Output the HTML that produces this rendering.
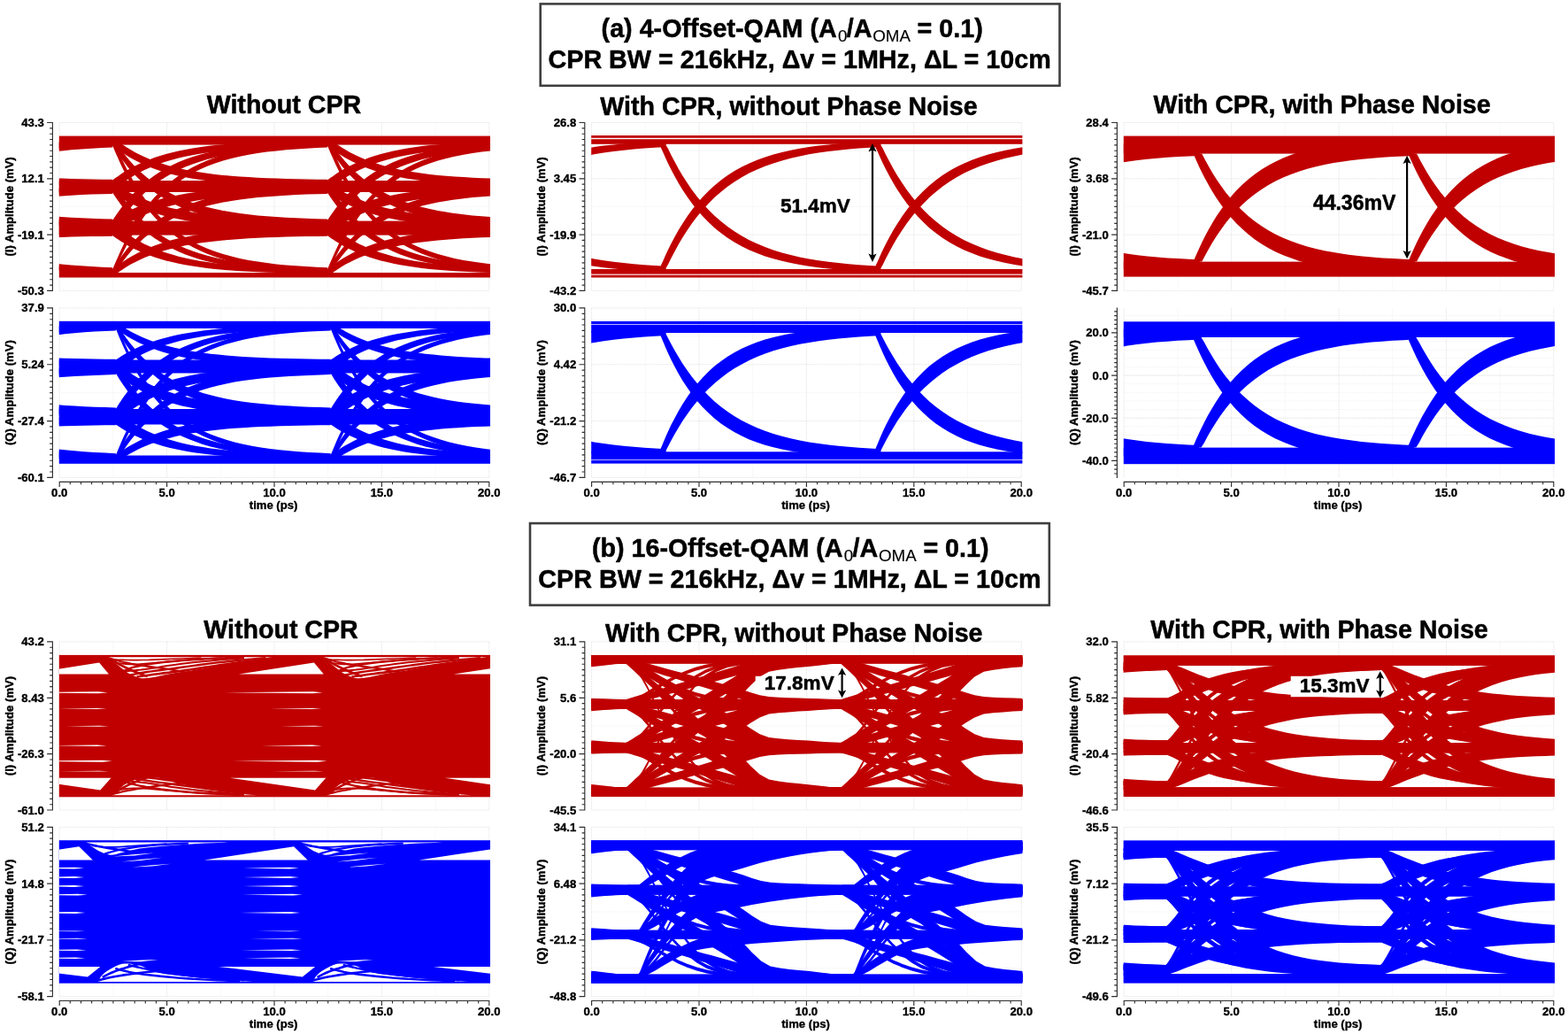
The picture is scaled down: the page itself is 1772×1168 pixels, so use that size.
<!DOCTYPE html>
<html><head><meta charset="utf-8"><title>Eye diagrams</title>
<style>html,body{margin:0;padding:0;background:#fff}svg{display:block}text{font-family:'Liberation Sans', Arial, Helvetica, sans-serif;font-weight:bold;fill:#000;stroke:#000;stroke-width:.36px;stroke-linejoin:round}.t{stroke-width:.5px}.s{stroke-width:.15px}.r{stroke-width:.45px}</style></head>
<body><svg width="1772" height="1168" viewBox="0 0 1772 1168"><rect width="1772" height="1168" fill="#fff"/><path d="M127.9 138.5V328.4M249.3 138.5V328.4M370.7 138.5V328.4M492.1 138.5V328.4M67.2 170.2H552.8M67.2 233.4H552.8M67.2 296.8H552.8" fill="none" stroke="#f0f0f0" stroke-width="1" stroke-dasharray="1 1"/><path d="M67.2 138.5V328.4M188.6 138.5V328.4M310 138.5V328.4M431.4 138.5V328.4M552.8 138.5V328.4M67.2 138.5H552.8M67.2 201.8H552.8M67.2 265.1H552.8M67.2 328.4H552.8" fill="none" stroke="#e0e0e0" stroke-width="1" stroke-dasharray="1 1"/><clipPath id="cp0aI"><rect x="66.8" y="134.5" width="487.2" height="197.9"/></clipPath><g clip-path="url(#cp0aI)" fill="#c00000"><rect x="42.9" y="153.6" width="534.2" height="10"/><rect x="42.9" y="204" width="534.2" height="13"/><rect x="42.9" y="249.6" width="534.2" height="16"/><rect x="42.9" y="308" width="534.2" height="5.5"/><path d="M-115.6 154.7L-115 155.2L-113.7 156.3L-111.7 157.8L-109.2 159.7L-106.3 161.9L-102.9 164.3L-99.1 166.8L-94.9 169.3L-90.3 171.9L-85.3 174.5L-80 177.1L-74.3 179.5L-68.3 181.9L-61.9 184.1L-55.2 186.2L-48.2 188.2L-40.9 190L-33.3 191.7L-25.3 193.2L-17.1 194.6L-8.6 195.8L0.2 196.9L9.3 197.9L18.7 198.7L28.3 199.5L38.3 200.1L48.5 200.7L58.9 201.2L69.6 201.6L80.6 201.9L91.9 202.2L103.4 202.5L115.2 202.7L127.2 202.8L127.2 211.1L115.2 211L103.4 210.8L91.9 210.5L80.6 210.2L69.6 209.9L58.9 209.5L48.5 209L38.3 208.5L28.3 207.8L18.7 207.1L9.3 206.3L0.2 205.3L-8.6 204.3L-17.1 203.1L-25.3 201.8L-33.3 200.3L-40.9 198.7L-48.2 196.9L-55.2 195L-61.9 192.9L-68.3 190.7L-74.3 188.4L-80 186L-85.3 183.5L-90.3 181L-94.9 178.5L-99.1 176L-102.9 173.6L-106.3 171.3L-109.2 169.1L-111.7 167.3L-113.7 165.8L-115 164.7L-115.6 164.2Z"/><path d="M127.2 154.7L127.8 155.2L129.1 156.3L131.1 157.8L133.6 159.7L136.5 161.9L139.9 164.3L143.7 166.8L147.9 169.3L152.5 171.9L157.5 174.5L162.8 177.1L168.5 179.5L174.5 181.9L180.9 184.1L187.6 186.2L194.6 188.2L201.9 190L209.5 191.7L217.5 193.2L225.7 194.6L234.2 195.8L243 196.9L252.1 197.9L261.5 198.7L271.1 199.5L281.1 200.1L291.3 200.7L301.7 201.2L312.4 201.6L323.4 201.9L334.7 202.2L346.2 202.5L358 202.7L370 202.8L370 211.1L358 211L346.2 210.8L334.7 210.5L323.4 210.2L312.4 209.9L301.7 209.5L291.3 209L281.1 208.5L271.1 207.8L261.5 207.1L252.1 206.3L243 205.3L234.2 204.3L225.7 203.1L217.5 201.8L209.5 200.3L201.9 198.7L194.6 196.9L187.6 195L180.9 192.9L174.5 190.7L168.5 188.4L162.8 186L157.5 183.5L152.5 181L147.9 178.5L143.7 176L139.9 173.6L136.5 171.3L133.6 169.1L131.1 167.3L129.1 165.8L127.8 164.7L127.2 164.2Z"/><path d="M370 154.7L370.6 155.2L371.9 156.3L373.9 157.8L376.4 159.7L379.3 161.9L382.7 164.3L386.5 166.8L390.7 169.3L395.3 171.9L400.3 174.5L405.6 177.1L411.3 179.5L417.3 181.9L423.7 184.1L430.4 186.2L437.4 188.2L444.7 190L452.3 191.7L460.3 193.2L468.5 194.6L477 195.8L485.8 196.9L494.9 197.9L504.3 198.7L513.9 199.5L523.9 200.1L534.1 200.7L544.5 201.2L555.2 201.6L566.2 201.9L577.5 202.2L589 202.5L600.8 202.7L612.8 202.8L612.8 211.1L600.8 211L589 210.8L577.5 210.5L566.2 210.2L555.2 209.9L544.5 209.5L534.1 209L523.9 208.5L513.9 207.8L504.3 207.1L494.9 206.3L485.8 205.3L477 204.3L468.5 203.1L460.3 201.8L452.3 200.3L444.7 198.7L437.4 196.9L430.4 195L423.7 192.9L417.3 190.7L411.3 188.4L405.6 186L400.3 183.5L395.3 181L390.7 178.5L386.5 176L382.7 173.6L379.3 171.3L376.4 169.1L373.9 167.3L371.9 165.8L370.6 164.7L370 164.2Z"/><path d="M-115.6 154.7L-115 155.6L-113.7 157.8L-111.7 160.8L-109.2 164.5L-106.3 168.6L-102.9 173.2L-99.1 178L-94.9 182.9L-90.3 187.9L-85.3 192.9L-80 197.8L-74.3 202.6L-68.3 207.1L-61.9 211.5L-55.2 215.5L-48.2 219.3L-40.9 222.8L-33.3 226L-25.3 229L-17.1 231.6L-8.6 234L0.2 236.1L9.3 237.9L18.7 239.6L28.3 241L38.3 242.3L48.5 243.4L58.9 244.3L69.6 245.1L80.6 245.7L91.9 246.3L103.4 246.8L115.2 247.2L127.2 247.5L127.2 257.7L115.2 257.4L103.4 257L91.9 256.5L80.6 255.9L69.6 255.2L58.9 254.4L48.5 253.5L38.3 252.4L28.3 251.2L18.7 249.7L9.3 248.1L0.2 246.2L-8.6 244.1L-17.1 241.7L-25.3 239L-33.3 236.1L-40.9 232.9L-48.2 229.3L-55.2 225.5L-61.9 221.4L-68.3 217.1L-74.3 212.5L-80 207.7L-85.3 202.7L-90.3 197.7L-94.9 192.7L-99.1 187.7L-102.9 182.8L-106.3 178.3L-109.2 174.1L-111.7 170.4L-113.7 167.4L-115 165.2L-115.6 164.2Z"/><path d="M127.2 154.7L127.8 155.6L129.1 157.8L131.1 160.8L133.6 164.5L136.5 168.6L139.9 173.2L143.7 178L147.9 182.9L152.5 187.9L157.5 192.9L162.8 197.8L168.5 202.6L174.5 207.1L180.9 211.5L187.6 215.5L194.6 219.3L201.9 222.8L209.5 226L217.5 229L225.7 231.6L234.2 234L243 236.1L252.1 237.9L261.5 239.6L271.1 241L281.1 242.3L291.3 243.4L301.7 244.3L312.4 245.1L323.4 245.7L334.7 246.3L346.2 246.8L358 247.2L370 247.5L370 257.7L358 257.4L346.2 257L334.7 256.5L323.4 255.9L312.4 255.2L301.7 254.4L291.3 253.5L281.1 252.4L271.1 251.2L261.5 249.7L252.1 248.1L243 246.2L234.2 244.1L225.7 241.7L217.5 239L209.5 236.1L201.9 232.9L194.6 229.3L187.6 225.5L180.9 221.4L174.5 217.1L168.5 212.5L162.8 207.7L157.5 202.7L152.5 197.7L147.9 192.7L143.7 187.7L139.9 182.8L136.5 178.3L133.6 174.1L131.1 170.4L129.1 167.4L127.8 165.2L127.2 164.2Z"/><path d="M370 154.7L370.6 155.6L371.9 157.8L373.9 160.8L376.4 164.5L379.3 168.6L382.7 173.2L386.5 178L390.7 182.9L395.3 187.9L400.3 192.9L405.6 197.8L411.3 202.6L417.3 207.1L423.7 211.5L430.4 215.5L437.4 219.3L444.7 222.8L452.3 226L460.3 229L468.5 231.6L477 234L485.8 236.1L494.9 237.9L504.3 239.6L513.9 241L523.9 242.3L534.1 243.4L544.5 244.3L555.2 245.1L566.2 245.7L577.5 246.3L589 246.8L600.8 247.2L612.8 247.5L612.8 257.7L600.8 257.4L589 257L577.5 256.5L566.2 255.9L555.2 255.2L544.5 254.4L534.1 253.5L523.9 252.4L513.9 251.2L504.3 249.7L494.9 248.1L485.8 246.2L477 244.1L468.5 241.7L460.3 239L452.3 236.1L444.7 232.9L437.4 229.3L430.4 225.5L423.7 221.4L417.3 217.1L411.3 212.5L405.6 207.7L400.3 202.7L395.3 197.7L390.7 192.7L386.5 187.7L382.7 182.8L379.3 178.3L376.4 174.1L373.9 170.4L371.9 167.4L370.6 165.2L370 164.2Z"/><path d="M-115.6 154.7L-115 156.2L-113.7 159.6L-111.7 164.4L-109.2 170.2L-106.3 176.8L-102.9 184.1L-99.1 191.7L-94.9 199.6L-90.3 207.5L-85.3 215.5L-80 223.3L-74.3 230.8L-68.3 238.1L-61.9 245L-55.2 251.4L-48.2 257.4L-40.9 263L-33.3 268.1L-25.3 272.8L-17.1 276.9L-8.6 280.7L0.2 284.1L9.3 287L18.7 289.6L28.3 291.9L38.3 293.9L48.5 295.6L58.9 297.1L69.6 298.4L80.6 299.4L91.9 300.3L103.4 301.1L115.2 301.7L127.2 302.3L127.2 307.7L115.2 307.2L103.4 306.5L91.9 305.8L80.6 304.9L69.6 303.9L58.9 302.6L48.5 301.2L38.3 299.5L28.3 297.6L18.7 295.4L9.3 292.9L0.2 290L-8.6 286.7L-17.1 283.1L-25.3 279L-33.3 274.5L-40.9 269.5L-48.2 264.1L-55.2 258.3L-61.9 252L-68.3 245.3L-74.3 238.2L-80 230.9L-85.3 223.3L-90.3 215.6L-94.9 207.9L-99.1 200.2L-102.9 192.8L-106.3 185.8L-109.2 179.3L-111.7 173.7L-113.7 169L-115 165.7L-115.6 164.2Z"/><path d="M127.2 154.7L127.8 156.2L129.1 159.6L131.1 164.4L133.6 170.2L136.5 176.8L139.9 184.1L143.7 191.7L147.9 199.6L152.5 207.5L157.5 215.5L162.8 223.3L168.5 230.8L174.5 238.1L180.9 245L187.6 251.4L194.6 257.4L201.9 263L209.5 268.1L217.5 272.8L225.7 276.9L234.2 280.7L243 284.1L252.1 287L261.5 289.6L271.1 291.9L281.1 293.9L291.3 295.6L301.7 297.1L312.4 298.4L323.4 299.4L334.7 300.3L346.2 301.1L358 301.7L370 302.3L370 307.7L358 307.2L346.2 306.5L334.7 305.8L323.4 304.9L312.4 303.9L301.7 302.6L291.3 301.2L281.1 299.5L271.1 297.6L261.5 295.4L252.1 292.9L243 290L234.2 286.7L225.7 283.1L217.5 279L209.5 274.5L201.9 269.5L194.6 264.1L187.6 258.3L180.9 252L174.5 245.3L168.5 238.2L162.8 230.9L157.5 223.3L152.5 215.6L147.9 207.9L143.7 200.2L139.9 192.8L136.5 185.8L133.6 179.3L131.1 173.7L129.1 169L127.8 165.7L127.2 164.2Z"/><path d="M370 154.7L370.6 156.2L371.9 159.6L373.9 164.4L376.4 170.2L379.3 176.8L382.7 184.1L386.5 191.7L390.7 199.6L395.3 207.5L400.3 215.5L405.6 223.3L411.3 230.8L417.3 238.1L423.7 245L430.4 251.4L437.4 257.4L444.7 263L452.3 268.1L460.3 272.8L468.5 276.9L477 280.7L485.8 284.1L494.9 287L504.3 289.6L513.9 291.9L523.9 293.9L534.1 295.6L544.5 297.1L555.2 298.4L566.2 299.4L577.5 300.3L589 301.1L600.8 301.7L612.8 302.3L612.8 307.7L600.8 307.2L589 306.5L577.5 305.8L566.2 304.9L555.2 303.9L544.5 302.6L534.1 301.2L523.9 299.5L513.9 297.6L504.3 295.4L494.9 292.9L485.8 290L477 286.7L468.5 283.1L460.3 279L452.3 274.5L444.7 269.5L437.4 264.1L430.4 258.3L423.7 252L417.3 245.3L411.3 238.2L405.6 230.9L400.3 223.3L395.3 215.6L390.7 207.9L386.5 200.2L382.7 192.8L379.3 185.8L376.4 179.3L373.9 173.7L371.9 169L370.6 165.7L370 164.2Z"/><path d="M-115.6 203.6L-115 203.1L-113.7 202.1L-111.7 200.6L-109.2 198.9L-106.3 196.8L-102.9 194.6L-99.1 192.3L-94.9 189.9L-90.3 187.5L-85.3 185L-80 182.7L-74.3 180.4L-68.3 178.1L-61.9 176L-55.2 174.1L-48.2 172.2L-40.9 170.5L-33.3 169L-25.3 167.6L-17.1 166.3L-8.6 165.1L0.2 164.1L9.3 163.2L18.7 162.4L28.3 161.7L38.3 161.1L48.5 160.6L58.9 160.1L69.6 159.7L80.6 159.4L91.9 159.1L103.4 158.9L115.2 158.7L127.2 158.5L127.2 165L115.2 165.2L103.4 165.4L91.9 165.7L80.6 166L69.6 166.4L58.9 166.8L48.5 167.3L38.3 167.9L28.3 168.6L18.7 169.4L9.3 170.3L0.2 171.3L-8.6 172.5L-17.1 173.8L-25.3 175.2L-33.3 176.8L-40.9 178.6L-48.2 180.5L-55.2 182.6L-61.9 184.8L-68.3 187.2L-74.3 189.7L-80 192.3L-85.3 195L-90.3 197.7L-94.9 200.5L-99.1 203.2L-102.9 205.9L-106.3 208.4L-109.2 210.6L-111.7 212.7L-113.7 214.3L-115 215.5L-115.6 216Z"/><path d="M127.2 203.6L127.8 203.1L129.1 202.1L131.1 200.6L133.6 198.9L136.5 196.8L139.9 194.6L143.7 192.3L147.9 189.9L152.5 187.5L157.5 185L162.8 182.7L168.5 180.4L174.5 178.1L180.9 176L187.6 174.1L194.6 172.2L201.9 170.5L209.5 169L217.5 167.6L225.7 166.3L234.2 165.1L243 164.1L252.1 163.2L261.5 162.4L271.1 161.7L281.1 161.1L291.3 160.6L301.7 160.1L312.4 159.7L323.4 159.4L334.7 159.1L346.2 158.9L358 158.7L370 158.5L370 165L358 165.2L346.2 165.4L334.7 165.7L323.4 166L312.4 166.4L301.7 166.8L291.3 167.3L281.1 167.9L271.1 168.6L261.5 169.4L252.1 170.3L243 171.3L234.2 172.5L225.7 173.8L217.5 175.2L209.5 176.8L201.9 178.6L194.6 180.5L187.6 182.6L180.9 184.8L174.5 187.2L168.5 189.7L162.8 192.3L157.5 195L152.5 197.7L147.9 200.5L143.7 203.2L139.9 205.9L136.5 208.4L133.6 210.6L131.1 212.7L129.1 214.3L127.8 215.5L127.2 216Z"/><path d="M370 203.6L370.6 203.1L371.9 202.1L373.9 200.6L376.4 198.9L379.3 196.8L382.7 194.6L386.5 192.3L390.7 189.9L395.3 187.5L400.3 185L405.6 182.7L411.3 180.4L417.3 178.1L423.7 176L430.4 174.1L437.4 172.2L444.7 170.5L452.3 169L460.3 167.6L468.5 166.3L477 165.1L485.8 164.1L494.9 163.2L504.3 162.4L513.9 161.7L523.9 161.1L534.1 160.6L544.5 160.1L555.2 159.7L566.2 159.4L577.5 159.1L589 158.9L600.8 158.7L612.8 158.5L612.8 165L600.8 165.2L589 165.4L577.5 165.7L566.2 166L555.2 166.4L544.5 166.8L534.1 167.3L523.9 167.9L513.9 168.6L504.3 169.4L494.9 170.3L485.8 171.3L477 172.5L468.5 173.8L460.3 175.2L452.3 176.8L444.7 178.6L437.4 180.5L430.4 182.6L423.7 184.8L417.3 187.2L411.3 189.7L405.6 192.3L400.3 195L395.3 197.7L390.7 200.5L386.5 203.2L382.7 205.9L379.3 208.4L376.4 210.6L373.9 212.7L371.9 214.3L370.6 215.5L370 216Z"/><path d="M-115.6 205L-115 205.4L-113.7 206.4L-111.7 207.8L-109.2 209.5L-106.3 211.5L-102.9 213.6L-99.1 215.9L-94.9 218.2L-90.3 220.5L-85.3 222.8L-80 225.1L-74.3 227.3L-68.3 229.5L-61.9 231.5L-55.2 233.4L-48.2 235.2L-40.9 236.8L-33.3 238.3L-25.3 239.7L-17.1 240.9L-8.6 242L0.2 243L9.3 243.8L18.7 244.6L28.3 245.3L38.3 245.9L48.5 246.4L58.9 246.8L69.6 247.2L80.6 247.5L91.9 247.7L103.4 248L115.2 248.2L127.2 248.3L127.2 258.6L115.2 258.4L103.4 258.2L91.9 258L80.6 257.8L69.6 257.5L58.9 257.1L48.5 256.7L38.3 256.2L28.3 255.7L18.7 255L9.3 254.3L0.2 253.5L-8.6 252.5L-17.1 251.5L-25.3 250.3L-33.3 249L-40.9 247.6L-48.2 246.1L-55.2 244.4L-61.9 242.6L-68.3 240.7L-74.3 238.6L-80 236.5L-85.3 234.4L-90.3 232.1L-94.9 229.9L-99.1 227.7L-102.9 225.6L-106.3 223.6L-109.2 221.7L-111.7 220.1L-113.7 218.8L-115 217.8L-115.6 217.4Z"/><path d="M127.2 205L127.8 205.4L129.1 206.4L131.1 207.8L133.6 209.5L136.5 211.5L139.9 213.6L143.7 215.9L147.9 218.2L152.5 220.5L157.5 222.8L162.8 225.1L168.5 227.3L174.5 229.5L180.9 231.5L187.6 233.4L194.6 235.2L201.9 236.8L209.5 238.3L217.5 239.7L225.7 240.9L234.2 242L243 243L252.1 243.8L261.5 244.6L271.1 245.3L281.1 245.9L291.3 246.4L301.7 246.8L312.4 247.2L323.4 247.5L334.7 247.7L346.2 248L358 248.2L370 248.3L370 258.6L358 258.4L346.2 258.2L334.7 258L323.4 257.8L312.4 257.5L301.7 257.1L291.3 256.7L281.1 256.2L271.1 255.7L261.5 255L252.1 254.3L243 253.5L234.2 252.5L225.7 251.5L217.5 250.3L209.5 249L201.9 247.6L194.6 246.1L187.6 244.4L180.9 242.6L174.5 240.7L168.5 238.6L162.8 236.5L157.5 234.4L152.5 232.1L147.9 229.9L143.7 227.7L139.9 225.6L136.5 223.6L133.6 221.7L131.1 220.1L129.1 218.8L127.8 217.8L127.2 217.4Z"/><path d="M370 205L370.6 205.4L371.9 206.4L373.9 207.8L376.4 209.5L379.3 211.5L382.7 213.6L386.5 215.9L390.7 218.2L395.3 220.5L400.3 222.8L405.6 225.1L411.3 227.3L417.3 229.5L423.7 231.5L430.4 233.4L437.4 235.2L444.7 236.8L452.3 238.3L460.3 239.7L468.5 240.9L477 242L485.8 243L494.9 243.8L504.3 244.6L513.9 245.3L523.9 245.9L534.1 246.4L544.5 246.8L555.2 247.2L566.2 247.5L577.5 247.7L589 248L600.8 248.2L612.8 248.3L612.8 258.6L600.8 258.4L589 258.2L577.5 258L566.2 257.8L555.2 257.5L544.5 257.1L534.1 256.7L523.9 256.2L513.9 255.7L504.3 255L494.9 254.3L485.8 253.5L477 252.5L468.5 251.5L460.3 250.3L452.3 249L444.7 247.6L437.4 246.1L430.4 244.4L423.7 242.6L417.3 240.7L411.3 238.6L405.6 236.5L400.3 234.4L395.3 232.1L390.7 229.9L386.5 227.7L382.7 225.6L379.3 223.6L376.4 221.7L373.9 220.1L371.9 218.8L370.6 217.8L370 217.4Z"/><path d="M-115.6 205L-115 206L-113.7 208.3L-111.7 211.5L-109.2 215.3L-106.3 219.7L-102.9 224.5L-99.1 229.6L-94.9 234.8L-90.3 240.1L-85.3 245.4L-80 250.6L-74.3 255.6L-68.3 260.4L-61.9 265L-55.2 269.3L-48.2 273.3L-40.9 277L-33.3 280.4L-25.3 283.4L-17.1 286.2L-8.6 288.7L0.2 291L9.3 292.9L18.7 294.7L28.3 296.2L38.3 297.5L48.5 298.6L58.9 299.6L69.6 300.5L80.6 301.2L91.9 301.8L103.4 302.3L115.2 302.7L127.2 303.1L127.2 308.5L115.2 308.2L103.4 307.8L91.9 307.3L80.6 306.8L69.6 306.1L58.9 305.3L48.5 304.4L38.3 303.3L28.3 302.1L18.7 300.7L9.3 299.1L0.2 297.3L-8.6 295.2L-17.1 292.9L-25.3 290.3L-33.3 287.4L-40.9 284.3L-48.2 280.8L-55.2 277.1L-61.9 273.1L-68.3 268.9L-74.3 264.4L-80 259.8L-85.3 254.9L-90.3 250L-94.9 245.1L-99.1 240.3L-102.9 235.6L-106.3 231.1L-109.2 227L-111.7 223.4L-113.7 220.5L-115 218.4L-115.6 217.4Z"/><path d="M127.2 205L127.8 206L129.1 208.3L131.1 211.5L133.6 215.3L136.5 219.7L139.9 224.5L143.7 229.6L147.9 234.8L152.5 240.1L157.5 245.4L162.8 250.6L168.5 255.6L174.5 260.4L180.9 265L187.6 269.3L194.6 273.3L201.9 277L209.5 280.4L217.5 283.4L225.7 286.2L234.2 288.7L243 291L252.1 292.9L261.5 294.7L271.1 296.2L281.1 297.5L291.3 298.6L301.7 299.6L312.4 300.5L323.4 301.2L334.7 301.8L346.2 302.3L358 302.7L370 303.1L370 308.5L358 308.2L346.2 307.8L334.7 307.3L323.4 306.8L312.4 306.1L301.7 305.3L291.3 304.4L281.1 303.3L271.1 302.1L261.5 300.7L252.1 299.1L243 297.3L234.2 295.2L225.7 292.9L217.5 290.3L209.5 287.4L201.9 284.3L194.6 280.8L187.6 277.1L180.9 273.1L174.5 268.9L168.5 264.4L162.8 259.8L157.5 254.9L152.5 250L147.9 245.1L143.7 240.3L139.9 235.6L136.5 231.1L133.6 227L131.1 223.4L129.1 220.5L127.8 218.4L127.2 217.4Z"/><path d="M370 205L370.6 206L371.9 208.3L373.9 211.5L376.4 215.3L379.3 219.7L382.7 224.5L386.5 229.6L390.7 234.8L395.3 240.1L400.3 245.4L405.6 250.6L411.3 255.6L417.3 260.4L423.7 265L430.4 269.3L437.4 273.3L444.7 277L452.3 280.4L460.3 283.4L468.5 286.2L477 288.7L485.8 291L494.9 292.9L504.3 294.7L513.9 296.2L523.9 297.5L534.1 298.6L544.5 299.6L555.2 300.5L566.2 301.2L577.5 301.8L589 302.3L600.8 302.7L612.8 303.1L612.8 308.5L600.8 308.2L589 307.8L577.5 307.3L566.2 306.8L555.2 306.1L544.5 305.3L534.1 304.4L523.9 303.3L513.9 302.1L504.3 300.7L494.9 299.1L485.8 297.3L477 295.2L468.5 292.9L460.3 290.3L452.3 287.4L444.7 284.3L437.4 280.8L430.4 277.1L423.7 273.1L417.3 268.9L411.3 264.4L405.6 259.8L400.3 254.9L395.3 250L390.7 245.1L386.5 240.3L382.7 235.6L379.3 231.1L376.4 227L373.9 223.4L371.9 220.5L370.6 218.4L370 217.4Z"/><path d="M-115.6 249L-115 248.1L-113.7 246L-111.7 243.1L-109.2 239.5L-106.3 235.5L-102.9 231.1L-99.1 226.5L-94.9 221.7L-90.3 216.8L-85.3 212L-80 207.3L-74.3 202.7L-68.3 198.3L-61.9 194.1L-55.2 190.2L-48.2 186.5L-40.9 183.1L-33.3 180L-25.3 177.2L-17.1 174.7L-8.6 172.4L0.2 170.3L9.3 168.5L18.7 166.9L28.3 165.5L38.3 164.3L48.5 163.3L58.9 162.4L69.6 161.6L80.6 161L91.9 160.4L103.4 160L115.2 159.6L127.2 159.3L127.2 165.8L115.2 166.1L103.4 166.5L91.9 167L80.6 167.6L69.6 168.4L58.9 169.2L48.5 170.2L38.3 171.3L28.3 172.7L18.7 174.2L9.3 175.9L0.2 177.9L-8.6 180.1L-17.1 182.7L-25.3 185.5L-33.3 188.6L-40.9 192L-48.2 195.7L-55.2 199.7L-61.9 204L-68.3 208.6L-74.3 213.4L-80 218.5L-85.3 223.7L-90.3 229L-94.9 234.3L-99.1 239.6L-102.9 244.7L-106.3 249.5L-109.2 253.9L-111.7 257.8L-113.7 261L-115 263.3L-115.6 264.3Z"/><path d="M127.2 249L127.8 248.1L129.1 246L131.1 243.1L133.6 239.5L136.5 235.5L139.9 231.1L143.7 226.5L147.9 221.7L152.5 216.8L157.5 212L162.8 207.3L168.5 202.7L174.5 198.3L180.9 194.1L187.6 190.2L194.6 186.5L201.9 183.1L209.5 180L217.5 177.2L225.7 174.7L234.2 172.4L243 170.3L252.1 168.5L261.5 166.9L271.1 165.5L281.1 164.3L291.3 163.3L301.7 162.4L312.4 161.6L323.4 161L334.7 160.4L346.2 160L358 159.6L370 159.3L370 165.8L358 166.1L346.2 166.5L334.7 167L323.4 167.6L312.4 168.4L301.7 169.2L291.3 170.2L281.1 171.3L271.1 172.7L261.5 174.2L252.1 175.9L243 177.9L234.2 180.1L225.7 182.7L217.5 185.5L209.5 188.6L201.9 192L194.6 195.7L187.6 199.7L180.9 204L174.5 208.6L168.5 213.4L162.8 218.5L157.5 223.7L152.5 229L147.9 234.3L143.7 239.6L139.9 244.7L136.5 249.5L133.6 253.9L131.1 257.8L129.1 261L127.8 263.3L127.2 264.3Z"/><path d="M370 249L370.6 248.1L371.9 246L373.9 243.1L376.4 239.5L379.3 235.5L382.7 231.1L386.5 226.5L390.7 221.7L395.3 216.8L400.3 212L405.6 207.3L411.3 202.7L417.3 198.3L423.7 194.1L430.4 190.2L437.4 186.5L444.7 183.1L452.3 180L460.3 177.2L468.5 174.7L477 172.4L485.8 170.3L494.9 168.5L504.3 166.9L513.9 165.5L523.9 164.3L534.1 163.3L544.5 162.4L555.2 161.6L566.2 161L577.5 160.4L589 160L600.8 159.6L612.8 159.3L612.8 165.8L600.8 166.1L589 166.5L577.5 167L566.2 167.6L555.2 168.4L544.5 169.2L534.1 170.2L523.9 171.3L513.9 172.7L504.3 174.2L494.9 175.9L485.8 177.9L477 180.1L468.5 182.7L460.3 185.5L452.3 188.6L444.7 192L437.4 195.7L430.4 199.7L423.7 204L417.3 208.6L411.3 213.4L405.6 218.5L400.3 223.7L395.3 229L390.7 234.3L386.5 239.6L382.7 244.7L379.3 249.5L376.4 253.9L373.9 257.8L371.9 261L370.6 263.3L370 264.3Z"/><path d="M-115.6 249L-115 248.6L-113.7 247.7L-111.7 246.4L-109.2 244.9L-106.3 243.1L-102.9 241.2L-99.1 239.1L-94.9 237.1L-90.3 234.9L-85.3 232.8L-80 230.7L-74.3 228.7L-68.3 226.8L-61.9 225L-55.2 223.3L-48.2 221.7L-40.9 220.2L-33.3 218.8L-25.3 217.6L-17.1 216.5L-8.6 215.5L0.2 214.6L9.3 213.8L18.7 213.1L28.3 212.5L38.3 212L48.5 211.5L58.9 211.1L69.6 210.8L80.6 210.5L91.9 210.3L103.4 210L115.2 209.9L127.2 209.7L127.2 218.1L115.2 218.3L103.4 218.5L91.9 218.7L80.6 219L69.6 219.4L58.9 219.7L48.5 220.2L38.3 220.7L28.3 221.4L18.7 222.1L9.3 222.9L0.2 223.8L-8.6 224.9L-17.1 226L-25.3 227.4L-33.3 228.8L-40.9 230.4L-48.2 232.1L-55.2 234L-61.9 236.1L-68.3 238.2L-74.3 240.5L-80 242.8L-85.3 245.3L-90.3 247.8L-94.9 250.3L-99.1 252.7L-102.9 255.1L-106.3 257.4L-109.2 259.4L-111.7 261.3L-113.7 262.7L-115 263.8L-115.6 264.3Z"/><path d="M127.2 249L127.8 248.6L129.1 247.7L131.1 246.4L133.6 244.9L136.5 243.1L139.9 241.2L143.7 239.1L147.9 237.1L152.5 234.9L157.5 232.8L162.8 230.7L168.5 228.7L174.5 226.8L180.9 225L187.6 223.3L194.6 221.7L201.9 220.2L209.5 218.8L217.5 217.6L225.7 216.5L234.2 215.5L243 214.6L252.1 213.8L261.5 213.1L271.1 212.5L281.1 212L291.3 211.5L301.7 211.1L312.4 210.8L323.4 210.5L334.7 210.3L346.2 210L358 209.9L370 209.7L370 218.1L358 218.3L346.2 218.5L334.7 218.7L323.4 219L312.4 219.4L301.7 219.7L291.3 220.2L281.1 220.7L271.1 221.4L261.5 222.1L252.1 222.9L243 223.8L234.2 224.9L225.7 226L217.5 227.4L209.5 228.8L201.9 230.4L194.6 232.1L187.6 234L180.9 236.1L174.5 238.2L168.5 240.5L162.8 242.8L157.5 245.3L152.5 247.8L147.9 250.3L143.7 252.7L139.9 255.1L136.5 257.4L133.6 259.4L131.1 261.3L129.1 262.7L127.8 263.8L127.2 264.3Z"/><path d="M370 249L370.6 248.6L371.9 247.7L373.9 246.4L376.4 244.9L379.3 243.1L382.7 241.2L386.5 239.1L390.7 237.1L395.3 234.9L400.3 232.8L405.6 230.7L411.3 228.7L417.3 226.8L423.7 225L430.4 223.3L437.4 221.7L444.7 220.2L452.3 218.8L460.3 217.6L468.5 216.5L477 215.5L485.8 214.6L494.9 213.8L504.3 213.1L513.9 212.5L523.9 212L534.1 211.5L544.5 211.1L555.2 210.8L566.2 210.5L577.5 210.3L589 210L600.8 209.9L612.8 209.7L612.8 218.1L600.8 218.3L589 218.5L577.5 218.7L566.2 219L555.2 219.4L544.5 219.7L534.1 220.2L523.9 220.7L513.9 221.4L504.3 222.1L494.9 222.9L485.8 223.8L477 224.9L468.5 226L460.3 227.4L452.3 228.8L444.7 230.4L437.4 232.1L430.4 234L423.7 236.1L417.3 238.2L411.3 240.5L405.6 242.8L400.3 245.3L395.3 247.8L390.7 250.3L386.5 252.7L382.7 255.1L379.3 257.4L376.4 259.4L373.9 261.3L371.9 262.7L370.6 263.8L370 264.3Z"/><path d="M-115.6 250.7L-115 251.3L-113.7 252.5L-111.7 254.2L-109.2 256.3L-106.3 258.7L-102.9 261.3L-99.1 264L-94.9 266.8L-90.3 269.7L-85.3 272.6L-80 275.4L-74.3 278.1L-68.3 280.7L-61.9 283.2L-55.2 285.5L-48.2 287.6L-40.9 289.7L-33.3 291.5L-25.3 293.2L-17.1 294.7L-8.6 296L0.2 297.2L9.3 298.3L18.7 299.2L28.3 300L38.3 300.8L48.5 301.4L58.9 301.9L69.6 302.4L80.6 302.7L91.9 303.1L103.4 303.3L115.2 303.6L127.2 303.8L127.2 309.3L115.2 309.1L103.4 308.9L91.9 308.7L80.6 308.4L69.6 308.1L58.9 307.7L48.5 307.3L38.3 306.8L28.3 306.2L18.7 305.6L9.3 304.8L0.2 303.9L-8.6 302.9L-17.1 301.8L-25.3 300.6L-33.3 299.2L-40.9 297.8L-48.2 296.1L-55.2 294.4L-61.9 292.5L-68.3 290.4L-74.3 288.3L-80 286.1L-85.3 283.8L-90.3 281.5L-94.9 279.2L-99.1 276.9L-102.9 274.6L-106.3 272.5L-109.2 270.6L-111.7 268.9L-113.7 267.5L-115 266.5L-115.6 266Z"/><path d="M127.2 250.7L127.8 251.3L129.1 252.5L131.1 254.2L133.6 256.3L136.5 258.7L139.9 261.3L143.7 264L147.9 266.8L152.5 269.7L157.5 272.6L162.8 275.4L168.5 278.1L174.5 280.7L180.9 283.2L187.6 285.5L194.6 287.6L201.9 289.7L209.5 291.5L217.5 293.2L225.7 294.7L234.2 296L243 297.2L252.1 298.3L261.5 299.2L271.1 300L281.1 300.8L291.3 301.4L301.7 301.9L312.4 302.4L323.4 302.7L334.7 303.1L346.2 303.3L358 303.6L370 303.8L370 309.3L358 309.1L346.2 308.9L334.7 308.7L323.4 308.4L312.4 308.1L301.7 307.7L291.3 307.3L281.1 306.8L271.1 306.2L261.5 305.6L252.1 304.8L243 303.9L234.2 302.9L225.7 301.8L217.5 300.6L209.5 299.2L201.9 297.8L194.6 296.1L187.6 294.4L180.9 292.5L174.5 290.4L168.5 288.3L162.8 286.1L157.5 283.8L152.5 281.5L147.9 279.2L143.7 276.9L139.9 274.6L136.5 272.5L133.6 270.6L131.1 268.9L129.1 267.5L127.8 266.5L127.2 266Z"/><path d="M370 250.7L370.6 251.3L371.9 252.5L373.9 254.2L376.4 256.3L379.3 258.7L382.7 261.3L386.5 264L390.7 266.8L395.3 269.7L400.3 272.6L405.6 275.4L411.3 278.1L417.3 280.7L423.7 283.2L430.4 285.5L437.4 287.6L444.7 289.7L452.3 291.5L460.3 293.2L468.5 294.7L477 296L485.8 297.2L494.9 298.3L504.3 299.2L513.9 300L523.9 300.8L534.1 301.4L544.5 301.9L555.2 302.4L566.2 302.7L577.5 303.1L589 303.3L600.8 303.6L612.8 303.8L612.8 309.3L600.8 309.1L589 308.9L577.5 308.7L566.2 308.4L555.2 308.1L544.5 307.7L534.1 307.3L523.9 306.8L513.9 306.2L504.3 305.6L494.9 304.8L485.8 303.9L477 302.9L468.5 301.8L460.3 300.6L452.3 299.2L444.7 297.8L437.4 296.1L430.4 294.4L423.7 292.5L417.3 290.4L411.3 288.3L405.6 286.1L400.3 283.8L395.3 281.5L390.7 279.2L386.5 276.9L382.7 274.6L379.3 272.5L376.4 270.6L373.9 268.9L371.9 267.5L370.6 266.5L370 266Z"/><path d="M-115.6 304.6L-115 303.1L-113.7 299.7L-111.7 295.1L-109.2 289.4L-106.3 282.9L-102.9 275.8L-99.1 268.3L-94.9 260.6L-90.3 252.8L-85.3 245.1L-80 237.4L-74.3 230L-68.3 222.9L-61.9 216.2L-55.2 209.9L-48.2 204L-40.9 198.5L-33.3 193.6L-25.3 189L-17.1 184.9L-8.6 181.2L0.2 177.9L9.3 175L18.7 172.5L28.3 170.2L38.3 168.3L48.5 166.6L58.9 165.2L69.6 163.9L80.6 162.9L91.9 162L103.4 161.3L115.2 160.6L127.2 160.1L127.2 166.5L115.2 167L103.4 167.7L91.9 168.4L80.6 169.3L69.6 170.4L58.9 171.6L48.5 173.1L38.3 174.8L28.3 176.7L18.7 179L9.3 181.6L0.2 184.5L-8.6 187.8L-17.1 191.6L-25.3 195.7L-33.3 200.3L-40.9 205.4L-48.2 210.9L-55.2 216.8L-61.9 223.2L-68.3 230L-74.3 237.2L-80 244.7L-85.3 252.4L-90.3 260.3L-94.9 268.2L-99.1 275.9L-102.9 283.5L-106.3 290.6L-109.2 297.2L-111.7 303L-113.7 307.7L-115 311.1L-115.6 312.6Z"/><path d="M127.2 304.6L127.8 303.1L129.1 299.7L131.1 295.1L133.6 289.4L136.5 282.9L139.9 275.8L143.7 268.3L147.9 260.6L152.5 252.8L157.5 245.1L162.8 237.4L168.5 230L174.5 222.9L180.9 216.2L187.6 209.9L194.6 204L201.9 198.5L209.5 193.6L217.5 189L225.7 184.9L234.2 181.2L243 177.9L252.1 175L261.5 172.5L271.1 170.2L281.1 168.3L291.3 166.6L301.7 165.2L312.4 163.9L323.4 162.9L334.7 162L346.2 161.3L358 160.6L370 160.1L370 166.5L358 167L346.2 167.7L334.7 168.4L323.4 169.3L312.4 170.4L301.7 171.6L291.3 173.1L281.1 174.8L271.1 176.7L261.5 179L252.1 181.6L243 184.5L234.2 187.8L225.7 191.6L217.5 195.7L209.5 200.3L201.9 205.4L194.6 210.9L187.6 216.8L180.9 223.2L174.5 230L168.5 237.2L162.8 244.7L157.5 252.4L152.5 260.3L147.9 268.2L143.7 275.9L139.9 283.5L136.5 290.6L133.6 297.2L131.1 303L129.1 307.7L127.8 311.1L127.2 312.6Z"/><path d="M370 304.6L370.6 303.1L371.9 299.7L373.9 295.1L376.4 289.4L379.3 282.9L382.7 275.8L386.5 268.3L390.7 260.6L395.3 252.8L400.3 245.1L405.6 237.4L411.3 230L417.3 222.9L423.7 216.2L430.4 209.9L437.4 204L444.7 198.5L452.3 193.6L460.3 189L468.5 184.9L477 181.2L485.8 177.9L494.9 175L504.3 172.5L513.9 170.2L523.9 168.3L534.1 166.6L544.5 165.2L555.2 163.9L566.2 162.9L577.5 162L589 161.3L600.8 160.6L612.8 160.1L612.8 166.5L600.8 167L589 167.7L577.5 168.4L566.2 169.3L555.2 170.4L544.5 171.6L534.1 173.1L523.9 174.8L513.9 176.7L504.3 179L494.9 181.6L485.8 184.5L477 187.8L468.5 191.6L460.3 195.7L452.3 200.3L444.7 205.4L437.4 210.9L430.4 216.8L423.7 223.2L417.3 230L411.3 237.2L405.6 244.7L400.3 252.4L395.3 260.3L390.7 268.2L386.5 275.9L382.7 283.5L379.3 290.6L376.4 297.2L373.9 303L371.9 307.7L370.6 311.1L370 312.6Z"/><path d="M-115.6 304.6L-115 303.6L-113.7 301.4L-111.7 298.4L-109.2 294.7L-106.3 290.5L-102.9 285.9L-99.1 281L-94.9 276L-90.3 270.9L-85.3 265.9L-80 260.9L-74.3 256.1L-68.3 251.5L-61.9 247.1L-55.2 243L-48.2 239.1L-40.9 235.6L-33.3 232.4L-25.3 229.4L-17.1 226.7L-8.6 224.3L0.2 222.2L9.3 220.3L18.7 218.6L28.3 217.2L38.3 215.9L48.5 214.8L58.9 213.9L69.6 213.1L80.6 212.4L91.9 211.8L103.4 211.3L115.2 210.9L127.2 210.6L127.2 218.9L115.2 219.2L103.4 219.6L91.9 220.1L80.6 220.7L69.6 221.4L58.9 222.2L48.5 223.1L38.3 224.2L28.3 225.4L18.7 226.9L9.3 228.6L0.2 230.4L-8.6 232.6L-17.1 235L-25.3 237.6L-33.3 240.6L-40.9 243.8L-48.2 247.3L-55.2 251.2L-61.9 255.3L-68.3 259.6L-74.3 264.2L-80 269L-85.3 274L-90.3 279L-94.9 284.1L-99.1 289.1L-102.9 293.9L-106.3 298.5L-109.2 302.7L-111.7 306.4L-113.7 309.5L-115 311.6L-115.6 312.6Z"/><path d="M127.2 304.6L127.8 303.6L129.1 301.4L131.1 298.4L133.6 294.7L136.5 290.5L139.9 285.9L143.7 281L147.9 276L152.5 270.9L157.5 265.9L162.8 260.9L168.5 256.1L174.5 251.5L180.9 247.1L187.6 243L194.6 239.1L201.9 235.6L209.5 232.4L217.5 229.4L225.7 226.7L234.2 224.3L243 222.2L252.1 220.3L261.5 218.6L271.1 217.2L281.1 215.9L291.3 214.8L301.7 213.9L312.4 213.1L323.4 212.4L334.7 211.8L346.2 211.3L358 210.9L370 210.6L370 218.9L358 219.2L346.2 219.6L334.7 220.1L323.4 220.7L312.4 221.4L301.7 222.2L291.3 223.1L281.1 224.2L271.1 225.4L261.5 226.9L252.1 228.6L243 230.4L234.2 232.6L225.7 235L217.5 237.6L209.5 240.6L201.9 243.8L194.6 247.3L187.6 251.2L180.9 255.3L174.5 259.6L168.5 264.2L162.8 269L157.5 274L152.5 279L147.9 284.1L143.7 289.1L139.9 293.9L136.5 298.5L133.6 302.7L131.1 306.4L129.1 309.5L127.8 311.6L127.2 312.6Z"/><path d="M370 304.6L370.6 303.6L371.9 301.4L373.9 298.4L376.4 294.7L379.3 290.5L382.7 285.9L386.5 281L390.7 276L395.3 270.9L400.3 265.9L405.6 260.9L411.3 256.1L417.3 251.5L423.7 247.1L430.4 243L437.4 239.1L444.7 235.6L452.3 232.4L460.3 229.4L468.5 226.7L477 224.3L485.8 222.2L494.9 220.3L504.3 218.6L513.9 217.2L523.9 215.9L534.1 214.8L544.5 213.9L555.2 213.1L566.2 212.4L577.5 211.8L589 211.3L600.8 210.9L612.8 210.6L612.8 218.9L600.8 219.2L589 219.6L577.5 220.1L566.2 220.7L555.2 221.4L544.5 222.2L534.1 223.1L523.9 224.2L513.9 225.4L504.3 226.9L494.9 228.6L485.8 230.4L477 232.6L468.5 235L460.3 237.6L452.3 240.6L444.7 243.8L437.4 247.3L430.4 251.2L423.7 255.3L417.3 259.6L411.3 264.2L405.6 269L400.3 274L395.3 279L390.7 284.1L386.5 289.1L382.7 293.9L379.3 298.5L376.4 302.7L373.9 306.4L371.9 309.5L370.6 311.6L370 312.6Z"/><path d="M-115.6 304.6L-115 304.1L-113.7 303L-111.7 301.4L-109.2 299.5L-106.3 297.4L-102.9 295L-99.1 292.5L-94.9 290L-90.3 287.4L-85.3 284.8L-80 282.3L-74.3 279.8L-68.3 277.4L-61.9 275.2L-55.2 273.1L-48.2 271.1L-40.9 269.3L-33.3 267.7L-25.3 266.2L-17.1 264.8L-8.6 263.6L0.2 262.5L9.3 261.5L18.7 260.7L28.3 259.9L38.3 259.3L48.5 258.7L58.9 258.2L69.6 257.8L80.6 257.5L91.9 257.2L103.4 256.9L115.2 256.7L127.2 256.6L127.2 266.7L115.2 266.9L103.4 267.1L91.9 267.3L80.6 267.6L69.6 267.9L58.9 268.3L48.5 268.8L38.3 269.3L28.3 269.9L18.7 270.7L9.3 271.5L0.2 272.4L-8.6 273.4L-17.1 274.6L-25.3 275.9L-33.3 277.3L-40.9 278.9L-48.2 280.7L-55.2 282.5L-61.9 284.5L-68.3 286.7L-74.3 288.9L-80 291.3L-85.3 293.7L-90.3 296.2L-94.9 298.6L-99.1 301.1L-102.9 303.5L-106.3 305.7L-109.2 307.8L-111.7 309.6L-113.7 311.1L-115 312.1L-115.6 312.6Z"/><path d="M127.2 304.6L127.8 304.1L129.1 303L131.1 301.4L133.6 299.5L136.5 297.4L139.9 295L143.7 292.5L147.9 290L152.5 287.4L157.5 284.8L162.8 282.3L168.5 279.8L174.5 277.4L180.9 275.2L187.6 273.1L194.6 271.1L201.9 269.3L209.5 267.7L217.5 266.2L225.7 264.8L234.2 263.6L243 262.5L252.1 261.5L261.5 260.7L271.1 259.9L281.1 259.3L291.3 258.7L301.7 258.2L312.4 257.8L323.4 257.5L334.7 257.2L346.2 256.9L358 256.7L370 256.6L370 266.7L358 266.9L346.2 267.1L334.7 267.3L323.4 267.6L312.4 267.9L301.7 268.3L291.3 268.8L281.1 269.3L271.1 269.9L261.5 270.7L252.1 271.5L243 272.4L234.2 273.4L225.7 274.6L217.5 275.9L209.5 277.3L201.9 278.9L194.6 280.7L187.6 282.5L180.9 284.5L174.5 286.7L168.5 288.9L162.8 291.3L157.5 293.7L152.5 296.2L147.9 298.6L143.7 301.1L139.9 303.5L136.5 305.7L133.6 307.8L131.1 309.6L129.1 311.1L127.8 312.1L127.2 312.6Z"/><path d="M370 304.6L370.6 304.1L371.9 303L373.9 301.4L376.4 299.5L379.3 297.4L382.7 295L386.5 292.5L390.7 290L395.3 287.4L400.3 284.8L405.6 282.3L411.3 279.8L417.3 277.4L423.7 275.2L430.4 273.1L437.4 271.1L444.7 269.3L452.3 267.7L460.3 266.2L468.5 264.8L477 263.6L485.8 262.5L494.9 261.5L504.3 260.7L513.9 259.9L523.9 259.3L534.1 258.7L544.5 258.2L555.2 257.8L566.2 257.5L577.5 257.2L589 256.9L600.8 256.7L612.8 256.6L612.8 266.7L600.8 266.9L589 267.1L577.5 267.3L566.2 267.6L555.2 267.9L544.5 268.3L534.1 268.8L523.9 269.3L513.9 269.9L504.3 270.7L494.9 271.5L485.8 272.4L477 273.4L468.5 274.6L460.3 275.9L452.3 277.3L444.7 278.9L437.4 280.7L430.4 282.5L423.7 284.5L417.3 286.7L411.3 288.9L405.6 291.3L400.3 293.7L395.3 296.2L390.7 298.6L386.5 301.1L382.7 303.5L379.3 305.7L376.4 307.8L373.9 309.6L371.9 311.1L370.6 312.1L370 312.6Z"/></g><path d="M59.4 138V328.9M56.2 138.5H59.4M56.2 144.8H59.4M56.2 151.2H59.4M56.2 157.5H59.4M56.2 163.8H59.4M56.2 170.2H59.4M56.2 176.5H59.4M56.2 182.8H59.4M56.2 189.1H59.4M56.2 195.5H59.4M56.2 201.8H59.4M56.2 208.1H59.4M56.2 214.5H59.4M56.2 220.8H59.4M56.2 227.1H59.4M56.2 233.4H59.4M56.2 239.8H59.4M56.2 246.1H59.4M56.2 252.4H59.4M56.2 258.8H59.4M56.2 265.1H59.4M56.2 271.4H59.4M56.2 277.8H59.4M56.2 284.1H59.4M56.2 290.4H59.4M56.2 296.8H59.4M56.2 303.1H59.4M56.2 309.4H59.4M56.2 315.7H59.4M56.2 322.1H59.4M56.2 328.4H59.4M53.1 138.5H59.9M53.1 201.8H59.9M53.1 265.1H59.9M53.1 328.4H59.9" fill="none" stroke="#303030" stroke-width="1.15"/><text x="49.8" y="143" font-size="13.1" text-anchor="end">43.3</text><text x="49.8" y="206.3" font-size="13.1" text-anchor="end">12.1</text><text x="49.8" y="269.6" font-size="13.1" text-anchor="end">-19.1</text><text x="49.8" y="332.9" font-size="13.1" text-anchor="end">-50.3</text><text transform="translate(14.6 233.4) rotate(-90)" class="r" font-size="13.1" text-anchor="middle">(I) Amplitude (mV)</text><path d="M127.9 347.9V539.4M249.3 347.9V539.4M370.7 347.9V539.4M492.1 347.9V539.4M67.2 379.8H552.8M67.2 443.6H552.8M67.2 507.5H552.8" fill="none" stroke="#f0f0f0" stroke-width="1" stroke-dasharray="1 1"/><path d="M67.2 347.9V539.4M188.6 347.9V539.4M310 347.9V539.4M431.4 347.9V539.4M552.8 347.9V539.4M67.2 347.9H552.8M67.2 411.7H552.8M67.2 475.6H552.8M67.2 539.4H552.8" fill="none" stroke="#e0e0e0" stroke-width="1" stroke-dasharray="1 1"/><clipPath id="cp0aQ"><rect x="66.8" y="343.9" width="487.2" height="199.5"/></clipPath><g clip-path="url(#cp0aQ)" fill="#0000ff"><rect x="42.9" y="362.8" width="534.2" height="8.2"/><rect x="42.9" y="406.5" width="534.2" height="15"/><rect x="42.9" y="462" width="534.2" height="17.5"/><rect x="42.9" y="514.5" width="534.2" height="9.3"/><path d="M-112 363.6L-111.4 364.1L-110 365L-108.1 366.4L-105.6 368.1L-102.7 370L-99.3 372L-95.5 374.2L-91.2 376.5L-86.6 378.7L-81.7 381L-76.3 383.2L-70.6 385.4L-64.6 387.5L-58.3 389.4L-51.6 391.3L-44.6 393L-37.3 394.6L-29.6 396.1L-21.7 397.4L-13.5 398.6L-5 399.7L3.9 400.6L12.9 401.5L22.3 402.2L32 402.9L41.9 403.4L52.1 403.9L62.6 404.4L73.3 404.7L84.3 405L95.5 405.3L107 405.5L118.8 405.7L130.8 405.8L130.8 414.8L118.8 414.7L107 414.5L95.5 414.2L84.3 414L73.3 413.6L62.6 413.3L52.1 412.8L41.9 412.3L32 411.7L22.3 411.1L12.9 410.3L3.9 409.4L-5 408.4L-13.5 407.3L-21.7 406L-29.6 404.7L-37.3 403.2L-44.6 401.5L-51.6 399.7L-58.3 397.8L-64.6 395.8L-70.6 393.6L-76.3 391.4L-81.7 389.1L-86.6 386.7L-91.2 384.3L-95.5 382L-99.3 379.7L-102.7 377.6L-105.6 375.6L-108.1 373.9L-110 372.5L-111.4 371.5L-112 371Z"/><path d="M130.8 363.6L131.4 364.1L132.8 365L134.7 366.4L137.2 368.1L140.1 370L143.5 372L147.3 374.2L151.6 376.5L156.2 378.7L161.1 381L166.5 383.2L172.2 385.4L178.2 387.5L184.5 389.4L191.2 391.3L198.2 393L205.5 394.6L213.2 396.1L221.1 397.4L229.3 398.6L237.8 399.7L246.7 400.6L255.7 401.5L265.1 402.2L274.8 402.9L284.7 403.4L294.9 403.9L305.4 404.4L316.1 404.7L327.1 405L338.3 405.3L349.8 405.5L361.6 405.7L373.6 405.8L373.6 414.8L361.6 414.7L349.8 414.5L338.3 414.2L327.1 414L316.1 413.6L305.4 413.3L294.9 412.8L284.7 412.3L274.8 411.7L265.1 411.1L255.7 410.3L246.7 409.4L237.8 408.4L229.3 407.3L221.1 406L213.2 404.7L205.5 403.2L198.2 401.5L191.2 399.7L184.5 397.8L178.2 395.8L172.2 393.6L166.5 391.4L161.1 389.1L156.2 386.7L151.6 384.3L147.3 382L143.5 379.7L140.1 377.6L137.2 375.6L134.7 373.9L132.8 372.5L131.4 371.5L130.8 371Z"/><path d="M373.6 363.6L374.2 364.1L375.6 365L377.5 366.4L380 368.1L382.9 370L386.3 372L390.1 374.2L394.4 376.5L399 378.7L403.9 381L409.3 383.2L415 385.4L421 387.5L427.3 389.4L434 391.3L441 393L448.3 394.6L456 396.1L463.9 397.4L472.1 398.6L480.6 399.7L489.5 400.6L498.5 401.5L507.9 402.2L517.6 402.9L527.5 403.4L537.7 403.9L548.2 404.4L558.9 404.7L569.9 405L581.1 405.3L592.6 405.5L604.4 405.7L616.4 405.8L616.4 414.8L604.4 414.7L592.6 414.5L581.1 414.2L569.9 414L558.9 413.6L548.2 413.3L537.7 412.8L527.5 412.3L517.6 411.7L507.9 411.1L498.5 410.3L489.5 409.4L480.6 408.4L472.1 407.3L463.9 406L456 404.7L448.3 403.2L441 401.5L434 399.7L427.3 397.8L421 395.8L415 393.6L409.3 391.4L403.9 389.1L399 386.7L394.4 384.3L390.1 382L386.3 379.7L382.9 377.6L380 375.6L377.5 373.9L375.6 372.5L374.2 371.5L373.6 371Z"/><path d="M-112 363.6L-111.4 364.6L-110 366.9L-108.1 370L-105.6 373.8L-102.7 378.2L-99.3 382.9L-95.5 387.9L-91.2 393.1L-86.6 398.3L-81.7 403.5L-76.3 408.6L-70.6 413.6L-64.6 418.4L-58.3 422.9L-51.6 427.1L-44.6 431.1L-37.3 434.7L-29.6 438.1L-21.7 441.1L-13.5 443.9L-5 446.3L3.9 448.5L12.9 450.5L22.3 452.2L32 453.7L41.9 455L52.1 456.1L62.6 457.1L73.3 457.9L84.3 458.6L95.5 459.2L107 459.7L118.8 460.1L130.8 460.5L130.8 470.9L118.8 470.6L107 470.1L95.5 469.6L84.3 469L73.3 468.3L62.6 467.4L52.1 466.4L41.9 465.3L32 463.9L22.3 462.4L12.9 460.6L3.9 458.6L-5 456.3L-13.5 453.8L-21.7 450.9L-29.6 447.8L-37.3 444.3L-44.6 440.6L-51.6 436.5L-58.3 432.1L-64.6 427.5L-70.6 422.6L-76.3 417.5L-81.7 412.2L-86.6 406.8L-91.2 401.4L-95.5 396.1L-99.3 390.9L-102.7 386L-105.6 381.5L-108.1 377.6L-110 374.4L-111.4 372L-112 371Z"/><path d="M130.8 363.6L131.4 364.6L132.8 366.9L134.7 370L137.2 373.8L140.1 378.2L143.5 382.9L147.3 387.9L151.6 393.1L156.2 398.3L161.1 403.5L166.5 408.6L172.2 413.6L178.2 418.4L184.5 422.9L191.2 427.1L198.2 431.1L205.5 434.7L213.2 438.1L221.1 441.1L229.3 443.9L237.8 446.3L246.7 448.5L255.7 450.5L265.1 452.2L274.8 453.7L284.7 455L294.9 456.1L305.4 457.1L316.1 457.9L327.1 458.6L338.3 459.2L349.8 459.7L361.6 460.1L373.6 460.5L373.6 470.9L361.6 470.6L349.8 470.1L338.3 469.6L327.1 469L316.1 468.3L305.4 467.4L294.9 466.4L284.7 465.3L274.8 463.9L265.1 462.4L255.7 460.6L246.7 458.6L237.8 456.3L229.3 453.8L221.1 450.9L213.2 447.8L205.5 444.3L198.2 440.6L191.2 436.5L184.5 432.1L178.2 427.5L172.2 422.6L166.5 417.5L161.1 412.2L156.2 406.8L151.6 401.4L147.3 396.1L143.5 390.9L140.1 386L137.2 381.5L134.7 377.6L132.8 374.4L131.4 372L130.8 371Z"/><path d="M373.6 363.6L374.2 364.6L375.6 366.9L377.5 370L380 373.8L382.9 378.2L386.3 382.9L390.1 387.9L394.4 393.1L399 398.3L403.9 403.5L409.3 408.6L415 413.6L421 418.4L427.3 422.9L434 427.1L441 431.1L448.3 434.7L456 438.1L463.9 441.1L472.1 443.9L480.6 446.3L489.5 448.5L498.5 450.5L507.9 452.2L517.6 453.7L527.5 455L537.7 456.1L548.2 457.1L558.9 457.9L569.9 458.6L581.1 459.2L592.6 459.7L604.4 460.1L616.4 460.5L616.4 470.9L604.4 470.6L592.6 470.1L581.1 469.6L569.9 469L558.9 468.3L548.2 467.4L537.7 466.4L527.5 465.3L517.6 463.9L507.9 462.4L498.5 460.6L489.5 458.6L480.6 456.3L472.1 453.8L463.9 450.9L456 447.8L448.3 444.3L441 440.6L434 436.5L427.3 432.1L421 427.5L415 422.6L409.3 417.5L403.9 412.2L399 406.8L394.4 401.4L390.1 396.1L386.3 390.9L382.9 386L380 381.5L377.5 377.6L375.6 374.4L374.2 372L373.6 371Z"/><path d="M-112 363.6L-111.4 365.2L-110 368.6L-108.1 373.4L-105.6 379.3L-102.7 385.9L-99.3 393.2L-95.5 400.9L-91.2 408.8L-86.6 416.8L-81.7 424.8L-76.3 432.7L-70.6 440.3L-64.6 447.6L-58.3 454.5L-51.6 461L-44.6 467.1L-37.3 472.7L-29.6 477.8L-21.7 482.5L-13.5 486.7L-5 490.5L3.9 493.8L12.9 496.8L22.3 499.4L32 501.7L41.9 503.7L52.1 505.5L62.6 507L73.3 508.2L84.3 509.3L95.5 510.2L107 511L118.8 511.6L130.8 512.2L130.8 517.8L118.8 517.2L107 516.6L95.5 515.8L84.3 514.9L73.3 513.9L62.6 512.6L52.1 511.2L41.9 509.4L32 507.5L22.3 505.2L12.9 502.6L3.9 499.7L-5 496.3L-13.5 492.6L-21.7 488.4L-29.6 483.8L-37.3 478.7L-44.6 473.2L-51.6 467.2L-58.3 460.8L-64.6 453.9L-70.6 446.7L-76.3 439.2L-81.7 431.5L-86.6 423.6L-91.2 415.7L-95.5 407.8L-99.3 400.2L-102.7 393.1L-105.6 386.5L-108.1 380.7L-110 375.9L-111.4 372.5L-112 371Z"/><path d="M130.8 363.6L131.4 365.2L132.8 368.6L134.7 373.4L137.2 379.3L140.1 385.9L143.5 393.2L147.3 400.9L151.6 408.8L156.2 416.8L161.1 424.8L166.5 432.7L172.2 440.3L178.2 447.6L184.5 454.5L191.2 461L198.2 467.1L205.5 472.7L213.2 477.8L221.1 482.5L229.3 486.7L237.8 490.5L246.7 493.8L255.7 496.8L265.1 499.4L274.8 501.7L284.7 503.7L294.9 505.5L305.4 507L316.1 508.2L327.1 509.3L338.3 510.2L349.8 511L361.6 511.6L373.6 512.2L373.6 517.8L361.6 517.2L349.8 516.6L338.3 515.8L327.1 514.9L316.1 513.9L305.4 512.6L294.9 511.2L284.7 509.4L274.8 507.5L265.1 505.2L255.7 502.6L246.7 499.7L237.8 496.3L229.3 492.6L221.1 488.4L213.2 483.8L205.5 478.7L198.2 473.2L191.2 467.2L184.5 460.8L178.2 453.9L172.2 446.7L166.5 439.2L161.1 431.5L156.2 423.6L151.6 415.7L147.3 407.8L143.5 400.2L140.1 393.1L137.2 386.5L134.7 380.7L132.8 375.9L131.4 372.5L130.8 371Z"/><path d="M373.6 363.6L374.2 365.2L375.6 368.6L377.5 373.4L380 379.3L382.9 385.9L386.3 393.2L390.1 400.9L394.4 408.8L399 416.8L403.9 424.8L409.3 432.7L415 440.3L421 447.6L427.3 454.5L434 461L441 467.1L448.3 472.7L456 477.8L463.9 482.5L472.1 486.7L480.6 490.5L489.5 493.8L498.5 496.8L507.9 499.4L517.6 501.7L527.5 503.7L537.7 505.5L548.2 507L558.9 508.2L569.9 509.3L581.1 510.2L592.6 511L604.4 511.6L616.4 512.2L616.4 517.8L604.4 517.2L592.6 516.6L581.1 515.8L569.9 514.9L558.9 513.9L548.2 512.6L537.7 511.2L527.5 509.4L517.6 507.5L507.9 505.2L498.5 502.6L489.5 499.7L480.6 496.3L472.1 492.6L463.9 488.4L456 483.8L448.3 478.7L441 473.2L434 467.2L427.3 460.8L421 453.9L415 446.7L409.3 439.2L403.9 431.5L399 423.6L394.4 415.7L390.1 407.8L386.3 400.2L382.9 393.1L380 386.5L377.5 380.7L375.6 375.9L374.2 372.5L373.6 371Z"/><path d="M-112 406.5L-111.4 406.1L-110 405.2L-108.1 403.9L-105.6 402.3L-102.7 400.5L-99.3 398.6L-95.5 396.5L-91.2 394.4L-86.6 392.2L-81.7 390.1L-76.3 388L-70.6 386L-64.6 384L-58.3 382.2L-51.6 380.4L-44.6 378.8L-37.3 377.3L-29.6 375.9L-21.7 374.7L-13.5 373.5L-5 372.5L3.9 371.6L12.9 370.8L22.3 370.1L32 369.5L41.9 369L52.1 368.5L62.6 368.1L73.3 367.8L84.3 367.5L95.5 367.2L107 367L118.8 366.9L130.8 366.7L130.8 371.8L118.8 371.9L107 372.1L95.5 372.4L84.3 372.7L73.3 373L62.6 373.5L52.1 373.9L41.9 374.5L32 375.1L22.3 375.9L12.9 376.7L3.9 377.7L-5 378.8L-13.5 380L-21.7 381.4L-29.6 382.9L-37.3 384.6L-44.6 386.4L-51.6 388.4L-58.3 390.5L-64.6 392.7L-70.6 395.1L-76.3 397.6L-81.7 400.1L-86.6 402.7L-91.2 405.3L-95.5 407.9L-99.3 410.4L-102.7 412.7L-105.6 414.9L-108.1 416.8L-110 418.4L-111.4 419.5L-112 420Z"/><path d="M130.8 406.5L131.4 406.1L132.8 405.2L134.7 403.9L137.2 402.3L140.1 400.5L143.5 398.6L147.3 396.5L151.6 394.4L156.2 392.2L161.1 390.1L166.5 388L172.2 386L178.2 384L184.5 382.2L191.2 380.4L198.2 378.8L205.5 377.3L213.2 375.9L221.1 374.7L229.3 373.5L237.8 372.5L246.7 371.6L255.7 370.8L265.1 370.1L274.8 369.5L284.7 369L294.9 368.5L305.4 368.1L316.1 367.8L327.1 367.5L338.3 367.2L349.8 367L361.6 366.9L373.6 366.7L373.6 371.8L361.6 371.9L349.8 372.1L338.3 372.4L327.1 372.7L316.1 373L305.4 373.5L294.9 373.9L284.7 374.5L274.8 375.1L265.1 375.9L255.7 376.7L246.7 377.7L237.8 378.8L229.3 380L221.1 381.4L213.2 382.9L205.5 384.6L198.2 386.4L191.2 388.4L184.5 390.5L178.2 392.7L172.2 395.1L166.5 397.6L161.1 400.1L156.2 402.7L151.6 405.3L147.3 407.9L143.5 410.4L140.1 412.7L137.2 414.9L134.7 416.8L132.8 418.4L131.4 419.5L130.8 420Z"/><path d="M373.6 406.5L374.2 406.1L375.6 405.2L377.5 403.9L380 402.3L382.9 400.5L386.3 398.6L390.1 396.5L394.4 394.4L399 392.2L403.9 390.1L409.3 388L415 386L421 384L427.3 382.2L434 380.4L441 378.8L448.3 377.3L456 375.9L463.9 374.7L472.1 373.5L480.6 372.5L489.5 371.6L498.5 370.8L507.9 370.1L517.6 369.5L527.5 369L537.7 368.5L548.2 368.1L558.9 367.8L569.9 367.5L581.1 367.2L592.6 367L604.4 366.9L616.4 366.7L616.4 371.8L604.4 371.9L592.6 372.1L581.1 372.4L569.9 372.7L558.9 373L548.2 373.5L537.7 373.9L527.5 374.5L517.6 375.1L507.9 375.9L498.5 376.7L489.5 377.7L480.6 378.8L472.1 380L463.9 381.4L456 382.9L448.3 384.6L441 386.4L434 388.4L427.3 390.5L421 392.7L415 395.1L409.3 397.6L403.9 400.1L399 402.7L394.4 405.3L390.1 407.9L386.3 410.4L382.9 412.7L380 414.9L377.5 416.8L375.6 418.4L374.2 419.5L373.6 420Z"/><path d="M-112 408L-111.4 408.6L-110 409.8L-108.1 411.5L-105.6 413.6L-102.7 416L-99.3 418.6L-95.5 421.3L-91.2 424.2L-86.6 427L-81.7 429.9L-76.3 432.7L-70.6 435.4L-64.6 438L-58.3 440.5L-51.6 442.8L-44.6 445L-37.3 447L-29.6 448.9L-21.7 450.5L-13.5 452L-5 453.4L3.9 454.6L12.9 455.7L22.3 456.6L32 457.4L41.9 458.1L52.1 458.8L62.6 459.3L73.3 459.8L84.3 460.1L95.5 460.5L107 460.7L118.8 461L130.8 461.2L130.8 471.7L118.8 471.5L107 471.3L95.5 471.1L84.3 470.7L73.3 470.4L62.6 469.9L52.1 469.4L41.9 468.9L32 468.2L22.3 467.4L12.9 466.5L3.9 465.5L-5 464.4L-13.5 463.1L-21.7 461.7L-29.6 460.1L-37.3 458.4L-44.6 456.5L-51.6 454.4L-58.3 452.2L-64.6 449.9L-70.6 447.4L-76.3 444.8L-81.7 442.2L-86.6 439.5L-91.2 436.8L-95.5 434.1L-99.3 431.5L-102.7 429L-105.6 426.8L-108.1 424.8L-110 423.2L-111.4 422L-112 421.5Z"/><path d="M130.8 408L131.4 408.6L132.8 409.8L134.7 411.5L137.2 413.6L140.1 416L143.5 418.6L147.3 421.3L151.6 424.2L156.2 427L161.1 429.9L166.5 432.7L172.2 435.4L178.2 438L184.5 440.5L191.2 442.8L198.2 445L205.5 447L213.2 448.9L221.1 450.5L229.3 452L237.8 453.4L246.7 454.6L255.7 455.7L265.1 456.6L274.8 457.4L284.7 458.1L294.9 458.8L305.4 459.3L316.1 459.8L327.1 460.1L338.3 460.5L349.8 460.7L361.6 461L373.6 461.2L373.6 471.7L361.6 471.5L349.8 471.3L338.3 471.1L327.1 470.7L316.1 470.4L305.4 469.9L294.9 469.4L284.7 468.9L274.8 468.2L265.1 467.4L255.7 466.5L246.7 465.5L237.8 464.4L229.3 463.1L221.1 461.7L213.2 460.1L205.5 458.4L198.2 456.5L191.2 454.4L184.5 452.2L178.2 449.9L172.2 447.4L166.5 444.8L161.1 442.2L156.2 439.5L151.6 436.8L147.3 434.1L143.5 431.5L140.1 429L137.2 426.8L134.7 424.8L132.8 423.2L131.4 422L130.8 421.5Z"/><path d="M373.6 408L374.2 408.6L375.6 409.8L377.5 411.5L380 413.6L382.9 416L386.3 418.6L390.1 421.3L394.4 424.2L399 427L403.9 429.9L409.3 432.7L415 435.4L421 438L427.3 440.5L434 442.8L441 445L448.3 447L456 448.9L463.9 450.5L472.1 452L480.6 453.4L489.5 454.6L498.5 455.7L507.9 456.6L517.6 457.4L527.5 458.1L537.7 458.8L548.2 459.3L558.9 459.8L569.9 460.1L581.1 460.5L592.6 460.7L604.4 461L616.4 461.2L616.4 471.7L604.4 471.5L592.6 471.3L581.1 471.1L569.9 470.7L558.9 470.4L548.2 469.9L537.7 469.4L527.5 468.9L517.6 468.2L507.9 467.4L498.5 466.5L489.5 465.5L480.6 464.4L472.1 463.1L463.9 461.7L456 460.1L448.3 458.4L441 456.5L434 454.4L427.3 452.2L421 449.9L415 447.4L409.3 444.8L403.9 442.2L399 439.5L394.4 436.8L390.1 434.1L386.3 431.5L382.9 429L380 426.8L377.5 424.8L375.6 423.2L374.2 422L373.6 421.5Z"/><path d="M-112 408L-111.4 409.1L-110 411.5L-108.1 414.9L-105.6 419.1L-102.7 423.8L-99.3 428.9L-95.5 434.3L-91.2 439.9L-86.6 445.6L-81.7 451.2L-76.3 456.7L-70.6 462.1L-64.6 467.3L-58.3 472.1L-51.6 476.7L-44.6 481L-37.3 485L-29.6 488.6L-21.7 491.9L-13.5 494.9L-5 497.5L3.9 499.9L12.9 502L22.3 503.9L32 505.5L41.9 506.9L52.1 508.1L62.6 509.2L73.3 510.1L84.3 510.8L95.5 511.5L107 512L118.8 512.5L130.8 512.8L130.8 518.6L118.8 518.2L107 517.8L95.5 517.3L84.3 516.7L73.3 516L62.6 515.1L52.1 514.2L41.9 513.1L32 511.7L22.3 510.2L12.9 508.5L3.9 506.6L-5 504.4L-13.5 501.9L-21.7 499.1L-29.6 496.1L-37.3 492.7L-44.6 489.1L-51.6 485.1L-58.3 480.9L-64.6 476.3L-70.6 471.6L-76.3 466.6L-81.7 461.5L-86.6 456.3L-91.2 451L-95.5 445.9L-99.3 440.8L-102.7 436.1L-105.6 431.7L-108.1 427.9L-110 424.8L-111.4 422.5L-112 421.5Z"/><path d="M130.8 408L131.4 409.1L132.8 411.5L134.7 414.9L137.2 419.1L140.1 423.8L143.5 428.9L147.3 434.3L151.6 439.9L156.2 445.6L161.1 451.2L166.5 456.7L172.2 462.1L178.2 467.3L184.5 472.1L191.2 476.7L198.2 481L205.5 485L213.2 488.6L221.1 491.9L229.3 494.9L237.8 497.5L246.7 499.9L255.7 502L265.1 503.9L274.8 505.5L284.7 506.9L294.9 508.1L305.4 509.2L316.1 510.1L327.1 510.8L338.3 511.5L349.8 512L361.6 512.5L373.6 512.8L373.6 518.6L361.6 518.2L349.8 517.8L338.3 517.3L327.1 516.7L316.1 516L305.4 515.1L294.9 514.2L284.7 513.1L274.8 511.7L265.1 510.2L255.7 508.5L246.7 506.6L237.8 504.4L229.3 501.9L221.1 499.1L213.2 496.1L205.5 492.7L198.2 489.1L191.2 485.1L184.5 480.9L178.2 476.3L172.2 471.6L166.5 466.6L161.1 461.5L156.2 456.3L151.6 451L147.3 445.9L143.5 440.8L140.1 436.1L137.2 431.7L134.7 427.9L132.8 424.8L131.4 422.5L130.8 421.5Z"/><path d="M373.6 408L374.2 409.1L375.6 411.5L377.5 414.9L380 419.1L382.9 423.8L386.3 428.9L390.1 434.3L394.4 439.9L399 445.6L403.9 451.2L409.3 456.7L415 462.1L421 467.3L427.3 472.1L434 476.7L441 481L448.3 485L456 488.6L463.9 491.9L472.1 494.9L480.6 497.5L489.5 499.9L498.5 502L507.9 503.9L517.6 505.5L527.5 506.9L537.7 508.1L548.2 509.2L558.9 510.1L569.9 510.8L581.1 511.5L592.6 512L604.4 512.5L616.4 512.8L616.4 518.6L604.4 518.2L592.6 517.8L581.1 517.3L569.9 516.7L558.9 516L548.2 515.1L537.7 514.2L527.5 513.1L517.6 511.7L507.9 510.2L498.5 508.5L489.5 506.6L480.6 504.4L472.1 501.9L463.9 499.1L456 496.1L448.3 492.7L441 489.1L434 485.1L427.3 480.9L421 476.3L415 471.6L409.3 466.6L403.9 461.5L399 456.3L394.4 451L390.1 445.9L386.3 440.8L382.9 436.1L380 431.7L377.5 427.9L375.6 424.8L374.2 422.5L373.6 421.5Z"/><path d="M-112 462L-111.4 461L-110 458.8L-108.1 455.8L-105.6 452L-102.7 447.8L-99.3 443.2L-95.5 438.3L-91.2 433.3L-86.6 428.2L-81.7 423.1L-76.3 418.1L-70.6 413.3L-64.6 408.6L-58.3 404.2L-51.6 400.1L-44.6 396.2L-37.3 392.7L-29.6 389.4L-21.7 386.5L-13.5 383.8L-5 381.4L3.9 379.2L12.9 377.3L22.3 375.7L32 374.2L41.9 372.9L52.1 371.8L62.6 370.9L73.3 370.1L84.3 369.4L95.5 368.8L107 368.3L118.8 367.9L130.8 367.6L130.8 372.7L118.8 373L107 373.5L95.5 374L84.3 374.7L73.3 375.4L62.6 376.3L52.1 377.4L41.9 378.6L32 380L22.3 381.7L12.9 383.5L3.9 385.6L-5 388L-13.5 390.7L-21.7 393.7L-29.6 397L-37.3 400.6L-44.6 404.6L-51.6 408.9L-58.3 413.5L-64.6 418.4L-70.6 423.5L-76.3 428.9L-81.7 434.4L-86.6 440.1L-91.2 445.8L-95.5 451.4L-99.3 456.8L-102.7 462L-105.6 466.7L-108.1 470.8L-110 474.2L-111.4 476.6L-112 477.8Z"/><path d="M130.8 462L131.4 461L132.8 458.8L134.7 455.8L137.2 452L140.1 447.8L143.5 443.2L147.3 438.3L151.6 433.3L156.2 428.2L161.1 423.1L166.5 418.1L172.2 413.3L178.2 408.6L184.5 404.2L191.2 400.1L198.2 396.2L205.5 392.7L213.2 389.4L221.1 386.5L229.3 383.8L237.8 381.4L246.7 379.2L255.7 377.3L265.1 375.7L274.8 374.2L284.7 372.9L294.9 371.8L305.4 370.9L316.1 370.1L327.1 369.4L338.3 368.8L349.8 368.3L361.6 367.9L373.6 367.6L373.6 372.7L361.6 373L349.8 373.5L338.3 374L327.1 374.7L316.1 375.4L305.4 376.3L294.9 377.4L284.7 378.6L274.8 380L265.1 381.7L255.7 383.5L246.7 385.6L237.8 388L229.3 390.7L221.1 393.7L213.2 397L205.5 400.6L198.2 404.6L191.2 408.9L184.5 413.5L178.2 418.4L172.2 423.5L166.5 428.9L161.1 434.4L156.2 440.1L151.6 445.8L147.3 451.4L143.5 456.8L140.1 462L137.2 466.7L134.7 470.8L132.8 474.2L131.4 476.6L130.8 477.8Z"/><path d="M373.6 462L374.2 461L375.6 458.8L377.5 455.8L380 452L382.9 447.8L386.3 443.2L390.1 438.3L394.4 433.3L399 428.2L403.9 423.1L409.3 418.1L415 413.3L421 408.6L427.3 404.2L434 400.1L441 396.2L448.3 392.7L456 389.4L463.9 386.5L472.1 383.8L480.6 381.4L489.5 379.2L498.5 377.3L507.9 375.7L517.6 374.2L527.5 372.9L537.7 371.8L548.2 370.9L558.9 370.1L569.9 369.4L581.1 368.8L592.6 368.3L604.4 367.9L616.4 367.6L616.4 372.7L604.4 373L592.6 373.5L581.1 374L569.9 374.7L558.9 375.4L548.2 376.3L537.7 377.4L527.5 378.6L517.6 380L507.9 381.7L498.5 383.5L489.5 385.6L480.6 388L472.1 390.7L463.9 393.7L456 397L448.3 400.6L441 404.6L434 408.9L427.3 413.5L421 418.4L415 423.5L409.3 428.9L403.9 434.4L399 440.1L394.4 445.8L390.1 451.4L386.3 456.8L382.9 462L380 466.7L377.5 470.8L375.6 474.2L374.2 476.6L373.6 477.8Z"/><path d="M-112 462L-111.4 461.5L-110 460.4L-108.1 458.8L-105.6 456.9L-102.7 454.7L-99.3 452.3L-95.5 449.8L-91.2 447.2L-86.6 444.5L-81.7 441.9L-76.3 439.3L-70.6 436.9L-64.6 434.5L-58.3 432.2L-51.6 430.1L-44.6 428.1L-37.3 426.2L-29.6 424.5L-21.7 423L-13.5 421.6L-5 420.4L3.9 419.3L12.9 418.3L22.3 417.4L32 416.7L41.9 416L52.1 415.5L62.6 415L73.3 414.6L84.3 414.2L95.5 413.9L107 413.7L118.8 413.4L130.8 413.3L130.8 422.4L118.8 422.6L107 422.8L95.5 423.1L84.3 423.4L73.3 423.8L62.6 424.3L52.1 424.9L41.9 425.5L32 426.3L22.3 427.1L12.9 428.1L3.9 429.2L-5 430.5L-13.5 431.9L-21.7 433.4L-29.6 435.2L-37.3 437.1L-44.6 439.2L-51.6 441.4L-58.3 443.9L-64.6 446.5L-70.6 449.2L-76.3 452L-81.7 454.9L-86.6 457.9L-91.2 460.9L-95.5 463.9L-99.3 466.7L-102.7 469.4L-105.6 471.9L-108.1 474.1L-110 475.9L-111.4 477.2L-112 477.8Z"/><path d="M130.8 462L131.4 461.5L132.8 460.4L134.7 458.8L137.2 456.9L140.1 454.7L143.5 452.3L147.3 449.8L151.6 447.2L156.2 444.5L161.1 441.9L166.5 439.3L172.2 436.9L178.2 434.5L184.5 432.2L191.2 430.1L198.2 428.1L205.5 426.2L213.2 424.5L221.1 423L229.3 421.6L237.8 420.4L246.7 419.3L255.7 418.3L265.1 417.4L274.8 416.7L284.7 416L294.9 415.5L305.4 415L316.1 414.6L327.1 414.2L338.3 413.9L349.8 413.7L361.6 413.4L373.6 413.3L373.6 422.4L361.6 422.6L349.8 422.8L338.3 423.1L327.1 423.4L316.1 423.8L305.4 424.3L294.9 424.9L284.7 425.5L274.8 426.3L265.1 427.1L255.7 428.1L246.7 429.2L237.8 430.5L229.3 431.9L221.1 433.4L213.2 435.2L205.5 437.1L198.2 439.2L191.2 441.4L184.5 443.9L178.2 446.5L172.2 449.2L166.5 452L161.1 454.9L156.2 457.9L151.6 460.9L147.3 463.9L143.5 466.7L140.1 469.4L137.2 471.9L134.7 474.1L132.8 475.9L131.4 477.2L130.8 477.8Z"/><path d="M373.6 462L374.2 461.5L375.6 460.4L377.5 458.8L380 456.9L382.9 454.7L386.3 452.3L390.1 449.8L394.4 447.2L399 444.5L403.9 441.9L409.3 439.3L415 436.9L421 434.5L427.3 432.2L434 430.1L441 428.1L448.3 426.2L456 424.5L463.9 423L472.1 421.6L480.6 420.4L489.5 419.3L498.5 418.3L507.9 417.4L517.6 416.7L527.5 416L537.7 415.5L548.2 415L558.9 414.6L569.9 414.2L581.1 413.9L592.6 413.7L604.4 413.4L616.4 413.3L616.4 422.4L604.4 422.6L592.6 422.8L581.1 423.1L569.9 423.4L558.9 423.8L548.2 424.3L537.7 424.9L527.5 425.5L517.6 426.3L507.9 427.1L498.5 428.1L489.5 429.2L480.6 430.5L472.1 431.9L463.9 433.4L456 435.2L448.3 437.1L441 439.2L434 441.4L427.3 443.9L421 446.5L415 449.2L409.3 452L403.9 454.9L399 457.9L394.4 460.9L390.1 463.9L386.3 466.7L382.9 469.4L380 471.9L377.5 474.1L375.6 475.9L374.2 477.2L373.6 477.8Z"/><path d="M-112 463.8L-111.4 464.3L-110 465.4L-108.1 467L-105.6 469L-102.7 471.3L-99.3 473.7L-95.5 476.3L-91.2 479L-86.6 481.7L-81.7 484.3L-76.3 487L-70.6 489.5L-64.6 492L-58.3 494.3L-51.6 496.5L-44.6 498.5L-37.3 500.4L-29.6 502.2L-21.7 503.7L-13.5 505.1L-5 506.4L3.9 507.5L12.9 508.6L22.3 509.4L32 510.2L41.9 510.9L52.1 511.5L62.6 512L73.3 512.4L84.3 512.8L95.5 513.1L107 513.3L118.8 513.5L130.8 513.7L130.8 519.5L118.8 519.3L107 519.1L95.5 518.9L84.3 518.7L73.3 518.4L62.6 518.1L52.1 517.7L41.9 517.2L32 516.6L22.3 516L12.9 515.3L3.9 514.5L-5 513.6L-13.5 512.6L-21.7 511.5L-29.6 510.2L-37.3 508.8L-44.6 507.3L-51.6 505.7L-58.3 503.9L-64.6 502.1L-70.6 500.1L-76.3 498.1L-81.7 496L-86.6 493.8L-91.2 491.7L-95.5 489.5L-99.3 487.5L-102.7 485.5L-105.6 483.7L-108.1 482.1L-110 480.8L-111.4 479.9L-112 479.5Z"/><path d="M130.8 463.8L131.4 464.3L132.8 465.4L134.7 467L137.2 469L140.1 471.3L143.5 473.7L147.3 476.3L151.6 479L156.2 481.7L161.1 484.3L166.5 487L172.2 489.5L178.2 492L184.5 494.3L191.2 496.5L198.2 498.5L205.5 500.4L213.2 502.2L221.1 503.7L229.3 505.1L237.8 506.4L246.7 507.5L255.7 508.6L265.1 509.4L274.8 510.2L284.7 510.9L294.9 511.5L305.4 512L316.1 512.4L327.1 512.8L338.3 513.1L349.8 513.3L361.6 513.5L373.6 513.7L373.6 519.5L361.6 519.3L349.8 519.1L338.3 518.9L327.1 518.7L316.1 518.4L305.4 518.1L294.9 517.7L284.7 517.2L274.8 516.6L265.1 516L255.7 515.3L246.7 514.5L237.8 513.6L229.3 512.6L221.1 511.5L213.2 510.2L205.5 508.8L198.2 507.3L191.2 505.7L184.5 503.9L178.2 502.1L172.2 500.1L166.5 498.1L161.1 496L156.2 493.8L151.6 491.7L147.3 489.5L143.5 487.5L140.1 485.5L137.2 483.7L134.7 482.1L132.8 480.8L131.4 479.9L130.8 479.5Z"/><path d="M373.6 463.8L374.2 464.3L375.6 465.4L377.5 467L380 469L382.9 471.3L386.3 473.7L390.1 476.3L394.4 479L399 481.7L403.9 484.3L409.3 487L415 489.5L421 492L427.3 494.3L434 496.5L441 498.5L448.3 500.4L456 502.2L463.9 503.7L472.1 505.1L480.6 506.4L489.5 507.5L498.5 508.6L507.9 509.4L517.6 510.2L527.5 510.9L537.7 511.5L548.2 512L558.9 512.4L569.9 512.8L581.1 513.1L592.6 513.3L604.4 513.5L616.4 513.7L616.4 519.5L604.4 519.3L592.6 519.1L581.1 518.9L569.9 518.7L558.9 518.4L548.2 518.1L537.7 517.7L527.5 517.2L517.6 516.6L507.9 516L498.5 515.3L489.5 514.5L480.6 513.6L472.1 512.6L463.9 511.5L456 510.2L448.3 508.8L441 507.3L434 505.7L427.3 503.9L421 502.1L415 500.1L409.3 498.1L403.9 496L399 493.8L394.4 491.7L390.1 489.5L386.3 487.5L382.9 485.5L380 483.7L377.5 482.1L375.6 480.8L374.2 479.9L373.6 479.5Z"/><path d="M-112 514.5L-111.4 513L-110 509.6L-108.1 504.9L-105.6 499.1L-102.7 492.5L-99.3 485.4L-95.5 477.8L-91.2 470L-86.6 462.1L-81.7 454.3L-76.3 446.6L-70.6 439.1L-64.6 431.9L-58.3 425.1L-51.6 418.7L-44.6 412.8L-37.3 407.2L-29.6 402.2L-21.7 397.6L-13.5 393.5L-5 389.7L3.9 386.4L12.9 383.5L22.3 380.9L32 378.6L41.9 376.7L52.1 375L62.6 373.5L73.3 372.3L84.3 371.2L95.5 370.3L107 369.5L118.8 368.9L130.8 368.4L130.8 373.4L118.8 373.9L107 374.5L95.5 375.3L84.3 376.2L73.3 377.3L62.6 378.6L52.1 380.1L41.9 381.8L32 383.8L22.3 386.2L12.9 388.8L3.9 391.8L-5 395.2L-13.5 399L-21.7 403.3L-29.6 408L-37.3 413.1L-44.6 418.8L-51.6 424.9L-58.3 431.4L-64.6 438.4L-70.6 445.7L-76.3 453.4L-81.7 461.3L-86.6 469.3L-91.2 477.4L-95.5 485.4L-99.3 493.1L-102.7 500.4L-105.6 507.1L-108.1 513L-110 517.8L-111.4 521.3L-112 522.9Z"/><path d="M130.8 514.5L131.4 513L132.8 509.6L134.7 504.9L137.2 499.1L140.1 492.5L143.5 485.4L147.3 477.8L151.6 470L156.2 462.1L161.1 454.3L166.5 446.6L172.2 439.1L178.2 431.9L184.5 425.1L191.2 418.7L198.2 412.8L205.5 407.2L213.2 402.2L221.1 397.6L229.3 393.5L237.8 389.7L246.7 386.4L255.7 383.5L265.1 380.9L274.8 378.6L284.7 376.7L294.9 375L305.4 373.5L316.1 372.3L327.1 371.2L338.3 370.3L349.8 369.5L361.6 368.9L373.6 368.4L373.6 373.4L361.6 373.9L349.8 374.5L338.3 375.3L327.1 376.2L316.1 377.3L305.4 378.6L294.9 380.1L284.7 381.8L274.8 383.8L265.1 386.2L255.7 388.8L246.7 391.8L237.8 395.2L229.3 399L221.1 403.3L213.2 408L205.5 413.1L198.2 418.8L191.2 424.9L184.5 431.4L178.2 438.4L172.2 445.7L166.5 453.4L161.1 461.3L156.2 469.3L151.6 477.4L147.3 485.4L143.5 493.1L140.1 500.4L137.2 507.1L134.7 513L132.8 517.8L131.4 521.3L130.8 522.9Z"/><path d="M373.6 514.5L374.2 513L375.6 509.6L377.5 504.9L380 499.1L382.9 492.5L386.3 485.4L390.1 477.8L394.4 470L399 462.1L403.9 454.3L409.3 446.6L415 439.1L421 431.9L427.3 425.1L434 418.7L441 412.8L448.3 407.2L456 402.2L463.9 397.6L472.1 393.5L480.6 389.7L489.5 386.4L498.5 383.5L507.9 380.9L517.6 378.6L527.5 376.7L537.7 375L548.2 373.5L558.9 372.3L569.9 371.2L581.1 370.3L592.6 369.5L604.4 368.9L616.4 368.4L616.4 373.4L604.4 373.9L592.6 374.5L581.1 375.3L569.9 376.2L558.9 377.3L548.2 378.6L537.7 380.1L527.5 381.8L517.6 383.8L507.9 386.2L498.5 388.8L489.5 391.8L480.6 395.2L472.1 399L463.9 403.3L456 408L448.3 413.1L441 418.8L434 424.9L427.3 431.4L421 438.4L415 445.7L409.3 453.4L403.9 461.3L399 469.3L394.4 477.4L390.1 485.4L386.3 493.1L382.9 500.4L380 507.1L377.5 513L375.6 517.8L374.2 521.3L373.6 522.9Z"/><path d="M-112 514.5L-111.4 513.4L-110 511.1L-108.1 507.9L-105.6 503.9L-102.7 499.4L-99.3 494.5L-95.5 489.3L-91.2 483.9L-86.6 478.5L-81.7 473.1L-76.3 467.8L-70.6 462.7L-64.6 457.7L-58.3 453.1L-51.6 448.7L-44.6 444.6L-37.3 440.8L-29.6 437.3L-21.7 434.2L-13.5 431.3L-5 428.8L3.9 426.5L12.9 424.5L22.3 422.7L32 421.1L41.9 419.8L52.1 418.6L62.6 417.6L73.3 416.7L84.3 416L95.5 415.4L107 414.9L118.8 414.4L130.8 414.1L130.8 423.1L118.8 423.4L107 423.9L95.5 424.4L84.3 425L73.3 425.7L62.6 426.6L52.1 427.6L41.9 428.7L32 430.1L22.3 431.6L12.9 433.4L3.9 435.4L-5 437.7L-13.5 440.2L-21.7 443L-29.6 446.2L-37.3 449.6L-44.6 453.4L-51.6 457.5L-58.3 461.8L-64.6 466.5L-70.6 471.4L-76.3 476.5L-81.7 481.7L-86.6 487.1L-91.2 492.5L-95.5 497.8L-99.3 503L-102.7 507.9L-105.6 512.3L-108.1 516.3L-110 519.5L-111.4 521.8L-112 522.9Z"/><path d="M130.8 514.5L131.4 513.4L132.8 511.1L134.7 507.9L137.2 503.9L140.1 499.4L143.5 494.5L147.3 489.3L151.6 483.9L156.2 478.5L161.1 473.1L166.5 467.8L172.2 462.7L178.2 457.7L184.5 453.1L191.2 448.7L198.2 444.6L205.5 440.8L213.2 437.3L221.1 434.2L229.3 431.3L237.8 428.8L246.7 426.5L255.7 424.5L265.1 422.7L274.8 421.1L284.7 419.8L294.9 418.6L305.4 417.6L316.1 416.7L327.1 416L338.3 415.4L349.8 414.9L361.6 414.4L373.6 414.1L373.6 423.1L361.6 423.4L349.8 423.9L338.3 424.4L327.1 425L316.1 425.7L305.4 426.6L294.9 427.6L284.7 428.7L274.8 430.1L265.1 431.6L255.7 433.4L246.7 435.4L237.8 437.7L229.3 440.2L221.1 443L213.2 446.2L205.5 449.6L198.2 453.4L191.2 457.5L184.5 461.8L178.2 466.5L172.2 471.4L166.5 476.5L161.1 481.7L156.2 487.1L151.6 492.5L147.3 497.8L143.5 503L140.1 507.9L137.2 512.3L134.7 516.3L132.8 519.5L131.4 521.8L130.8 522.9Z"/><path d="M373.6 514.5L374.2 513.4L375.6 511.1L377.5 507.9L380 503.9L382.9 499.4L386.3 494.5L390.1 489.3L394.4 483.9L399 478.5L403.9 473.1L409.3 467.8L415 462.7L421 457.7L427.3 453.1L434 448.7L441 444.6L448.3 440.8L456 437.3L463.9 434.2L472.1 431.3L480.6 428.8L489.5 426.5L498.5 424.5L507.9 422.7L517.6 421.1L527.5 419.8L537.7 418.6L548.2 417.6L558.9 416.7L569.9 416L581.1 415.4L592.6 414.9L604.4 414.4L616.4 414.1L616.4 423.1L604.4 423.4L592.6 423.9L581.1 424.4L569.9 425L558.9 425.7L548.2 426.6L537.7 427.6L527.5 428.7L517.6 430.1L507.9 431.6L498.5 433.4L489.5 435.4L480.6 437.7L472.1 440.2L463.9 443L456 446.2L448.3 449.6L441 453.4L434 457.5L427.3 461.8L421 466.5L415 471.4L409.3 476.5L403.9 481.7L399 487.1L394.4 492.5L390.1 497.8L386.3 503L382.9 507.9L380 512.3L377.5 516.3L375.6 519.5L374.2 521.8L373.6 522.9Z"/><path d="M-112 514.5L-111.4 514L-110 513L-108.1 511.5L-105.6 509.8L-102.7 507.8L-99.3 505.6L-95.5 503.3L-91.2 500.9L-86.6 498.5L-81.7 496L-76.3 493.7L-70.6 491.4L-64.6 489.2L-58.3 487.1L-51.6 485.1L-44.6 483.3L-37.3 481.6L-29.6 480.1L-21.7 478.7L-13.5 477.4L-5 476.2L3.9 475.2L12.9 474.3L22.3 473.5L32 472.8L41.9 472.2L52.1 471.7L62.6 471.3L73.3 470.9L84.3 470.6L95.5 470.3L107 470.1L118.8 469.9L130.8 469.7L130.8 480.2L118.8 480.3L107 480.5L95.5 480.7L84.3 481L73.3 481.3L62.6 481.7L52.1 482.1L41.9 482.6L32 483.2L22.3 483.8L12.9 484.6L3.9 485.4L-5 486.4L-13.5 487.5L-21.7 488.7L-29.6 490.1L-37.3 491.5L-44.6 493.1L-51.6 494.9L-58.3 496.8L-64.6 498.7L-70.6 500.8L-76.3 503L-81.7 505.3L-86.6 507.6L-91.2 509.9L-95.5 512.2L-99.3 514.4L-102.7 516.5L-105.6 518.4L-108.1 520.1L-110 521.4L-111.4 522.4L-112 522.9Z"/><path d="M130.8 514.5L131.4 514L132.8 513L134.7 511.5L137.2 509.8L140.1 507.8L143.5 505.6L147.3 503.3L151.6 500.9L156.2 498.5L161.1 496L166.5 493.7L172.2 491.4L178.2 489.2L184.5 487.1L191.2 485.1L198.2 483.3L205.5 481.6L213.2 480.1L221.1 478.7L229.3 477.4L237.8 476.2L246.7 475.2L255.7 474.3L265.1 473.5L274.8 472.8L284.7 472.2L294.9 471.7L305.4 471.3L316.1 470.9L327.1 470.6L338.3 470.3L349.8 470.1L361.6 469.9L373.6 469.7L373.6 480.2L361.6 480.3L349.8 480.5L338.3 480.7L327.1 481L316.1 481.3L305.4 481.7L294.9 482.1L284.7 482.6L274.8 483.2L265.1 483.8L255.7 484.6L246.7 485.4L237.8 486.4L229.3 487.5L221.1 488.7L213.2 490.1L205.5 491.5L198.2 493.1L191.2 494.9L184.5 496.8L178.2 498.7L172.2 500.8L166.5 503L161.1 505.3L156.2 507.6L151.6 509.9L147.3 512.2L143.5 514.4L140.1 516.5L137.2 518.4L134.7 520.1L132.8 521.4L131.4 522.4L130.8 522.9Z"/><path d="M373.6 514.5L374.2 514L375.6 513L377.5 511.5L380 509.8L382.9 507.8L386.3 505.6L390.1 503.3L394.4 500.9L399 498.5L403.9 496L409.3 493.7L415 491.4L421 489.2L427.3 487.1L434 485.1L441 483.3L448.3 481.6L456 480.1L463.9 478.7L472.1 477.4L480.6 476.2L489.5 475.2L498.5 474.3L507.9 473.5L517.6 472.8L527.5 472.2L537.7 471.7L548.2 471.3L558.9 470.9L569.9 470.6L581.1 470.3L592.6 470.1L604.4 469.9L616.4 469.7L616.4 480.2L604.4 480.3L592.6 480.5L581.1 480.7L569.9 481L558.9 481.3L548.2 481.7L537.7 482.1L527.5 482.6L517.6 483.2L507.9 483.8L498.5 484.6L489.5 485.4L480.6 486.4L472.1 487.5L463.9 488.7L456 490.1L448.3 491.5L441 493.1L434 494.9L427.3 496.8L421 498.7L415 500.8L409.3 503L403.9 505.3L399 507.6L394.4 509.9L390.1 512.2L386.3 514.4L382.9 516.5L380 518.4L377.5 520.1L375.6 521.4L374.2 522.4L373.6 522.9Z"/></g><path d="M59.4 347.4V539.9M56.2 347.9H59.4M56.2 354.3H59.4M56.2 360.7H59.4M56.2 367H59.4M56.2 373.4H59.4M56.2 379.8H59.4M56.2 386.2H59.4M56.2 392.6H59.4M56.2 399H59.4M56.2 405.3H59.4M56.2 411.7H59.4M56.2 418.1H59.4M56.2 424.5H59.4M56.2 430.9H59.4M56.2 437.3H59.4M56.2 443.6H59.4M56.2 450H59.4M56.2 456.4H59.4M56.2 462.8H59.4M56.2 469.2H59.4M56.2 475.6H59.4M56.2 481.9H59.4M56.2 488.3H59.4M56.2 494.7H59.4M56.2 501.1H59.4M56.2 507.5H59.4M56.2 513.9H59.4M56.2 520.2H59.4M56.2 526.6H59.4M56.2 533H59.4M56.2 539.4H59.4M53.1 347.9H59.9M53.1 411.7H59.9M53.1 475.6H59.9M53.1 539.4H59.9" fill="none" stroke="#303030" stroke-width="1.15"/><text x="49.8" y="352.4" font-size="13.1" text-anchor="end">37.9</text><text x="49.8" y="416.2" font-size="13.1" text-anchor="end">5.24</text><text x="49.8" y="480.1" font-size="13.1" text-anchor="end">-27.4</text><text x="49.8" y="543.9" font-size="13.1" text-anchor="end">-60.1</text><text transform="translate(14.6 443.6) rotate(-90)" class="r" font-size="13.1" text-anchor="middle">(Q) Amplitude (mV)</text><path d="M66.7 544.3H553.3M67.2 544.3V549.9M79.3 544.3V547.3M91.5 544.3V547.3M103.6 544.3V547.3M115.8 544.3V547.3M127.9 544.3V547.3M140 544.3V547.3M152.2 544.3V547.3M164.3 544.3V547.3M176.5 544.3V547.3M188.6 544.3V549.9M200.7 544.3V547.3M212.9 544.3V547.3M225 544.3V547.3M237.2 544.3V547.3M249.3 544.3V547.3M261.4 544.3V547.3M273.6 544.3V547.3M285.7 544.3V547.3M297.9 544.3V547.3M310 544.3V549.9M322.1 544.3V547.3M334.3 544.3V547.3M346.4 544.3V547.3M358.6 544.3V547.3M370.7 544.3V547.3M382.8 544.3V547.3M395 544.3V547.3M407.1 544.3V547.3M419.3 544.3V547.3M431.4 544.3V549.9M443.5 544.3V547.3M455.7 544.3V547.3M467.8 544.3V547.3M480 544.3V547.3M492.1 544.3V547.3M504.2 544.3V547.3M516.4 544.3V547.3M528.5 544.3V547.3M540.7 544.3V547.3M552.8 544.3V549.9" fill="none" stroke="#303030" stroke-width="1.15"/><text x="67.2" y="561.1" font-size="13.1" text-anchor="middle">0.0</text><text x="188.6" y="561.1" font-size="13.1" text-anchor="middle">5.0</text><text x="310" y="561.1" font-size="13.1" text-anchor="middle">10.0</text><text x="431.4" y="561.1" font-size="13.1" text-anchor="middle">15.0</text><text x="552.8" y="561.1" font-size="13.1" text-anchor="middle">20.0</text><text x="309.1" y="575.2" font-size="13.1" text-anchor="middle">time (ps)</text><path d="M729.3 138.5V328.4M850.7 138.5V328.4M972.1 138.5V328.4M1093.5 138.5V328.4M668.6 170.2H1154.2M668.6 233.4H1154.2M668.6 296.8H1154.2" fill="none" stroke="#f0f0f0" stroke-width="1" stroke-dasharray="1 1"/><path d="M668.6 138.5V328.4M790 138.5V328.4M911.4 138.5V328.4M1032.8 138.5V328.4M1154.2 138.5V328.4M668.6 138.5H1154.2M668.6 201.8H1154.2M668.6 265.1H1154.2M668.6 328.4H1154.2" fill="none" stroke="#e0e0e0" stroke-width="1" stroke-dasharray="1 1"/><clipPath id="cp1aI"><rect x="668.2" y="134.5" width="487.2" height="197.9"/></clipPath><g clip-path="url(#cp1aI)" fill="#c00000"><rect x="644.3" y="157.2" width="534.2" height="5.6"/><rect x="644.3" y="304" width="534.2" height="5.6"/><rect x="644.3" y="153" width="534.2" height="2.8"/><rect x="644.3" y="310.7" width="534.2" height="2.8"/><path d="M502.5 162.8L503.1 162.8L504.5 162.8L506.6 162.8L509.1 162.8L512.1 167.8L515.6 175L519.6 182.6L523.9 190.5L528.6 198.5L533.8 206.5L539.2 214.5L545.1 222.2L551.3 229.7L557.9 236.9L564.7 243.7L572 250.1L579.5 256L587.4 261.5L595.5 266.5L604 271.2L612.8 275.3L621.8 279.1L631.2 282.4L640.9 285.4L650.8 288.1L661 290.4L671.5 292.5L682.3 294.2L693.4 295.8L704.7 297.1L716.3 298.2L728.1 299.2L740.2 300L752.6 300.7L752.6 307.3L740.2 306.8L728.1 306.1L716.3 305.4L704.7 304.5L693.4 303.4L682.3 302.2L671.5 300.7L661 299L650.8 297.1L640.9 294.8L631.2 292.3L621.8 289.4L612.8 286.1L604 282.4L595.5 278.3L587.4 273.7L579.5 268.7L572 263.3L564.7 257.4L557.9 251L551.3 244.3L545.1 237.2L539.2 229.8L533.8 222.2L528.6 214.4L523.9 206.7L519.6 199L515.6 191.5L512.1 184.5L509.1 178L506.6 172.3L504.5 167.7L503.1 164.3L502.5 162.8Z"/><path d="M745.3 162.8L745.9 162.8L747.3 162.8L749.4 162.8L751.9 162.8L754.9 167.8L758.4 175L762.4 182.6L766.7 190.5L771.4 198.5L776.6 206.5L782 214.5L787.9 222.2L794.1 229.7L800.7 236.9L807.5 243.7L814.8 250.1L822.3 256L830.2 261.5L838.3 266.5L846.8 271.2L855.6 275.3L864.6 279.1L874 282.4L883.7 285.4L893.6 288.1L903.8 290.4L914.3 292.5L925.1 294.2L936.2 295.8L947.5 297.1L959.1 298.2L970.9 299.2L983 300L995.4 300.7L995.4 307.3L983 306.8L970.9 306.1L959.1 305.4L947.5 304.5L936.2 303.4L925.1 302.2L914.3 300.7L903.8 299L893.6 297.1L883.7 294.8L874 292.3L864.6 289.4L855.6 286.1L846.8 282.4L838.3 278.3L830.2 273.7L822.3 268.7L814.8 263.3L807.5 257.4L800.7 251L794.1 244.3L787.9 237.2L782 229.8L776.6 222.2L771.4 214.4L766.7 206.7L762.4 199L758.4 191.5L754.9 184.5L751.9 178L749.4 172.3L747.3 167.7L745.9 164.3L745.3 162.8Z"/><path d="M988.1 162.8L988.7 162.8L990.1 162.8L992.2 162.8L994.7 162.8L997.7 167.8L1001.2 175L1005.2 182.6L1009.5 190.5L1014.2 198.5L1019.4 206.5L1024.8 214.5L1030.7 222.2L1036.9 229.7L1043.5 236.9L1050.3 243.7L1057.6 250.1L1065.1 256L1073 261.5L1081.1 266.5L1089.6 271.2L1098.4 275.3L1107.4 279.1L1116.8 282.4L1126.5 285.4L1136.4 288.1L1146.6 290.4L1157.1 292.5L1167.9 294.2L1179 295.8L1190.3 297.1L1201.9 298.2L1213.7 299.2L1225.8 300L1238.2 300.7L1238.2 307.3L1225.8 306.8L1213.7 306.1L1201.9 305.4L1190.3 304.5L1179 303.4L1167.9 302.2L1157.1 300.7L1146.6 299L1136.4 297.1L1126.5 294.8L1116.8 292.3L1107.4 289.4L1098.4 286.1L1089.6 282.4L1081.1 278.3L1073 273.7L1065.1 268.7L1057.6 263.3L1050.3 257.4L1043.5 251L1036.9 244.3L1030.7 237.2L1024.8 229.8L1019.4 222.2L1014.2 214.4L1009.5 206.7L1005.2 199L1001.2 191.5L997.7 184.5L994.7 178L992.2 172.3L990.1 167.7L988.7 164.3L988.1 162.8Z"/><path d="M502.5 304L503.1 302.5L504.5 299.1L506.6 294.5L509.1 288.8L512.1 282.3L515.6 275.3L519.6 267.8L523.9 260.1L528.6 252.4L533.8 244.6L539.2 237L545.1 229.6L551.3 222.5L557.9 215.8L564.7 209.4L572 203.5L579.5 198.1L587.4 193.1L595.5 188.5L604 184.4L612.8 180.7L621.8 177.4L631.2 174.5L640.9 172L650.8 169.7L661 167.8L671.5 166.1L682.3 164.6L693.4 163.4L704.7 162.3L716.3 161.4L728.1 160.7L740.2 160L752.6 159.5L752.6 166.1L740.2 166.8L728.1 167.6L716.3 168.6L704.7 169.7L693.4 171L682.3 172.6L671.5 174.3L661 176.4L650.8 178.7L640.9 181.4L631.2 184.4L621.8 187.7L612.8 191.5L604 195.6L595.5 200.3L587.4 205.3L579.5 210.8L572 216.7L564.7 223.1L557.9 229.9L551.3 237.1L545.1 244.6L539.2 252.3L533.8 260.3L528.6 268.3L523.9 276.3L519.6 284.2L515.6 291.8L512.1 299L509.1 304L506.6 304L504.5 304L503.1 304L502.5 304Z"/><path d="M745.3 304L745.9 302.5L747.3 299.1L749.4 294.5L751.9 288.8L754.9 282.3L758.4 275.3L762.4 267.8L766.7 260.1L771.4 252.4L776.6 244.6L782 237L787.9 229.6L794.1 222.5L800.7 215.8L807.5 209.4L814.8 203.5L822.3 198.1L830.2 193.1L838.3 188.5L846.8 184.4L855.6 180.7L864.6 177.4L874 174.5L883.7 172L893.6 169.7L903.8 167.8L914.3 166.1L925.1 164.6L936.2 163.4L947.5 162.3L959.1 161.4L970.9 160.7L983 160L995.4 159.5L995.4 166.1L983 166.8L970.9 167.6L959.1 168.6L947.5 169.7L936.2 171L925.1 172.6L914.3 174.3L903.8 176.4L893.6 178.7L883.7 181.4L874 184.4L864.6 187.7L855.6 191.5L846.8 195.6L838.3 200.3L830.2 205.3L822.3 210.8L814.8 216.7L807.5 223.1L800.7 229.9L794.1 237.1L787.9 244.6L782 252.3L776.6 260.3L771.4 268.3L766.7 276.3L762.4 284.2L758.4 291.8L754.9 299L751.9 304L749.4 304L747.3 304L745.9 304L745.3 304Z"/><path d="M988.1 304L988.7 302.5L990.1 299.1L992.2 294.5L994.7 288.8L997.7 282.3L1001.2 275.3L1005.2 267.8L1009.5 260.1L1014.2 252.4L1019.4 244.6L1024.8 237L1030.7 229.6L1036.9 222.5L1043.5 215.8L1050.3 209.4L1057.6 203.5L1065.1 198.1L1073 193.1L1081.1 188.5L1089.6 184.4L1098.4 180.7L1107.4 177.4L1116.8 174.5L1126.5 172L1136.4 169.7L1146.6 167.8L1157.1 166.1L1167.9 164.6L1179 163.4L1190.3 162.3L1201.9 161.4L1213.7 160.7L1225.8 160L1238.2 159.5L1238.2 166.1L1225.8 166.8L1213.7 167.6L1201.9 168.6L1190.3 169.7L1179 171L1167.9 172.6L1157.1 174.3L1146.6 176.4L1136.4 178.7L1126.5 181.4L1116.8 184.4L1107.4 187.7L1098.4 191.5L1089.6 195.6L1081.1 200.3L1073 205.3L1065.1 210.8L1057.6 216.7L1050.3 223.1L1043.5 229.9L1036.9 237.1L1030.7 244.6L1024.8 252.3L1019.4 260.3L1014.2 268.3L1009.5 276.3L1005.2 284.2L1001.2 291.8L997.7 299L994.7 304L992.2 304L990.1 304L988.7 304L988.1 304Z"/></g><path d="M660.8 138V328.9M657.6 138.5H660.8M657.6 144.8H660.8M657.6 151.2H660.8M657.6 157.5H660.8M657.6 163.8H660.8M657.6 170.2H660.8M657.6 176.5H660.8M657.6 182.8H660.8M657.6 189.1H660.8M657.6 195.5H660.8M657.6 201.8H660.8M657.6 208.1H660.8M657.6 214.5H660.8M657.6 220.8H660.8M657.6 227.1H660.8M657.6 233.4H660.8M657.6 239.8H660.8M657.6 246.1H660.8M657.6 252.4H660.8M657.6 258.8H660.8M657.6 265.1H660.8M657.6 271.4H660.8M657.6 277.8H660.8M657.6 284.1H660.8M657.6 290.4H660.8M657.6 296.8H660.8M657.6 303.1H660.8M657.6 309.4H660.8M657.6 315.7H660.8M657.6 322.1H660.8M657.6 328.4H660.8M654.5 138.5H661.3M654.5 201.8H661.3M654.5 265.1H661.3M654.5 328.4H661.3" fill="none" stroke="#303030" stroke-width="1.15"/><text x="651.2" y="143" font-size="13.1" text-anchor="end">26.8</text><text x="651.2" y="206.3" font-size="13.1" text-anchor="end">3.45</text><text x="651.2" y="269.6" font-size="13.1" text-anchor="end">-19.9</text><text x="651.2" y="332.9" font-size="13.1" text-anchor="end">-43.2</text><text transform="translate(616 233.4) rotate(-90)" class="r" font-size="13.1" text-anchor="middle">(I) Amplitude (mV)</text><path d="M729.3 347.9V539.4M850.7 347.9V539.4M972.1 347.9V539.4M1093.5 347.9V539.4M668.6 379.8H1154.2M668.6 443.6H1154.2M668.6 507.5H1154.2" fill="none" stroke="#f0f0f0" stroke-width="1" stroke-dasharray="1 1"/><path d="M668.6 347.9V539.4M790 347.9V539.4M911.4 347.9V539.4M1032.8 347.9V539.4M1154.2 347.9V539.4M668.6 347.9H1154.2M668.6 411.7H1154.2M668.6 475.6H1154.2M668.6 539.4H1154.2" fill="none" stroke="#e0e0e0" stroke-width="1" stroke-dasharray="1 1"/><clipPath id="cp1aQ"><rect x="668.2" y="343.9" width="487.2" height="199.5"/></clipPath><g clip-path="url(#cp1aQ)" fill="#0000ff"><rect x="644.3" y="367" width="534.2" height="9"/><rect x="644.3" y="510.3" width="534.2" height="9"/><rect x="644.3" y="362.9" width="534.2" height="3.4"/><rect x="644.3" y="520" width="534.2" height="3.6"/><path d="M502.5 376L503.1 376L504.5 376L506.6 376L509.1 376L512.1 381.7L515.6 388.5L519.6 395.7L523.9 403.1L528.6 410.7L533.8 418.3L539.2 425.8L545.1 433.1L551.3 440.2L557.9 447L564.7 453.4L572 459.4L579.5 465L587.4 470.2L595.5 474.9L604 479.3L612.8 483.2L621.8 486.8L631.2 490L640.9 492.8L650.8 495.3L661 497.5L671.5 499.4L682.3 501.1L693.4 502.5L704.7 503.8L716.3 504.8L728.1 505.8L740.2 506.5L752.6 507.2L752.6 517.7L740.2 517.3L728.1 516.9L716.3 516.3L704.7 515.6L693.4 514.7L682.3 513.7L671.5 512.5L661 511.1L650.8 509.5L640.9 507.5L631.2 505.3L621.8 502.7L612.8 499.7L604 496.4L595.5 492.6L587.4 488.3L579.5 483.6L572 478.4L564.7 472.7L557.9 466.6L551.3 459.9L545.1 452.9L539.2 445.5L533.8 437.8L528.6 429.9L523.9 421.9L519.6 413.9L515.6 406.2L512.1 398.8L509.1 392.1L506.6 386.1L504.5 381.1L503.1 377.6L502.5 376Z"/><path d="M745.3 376L745.9 376L747.3 376L749.4 376L751.9 376L754.9 381.7L758.4 388.5L762.4 395.7L766.7 403.1L771.4 410.7L776.6 418.3L782 425.8L787.9 433.1L794.1 440.2L800.7 447L807.5 453.4L814.8 459.4L822.3 465L830.2 470.2L838.3 474.9L846.8 479.3L855.6 483.2L864.6 486.8L874 490L883.7 492.8L893.6 495.3L903.8 497.5L914.3 499.4L925.1 501.1L936.2 502.5L947.5 503.8L959.1 504.8L970.9 505.8L983 506.5L995.4 507.2L995.4 517.7L983 517.3L970.9 516.9L959.1 516.3L947.5 515.6L936.2 514.7L925.1 513.7L914.3 512.5L903.8 511.1L893.6 509.5L883.7 507.5L874 505.3L864.6 502.7L855.6 499.7L846.8 496.4L838.3 492.6L830.2 488.3L822.3 483.6L814.8 478.4L807.5 472.7L800.7 466.6L794.1 459.9L787.9 452.9L782 445.5L776.6 437.8L771.4 429.9L766.7 421.9L762.4 413.9L758.4 406.2L754.9 398.8L751.9 392.1L749.4 386.1L747.3 381.1L745.9 377.6L745.3 376Z"/><path d="M988.1 376L988.7 376L990.1 376L992.2 376L994.7 376L997.7 381.7L1001.2 388.5L1005.2 395.7L1009.5 403.1L1014.2 410.7L1019.4 418.3L1024.8 425.8L1030.7 433.1L1036.9 440.2L1043.5 447L1050.3 453.4L1057.6 459.4L1065.1 465L1073 470.2L1081.1 474.9L1089.6 479.3L1098.4 483.2L1107.4 486.8L1116.8 490L1126.5 492.8L1136.4 495.3L1146.6 497.5L1157.1 499.4L1167.9 501.1L1179 502.5L1190.3 503.8L1201.9 504.8L1213.7 505.8L1225.8 506.5L1238.2 507.2L1238.2 517.7L1225.8 517.3L1213.7 516.9L1201.9 516.3L1190.3 515.6L1179 514.7L1167.9 513.7L1157.1 512.5L1146.6 511.1L1136.4 509.5L1126.5 507.5L1116.8 505.3L1107.4 502.7L1098.4 499.7L1089.6 496.4L1081.1 492.6L1073 488.3L1065.1 483.6L1057.6 478.4L1050.3 472.7L1043.5 466.6L1036.9 459.9L1030.7 452.9L1024.8 445.5L1019.4 437.8L1014.2 429.9L1009.5 421.9L1005.2 413.9L1001.2 406.2L997.7 398.8L994.7 392.1L992.2 386.1L990.1 381.1L988.7 377.6L988.1 376Z"/><path d="M502.5 510.3L503.1 508.7L504.5 505.2L506.6 500.2L509.1 494.2L512.1 487.5L515.6 480.1L519.6 472.4L523.9 464.4L528.6 456.4L533.8 448.5L539.2 440.8L545.1 433.4L551.3 426.4L557.9 419.7L564.7 413.6L572 407.9L579.5 402.7L587.4 398L595.5 393.7L604 389.9L612.8 386.6L621.8 383.6L631.2 381L640.9 378.8L650.8 376.8L661 375.2L671.5 373.8L682.3 372.6L693.4 371.6L704.7 370.7L716.3 370L728.1 369.4L740.2 369L752.6 368.6L752.6 379.1L740.2 379.8L728.1 380.5L716.3 381.5L704.7 382.5L693.4 383.8L682.3 385.2L671.5 386.9L661 388.8L650.8 391L640.9 393.5L631.2 396.3L621.8 399.5L612.8 403.1L604 407L595.5 411.4L587.4 416.1L579.5 421.3L572 426.9L564.7 432.9L557.9 439.3L551.3 446.1L545.1 453.2L539.2 460.5L533.8 468L528.6 475.6L523.9 483.2L519.6 490.6L515.6 497.8L512.1 504.6L509.1 510.3L506.6 510.3L504.5 510.3L503.1 510.3L502.5 510.3Z"/><path d="M745.3 510.3L745.9 508.7L747.3 505.2L749.4 500.2L751.9 494.2L754.9 487.5L758.4 480.1L762.4 472.4L766.7 464.4L771.4 456.4L776.6 448.5L782 440.8L787.9 433.4L794.1 426.4L800.7 419.7L807.5 413.6L814.8 407.9L822.3 402.7L830.2 398L838.3 393.7L846.8 389.9L855.6 386.6L864.6 383.6L874 381L883.7 378.8L893.6 376.8L903.8 375.2L914.3 373.8L925.1 372.6L936.2 371.6L947.5 370.7L959.1 370L970.9 369.4L983 369L995.4 368.6L995.4 379.1L983 379.8L970.9 380.5L959.1 381.5L947.5 382.5L936.2 383.8L925.1 385.2L914.3 386.9L903.8 388.8L893.6 391L883.7 393.5L874 396.3L864.6 399.5L855.6 403.1L846.8 407L838.3 411.4L830.2 416.1L822.3 421.3L814.8 426.9L807.5 432.9L800.7 439.3L794.1 446.1L787.9 453.2L782 460.5L776.6 468L771.4 475.6L766.7 483.2L762.4 490.6L758.4 497.8L754.9 504.6L751.9 510.3L749.4 510.3L747.3 510.3L745.9 510.3L745.3 510.3Z"/><path d="M988.1 510.3L988.7 508.7L990.1 505.2L992.2 500.2L994.7 494.2L997.7 487.5L1001.2 480.1L1005.2 472.4L1009.5 464.4L1014.2 456.4L1019.4 448.5L1024.8 440.8L1030.7 433.4L1036.9 426.4L1043.5 419.7L1050.3 413.6L1057.6 407.9L1065.1 402.7L1073 398L1081.1 393.7L1089.6 389.9L1098.4 386.6L1107.4 383.6L1116.8 381L1126.5 378.8L1136.4 376.8L1146.6 375.2L1157.1 373.8L1167.9 372.6L1179 371.6L1190.3 370.7L1201.9 370L1213.7 369.4L1225.8 369L1238.2 368.6L1238.2 379.1L1225.8 379.8L1213.7 380.5L1201.9 381.5L1190.3 382.5L1179 383.8L1167.9 385.2L1157.1 386.9L1146.6 388.8L1136.4 391L1126.5 393.5L1116.8 396.3L1107.4 399.5L1098.4 403.1L1089.6 407L1081.1 411.4L1073 416.1L1065.1 421.3L1057.6 426.9L1050.3 432.9L1043.5 439.3L1036.9 446.1L1030.7 453.2L1024.8 460.5L1019.4 468L1014.2 475.6L1009.5 483.2L1005.2 490.6L1001.2 497.8L997.7 504.6L994.7 510.3L992.2 510.3L990.1 510.3L988.7 510.3L988.1 510.3Z"/></g><path d="M660.8 347.4V539.9M657.6 347.9H660.8M657.6 354.3H660.8M657.6 360.7H660.8M657.6 367H660.8M657.6 373.4H660.8M657.6 379.8H660.8M657.6 386.2H660.8M657.6 392.6H660.8M657.6 399H660.8M657.6 405.3H660.8M657.6 411.7H660.8M657.6 418.1H660.8M657.6 424.5H660.8M657.6 430.9H660.8M657.6 437.3H660.8M657.6 443.6H660.8M657.6 450H660.8M657.6 456.4H660.8M657.6 462.8H660.8M657.6 469.2H660.8M657.6 475.6H660.8M657.6 481.9H660.8M657.6 488.3H660.8M657.6 494.7H660.8M657.6 501.1H660.8M657.6 507.5H660.8M657.6 513.9H660.8M657.6 520.2H660.8M657.6 526.6H660.8M657.6 533H660.8M657.6 539.4H660.8M654.5 347.9H661.3M654.5 411.7H661.3M654.5 475.6H661.3M654.5 539.4H661.3" fill="none" stroke="#303030" stroke-width="1.15"/><text x="651.2" y="352.4" font-size="13.1" text-anchor="end">30.0</text><text x="651.2" y="416.2" font-size="13.1" text-anchor="end">4.42</text><text x="651.2" y="480.1" font-size="13.1" text-anchor="end">-21.2</text><text x="651.2" y="543.9" font-size="13.1" text-anchor="end">-46.7</text><text transform="translate(616 443.6) rotate(-90)" class="r" font-size="13.1" text-anchor="middle">(Q) Amplitude (mV)</text><path d="M668.1 544.3H1154.7M668.6 544.3V549.9M680.7 544.3V547.3M692.9 544.3V547.3M705 544.3V547.3M717.2 544.3V547.3M729.3 544.3V547.3M741.4 544.3V547.3M753.6 544.3V547.3M765.7 544.3V547.3M777.9 544.3V547.3M790 544.3V549.9M802.1 544.3V547.3M814.3 544.3V547.3M826.4 544.3V547.3M838.6 544.3V547.3M850.7 544.3V547.3M862.8 544.3V547.3M875 544.3V547.3M887.1 544.3V547.3M899.3 544.3V547.3M911.4 544.3V549.9M923.5 544.3V547.3M935.7 544.3V547.3M947.8 544.3V547.3M960 544.3V547.3M972.1 544.3V547.3M984.2 544.3V547.3M996.4 544.3V547.3M1008.5 544.3V547.3M1020.7 544.3V547.3M1032.8 544.3V549.9M1044.9 544.3V547.3M1057.1 544.3V547.3M1069.2 544.3V547.3M1081.4 544.3V547.3M1093.5 544.3V547.3M1105.6 544.3V547.3M1117.8 544.3V547.3M1129.9 544.3V547.3M1142.1 544.3V547.3M1154.2 544.3V549.9" fill="none" stroke="#303030" stroke-width="1.15"/><text x="668.6" y="561.1" font-size="13.1" text-anchor="middle">0.0</text><text x="790" y="561.1" font-size="13.1" text-anchor="middle">5.0</text><text x="911.4" y="561.1" font-size="13.1" text-anchor="middle">10.0</text><text x="1032.8" y="561.1" font-size="13.1" text-anchor="middle">15.0</text><text x="1154.2" y="561.1" font-size="13.1" text-anchor="middle">20.0</text><text x="910.5" y="575.2" font-size="13.1" text-anchor="middle">time (ps)</text><path d="M1330.9 138.5V328.4M1452.3 138.5V328.4M1573.7 138.5V328.4M1695.1 138.5V328.4M1270.2 170.2H1755.8M1270.2 233.4H1755.8M1270.2 296.8H1755.8" fill="none" stroke="#f0f0f0" stroke-width="1" stroke-dasharray="1 1"/><path d="M1270.2 138.5V328.4M1391.6 138.5V328.4M1513 138.5V328.4M1634.4 138.5V328.4M1755.8 138.5V328.4M1270.2 138.5H1755.8M1270.2 201.8H1755.8M1270.2 265.1H1755.8M1270.2 328.4H1755.8" fill="none" stroke="#e0e0e0" stroke-width="1" stroke-dasharray="1 1"/><clipPath id="cp2aI"><rect x="1269.8" y="134.5" width="487.2" height="197.9"/></clipPath><g clip-path="url(#cp2aI)" fill="#c00000"><rect x="1245.9" y="153.6" width="534.2" height="20"/><rect x="1245.9" y="295.6" width="534.2" height="17"/><path d="M1105.8 173.6L1106.4 173.6L1107.8 173.6L1109.9 173.6L1112.4 173.6L1115.4 173.6L1118.9 180.2L1122.9 187.5L1127.2 194.9L1131.9 202.5L1137.1 210L1142.5 217.4L1148.4 224.6L1154.6 231.5L1161.2 238.1L1168 244.2L1175.3 250L1182.8 255.3L1190.7 260.2L1198.8 264.7L1207.3 268.7L1216.1 272.3L1225.1 275.5L1234.5 278.4L1244.2 280.9L1254.1 283.2L1264.3 285.1L1274.8 286.8L1285.6 288.2L1296.7 289.4L1308 290.5L1319.6 291.4L1331.4 292.1L1343.5 292.7L1355.9 293.3L1355.9 310.7L1343.5 310.2L1331.4 309.7L1319.6 309.1L1308 308.3L1296.7 307.3L1285.6 306.2L1274.8 305L1264.3 303.4L1254.1 301.7L1244.2 299.7L1234.5 297.3L1225.1 294.7L1216.1 291.6L1207.3 288.2L1198.8 284.4L1190.7 280.2L1182.8 275.5L1175.3 270.4L1168 264.8L1161.2 258.8L1154.6 252.4L1148.4 245.7L1142.5 238.6L1137.1 231.3L1131.9 223.8L1127.2 216.3L1122.9 208.8L1118.9 201.6L1115.4 194.7L1112.4 188.4L1109.9 182.9L1107.8 178.3L1106.4 175.1L1105.8 173.6Z"/><path d="M1348.6 173.6L1349.2 173.6L1350.6 173.6L1352.7 173.6L1355.2 173.6L1358.2 173.6L1361.7 180.2L1365.7 187.5L1370 194.9L1374.7 202.5L1379.9 210L1385.3 217.4L1391.2 224.6L1397.4 231.5L1404 238.1L1410.8 244.2L1418.1 250L1425.6 255.3L1433.5 260.2L1441.6 264.7L1450.1 268.7L1458.9 272.3L1467.9 275.5L1477.3 278.4L1487 280.9L1496.9 283.2L1507.1 285.1L1517.6 286.8L1528.4 288.2L1539.5 289.4L1550.8 290.5L1562.4 291.4L1574.2 292.1L1586.3 292.7L1598.7 293.3L1598.7 310.7L1586.3 310.2L1574.2 309.7L1562.4 309.1L1550.8 308.3L1539.5 307.3L1528.4 306.2L1517.6 305L1507.1 303.4L1496.9 301.7L1487 299.7L1477.3 297.3L1467.9 294.7L1458.9 291.6L1450.1 288.2L1441.6 284.4L1433.5 280.2L1425.6 275.5L1418.1 270.4L1410.8 264.8L1404 258.8L1397.4 252.4L1391.2 245.7L1385.3 238.6L1379.9 231.3L1374.7 223.8L1370 216.3L1365.7 208.8L1361.7 201.6L1358.2 194.7L1355.2 188.4L1352.7 182.9L1350.6 178.3L1349.2 175.1L1348.6 173.6Z"/><path d="M1591.4 173.6L1592 173.6L1593.4 173.6L1595.5 173.6L1598 173.6L1601 173.6L1604.5 180.2L1608.5 187.5L1612.8 194.9L1617.5 202.5L1622.7 210L1628.1 217.4L1634 224.6L1640.2 231.5L1646.8 238.1L1653.6 244.2L1660.9 250L1668.4 255.3L1676.3 260.2L1684.4 264.7L1692.9 268.7L1701.7 272.3L1710.7 275.5L1720.1 278.4L1729.8 280.9L1739.7 283.2L1749.9 285.1L1760.4 286.8L1771.2 288.2L1782.3 289.4L1793.6 290.5L1805.2 291.4L1817 292.1L1829.1 292.7L1841.5 293.3L1841.5 310.7L1829.1 310.2L1817 309.7L1805.2 309.1L1793.6 308.3L1782.3 307.3L1771.2 306.2L1760.4 305L1749.9 303.4L1739.7 301.7L1729.8 299.7L1720.1 297.3L1710.7 294.7L1701.7 291.6L1692.9 288.2L1684.4 284.4L1676.3 280.2L1668.4 275.5L1660.9 270.4L1653.6 264.8L1646.8 258.8L1640.2 252.4L1634 245.7L1628.1 238.6L1622.7 231.3L1617.5 223.8L1612.8 216.3L1608.5 208.8L1604.5 201.6L1601 194.7L1598 188.4L1595.5 182.9L1593.4 178.3L1592 175.1L1591.4 173.6Z"/><path d="M1105.8 295.6L1106.4 294.1L1107.8 290.8L1109.9 286.1L1112.4 280.4L1115.4 274L1118.9 267L1122.9 259.6L1127.2 252L1131.9 244.3L1137.1 236.7L1142.5 229.2L1148.4 222L1154.6 215.1L1161.2 208.5L1168 202.4L1175.3 196.7L1182.8 191.5L1190.7 186.7L1198.8 182.4L1207.3 178.5L1216.1 175L1225.1 171.9L1234.5 169.2L1244.2 166.8L1254.1 164.7L1264.3 163L1274.8 161.4L1285.6 160.1L1296.7 159L1308 158L1319.6 157.2L1331.4 156.6L1343.5 156L1355.9 155.5L1355.9 175.9L1343.5 176.5L1331.4 177.1L1319.6 177.8L1308 178.7L1296.7 179.8L1285.6 181L1274.8 182.4L1264.3 184.1L1254.1 186L1244.2 188.3L1234.5 190.8L1225.1 193.7L1216.1 196.9L1207.3 200.5L1198.8 204.5L1190.7 209L1182.8 213.9L1175.3 219.2L1168 225L1161.2 231.1L1154.6 237.7L1148.4 244.6L1142.5 251.8L1137.1 259.2L1131.9 266.7L1127.2 274.3L1122.9 281.7L1118.9 289L1115.4 295.6L1112.4 295.6L1109.9 295.6L1107.8 295.6L1106.4 295.6L1105.8 295.6Z"/><path d="M1348.6 295.6L1349.2 294.1L1350.6 290.8L1352.7 286.1L1355.2 280.4L1358.2 274L1361.7 267L1365.7 259.6L1370 252L1374.7 244.3L1379.9 236.7L1385.3 229.2L1391.2 222L1397.4 215.1L1404 208.5L1410.8 202.4L1418.1 196.7L1425.6 191.5L1433.5 186.7L1441.6 182.4L1450.1 178.5L1458.9 175L1467.9 171.9L1477.3 169.2L1487 166.8L1496.9 164.7L1507.1 163L1517.6 161.4L1528.4 160.1L1539.5 159L1550.8 158L1562.4 157.2L1574.2 156.6L1586.3 156L1598.7 155.5L1598.7 175.9L1586.3 176.5L1574.2 177.1L1562.4 177.8L1550.8 178.7L1539.5 179.8L1528.4 181L1517.6 182.4L1507.1 184.1L1496.9 186L1487 188.3L1477.3 190.8L1467.9 193.7L1458.9 196.9L1450.1 200.5L1441.6 204.5L1433.5 209L1425.6 213.9L1418.1 219.2L1410.8 225L1404 231.1L1397.4 237.7L1391.2 244.6L1385.3 251.8L1379.9 259.2L1374.7 266.7L1370 274.3L1365.7 281.7L1361.7 289L1358.2 295.6L1355.2 295.6L1352.7 295.6L1350.6 295.6L1349.2 295.6L1348.6 295.6Z"/><path d="M1591.4 295.6L1592 294.1L1593.4 290.8L1595.5 286.1L1598 280.4L1601 274L1604.5 267L1608.5 259.6L1612.8 252L1617.5 244.3L1622.7 236.7L1628.1 229.2L1634 222L1640.2 215.1L1646.8 208.5L1653.6 202.4L1660.9 196.7L1668.4 191.5L1676.3 186.7L1684.4 182.4L1692.9 178.5L1701.7 175L1710.7 171.9L1720.1 169.2L1729.8 166.8L1739.7 164.7L1749.9 163L1760.4 161.4L1771.2 160.1L1782.3 159L1793.6 158L1805.2 157.2L1817 156.6L1829.1 156L1841.5 155.5L1841.5 175.9L1829.1 176.5L1817 177.1L1805.2 177.8L1793.6 178.7L1782.3 179.8L1771.2 181L1760.4 182.4L1749.9 184.1L1739.7 186L1729.8 188.3L1720.1 190.8L1710.7 193.7L1701.7 196.9L1692.9 200.5L1684.4 204.5L1676.3 209L1668.4 213.9L1660.9 219.2L1653.6 225L1646.8 231.1L1640.2 237.7L1634 244.6L1628.1 251.8L1622.7 259.2L1617.5 266.7L1612.8 274.3L1608.5 281.7L1604.5 289L1601 295.6L1598 295.6L1595.5 295.6L1593.4 295.6L1592 295.6L1591.4 295.6Z"/></g><path d="M1262.4 138V328.9M1259.2 138.5H1262.4M1259.2 144.8H1262.4M1259.2 151.2H1262.4M1259.2 157.5H1262.4M1259.2 163.8H1262.4M1259.2 170.2H1262.4M1259.2 176.5H1262.4M1259.2 182.8H1262.4M1259.2 189.1H1262.4M1259.2 195.5H1262.4M1259.2 201.8H1262.4M1259.2 208.1H1262.4M1259.2 214.5H1262.4M1259.2 220.8H1262.4M1259.2 227.1H1262.4M1259.2 233.4H1262.4M1259.2 239.8H1262.4M1259.2 246.1H1262.4M1259.2 252.4H1262.4M1259.2 258.8H1262.4M1259.2 265.1H1262.4M1259.2 271.4H1262.4M1259.2 277.8H1262.4M1259.2 284.1H1262.4M1259.2 290.4H1262.4M1259.2 296.8H1262.4M1259.2 303.1H1262.4M1259.2 309.4H1262.4M1259.2 315.7H1262.4M1259.2 322.1H1262.4M1259.2 328.4H1262.4M1256.1 138.5H1262.9M1256.1 201.8H1262.9M1256.1 265.1H1262.9M1256.1 328.4H1262.9" fill="none" stroke="#303030" stroke-width="1.15"/><text x="1252.8" y="143" font-size="13.1" text-anchor="end">28.4</text><text x="1252.8" y="206.3" font-size="13.1" text-anchor="end">3.68</text><text x="1252.8" y="269.6" font-size="13.1" text-anchor="end">-21.0</text><text x="1252.8" y="332.9" font-size="13.1" text-anchor="end">-45.7</text><text transform="translate(1217.6 233.4) rotate(-90)" class="r" font-size="13.1" text-anchor="middle">(I) Amplitude (mV)</text><path d="M1330.9 347.9V539.4M1452.3 347.9V539.4M1573.7 347.9V539.4M1695.1 347.9V539.4M1270.2 356.6H1755.8M1270.2 366.3H1755.8M1270.2 375.9H1755.8M1270.2 385.5H1755.8M1270.2 395.2H1755.8M1270.2 404.8H1755.8M1270.2 414.5H1755.8M1270.2 424.1H1755.8M1270.2 433.7H1755.8M1270.2 443.4H1755.8M1270.2 453H1755.8M1270.2 462.7H1755.8M1270.2 472.3H1755.8M1270.2 481.9H1755.8M1270.2 491.6H1755.8M1270.2 501.2H1755.8M1270.2 510.9H1755.8M1270.2 520.5H1755.8M1270.2 530.1H1755.8" fill="none" stroke="#f0f0f0" stroke-width="1" stroke-dasharray="1 1"/><path d="M1270.2 347.9V539.4M1391.6 347.9V539.4M1513 347.9V539.4M1634.4 347.9V539.4M1755.8 347.9V539.4M1270.2 375.9H1755.8M1270.2 424.1H1755.8M1270.2 472.2H1755.8M1270.2 520.4H1755.8" fill="none" stroke="#e0e0e0" stroke-width="1" stroke-dasharray="1 1"/><clipPath id="cp2aQ"><rect x="1269.8" y="343.9" width="487.2" height="199.5"/></clipPath><g clip-path="url(#cp2aQ)" fill="#0000ff"><rect x="1245.9" y="363.3" width="534.2" height="17.7"/><rect x="1245.9" y="505.6" width="534.2" height="18.6"/><path d="M1105.1 381L1105.7 381L1107.1 381L1109.1 381L1111.7 381L1114.7 381L1118.2 386.7L1122.1 394L1126.5 401.6L1131.2 409.2L1136.3 416.9L1141.8 424.4L1147.7 431.7L1153.9 438.8L1160.4 445.5L1167.3 451.8L1174.5 457.7L1182.1 463.2L1189.9 468.3L1198.1 472.9L1206.6 477.1L1215.3 480.8L1224.4 484.2L1233.8 487.2L1243.4 489.9L1253.4 492.2L1263.6 494.2L1274.1 496L1284.9 497.5L1295.9 498.9L1307.2 500L1318.8 500.9L1330.7 501.8L1342.8 502.4L1355.2 503L1355.2 522.2L1342.8 521.8L1330.7 521.2L1318.8 520.5L1307.2 519.7L1295.9 518.8L1284.9 517.7L1274.1 516.3L1263.6 514.8L1253.4 513L1243.4 510.9L1233.8 508.5L1224.4 505.7L1215.3 502.6L1206.6 499.1L1198.1 495.2L1189.9 490.8L1182.1 486L1174.5 480.7L1167.3 475L1160.4 468.8L1153.9 462.2L1147.7 455.2L1141.8 447.9L1136.3 440.4L1131.2 432.7L1126.5 425L1122.1 417.3L1118.2 409.8L1114.7 402.8L1111.7 396.3L1109.1 390.6L1107.1 385.9L1105.7 382.5L1105.1 381Z"/><path d="M1347.9 381L1348.5 381L1349.9 381L1351.9 381L1354.5 381L1357.5 381L1361 386.7L1364.9 394L1369.3 401.6L1374 409.2L1379.1 416.9L1384.6 424.4L1390.5 431.7L1396.7 438.8L1403.2 445.5L1410.1 451.8L1417.3 457.7L1424.9 463.2L1432.7 468.3L1440.9 472.9L1449.4 477.1L1458.1 480.8L1467.2 484.2L1476.6 487.2L1486.2 489.9L1496.2 492.2L1506.4 494.2L1516.9 496L1527.7 497.5L1538.7 498.9L1550 500L1561.6 500.9L1573.5 501.8L1585.6 502.4L1598 503L1598 522.2L1585.6 521.8L1573.5 521.2L1561.6 520.5L1550 519.7L1538.7 518.8L1527.7 517.7L1516.9 516.3L1506.4 514.8L1496.2 513L1486.2 510.9L1476.6 508.5L1467.2 505.7L1458.1 502.6L1449.4 499.1L1440.9 495.2L1432.7 490.8L1424.9 486L1417.3 480.7L1410.1 475L1403.2 468.8L1396.7 462.2L1390.5 455.2L1384.6 447.9L1379.1 440.4L1374 432.7L1369.3 425L1364.9 417.3L1361 409.8L1357.5 402.8L1354.5 396.3L1351.9 390.6L1349.9 385.9L1348.5 382.5L1347.9 381Z"/><path d="M1590.7 381L1591.3 381L1592.7 381L1594.7 381L1597.3 381L1600.3 381L1603.8 386.7L1607.7 394L1612.1 401.6L1616.8 409.2L1621.9 416.9L1627.4 424.4L1633.3 431.7L1639.5 438.8L1646 445.5L1652.9 451.8L1660.1 457.7L1667.7 463.2L1675.5 468.3L1683.7 472.9L1692.2 477.1L1700.9 480.8L1710 484.2L1719.4 487.2L1729 489.9L1739 492.2L1749.2 494.2L1759.7 496L1770.5 497.5L1781.5 498.9L1792.8 500L1804.4 500.9L1816.3 501.8L1828.4 502.4L1840.8 503L1840.8 522.2L1828.4 521.8L1816.3 521.2L1804.4 520.5L1792.8 519.7L1781.5 518.8L1770.5 517.7L1759.7 516.3L1749.2 514.8L1739 513L1729 510.9L1719.4 508.5L1710 505.7L1700.9 502.6L1692.2 499.1L1683.7 495.2L1675.5 490.8L1667.7 486L1660.1 480.7L1652.9 475L1646 468.8L1639.5 462.2L1633.3 455.2L1627.4 447.9L1621.9 440.4L1616.8 432.7L1612.1 425L1607.7 417.3L1603.8 409.8L1600.3 402.8L1597.3 396.3L1594.7 390.6L1592.7 385.9L1591.3 382.5L1590.7 381Z"/><path d="M1105.1 505.6L1105.7 504.1L1107.1 500.7L1109.1 496.1L1111.7 490.4L1114.7 484L1118.2 476.9L1122.1 469.5L1126.5 461.9L1131.2 454.2L1136.3 446.6L1141.8 439.1L1147.7 431.8L1153.9 424.9L1160.4 418.4L1167.3 412.2L1174.5 406.5L1182.1 401.3L1189.9 396.5L1198.1 392.1L1206.6 388.2L1215.3 384.8L1224.4 381.7L1233.8 378.9L1243.4 376.5L1253.4 374.5L1263.6 372.7L1274.1 371.1L1284.9 369.8L1295.9 368.7L1307.2 367.7L1318.8 366.9L1330.7 366.3L1342.8 365.7L1355.2 365.2L1355.2 383.6L1342.8 384.2L1330.7 384.8L1318.8 385.7L1307.2 386.6L1295.9 387.7L1284.9 389.1L1274.1 390.6L1263.6 392.4L1253.4 394.4L1243.4 396.7L1233.8 399.4L1224.4 402.4L1215.3 405.8L1206.6 409.5L1198.1 413.7L1189.9 418.3L1182.1 423.4L1174.5 428.9L1167.3 434.8L1160.4 441.1L1153.9 447.8L1147.7 454.9L1141.8 462.2L1136.3 469.7L1131.2 477.4L1126.5 485L1122.1 492.6L1118.2 499.9L1114.7 505.6L1111.7 505.6L1109.1 505.6L1107.1 505.6L1105.7 505.6L1105.1 505.6Z"/><path d="M1347.9 505.6L1348.5 504.1L1349.9 500.7L1351.9 496.1L1354.5 490.4L1357.5 484L1361 476.9L1364.9 469.5L1369.3 461.9L1374 454.2L1379.1 446.6L1384.6 439.1L1390.5 431.8L1396.7 424.9L1403.2 418.4L1410.1 412.2L1417.3 406.5L1424.9 401.3L1432.7 396.5L1440.9 392.1L1449.4 388.2L1458.1 384.8L1467.2 381.7L1476.6 378.9L1486.2 376.5L1496.2 374.5L1506.4 372.7L1516.9 371.1L1527.7 369.8L1538.7 368.7L1550 367.7L1561.6 366.9L1573.5 366.3L1585.6 365.7L1598 365.2L1598 383.6L1585.6 384.2L1573.5 384.8L1561.6 385.7L1550 386.6L1538.7 387.7L1527.7 389.1L1516.9 390.6L1506.4 392.4L1496.2 394.4L1486.2 396.7L1476.6 399.4L1467.2 402.4L1458.1 405.8L1449.4 409.5L1440.9 413.7L1432.7 418.3L1424.9 423.4L1417.3 428.9L1410.1 434.8L1403.2 441.1L1396.7 447.8L1390.5 454.9L1384.6 462.2L1379.1 469.7L1374 477.4L1369.3 485L1364.9 492.6L1361 499.9L1357.5 505.6L1354.5 505.6L1351.9 505.6L1349.9 505.6L1348.5 505.6L1347.9 505.6Z"/><path d="M1590.7 505.6L1591.3 504.1L1592.7 500.7L1594.7 496.1L1597.3 490.4L1600.3 484L1603.8 476.9L1607.7 469.5L1612.1 461.9L1616.8 454.2L1621.9 446.6L1627.4 439.1L1633.3 431.8L1639.5 424.9L1646 418.4L1652.9 412.2L1660.1 406.5L1667.7 401.3L1675.5 396.5L1683.7 392.1L1692.2 388.2L1700.9 384.8L1710 381.7L1719.4 378.9L1729 376.5L1739 374.5L1749.2 372.7L1759.7 371.1L1770.5 369.8L1781.5 368.7L1792.8 367.7L1804.4 366.9L1816.3 366.3L1828.4 365.7L1840.8 365.2L1840.8 383.6L1828.4 384.2L1816.3 384.8L1804.4 385.7L1792.8 386.6L1781.5 387.7L1770.5 389.1L1759.7 390.6L1749.2 392.4L1739 394.4L1729 396.7L1719.4 399.4L1710 402.4L1700.9 405.8L1692.2 409.5L1683.7 413.7L1675.5 418.3L1667.7 423.4L1660.1 428.9L1652.9 434.8L1646 441.1L1639.5 447.8L1633.3 454.9L1627.4 462.2L1621.9 469.7L1616.8 477.4L1612.1 485L1607.7 492.6L1603.8 499.9L1600.3 505.6L1597.3 505.6L1594.7 505.6L1592.7 505.6L1591.3 505.6L1590.7 505.6Z"/></g><path d="M1262.4 347.4V539.9M1259.2 351.8H1262.4M1259.2 356.6H1262.4M1259.2 361.4H1262.4M1259.2 366.3H1262.4M1259.2 371.1H1262.4M1259.2 375.9H1262.4M1259.2 380.7H1262.4M1259.2 385.5H1262.4M1259.2 390.4H1262.4M1259.2 395.2H1262.4M1259.2 400H1262.4M1259.2 404.8H1262.4M1259.2 409.6H1262.4M1259.2 414.5H1262.4M1259.2 419.3H1262.4M1259.2 424.1H1262.4M1259.2 428.9H1262.4M1259.2 433.7H1262.4M1259.2 438.6H1262.4M1259.2 443.4H1262.4M1259.2 448.2H1262.4M1259.2 453H1262.4M1259.2 457.8H1262.4M1259.2 462.7H1262.4M1259.2 467.5H1262.4M1259.2 472.3H1262.4M1259.2 477.1H1262.4M1259.2 481.9H1262.4M1259.2 486.8H1262.4M1259.2 491.6H1262.4M1259.2 496.4H1262.4M1259.2 501.2H1262.4M1259.2 506H1262.4M1259.2 510.9H1262.4M1259.2 515.7H1262.4M1259.2 520.5H1262.4M1259.2 525.3H1262.4M1259.2 530.1H1262.4M1259.2 535H1262.4M1256.1 375.9H1262.9M1256.1 424.1H1262.9M1256.1 472.2H1262.9M1256.1 520.4H1262.9" fill="none" stroke="#303030" stroke-width="1.15"/><text x="1252.8" y="380.4" font-size="13.1" text-anchor="end">20.0</text><text x="1252.8" y="428.6" font-size="13.1" text-anchor="end">0.0</text><text x="1252.8" y="476.7" font-size="13.1" text-anchor="end">-20.0</text><text x="1252.8" y="524.9" font-size="13.1" text-anchor="end">-40.0</text><text transform="translate(1217.6 443.6) rotate(-90)" class="r" font-size="13.1" text-anchor="middle">(Q) Amplitude (mV)</text><path d="M1269.7 544.3H1756.3M1270.2 544.3V549.9M1282.3 544.3V547.3M1294.5 544.3V547.3M1306.6 544.3V547.3M1318.8 544.3V547.3M1330.9 544.3V547.3M1343 544.3V547.3M1355.2 544.3V547.3M1367.3 544.3V547.3M1379.5 544.3V547.3M1391.6 544.3V549.9M1403.7 544.3V547.3M1415.9 544.3V547.3M1428 544.3V547.3M1440.2 544.3V547.3M1452.3 544.3V547.3M1464.4 544.3V547.3M1476.6 544.3V547.3M1488.7 544.3V547.3M1500.9 544.3V547.3M1513 544.3V549.9M1525.1 544.3V547.3M1537.3 544.3V547.3M1549.4 544.3V547.3M1561.6 544.3V547.3M1573.7 544.3V547.3M1585.8 544.3V547.3M1598 544.3V547.3M1610.1 544.3V547.3M1622.3 544.3V547.3M1634.4 544.3V549.9M1646.5 544.3V547.3M1658.7 544.3V547.3M1670.8 544.3V547.3M1683 544.3V547.3M1695.1 544.3V547.3M1707.2 544.3V547.3M1719.4 544.3V547.3M1731.5 544.3V547.3M1743.7 544.3V547.3M1755.8 544.3V549.9" fill="none" stroke="#303030" stroke-width="1.15"/><text x="1270.2" y="561.1" font-size="13.1" text-anchor="middle">0.0</text><text x="1391.6" y="561.1" font-size="13.1" text-anchor="middle">5.0</text><text x="1513" y="561.1" font-size="13.1" text-anchor="middle">10.0</text><text x="1634.4" y="561.1" font-size="13.1" text-anchor="middle">15.0</text><text x="1755.8" y="561.1" font-size="13.1" text-anchor="middle">20.0</text><text x="1512.1" y="575.2" font-size="13.1" text-anchor="middle">time (ps)</text><path d="M127.9 724.9V915M249.3 724.9V915M370.7 724.9V915M492.1 724.9V915M67.2 756.6H552.8M67.2 820H552.8M67.2 883.3H552.8" fill="none" stroke="#f0f0f0" stroke-width="1" stroke-dasharray="1 1"/><path d="M67.2 724.9V915M188.6 724.9V915M310 724.9V915M431.4 724.9V915M552.8 724.9V915M67.2 724.9H552.8M67.2 788.3H552.8M67.2 851.6H552.8M67.2 915H552.8" fill="none" stroke="#e0e0e0" stroke-width="1" stroke-dasharray="1 1"/><clipPath id="cp0bI"><rect x="66.8" y="720.9" width="487.2" height="198.1"/></clipPath><g clip-path="url(#cp0bI)" fill="#c00000"><rect x="42.9" y="739.9" width="534.2" height="160.4"/><path d="M27.1 761.6L112.1 748.6L123 761.6Z" fill="#fff"/><path d="M269.9 761.6L354.9 748.6L365.8 761.6Z" fill="#fff"/><path d="M512.7 761.6L597.7 748.6L608.6 761.6Z" fill="#fff"/><path d="M17.2 878.8L113.3 892.6L125.5 878.8Z" fill="#fff"/><path d="M260 878.8L356.1 892.6L368.3 878.8Z" fill="#fff"/><path d="M502.8 878.8L598.9 892.6L611.1 878.8Z" fill="#fff"/><path d="M-119.8 742.3L64.8 742.3L64.8 742.3L62.6 742.5L60.5 742.8L58.4 743L56.2 743.2L54.1 743.5L47.3 744.4L40.6 745.4L33.8 746.4L27.1 747.5L20.3 748.6L13.6 749.8L6.8 751.2L0.1 752.6L-6.7 753.9L-13.4 755.2L-20.2 756.3L-27 757.4L-33.8 758.4L-40.6 759.4L-47.4 760.5L-54.2 761.8L-60.9 763.3L-67.7 764.7L-74.4 765.8L-81.2 766.2L-83.9 766L-86.6 765.3L-89.3 764.3L-92 763.2L-94.7 762L-97.1 760.8L-99.5 759.2L-101.9 757.5L-104.3 755.6L-106.6 753.7L-109.3 751.6L-111.9 749.4L-114.5 747.2L-117.1 744.8L-119.8 742.3Z" fill="#fff"/><path d="M123 742.3L307.6 742.3L307.6 742.3L305.4 742.5L303.3 742.8L301.2 743L299 743.2L296.9 743.5L290.1 744.4L283.4 745.4L276.6 746.4L269.9 747.5L263.1 748.6L256.4 749.8L249.6 751.2L242.9 752.6L236.1 753.9L229.4 755.2L222.6 756.3L215.8 757.4L209 758.4L202.2 759.4L195.4 760.5L188.6 761.8L181.9 763.3L175.1 764.7L168.4 765.8L161.6 766.2L158.9 766L156.2 765.3L153.5 764.3L150.8 763.2L148.1 762L145.7 760.8L143.3 759.2L140.9 757.5L138.5 755.6L136.2 753.7L133.5 751.6L130.9 749.4L128.3 747.2L125.7 744.8L123 742.3Z" fill="#fff"/><path d="M365.8 742.3L550.4 742.3L550.4 742.3L548.2 742.5L546.1 742.8L544 743L541.8 743.2L539.7 743.5L532.9 744.4L526.2 745.4L519.4 746.4L512.7 747.5L505.9 748.6L499.2 749.8L492.4 751.2L485.7 752.6L478.9 753.9L472.2 755.2L465.4 756.3L458.6 757.4L451.8 758.4L445 759.4L438.2 760.5L431.4 761.8L424.7 763.3L417.9 764.7L411.2 765.8L404.4 766.2L401.7 766L399 765.3L396.3 764.3L393.6 763.2L390.9 762L388.5 760.8L386.1 759.2L383.7 757.5L381.3 755.6L379 753.7L376.3 751.6L373.7 749.4L371.1 747.2L368.5 744.8L365.8 742.3Z" fill="#fff"/><path d="M-116.1 898.2L47.8 898.2L47.8 898.2L43.9 898L40.1 897.7L36.3 897.4L32.4 897.1L28.6 896.7L22.1 896L15.6 895.3L9.1 894.5L2.6 893.6L-3.9 892.6L-10.4 891.5L-17 890.3L-23.5 888.9L-30 887.5L-36.5 886.1L-43 884.4L-49.5 882.3L-56 880.3L-62.5 878.8L-69 878.2L-72.3 878.3L-75.5 878.5L-78.8 878.9L-82 879.3L-85.3 879.8L-88.5 880.5L-91.8 881.5L-95 882.8L-98.3 884.4L-101.5 886.1L-103.7 887.6L-105.9 889.5L-108.1 891.6L-110.3 893.7L-112.5 895.6L-113.2 896.2L-113.9 896.7L-114.7 897.2L-115.4 897.7L-116.1 898.2Z" fill="#fff"/><path d="M126.7 898.2L290.6 898.2L290.6 898.2L286.7 898L282.9 897.7L279.1 897.4L275.2 897.1L271.4 896.7L264.9 896L258.4 895.3L251.9 894.5L245.4 893.6L238.9 892.6L232.4 891.5L225.8 890.3L219.3 888.9L212.8 887.5L206.3 886.1L199.8 884.4L193.3 882.3L186.8 880.3L180.3 878.8L173.8 878.2L170.5 878.3L167.3 878.5L164 878.9L160.8 879.3L157.5 879.8L154.3 880.5L151 881.5L147.8 882.8L144.5 884.4L141.3 886.1L139.1 887.6L136.9 889.5L134.7 891.6L132.5 893.7L130.3 895.6L129.6 896.2L128.9 896.7L128.1 897.2L127.4 897.7L126.7 898.2Z" fill="#fff"/><path d="M369.5 898.2L533.4 898.2L533.4 898.2L529.5 898L525.7 897.7L521.9 897.4L518 897.1L514.2 896.7L507.7 896L501.2 895.3L494.7 894.5L488.2 893.6L481.7 892.6L475.2 891.5L468.6 890.3L462.1 888.9L455.6 887.5L449.1 886.1L442.6 884.4L436.1 882.3L429.6 880.3L423.1 878.8L416.6 878.2L413.3 878.3L410.1 878.5L406.8 878.9L403.6 879.3L400.3 879.8L397.1 880.5L393.8 881.5L390.6 882.8L387.3 884.4L384.1 886.1L381.9 887.6L379.7 889.5L377.5 891.6L375.3 893.7L373.1 895.6L372.4 896.2L371.7 896.7L370.9 897.2L370.2 897.7L369.5 898.2Z" fill="#fff"/><path d="M-119.8 743.4L-116.4 744.4L-113 745.4L-109.6 746.3L-106.2 747.2L-102.8 748L-98.4 748.9L-94.1 749.8L-89.8 750.6L-85.5 751.3L-81.2 752L-75.1 752.9L-69 753.7L-62.9 754.5L-56.9 755.3L-50.8 756.2L-47.1 756.8L-43.4 757.5L-39.7 758.2L-36 759L-32.3 759.8" fill="none" stroke="#c00000" stroke-width="2.2" stroke-linejoin="round"/><path d="M123 743.4L126.4 744.4L129.8 745.4L133.2 746.3L136.6 747.2L140 748L144.4 748.9L148.7 749.8L153 750.6L157.3 751.3L161.6 752L167.7 752.9L173.8 753.7L179.9 754.5L185.9 755.3L192 756.2L195.7 756.8L199.4 757.5L203.1 758.2L206.8 759L210.5 759.8" fill="none" stroke="#c00000" stroke-width="2.2" stroke-linejoin="round"/><path d="M365.8 743.4L369.2 744.4L372.6 745.4L376 746.3L379.4 747.2L382.8 748L387.2 748.9L391.5 749.8L395.8 750.6L400.1 751.3L404.4 752L410.5 752.9L416.6 753.7L422.7 754.5L428.7 755.3L434.8 756.2L438.5 756.8L442.2 757.5L445.9 758.2L449.6 759L453.3 759.8" fill="none" stroke="#c00000" stroke-width="2.2" stroke-linejoin="round"/><path d="M-118.5 744L-116.4 745.4L-114.2 746.7L-112 748L-109.8 749.3L-107.6 750.5L-105.2 751.8L-102.8 753L-100.3 754.3L-97.9 755.4L-95.5 756.5L-91.6 758.2L-87.7 759.8L-83.8 761.3L-79.9 762.7L-76.1 764" fill="none" stroke="#c00000" stroke-width="2.6" stroke-linejoin="round"/><path d="M124.3 744L126.4 745.4L128.6 746.7L130.8 748L133 749.3L135.2 750.5L137.6 751.8L140 753L142.5 754.3L144.9 755.4L147.3 756.5L151.2 758.2L155.1 759.8L159 761.3L162.9 762.7L166.7 764" fill="none" stroke="#c00000" stroke-width="2.6" stroke-linejoin="round"/><path d="M367.1 744L369.2 745.4L371.4 746.7L373.6 748L375.8 749.3L378 750.5L380.4 751.8L382.8 753L385.3 754.3L387.7 755.4L390.1 756.5L394 758.2L397.9 759.8L401.8 761.3L405.7 762.7L409.5 764" fill="none" stroke="#c00000" stroke-width="2.6" stroke-linejoin="round"/><path d="M-105.2 759L-102.3 757.7L-99.4 756.4L-96.4 755.2L-93.5 754.2L-90.6 753.4L-82 751.6L-73.3 750.1L-64.7 748.9L-56 747.9L-47.4 747L-37.3 746.1L-27.1 745.3L-17 744.7L-6.8 744.1L3.3 743.6L9.3 743.4L15.3 743.1L21.3 742.9L27.2 742.7L33.2 742.6" fill="none" stroke="#c00000" stroke-width="2.4" stroke-linejoin="round"/><path d="M137.6 759L140.5 757.7L143.4 756.4L146.4 755.2L149.3 754.2L152.2 753.4L160.8 751.6L169.5 750.1L178.1 748.9L186.8 747.9L195.4 747L205.5 746.1L215.7 745.3L225.8 744.7L236 744.1L246.1 743.6L252.1 743.4L258.1 743.1L264.1 742.9L270 742.7L276 742.6" fill="none" stroke="#c00000" stroke-width="2.4" stroke-linejoin="round"/><path d="M380.4 759L383.3 757.7L386.2 756.4L389.2 755.2L392.1 754.2L395 753.4L403.6 751.6L412.3 750.1L420.9 748.9L429.6 747.9L438.2 747L448.3 746.1L458.5 745.3L468.6 744.7L478.8 744.1L488.9 743.6L494.9 743.4L500.9 743.1L506.9 742.9L512.8 742.7L518.8 742.6" fill="none" stroke="#c00000" stroke-width="2.4" stroke-linejoin="round"/><path d="M-95.5 762.5L-91.1 761.6L-86.7 760.8L-82.4 760L-78 759.3L-73.6 758.6L-68.4 757.9L-63.1 757.2L-57.9 756.5L-52.6 755.9L-47.4 755.2L-37.3 753.8L-27.1 752.4L-17 751L-6.8 749.6L3.3 748.4L10.1 747.7L16.9 747L23.7 746.3L30.5 745.6L37.3 745L41.4 744.6L45.4 744.3L49.4 743.9L53.5 743.5L57.5 743.2" fill="none" stroke="#c00000" stroke-width="2.4" stroke-linejoin="round"/><path d="M147.3 762.5L151.7 761.6L156.1 760.8L160.4 760L164.8 759.3L169.2 758.6L174.4 757.9L179.7 757.2L184.9 756.5L190.2 755.9L195.4 755.2L205.5 753.8L215.7 752.4L225.8 751L236 749.6L246.1 748.4L252.9 747.7L259.7 747L266.5 746.3L273.3 745.6L280.1 745L284.2 744.6L288.2 744.3L292.2 743.9L296.3 743.5L300.3 743.2" fill="none" stroke="#c00000" stroke-width="2.4" stroke-linejoin="round"/><path d="M390.1 762.5L394.5 761.6L398.9 760.8L403.2 760L407.6 759.3L412 758.6L417.2 757.9L422.5 757.2L427.7 756.5L433 755.9L438.2 755.2L448.3 753.8L458.5 752.4L468.6 751L478.8 749.6L488.9 748.4L495.7 747.7L502.5 747L509.3 746.3L516.1 745.6L522.9 745L527 744.6L531 744.3L535 743.9L539.1 743.5L543.1 743.2" fill="none" stroke="#c00000" stroke-width="2.4" stroke-linejoin="round"/><path d="M-102.8 758.5L-97.9 758.1L-93 757.6L-88.2 757.1L-83.3 756.6L-78.5 756L-72.3 755.1L-66 754.2L-59.8 753.1L-53.6 752.1L-47.4 751.2L-39 750.1L-30.7 749.1L-22.3 748.1L-14 747.2L-5.6 746.4L2.1 745.7L9.9 745.1L17.7 744.5L25.4 744L33.2 743.6" fill="none" stroke="#c00000" stroke-width="2" stroke-linejoin="round"/><path d="M140 758.5L144.9 758.1L149.8 757.6L154.6 757.1L159.5 756.6L164.3 756L170.5 755.1L176.8 754.2L183 753.1L189.2 752.1L195.4 751.2L203.8 750.1L212.1 749.1L220.5 748.1L228.8 747.2L237.2 746.4L244.9 745.7L252.7 745.1L260.5 744.5L268.2 744L276 743.6" fill="none" stroke="#c00000" stroke-width="2" stroke-linejoin="round"/><path d="M382.8 758.5L387.7 758.1L392.6 757.6L397.4 757.1L402.3 756.6L407.1 756L413.3 755.1L419.6 754.2L425.8 753.1L432 752.1L438.2 751.2L446.6 750.1L454.9 749.1L463.3 748.1L471.6 747.2L480 746.4L487.7 745.7L495.5 745.1L503.3 744.5L511 744L518.8 743.6" fill="none" stroke="#c00000" stroke-width="2" stroke-linejoin="round"/><path d="M-88.2 764.5L-83.3 763.8L-78.5 763.2L-73.6 762.5L-68.8 761.8L-63.9 761.2L-58.1 760.4L-52.3 759.7L-46.4 758.9L-40.6 758.2L-34.8 757.4L-27 756.3L-19.2 755.1L-11.5 753.9L-3.7 752.7L4.1 751.6L11.4 750.6L18.6 749.5L25.9 748.5L33.2 747.6L40.5 746.6" fill="none" stroke="#c00000" stroke-width="2.6" stroke-linejoin="round"/><path d="M154.6 764.5L159.5 763.8L164.3 763.2L169.2 762.5L174 761.8L178.9 761.2L184.7 760.4L190.5 759.7L196.4 758.9L202.2 758.2L208 757.4L215.8 756.3L223.6 755.1L231.3 753.9L239.1 752.7L246.9 751.6L254.2 750.6L261.4 749.5L268.7 748.5L276 747.6L283.3 746.6" fill="none" stroke="#c00000" stroke-width="2.6" stroke-linejoin="round"/><path d="M397.4 764.5L402.3 763.8L407.1 763.2L412 762.5L416.8 761.8L421.7 761.2L427.5 760.4L433.3 759.7L439.2 758.9L445 758.2L450.8 757.4L458.6 756.3L466.4 755.1L474.1 753.9L481.9 752.7L489.7 751.6L497 750.6L504.2 749.5L511.5 748.5L518.8 747.6L526.1 746.6" fill="none" stroke="#c00000" stroke-width="2.6" stroke-linejoin="round"/><path d="M-112.5 748.5L-108.6 749.1L-104.7 749.6L-100.8 750L-96.9 750.3L-93 750.4L-87.2 750.3L-81.4 749.9L-75.6 749.4L-69.7 748.9L-63.9 748.4L-56.1 747.7L-48.4 747L-40.6 746.3L-32.8 745.6L-25.1 745L-18.3 744.6L-11.5 744.2L-4.7 743.8L2.1 743.5L8.9 743.2" fill="none" stroke="#c00000" stroke-width="1.8" stroke-linejoin="round"/><path d="M130.3 748.5L134.2 749.1L138.1 749.6L142 750L145.9 750.3L149.8 750.4L155.6 750.3L161.4 749.9L167.2 749.4L173.1 748.9L178.9 748.4L186.7 747.7L194.4 747L202.2 746.3L210 745.6L217.7 745L224.5 744.6L231.3 744.2L238.1 743.8L244.9 743.5L251.7 743.2" fill="none" stroke="#c00000" stroke-width="1.8" stroke-linejoin="round"/><path d="M373.1 748.5L377 749.1L380.9 749.6L384.8 750L388.7 750.3L392.6 750.4L398.4 750.3L404.2 749.9L410 749.4L415.9 748.9L421.7 748.4L429.5 747.7L437.2 747L445 746.3L452.8 745.6L460.5 745L467.3 744.6L474.1 744.2L480.9 743.8L487.7 743.5L494.5 743.2" fill="none" stroke="#c00000" stroke-width="1.8" stroke-linejoin="round"/><path d="M-114.9 745L-109.6 745.2L-104.2 745.4L-98.9 745.5L-93.5 745.6L-88.2 745.6L-81.4 745.5L-74.6 745.4L-67.8 745.1L-61 744.9L-54.2 744.6L-46.4 744.3L-38.7 744L-30.9 743.7L-23.1 743.4L-15.4 743" fill="none" stroke="#c00000" stroke-width="1.6" stroke-linejoin="round"/><path d="M127.9 745L133.2 745.2L138.6 745.4L143.9 745.5L149.3 745.6L154.6 745.6L161.4 745.5L168.2 745.4L175 745.1L181.8 744.9L188.6 744.6L196.4 744.3L204.1 744L211.9 743.7L219.7 743.4L227.4 743" fill="none" stroke="#c00000" stroke-width="1.6" stroke-linejoin="round"/><path d="M370.7 745L376 745.2L381.4 745.4L386.7 745.5L392.1 745.6L397.4 745.6L404.2 745.5L411 745.4L417.8 745.1L424.6 744.9L431.4 744.6L439.2 744.3L446.9 744L454.7 743.7L462.5 743.4L470.2 743" fill="none" stroke="#c00000" stroke-width="1.6" stroke-linejoin="round"/><path d="M-116.1 897.2L-112.5 896.3L-108.8 895.4L-105.2 894.5L-101.5 893.7L-97.9 893L-93 892.1L-88.2 891.2L-83.3 890.5L-78.5 889.7L-73.6 889L-67.8 888.2L-62 887.5L-56.1 886.8L-50.3 886.1L-44.5 885.4L-40.6 884.9L-36.7 884.3L-32.8 883.8L-28.9 883.2L-25.1 882.6" fill="none" stroke="#c00000" stroke-width="2.2" stroke-linejoin="round"/><path d="M126.7 897.2L130.3 896.3L134 895.4L137.6 894.5L141.3 893.7L144.9 893L149.8 892.1L154.6 891.2L159.5 890.5L164.3 889.7L169.2 889L175 888.2L180.8 887.5L186.7 886.8L192.5 886.1L198.3 885.4L202.2 884.9L206.1 884.3L210 883.8L213.9 883.2L217.7 882.6" fill="none" stroke="#c00000" stroke-width="2.2" stroke-linejoin="round"/><path d="M369.5 897.2L373.1 896.3L376.8 895.4L380.4 894.5L384.1 893.7L387.7 893L392.6 892.1L397.4 891.2L402.3 890.5L407.1 889.7L412 889L417.8 888.2L423.6 887.5L429.5 886.8L435.3 886.1L441.1 885.4L445 884.9L448.9 884.3L452.8 883.8L456.7 883.2L460.5 882.6" fill="none" stroke="#c00000" stroke-width="2.2" stroke-linejoin="round"/><path d="M-114.9 896.5L-112.7 895.1L-110.5 893.8L-108.3 892.5L-106.2 891.2L-104 890L-101.5 888.7L-99.1 887.4L-96.7 886.2L-94.3 885.1L-91.8 884L-88.2 882.5L-84.5 881.1L-80.9 879.8L-77.3 878.6L-73.6 877.5" fill="none" stroke="#c00000" stroke-width="2.6" stroke-linejoin="round"/><path d="M127.9 896.5L130.1 895.1L132.3 893.8L134.5 892.5L136.6 891.2L138.8 890L141.3 888.7L143.7 887.4L146.1 886.2L148.5 885.1L151 884L154.6 882.5L158.2 881.1L161.9 879.8L165.5 878.6L169.2 877.5" fill="none" stroke="#c00000" stroke-width="2.6" stroke-linejoin="round"/><path d="M370.7 896.5L372.9 895.1L375.1 893.8L377.3 892.5L379.4 891.2L381.6 890L384.1 888.7L386.5 887.4L388.9 886.2L391.3 885.1L393.8 884L397.4 882.5L401.1 881.1L404.7 879.8L408.3 878.6L412 877.5" fill="none" stroke="#c00000" stroke-width="2.6" stroke-linejoin="round"/><path d="M-101.5 883L-98.4 884L-95.2 885L-92.1 885.9L-88.9 886.7L-85.8 887.4L-77.5 889L-69.3 890.3L-61 891.5L-52.7 892.5L-44.5 893.4L-34.8 894.3L-25.1 895.1L-15.4 895.7L-5.6 896.3L4.1 896.8L9.9 897.1L15.7 897.3L21.6 897.5L27.4 897.7L33.2 897.8" fill="none" stroke="#c00000" stroke-width="2.4" stroke-linejoin="round"/><path d="M141.3 883L144.4 884L147.6 885L150.7 885.9L153.9 886.7L157 887.4L165.3 889L173.5 890.3L181.8 891.5L190.1 892.5L198.3 893.4L208 894.3L217.7 895.1L227.4 895.7L237.2 896.3L246.9 896.8L252.7 897.1L258.5 897.3L264.4 897.5L270.2 897.7L276 897.8" fill="none" stroke="#c00000" stroke-width="2.4" stroke-linejoin="round"/><path d="M384.1 883L387.2 884L390.4 885L393.5 885.9L396.7 886.7L399.8 887.4L408.1 889L416.3 890.3L424.6 891.5L432.9 892.5L441.1 893.4L450.8 894.3L460.5 895.1L470.2 895.7L480 896.3L489.7 896.8L495.5 897.1L501.3 897.3L507.2 897.5L513 897.7L518.8 897.8" fill="none" stroke="#c00000" stroke-width="2.4" stroke-linejoin="round"/><path d="M-93 879L-88.7 879.8L-84.3 880.5L-79.9 881.2L-75.6 881.9L-71.2 882.6L-65.9 883.4L-60.5 884.1L-55.2 884.8L-49.8 885.5L-44.5 886.2L-34.8 887.5L-25.1 888.8L-15.4 890.1L-5.6 891.3L4.1 892.4L10.9 893.1L17.7 893.8L24.5 894.5L31.3 895.1L38.1 895.8L41 896.1L43.9 896.4L46.8 896.6L49.7 896.9L52.6 897.2" fill="none" stroke="#c00000" stroke-width="2.4" stroke-linejoin="round"/><path d="M149.8 879L154.1 879.8L158.5 880.5L162.9 881.2L167.2 881.9L171.6 882.6L176.9 883.4L182.3 884.1L187.6 884.8L193 885.5L198.3 886.2L208 887.5L217.7 888.8L227.4 890.1L237.2 891.3L246.9 892.4L253.7 893.1L260.5 893.8L267.3 894.5L274.1 895.1L280.9 895.8L283.8 896.1L286.7 896.4L289.6 896.6L292.5 896.9L295.4 897.2" fill="none" stroke="#c00000" stroke-width="2.4" stroke-linejoin="round"/><path d="M392.6 879L396.9 879.8L401.3 880.5L405.7 881.2L410 881.9L414.4 882.6L419.7 883.4L425.1 884.1L430.4 884.8L435.8 885.5L441.1 886.2L450.8 887.5L460.5 888.8L470.2 890.1L480 891.3L489.7 892.4L496.5 893.1L503.3 893.8L510.1 894.5L516.9 895.1L523.7 895.8L526.6 896.1L529.5 896.4L532.4 896.6L535.3 896.9L538.2 897.2" fill="none" stroke="#c00000" stroke-width="2.4" stroke-linejoin="round"/><path d="M-100.3 882L-95.5 882.4L-90.6 882.9L-85.8 883.4L-80.9 884L-76.1 884.6L-69.7 885.5L-63.4 886.5L-57.1 887.6L-50.8 888.7L-44.5 889.6L-36.7 890.6L-28.9 891.5L-21.2 892.4L-13.4 893.3L-5.6 894L2.1 894.7L9.9 895.3L17.7 896L25.4 896.5L33.2 897" fill="none" stroke="#c00000" stroke-width="2" stroke-linejoin="round"/><path d="M142.5 882L147.3 882.4L152.2 882.9L157 883.4L161.9 884L166.7 884.6L173.1 885.5L179.4 886.5L185.7 887.6L192 888.7L198.3 889.6L206.1 890.6L213.9 891.5L221.6 892.4L229.4 893.3L237.2 894L244.9 894.7L252.7 895.3L260.5 896L268.2 896.5L276 897" fill="none" stroke="#c00000" stroke-width="2" stroke-linejoin="round"/><path d="M385.3 882L390.1 882.4L395 882.9L399.8 883.4L404.7 884L409.5 884.6L415.9 885.5L422.2 886.5L428.5 887.6L434.8 888.7L441.1 889.6L448.9 890.6L456.7 891.5L464.4 892.4L472.2 893.3L480 894L487.7 894.7L495.5 895.3L503.3 896L511 896.5L518.8 897" fill="none" stroke="#c00000" stroke-width="2" stroke-linejoin="round"/><path d="M-80.9 877.6L-76.5 878.1L-72.2 878.7L-67.8 879.3L-63.4 879.8L-59.1 880.4L-53.2 881.2L-47.4 882L-41.6 882.8L-35.7 883.6L-29.9 884.4L-23.1 885.4L-16.3 886.5L-9.5 887.5L-2.7 888.6L4.1 889.6L10.9 890.6L17.7 891.6L24.5 892.5L31.3 893.5L38.1 894.4" fill="none" stroke="#c00000" stroke-width="2.6" stroke-linejoin="round"/><path d="M161.9 877.6L166.3 878.1L170.6 878.7L175 879.3L179.4 879.8L183.7 880.4L189.6 881.2L195.4 882L201.2 882.8L207.1 883.6L212.9 884.4L219.7 885.4L226.5 886.5L233.3 887.5L240.1 888.6L246.9 889.6L253.7 890.6L260.5 891.6L267.3 892.5L274.1 893.5L280.9 894.4" fill="none" stroke="#c00000" stroke-width="2.6" stroke-linejoin="round"/><path d="M404.7 877.6L409.1 878.1L413.4 878.7L417.8 879.3L422.2 879.8L426.5 880.4L432.4 881.2L438.2 882L444 882.8L449.9 883.6L455.7 884.4L462.5 885.4L469.3 886.5L476.1 887.5L482.9 888.6L489.7 889.6L496.5 890.6L503.3 891.6L510.1 892.5L516.9 893.5L523.7 894.4" fill="none" stroke="#c00000" stroke-width="2.6" stroke-linejoin="round"/><path d="M-107.6 892L-103.7 891.5L-99.8 891L-96 890.7L-92.1 890.5L-88.2 890.4L-82.4 890.5L-76.5 890.9L-70.7 891.4L-64.9 891.9L-59.1 892.4L-51.3 893L-43.5 893.7L-35.7 894.4L-28 895.1L-20.2 895.6L-13.4 896L-6.6 896.4L0.2 896.7L7 897L13.8 897.2" fill="none" stroke="#c00000" stroke-width="1.8" stroke-linejoin="round"/><path d="M135.2 892L139.1 891.5L143 891L146.8 890.7L150.7 890.5L154.6 890.4L160.4 890.5L166.3 890.9L172.1 891.4L177.9 891.9L183.7 892.4L191.5 893L199.3 893.7L207.1 894.4L214.8 895.1L222.6 895.6L229.4 896L236.2 896.4L243 896.7L249.8 897L256.6 897.2" fill="none" stroke="#c00000" stroke-width="1.8" stroke-linejoin="round"/><path d="M378 892L381.9 891.5L385.8 891L389.6 890.7L393.5 890.5L397.4 890.4L403.2 890.5L409.1 890.9L414.9 891.4L420.7 891.9L426.5 892.4L434.3 893L442.1 893.7L449.9 894.4L457.6 895.1L465.4 895.6L472.2 896L479 896.4L485.8 896.7L492.6 897L499.4 897.2" fill="none" stroke="#c00000" stroke-width="1.8" stroke-linejoin="round"/><path d="M-237.5 782.3L-131.9 781.3L-121 782.3L-131.9 783.2Z" fill="#fff"/><path d="M5.3 782.3L110.9 781.3L121.8 782.3L110.9 783.2Z" fill="#fff"/><path d="M248.1 782.3L353.7 781.3L364.6 782.3L353.7 783.2Z" fill="#fff"/><path d="M-180.5 800.5L-133.1 800L-122.2 800.5L-133.1 801Z" fill="#fff"/><path d="M62.3 800.5L109.7 800L120.6 800.5L109.7 801Z" fill="#fff"/><path d="M305.1 800.5L352.5 800L363.4 800.5L352.5 801Z" fill="#fff"/><path d="M-168.3 820.3L-130.7 819.8L-119.8 820.3L-130.7 820.8Z" fill="#fff"/><path d="M74.5 820.3L112.1 819.8L123 820.3L112.1 820.8Z" fill="#fff"/><path d="M317.3 820.3L354.9 819.8L365.8 820.3L354.9 820.8Z" fill="#fff"/><path d="M-190.2 842.2L-133.1 841.6L-122.2 842.2L-133.1 842.9Z" fill="#fff"/><path d="M52.6 842.2L109.7 841.6L120.6 842.2L109.7 842.9Z" fill="#fff"/><path d="M295.4 842.2L352.5 841.6L363.4 842.2L352.5 842.9Z" fill="#fff"/><path d="M-222.9 859.8L-127 858.8L-116.1 859.8L-127 860.8Z" fill="#fff"/><path d="M19.9 859.8L115.8 858.8L126.7 859.8L115.8 860.8Z" fill="#fff"/><path d="M262.7 859.8L358.6 858.8L369.5 859.8L358.6 860.8Z" fill="#fff"/><path d="M-178 871.2L-130.7 870.8L-119.8 871.2L-130.7 871.6Z" fill="#fff"/><path d="M64.8 871.2L112.1 870.8L123 871.2L112.1 871.6Z" fill="#fff"/><path d="M307.6 871.2L354.9 870.8L365.8 871.2L354.9 871.6Z" fill="#fff"/></g><path d="M59.4 724.4V915.5M56.2 724.9H59.4M56.2 731.2H59.4M56.2 737.6H59.4M56.2 743.9H59.4M56.2 750.2H59.4M56.2 756.6H59.4M56.2 762.9H59.4M56.2 769.3H59.4M56.2 775.6H59.4M56.2 781.9H59.4M56.2 788.3H59.4M56.2 794.6H59.4M56.2 800.9H59.4M56.2 807.3H59.4M56.2 813.6H59.4M56.2 820H59.4M56.2 826.3H59.4M56.2 832.6H59.4M56.2 839H59.4M56.2 845.3H59.4M56.2 851.6H59.4M56.2 858H59.4M56.2 864.3H59.4M56.2 870.6H59.4M56.2 877H59.4M56.2 883.3H59.4M56.2 889.7H59.4M56.2 896H59.4M56.2 902.3H59.4M56.2 908.7H59.4M56.2 915H59.4M53.1 724.9H59.9M53.1 788.3H59.9M53.1 851.6H59.9M53.1 915H59.9" fill="none" stroke="#303030" stroke-width="1.15"/><text x="49.8" y="729.4" font-size="13.1" text-anchor="end">43.2</text><text x="49.8" y="792.8" font-size="13.1" text-anchor="end">8.43</text><text x="49.8" y="856.1" font-size="13.1" text-anchor="end">-26.3</text><text x="49.8" y="919.5" font-size="13.1" text-anchor="end">-61.0</text><text transform="translate(14.6 820) rotate(-90)" class="r" font-size="13.1" text-anchor="middle">(I) Amplitude (mV)</text><path d="M127.9 934.4V1125.6M249.3 934.4V1125.6M370.7 934.4V1125.6M492.1 934.4V1125.6M67.2 966.3H552.8M67.2 1030H552.8M67.2 1093.7H552.8" fill="none" stroke="#f0f0f0" stroke-width="1" stroke-dasharray="1 1"/><path d="M67.2 934.4V1125.6M188.6 934.4V1125.6M310 934.4V1125.6M431.4 934.4V1125.6M552.8 934.4V1125.6M67.2 934.4H552.8M67.2 998.1H552.8M67.2 1061.9H552.8M67.2 1125.6H552.8" fill="none" stroke="#e0e0e0" stroke-width="1" stroke-dasharray="1 1"/><clipPath id="cp0bQ"><rect x="66.8" y="930.4" width="487.2" height="199.2"/></clipPath><g clip-path="url(#cp0bQ)" fill="#0000ff"><rect x="42.9" y="949.2" width="534.2" height="161.5"/><path d="M-12 971.6L89.3 956.2L104.8 971.6Z" fill="#fff"/><path d="M230.8 971.6L332.1 956.2L347.6 971.6Z" fill="#fff"/><path d="M473.6 971.6L574.9 956.2L590.4 971.6Z" fill="#fff"/><path d="M4.1 1092L99 1103.4L113.3 1092Z" fill="#fff"/><path d="M246.9 1092L341.8 1103.4L356.1 1092Z" fill="#fff"/><path d="M489.7 1092L584.6 1103.4L598.9 1092Z" fill="#fff"/><path d="M-145.2 951.4L23.5 951.4L23.5 951.4L14.8 951.6L6 951.9L-2.7 952.2L-11.5 952.6L-20.2 953L-26.7 953.4L-33.1 953.8L-39.6 954.3L-46 954.8L-52.5 955.3L-59 955.8L-65.5 956.4L-72 957L-78.5 957.7L-85 958.6L-88.6 959.2L-92.1 959.9L-95.7 960.7L-99.2 961.6L-102.8 962.4L-105.7 963.2L-108.6 964.1L-111.5 964.9L-114.4 965.6L-117.3 965.8L-119.5 965.6L-121.7 965.1L-123.9 964.3L-126.1 963.5L-128.3 962.6L-130.2 961.7L-132.1 960.7L-134.1 959.5L-136 958.3L-138 957L-139.4 956L-140.9 954.9L-142.3 953.8L-143.8 952.6L-145.2 951.4Z" fill="#fff"/><path d="M97.6 951.4L266.3 951.4L266.3 951.4L257.6 951.6L248.8 951.9L240.1 952.2L231.3 952.6L222.6 953L216.1 953.4L209.7 953.8L203.2 954.3L196.8 954.8L190.3 955.3L183.8 955.8L177.3 956.4L170.8 957L164.3 957.7L157.8 958.6L154.2 959.2L150.7 959.9L147.1 960.7L143.6 961.6L140 962.4L137.1 963.2L134.2 964.1L131.3 964.9L128.4 965.6L125.5 965.8L123.3 965.6L121.1 965.1L118.9 964.3L116.7 963.5L114.5 962.6L112.6 961.7L110.7 960.7L108.7 959.5L106.8 958.3L104.8 957L103.4 956L101.9 954.9L100.5 953.8L99 952.6L97.6 951.4Z" fill="#fff"/><path d="M340.4 951.4L509.1 951.4L509.1 951.4L500.4 951.6L491.6 951.9L482.9 952.2L474.1 952.6L465.4 953L458.9 953.4L452.5 953.8L446 954.3L439.6 954.8L433.1 955.3L426.6 955.8L420.1 956.4L413.6 957L407.1 957.7L400.6 958.6L397 959.2L393.5 959.9L389.9 960.7L386.4 961.6L382.8 962.4L379.9 963.2L377 964.1L374.1 964.9L371.2 965.6L368.3 965.8L366.1 965.6L363.9 965.1L361.7 964.3L359.5 963.5L357.3 962.6L355.4 961.7L353.5 960.7L351.5 959.5L349.6 958.3L347.6 957L346.2 956L344.7 954.9L343.3 953.8L341.8 952.6L340.4 951.4Z" fill="#fff"/><path d="M-131.9 1108.9L42.9 1108.9L42.9 1108.9L33.5 1108.4L24.2 1107.9L14.8 1107.2L5.4 1106.5L-3.9 1105.8L-10.4 1105.3L-17 1104.7L-23.5 1104L-30 1103.3L-36.5 1102.6L-43 1101.8L-49.5 1101.1L-56 1100.2L-62.5 1099.1L-69 1097.7L-72.3 1096.6L-75.5 1094.9L-78.8 1093.1L-82 1091.5L-85.3 1090.5L-88.5 1089.9L-91.8 1089.3L-95 1088.8L-98.3 1088.5L-101.5 1088.4L-104.8 1088.8L-108.1 1089.7L-111.3 1091.1L-114.6 1092.8L-117.8 1094.5L-119.9 1095.7L-122 1097L-124.1 1098.6L-126.2 1100.4L-128.3 1102.6L-129 1103.6L-129.7 1104.7L-130.4 1106L-131.2 1107.5L-131.9 1108.9Z" fill="#fff"/><path d="M110.9 1108.9L285.7 1108.9L285.7 1108.9L276.3 1108.4L267 1107.9L257.6 1107.2L248.2 1106.5L238.9 1105.8L232.4 1105.3L225.8 1104.7L219.3 1104L212.8 1103.3L206.3 1102.6L199.8 1101.8L193.3 1101.1L186.8 1100.2L180.3 1099.1L173.8 1097.7L170.5 1096.6L167.3 1094.9L164 1093.1L160.8 1091.5L157.5 1090.5L154.3 1089.9L151 1089.3L147.8 1088.8L144.5 1088.5L141.3 1088.4L138 1088.8L134.7 1089.7L131.5 1091.1L128.2 1092.8L125 1094.5L122.9 1095.7L120.8 1097L118.7 1098.6L116.6 1100.4L114.5 1102.6L113.8 1103.6L113.1 1104.7L112.4 1106L111.6 1107.5L110.9 1108.9Z" fill="#fff"/><path d="M353.7 1108.9L528.5 1108.9L528.5 1108.9L519.1 1108.4L509.8 1107.9L500.4 1107.2L491 1106.5L481.7 1105.8L475.2 1105.3L468.6 1104.7L462.1 1104L455.6 1103.3L449.1 1102.6L442.6 1101.8L436.1 1101.1L429.6 1100.2L423.1 1099.1L416.6 1097.7L413.3 1096.6L410.1 1094.9L406.8 1093.1L403.6 1091.5L400.3 1090.5L397.1 1089.9L393.8 1089.3L390.6 1088.8L387.3 1088.5L384.1 1088.4L380.8 1088.8L377.5 1089.7L374.3 1091.1L371 1092.8L367.8 1094.5L365.7 1095.7L363.6 1097L361.5 1098.6L359.4 1100.4L357.3 1102.6L356.6 1103.6L355.9 1104.7L355.2 1106L354.4 1107.5L353.7 1108.9Z" fill="#fff"/><path d="M-146.5 952.4L-143.1 953.3L-139.7 954.1L-136.3 954.9L-132.9 955.7L-129.5 956.4L-125.1 957.2L-120.7 958L-116.4 958.7L-112 959.3L-107.6 960L-102.8 960.7L-97.9 961.4L-93 962.1L-88.2 962.7L-83.3 963.4L-79.5 963.9L-75.6 964.5L-71.7 965L-67.8 965.5L-63.9 966" fill="none" stroke="#0000ff" stroke-width="2.4" stroke-linejoin="round"/><path d="M96.3 952.4L99.7 953.3L103.1 954.1L106.5 954.9L109.9 955.7L113.3 956.4L117.7 957.2L122.1 958L126.4 958.7L130.8 959.3L135.2 960L140 960.7L144.9 961.4L149.8 962.1L154.6 962.7L159.5 963.4L163.3 963.9L167.2 964.5L171.1 965L175 965.5L178.9 966" fill="none" stroke="#0000ff" stroke-width="2.4" stroke-linejoin="round"/><path d="M339.1 952.4L342.5 953.3L345.9 954.1L349.3 954.9L352.7 955.7L356.1 956.4L360.5 957.2L364.9 958L369.2 958.7L373.6 959.3L378 960L382.8 960.7L387.7 961.4L392.6 962.1L397.4 962.7L402.3 963.4L406.1 963.9L410 964.5L413.9 965L417.8 965.5L421.7 966" fill="none" stroke="#0000ff" stroke-width="2.4" stroke-linejoin="round"/><path d="M-124.6 964.6L-120.7 963.4L-116.8 962.2L-113 961.1L-109.1 960.2L-105.2 959.4L-98.9 958.3L-92.6 957.3L-86.2 956.5L-79.9 955.8L-73.6 955.2L-64.9 954.5L-56.1 953.8L-47.4 953.3L-38.7 952.8L-29.9 952.6" fill="none" stroke="#0000ff" stroke-width="2.2" stroke-linejoin="round"/><path d="M118.2 964.6L122.1 963.4L126 962.2L129.8 961.1L133.7 960.2L137.6 959.4L143.9 958.3L150.2 957.3L156.6 956.5L162.9 955.8L169.2 955.2L177.9 954.5L186.7 953.8L195.4 953.3L204.1 952.8L212.9 952.6" fill="none" stroke="#0000ff" stroke-width="2.2" stroke-linejoin="round"/><path d="M361 964.6L364.9 963.4L368.8 962.2L372.6 961.1L376.5 960.2L380.4 959.4L386.7 958.3L393 957.3L399.4 956.5L405.7 955.8L412 955.2L420.7 954.5L429.5 953.8L438.2 953.3L446.9 952.8L455.7 952.6" fill="none" stroke="#0000ff" stroke-width="2.2" stroke-linejoin="round"/><path d="M-139.2 955.2L-134.8 955.8L-130.4 956.3L-126.1 956.7L-121.7 956.9L-117.3 957L-112.5 956.9L-107.6 956.6L-102.8 956.3L-97.9 955.9L-93 955.6L-85.3 955.1L-77.5 954.7L-69.7 954.2L-62 953.7L-54.2 953.2" fill="none" stroke="#0000ff" stroke-width="1.8" stroke-linejoin="round"/><path d="M103.6 955.2L108 955.8L112.4 956.3L116.7 956.7L121.1 956.9L125.5 957L130.3 956.9L135.2 956.6L140 956.3L144.9 955.9L149.8 955.6L157.5 955.1L165.3 954.7L173.1 954.2L180.8 953.7L188.6 953.2" fill="none" stroke="#0000ff" stroke-width="1.8" stroke-linejoin="round"/><path d="M346.4 955.2L350.8 955.8L355.2 956.3L359.5 956.7L363.9 956.9L368.3 957L373.1 956.9L378 956.6L382.8 956.3L387.7 955.9L392.6 955.6L400.3 955.1L408.1 954.7L415.9 954.2L423.6 953.7L431.4 953.2" fill="none" stroke="#0000ff" stroke-width="1.8" stroke-linejoin="round"/><path d="M-131.9 1107.6L-128 1106.5L-124.1 1105.6L-120.2 1104.6L-116.4 1103.8L-112.5 1103L-107.6 1102.2L-102.8 1101.4L-97.9 1100.7L-93 1100L-88.2 1099.4L-82.4 1098.7L-76.5 1098L-70.7 1097.4L-64.9 1096.7L-59.1 1096L-55.2 1095.5L-51.3 1094.9L-47.4 1094.3L-43.5 1093.7L-39.6 1093" fill="none" stroke="#0000ff" stroke-width="2.6" stroke-linejoin="round"/><path d="M110.9 1107.6L114.8 1106.5L118.7 1105.6L122.6 1104.6L126.4 1103.8L130.3 1103L135.2 1102.2L140 1101.4L144.9 1100.7L149.8 1100L154.6 1099.4L160.4 1098.7L166.3 1098L172.1 1097.4L177.9 1096.7L183.7 1096L187.6 1095.5L191.5 1094.9L195.4 1094.3L199.3 1093.7L203.2 1093" fill="none" stroke="#0000ff" stroke-width="2.6" stroke-linejoin="round"/><path d="M353.7 1107.6L357.6 1106.5L361.5 1105.6L365.4 1104.6L369.2 1103.8L373.1 1103L378 1102.2L382.8 1101.4L387.7 1100.7L392.6 1100L397.4 1099.4L403.2 1098.7L409.1 1098L414.9 1097.4L420.7 1096.7L426.5 1096L430.4 1095.5L434.3 1094.9L438.2 1094.3L442.1 1093.7L446 1093" fill="none" stroke="#0000ff" stroke-width="2.6" stroke-linejoin="round"/><path d="M-127 1104L-124.6 1102.7L-122.2 1101.4L-119.8 1100.2L-117.3 1099L-114.9 1098L-112 1096.9L-109.1 1095.8L-106.2 1094.8L-103.2 1093.9L-100.3 1093L-96.9 1092L-93.5 1091L-90.1 1090.1L-86.7 1089.2L-83.3 1088.4" fill="none" stroke="#0000ff" stroke-width="2.6" stroke-linejoin="round"/><path d="M115.8 1104L118.2 1102.7L120.6 1101.4L123 1100.2L125.5 1099L127.9 1098L130.8 1096.9L133.7 1095.8L136.6 1094.8L139.6 1093.9L142.5 1093L145.9 1092L149.3 1091L152.7 1090.1L156.1 1089.2L159.5 1088.4" fill="none" stroke="#0000ff" stroke-width="2.6" stroke-linejoin="round"/><path d="M358.6 1104L361 1102.7L363.4 1101.4L365.8 1100.2L368.3 1099L370.7 1098L373.6 1096.9L376.5 1095.8L379.4 1094.8L382.4 1093.9L385.3 1093L388.7 1092L392.1 1091L395.5 1090.1L398.9 1089.2L402.3 1088.4" fill="none" stroke="#0000ff" stroke-width="2.6" stroke-linejoin="round"/><path d="M-112.5 1094L-108.6 1095.1L-104.7 1096.1L-100.8 1097L-96.9 1097.9L-93 1098.6L-86.2 1099.7L-79.5 1100.7L-72.7 1101.5L-65.9 1102.3L-59.1 1103L-50.3 1103.8L-41.6 1104.6L-32.8 1105.3L-24.1 1105.9L-15.4 1106.4L-6.6 1106.9L2.1 1107.3L10.9 1107.6L19.6 1108L28.4 1108.2" fill="none" stroke="#0000ff" stroke-width="2.4" stroke-linejoin="round"/><path d="M130.3 1094L134.2 1095.1L138.1 1096.1L142 1097L145.9 1097.9L149.8 1098.6L156.6 1099.7L163.3 1100.7L170.1 1101.5L176.9 1102.3L183.7 1103L192.5 1103.8L201.2 1104.6L210 1105.3L218.7 1105.9L227.4 1106.4L236.2 1106.9L244.9 1107.3L253.7 1107.6L262.4 1108L271.2 1108.2" fill="none" stroke="#0000ff" stroke-width="2.4" stroke-linejoin="round"/><path d="M373.1 1094L377 1095.1L380.9 1096.1L384.8 1097L388.7 1097.9L392.6 1098.6L399.4 1099.7L406.1 1100.7L412.9 1101.5L419.7 1102.3L426.5 1103L435.3 1103.8L444 1104.6L452.8 1105.3L461.5 1105.9L470.2 1106.4L479 1106.9L487.7 1107.3L496.5 1107.6L505.2 1108L514 1108.2" fill="none" stroke="#0000ff" stroke-width="2.4" stroke-linejoin="round"/><path d="M-97.9 1090L-94 1090.9L-90.1 1091.9L-86.2 1092.7L-82.4 1093.6L-78.5 1094.4L-72.7 1095.6L-66.8 1096.7L-61 1097.8L-55.2 1098.7L-49.3 1099.6L-40.6 1100.7L-31.9 1101.8L-23.1 1102.7L-14.4 1103.6L-5.6 1104.4L2.1 1105.1L9.9 1105.7L17.7 1106.3L25.4 1106.9L33.2 1107.4" fill="none" stroke="#0000ff" stroke-width="2.4" stroke-linejoin="round"/><path d="M144.9 1090L148.8 1090.9L152.7 1091.9L156.6 1092.7L160.4 1093.6L164.3 1094.4L170.1 1095.6L176 1096.7L181.8 1097.8L187.6 1098.7L193.5 1099.6L202.2 1100.7L210.9 1101.8L219.7 1102.7L228.4 1103.6L237.2 1104.4L244.9 1105.1L252.7 1105.7L260.5 1106.3L268.2 1106.9L276 1107.4" fill="none" stroke="#0000ff" stroke-width="2.4" stroke-linejoin="round"/><path d="M387.7 1090L391.6 1090.9L395.5 1091.9L399.4 1092.7L403.2 1093.6L407.1 1094.4L412.9 1095.6L418.8 1096.7L424.6 1097.8L430.4 1098.7L436.3 1099.6L445 1100.7L453.7 1101.8L462.5 1102.7L471.2 1103.6L480 1104.4L487.7 1105.1L495.5 1105.7L503.3 1106.3L511 1106.9L518.8 1107.4" fill="none" stroke="#0000ff" stroke-width="2.4" stroke-linejoin="round"/><path d="M-114.9 967.5L-93 965.2L-68.8 963.4L-90.6 966.4Z" fill="#fff"/><path d="M127.9 967.5L149.8 965.2L174 963.4L152.2 966.4Z" fill="#fff"/><path d="M370.7 967.5L392.6 965.2L416.8 963.4L395 966.4Z" fill="#fff"/><path d="M-105.2 973.4L-83.3 970.8L-59.1 968.8L-83.3 972Z" fill="#fff"/><path d="M137.6 973.4L159.5 970.8L183.7 968.8L159.5 972Z" fill="#fff"/><path d="M380.4 973.4L402.3 970.8L426.5 968.8L402.3 972Z" fill="#fff"/><path d="M-93 979.6L-73.6 977.4L-49.3 975.8L-71.2 978.6Z" fill="#fff"/><path d="M149.8 979.6L169.2 977.4L193.5 975.8L171.6 978.6Z" fill="#fff"/><path d="M392.6 979.6L412 977.4L436.3 975.8L414.4 978.6Z" fill="#fff"/><path d="M-105.2 1086L-83.3 1084.4L-63.9 1084L-83.3 1086.2Z" fill="#fff"/><path d="M137.6 1086L159.5 1084.4L178.9 1084L159.5 1086.2Z" fill="#fff"/><path d="M380.4 1086L402.3 1084.4L421.7 1084L402.3 1086.2Z" fill="#fff"/><path d="M-210.8 980.6L-158.6 979.7L-147.7 980.6L-158.6 981.5Z" fill="#fff"/><path d="M32 980.6L84.2 979.7L95.1 980.6L84.2 981.5Z" fill="#fff"/><path d="M274.8 980.6L327 979.7L337.9 980.6L327 981.5Z" fill="#fff"/><path d="M-210.8 991.1L-158.6 990.1L-147.7 991.1L-158.6 992.1Z" fill="#fff"/><path d="M32 991.1L84.2 990.1L95.1 991.1L84.2 992.1Z" fill="#fff"/><path d="M274.8 991.1L327 990.1L337.9 991.1L327 992.1Z" fill="#fff"/><path d="M-210.8 1000.9L-158.6 999.9L-147.7 1000.9L-158.6 1001.9Z" fill="#fff"/><path d="M32 1000.9L84.2 999.9L95.1 1000.9L84.2 1001.9Z" fill="#fff"/><path d="M274.8 1000.9L327 999.9L337.9 1000.9L327 1001.9Z" fill="#fff"/><path d="M-212 1010.7L-155 1009.8L-144 1010.7L-155 1011.6Z" fill="#fff"/><path d="M30.8 1010.7L87.8 1009.8L98.8 1010.7L87.8 1011.6Z" fill="#fff"/><path d="M273.6 1010.7L330.6 1009.8L341.6 1010.7L330.6 1011.6Z" fill="#fff"/><path d="M-214.4 1031L-157.4 1030L-146.5 1031L-157.4 1032Z" fill="#fff"/><path d="M28.4 1031L85.4 1030L96.3 1031L85.4 1032Z" fill="#fff"/><path d="M271.2 1031L328.2 1030L339.1 1031L328.2 1032Z" fill="#fff"/><path d="M-195 1051.8L-157.4 1051.4L-146.5 1051.8L-157.4 1052.2Z" fill="#fff"/><path d="M47.8 1051.8L85.4 1051.4L96.3 1051.8L85.4 1052.2Z" fill="#fff"/><path d="M290.6 1051.8L328.2 1051.4L339.1 1051.8L328.2 1052.2Z" fill="#fff"/><path d="M-202.3 1060.3L-155 1059.8L-144 1060.3L-155 1060.8Z" fill="#fff"/><path d="M40.5 1060.3L87.8 1059.8L98.8 1060.3L87.8 1060.8Z" fill="#fff"/><path d="M283.3 1060.3L330.6 1059.8L341.6 1060.3L330.6 1060.8Z" fill="#fff"/><path d="M-213.2 1073.3L-156.2 1072.5L-145.2 1073.3L-156.2 1074.1Z" fill="#fff"/><path d="M29.6 1073.3L86.6 1072.5L97.6 1073.3L86.6 1074.1Z" fill="#fff"/><path d="M272.4 1073.3L329.4 1072.5L340.4 1073.3L329.4 1074.1Z" fill="#fff"/><path d="M-209.6 1082.2L-157.4 1081.4L-146.5 1082.2L-157.4 1083Z" fill="#fff"/><path d="M33.2 1082.2L85.4 1081.4L96.3 1082.2L85.4 1083Z" fill="#fff"/><path d="M276 1082.2L328.2 1081.4L339.1 1082.2L328.2 1083Z" fill="#fff"/></g><path d="M59.4 933.9V1126.1M56.2 934.4H59.4M56.2 940.8H59.4M56.2 947.1H59.4M56.2 953.5H59.4M56.2 959.9H59.4M56.2 966.3H59.4M56.2 972.6H59.4M56.2 979H59.4M56.2 985.4H59.4M56.2 991.8H59.4M56.2 998.1H59.4M56.2 1004.5H59.4M56.2 1010.9H59.4M56.2 1017.3H59.4M56.2 1023.6H59.4M56.2 1030H59.4M56.2 1036.4H59.4M56.2 1042.7H59.4M56.2 1049.1H59.4M56.2 1055.5H59.4M56.2 1061.9H59.4M56.2 1068.2H59.4M56.2 1074.6H59.4M56.2 1081H59.4M56.2 1087.4H59.4M56.2 1093.7H59.4M56.2 1100.1H59.4M56.2 1106.5H59.4M56.2 1112.9H59.4M56.2 1119.2H59.4M56.2 1125.6H59.4M53.1 934.4H59.9M53.1 998.1H59.9M53.1 1061.9H59.9M53.1 1125.6H59.9" fill="none" stroke="#303030" stroke-width="1.15"/><text x="49.8" y="938.9" font-size="13.1" text-anchor="end">51.2</text><text x="49.8" y="1002.6" font-size="13.1" text-anchor="end">14.8</text><text x="49.8" y="1066.4" font-size="13.1" text-anchor="end">-21.7</text><text x="49.8" y="1130.1" font-size="13.1" text-anchor="end">-58.1</text><text transform="translate(14.6 1030) rotate(-90)" class="r" font-size="13.1" text-anchor="middle">(Q) Amplitude (mV)</text><path d="M66.7 1130.5H553.3M67.2 1130.5V1136.1M79.3 1130.5V1133.5M91.5 1130.5V1133.5M103.6 1130.5V1133.5M115.8 1130.5V1133.5M127.9 1130.5V1133.5M140 1130.5V1133.5M152.2 1130.5V1133.5M164.3 1130.5V1133.5M176.5 1130.5V1133.5M188.6 1130.5V1136.1M200.7 1130.5V1133.5M212.9 1130.5V1133.5M225 1130.5V1133.5M237.2 1130.5V1133.5M249.3 1130.5V1133.5M261.4 1130.5V1133.5M273.6 1130.5V1133.5M285.7 1130.5V1133.5M297.9 1130.5V1133.5M310 1130.5V1136.1M322.1 1130.5V1133.5M334.3 1130.5V1133.5M346.4 1130.5V1133.5M358.6 1130.5V1133.5M370.7 1130.5V1133.5M382.8 1130.5V1133.5M395 1130.5V1133.5M407.1 1130.5V1133.5M419.3 1130.5V1133.5M431.4 1130.5V1136.1M443.5 1130.5V1133.5M455.7 1130.5V1133.5M467.8 1130.5V1133.5M480 1130.5V1133.5M492.1 1130.5V1133.5M504.2 1130.5V1133.5M516.4 1130.5V1133.5M528.5 1130.5V1133.5M540.7 1130.5V1133.5M552.8 1130.5V1136.1" fill="none" stroke="#303030" stroke-width="1.15"/><text x="67.2" y="1147.3" font-size="13.1" text-anchor="middle">0.0</text><text x="188.6" y="1147.3" font-size="13.1" text-anchor="middle">5.0</text><text x="310" y="1147.3" font-size="13.1" text-anchor="middle">10.0</text><text x="431.4" y="1147.3" font-size="13.1" text-anchor="middle">15.0</text><text x="552.8" y="1147.3" font-size="13.1" text-anchor="middle">20.0</text><text x="309.1" y="1161.4" font-size="13.1" text-anchor="middle">time (ps)</text><path d="M729.3 724.9V915M850.7 724.9V915M972.1 724.9V915M1093.5 724.9V915M668.6 756.6H1154.2M668.6 820H1154.2M668.6 883.3H1154.2" fill="none" stroke="#f0f0f0" stroke-width="1" stroke-dasharray="1 1"/><path d="M668.6 724.9V915M790 724.9V915M911.4 724.9V915M1032.8 724.9V915M1154.2 724.9V915M668.6 724.9H1154.2M668.6 788.3H1154.2M668.6 851.6H1154.2M668.6 915H1154.2" fill="none" stroke="#e0e0e0" stroke-width="1" stroke-dasharray="1 1"/><clipPath id="cp1bI"><rect x="668.2" y="720.9" width="487.2" height="198.1"/></clipPath><g clip-path="url(#cp1bI)" fill="#c00000"><rect x="644.3" y="740" width="534.2" height="9.6"/><rect x="644.3" y="790" width="534.2" height="10.7"/><rect x="644.3" y="838.9" width="534.2" height="11.4"/><rect x="644.3" y="889.6" width="534.2" height="10.3"/><path d="M464.6 742.9L465.3 743.1L466.7 743.4L468.8 744L471.4 744.7L474.4 745.5L478 746.5L482 747.6L486.4 748.8L491.3 750.1L496.5 751.5L502.1 753.1L508.1 754.7L514.4 756.4L521.1 758.2L528.1 760.1L535.4 762.1L543.1 764.2L551.1 766.4L559.4 768.6L568.1 771L577 773.4L586.3 775.9L595.8 778.9L605.7 782.2L615.8 785.2L626.2 787.1L636.9 787.7L647.9 788.2L659.2 788.6L670.7 788.9L682.5 789.3L694.6 789.8L707 790L719.6 790L719.6 798.6L707 798.6L694.6 798.6L682.5 798.6L670.7 798.6L659.2 798.6L647.9 798.6L636.9 798.5L626.2 798.1L615.8 796.8L605.7 793.8L595.8 790.1L586.3 786.8L577 784L568.1 781.2L559.4 778.6L551.1 776L543.1 773.6L535.4 771.2L528.1 769L521.1 766.8L514.4 764.8L508.1 762.9L502.1 761L496.5 759.3L491.3 757.7L486.4 756.2L482 754.9L478 753.7L474.4 752.6L471.4 751.6L468.8 750.9L466.7 750.2L465.3 749.8L464.6 749.6Z"/><path d="M707.4 742.9L708.1 743.1L709.5 743.4L711.6 744L714.2 744.7L717.2 745.5L720.8 746.5L724.8 747.6L729.2 748.8L734.1 750.1L739.3 751.5L744.9 753.1L750.9 754.7L757.2 756.4L763.9 758.2L770.9 760.1L778.2 762.1L785.9 764.2L793.9 766.4L802.2 768.6L810.9 771L819.8 773.4L829.1 775.9L838.6 778.9L848.5 782.2L858.6 785.2L869 787.1L879.7 787.7L890.7 788.2L902 788.6L913.5 788.9L925.3 789.3L937.4 789.8L949.8 790L962.4 790L962.4 798.6L949.8 798.6L937.4 798.6L925.3 798.6L913.5 798.6L902 798.6L890.7 798.6L879.7 798.5L869 798.1L858.6 796.8L848.5 793.8L838.6 790.1L829.1 786.8L819.8 784L810.9 781.2L802.2 778.6L793.9 776L785.9 773.6L778.2 771.2L770.9 769L763.9 766.8L757.2 764.8L750.9 762.9L744.9 761L739.3 759.3L734.1 757.7L729.2 756.2L724.8 754.9L720.8 753.7L717.2 752.6L714.2 751.6L711.6 750.9L709.5 750.2L708.1 749.8L707.4 749.6Z"/><path d="M950.2 742.9L950.9 743.1L952.3 743.4L954.4 744L957 744.7L960 745.5L963.6 746.5L967.6 747.6L972 748.8L976.9 750.1L982.1 751.5L987.7 753.1L993.7 754.7L1000 756.4L1006.7 758.2L1013.7 760.1L1021 762.1L1028.7 764.2L1036.7 766.4L1045 768.6L1053.7 771L1062.6 773.4L1071.9 775.9L1081.4 778.9L1091.3 782.2L1101.4 785.2L1111.8 787.1L1122.5 787.7L1133.5 788.2L1144.8 788.6L1156.3 788.9L1168.1 789.3L1180.2 789.8L1192.6 790L1205.2 790L1205.2 798.6L1192.6 798.6L1180.2 798.6L1168.1 798.6L1156.3 798.6L1144.8 798.6L1133.5 798.6L1122.5 798.5L1111.8 798.1L1101.4 796.8L1091.3 793.8L1081.4 790.1L1071.9 786.8L1062.6 784L1053.7 781.2L1045 778.6L1036.7 776L1028.7 773.6L1021 771.2L1013.7 769L1006.7 766.8L1000 764.8L993.7 762.9L987.7 761L982.1 759.3L976.9 757.7L972 756.2L967.6 754.9L963.6 753.7L960 752.6L957 751.6L954.4 750.9L952.3 750.2L950.9 749.8L950.2 749.6Z"/><path d="M464.6 742.9L465.3 743.2L466.7 744L468.8 745.2L471.4 746.6L474.4 748.3L478 750.3L482 752.5L486.4 754.9L491.3 757.6L496.5 760.5L502.1 763.6L508.1 766.9L514.4 770.4L521.1 774.1L528.1 778L535.4 782.1L543.1 786.3L551.1 790.8L559.4 795.4L568.1 800.1L577 805.1L586.3 810.2L595.8 816.3L605.7 823.1L615.8 829.2L626.2 833L636.9 834.3L647.9 835.2L659.2 836L670.7 836.6L682.5 837.5L694.6 838.4L707 838.9L719.6 838.9L719.6 848L707 848L694.6 848L682.5 848L670.7 848L659.2 848L647.9 848L636.9 848L626.2 847L615.8 844.6L605.7 838.6L595.8 831.1L586.3 824.3L577 818.7L568.1 813.2L559.4 807.9L551.1 802.8L543.1 797.8L535.4 793.1L528.1 788.6L521.1 784.3L514.4 780.1L508.1 776.2L502.1 772.6L496.5 769.1L491.3 765.9L486.4 763L482 760.2L478 757.8L474.4 755.6L471.4 753.7L468.8 752.1L466.7 750.9L465.3 750L464.6 749.6Z"/><path d="M707.4 742.9L708.1 743.2L709.5 744L711.6 745.2L714.2 746.6L717.2 748.3L720.8 750.3L724.8 752.5L729.2 754.9L734.1 757.6L739.3 760.5L744.9 763.6L750.9 766.9L757.2 770.4L763.9 774.1L770.9 778L778.2 782.1L785.9 786.3L793.9 790.8L802.2 795.4L810.9 800.1L819.8 805.1L829.1 810.2L838.6 816.3L848.5 823.1L858.6 829.2L869 833L879.7 834.3L890.7 835.2L902 836L913.5 836.6L925.3 837.5L937.4 838.4L949.8 838.9L962.4 838.9L962.4 848L949.8 848L937.4 848L925.3 848L913.5 848L902 848L890.7 848L879.7 848L869 847L858.6 844.6L848.5 838.6L838.6 831.1L829.1 824.3L819.8 818.7L810.9 813.2L802.2 807.9L793.9 802.8L785.9 797.8L778.2 793.1L770.9 788.6L763.9 784.3L757.2 780.1L750.9 776.2L744.9 772.6L739.3 769.1L734.1 765.9L729.2 763L724.8 760.2L720.8 757.8L717.2 755.6L714.2 753.7L711.6 752.1L709.5 750.9L708.1 750L707.4 749.6Z"/><path d="M950.2 742.9L950.9 743.2L952.3 744L954.4 745.2L957 746.6L960 748.3L963.6 750.3L967.6 752.5L972 754.9L976.9 757.6L982.1 760.5L987.7 763.6L993.7 766.9L1000 770.4L1006.7 774.1L1013.7 778L1021 782.1L1028.7 786.3L1036.7 790.8L1045 795.4L1053.7 800.1L1062.6 805.1L1071.9 810.2L1081.4 816.3L1091.3 823.1L1101.4 829.2L1111.8 833L1122.5 834.3L1133.5 835.2L1144.8 836L1156.3 836.6L1168.1 837.5L1180.2 838.4L1192.6 838.9L1205.2 838.9L1205.2 848L1192.6 848L1180.2 848L1168.1 848L1156.3 848L1144.8 848L1133.5 848L1122.5 848L1111.8 847L1101.4 844.6L1091.3 838.6L1081.4 831.1L1071.9 824.3L1062.6 818.7L1053.7 813.2L1045 807.9L1036.7 802.8L1028.7 797.8L1021 793.1L1013.7 788.6L1006.7 784.3L1000 780.1L993.7 776.2L987.7 772.6L982.1 769.1L976.9 765.9L972 763L967.6 760.2L963.6 757.8L960 755.6L957 753.7L954.4 752.1L952.3 750.9L950.9 750L950.2 749.6Z"/><path d="M464.6 742.9L465.3 743.4L466.7 744.6L468.8 746.4L471.4 748.6L474.4 751.2L478 754.2L482 757.6L486.4 761.3L491.3 765.4L496.5 769.8L502.1 774.6L508.1 779.6L514.4 785L521.1 790.6L528.1 796.5L535.4 802.8L543.1 809.3L551.1 816L559.4 823.1L568.1 830.4L577 837.9L586.3 845.8L595.8 855L605.7 865.4L615.8 874.8L626.2 880.5L636.9 882.6L647.9 884L659.2 885.1L670.7 886.2L682.5 887.4L694.6 888.9L707 889.6L719.6 889.6L719.6 897.8L707 897.8L694.6 897.8L682.5 897.8L670.7 897.8L659.2 897.8L647.9 897.8L636.9 897.8L626.2 896.4L615.8 892.6L605.7 883.6L595.8 872.4L586.3 862.2L577 853.6L568.1 845.4L559.4 837.4L551.1 829.7L543.1 822.3L535.4 815.1L528.1 808.3L521.1 801.8L514.4 795.6L508.1 789.7L502.1 784.2L496.5 779L491.3 774.2L486.4 769.7L482 765.6L478 761.9L474.4 758.6L471.4 755.8L468.8 753.4L466.7 751.5L465.3 750.2L464.6 749.6Z"/><path d="M707.4 742.9L708.1 743.4L709.5 744.6L711.6 746.4L714.2 748.6L717.2 751.2L720.8 754.2L724.8 757.6L729.2 761.3L734.1 765.4L739.3 769.8L744.9 774.6L750.9 779.6L757.2 785L763.9 790.6L770.9 796.5L778.2 802.8L785.9 809.3L793.9 816L802.2 823.1L810.9 830.4L819.8 837.9L829.1 845.8L838.6 855L848.5 865.4L858.6 874.8L869 880.5L879.7 882.6L890.7 884L902 885.1L913.5 886.2L925.3 887.4L937.4 888.9L949.8 889.6L962.4 889.6L962.4 897.8L949.8 897.8L937.4 897.8L925.3 897.8L913.5 897.8L902 897.8L890.7 897.8L879.7 897.8L869 896.4L858.6 892.6L848.5 883.6L838.6 872.4L829.1 862.2L819.8 853.6L810.9 845.4L802.2 837.4L793.9 829.7L785.9 822.3L778.2 815.1L770.9 808.3L763.9 801.8L757.2 795.6L750.9 789.7L744.9 784.2L739.3 779L734.1 774.2L729.2 769.7L724.8 765.6L720.8 761.9L717.2 758.6L714.2 755.8L711.6 753.4L709.5 751.5L708.1 750.2L707.4 749.6Z"/><path d="M950.2 742.9L950.9 743.4L952.3 744.6L954.4 746.4L957 748.6L960 751.2L963.6 754.2L967.6 757.6L972 761.3L976.9 765.4L982.1 769.8L987.7 774.6L993.7 779.6L1000 785L1006.7 790.6L1013.7 796.5L1021 802.8L1028.7 809.3L1036.7 816L1045 823.1L1053.7 830.4L1062.6 837.9L1071.9 845.8L1081.4 855L1091.3 865.4L1101.4 874.8L1111.8 880.5L1122.5 882.6L1133.5 884L1144.8 885.1L1156.3 886.2L1168.1 887.4L1180.2 888.9L1192.6 889.6L1205.2 889.6L1205.2 897.8L1192.6 897.8L1180.2 897.8L1168.1 897.8L1156.3 897.8L1144.8 897.8L1133.5 897.8L1122.5 897.8L1111.8 896.4L1101.4 892.6L1091.3 883.6L1081.4 872.4L1071.9 862.2L1062.6 853.6L1053.7 845.4L1045 837.4L1036.7 829.7L1028.7 822.3L1021 815.1L1013.7 808.3L1006.7 801.8L1000 795.6L993.7 789.7L987.7 784.2L982.1 779L976.9 774.2L972 769.7L967.6 765.6L963.6 761.9L960 758.6L957 755.8L954.4 753.4L952.3 751.5L950.9 750.2L950.2 749.6Z"/><path d="M464.6 790L465.3 789.8L466.7 789.4L468.8 788.8L471.4 788L474.4 787.1L478 786L482 784.8L486.4 783.5L491.3 782L496.5 780.5L502.1 778.8L508.1 777L514.4 775.1L521.1 773.1L528.1 771L535.4 768.7L543.1 766.4L551.1 764L559.4 761.5L568.1 758.9L577 756.3L586.3 753.5L595.8 750.2L605.7 746.5L615.8 743.6L626.2 742.4L636.9 741.9L647.9 741.9L659.2 741.9L670.7 741.9L682.5 741.9L694.6 741.9L707 741.9L719.6 741.9L719.6 749.6L707 749.6L694.6 749.8L682.5 750.3L670.7 750.7L659.2 751.1L647.9 751.4L636.9 751.9L626.2 752.6L615.8 754.4L605.7 757.5L595.8 760.9L586.3 763.9L577 766.5L568.1 768.9L559.4 771.3L551.1 773.6L543.1 775.8L535.4 777.9L528.1 780L521.1 781.9L514.4 783.8L508.1 785.5L502.1 787.2L496.5 788.7L491.3 790.1L486.4 791.5L482 792.7L478 793.8L474.4 794.8L471.4 795.6L468.8 796.4L466.7 796.9L465.3 797.3L464.6 797.5Z"/><path d="M707.4 790L708.1 789.8L709.5 789.4L711.6 788.8L714.2 788L717.2 787.1L720.8 786L724.8 784.8L729.2 783.5L734.1 782L739.3 780.5L744.9 778.8L750.9 777L757.2 775.1L763.9 773.1L770.9 771L778.2 768.7L785.9 766.4L793.9 764L802.2 761.5L810.9 758.9L819.8 756.3L829.1 753.5L838.6 750.2L848.5 746.5L858.6 743.6L869 742.4L879.7 741.9L890.7 741.9L902 741.9L913.5 741.9L925.3 741.9L937.4 741.9L949.8 741.9L962.4 741.9L962.4 749.6L949.8 749.6L937.4 749.8L925.3 750.3L913.5 750.7L902 751.1L890.7 751.4L879.7 751.9L869 752.6L858.6 754.4L848.5 757.5L838.6 760.9L829.1 763.9L819.8 766.5L810.9 768.9L802.2 771.3L793.9 773.6L785.9 775.8L778.2 777.9L770.9 780L763.9 781.9L757.2 783.8L750.9 785.5L744.9 787.2L739.3 788.7L734.1 790.1L729.2 791.5L724.8 792.7L720.8 793.8L717.2 794.8L714.2 795.6L711.6 796.4L709.5 796.9L708.1 797.3L707.4 797.5Z"/><path d="M950.2 790L950.9 789.8L952.3 789.4L954.4 788.8L957 788L960 787.1L963.6 786L967.6 784.8L972 783.5L976.9 782L982.1 780.5L987.7 778.8L993.7 777L1000 775.1L1006.7 773.1L1013.7 771L1021 768.7L1028.7 766.4L1036.7 764L1045 761.5L1053.7 758.9L1062.6 756.3L1071.9 753.5L1081.4 750.2L1091.3 746.5L1101.4 743.6L1111.8 742.4L1122.5 741.9L1133.5 741.9L1144.8 741.9L1156.3 741.9L1168.1 741.9L1180.2 741.9L1192.6 741.9L1205.2 741.9L1205.2 749.6L1192.6 749.6L1180.2 749.8L1168.1 750.3L1156.3 750.7L1144.8 751.1L1133.5 751.4L1122.5 751.9L1111.8 752.6L1101.4 754.4L1091.3 757.5L1081.4 760.9L1071.9 763.9L1062.6 766.5L1053.7 768.9L1045 771.3L1036.7 773.6L1028.7 775.8L1021 777.9L1013.7 780L1006.7 781.9L1000 783.8L993.7 785.5L987.7 787.2L982.1 788.7L976.9 790.1L972 791.5L967.6 792.7L963.6 793.8L960 794.8L957 795.6L954.4 796.4L952.3 796.9L950.9 797.3L950.2 797.5Z"/><path d="M464.6 793.2L465.3 793.4L466.7 793.8L468.8 794.3L471.4 795L474.4 795.8L478 796.7L482 797.8L486.4 798.9L491.3 800.2L496.5 801.6L502.1 803.1L508.1 804.6L514.4 806.3L521.1 808.1L528.1 809.9L535.4 811.9L543.1 813.9L551.1 816L559.4 818.2L568.1 820.5L577 822.8L586.3 825.3L595.8 828.1L605.7 831.4L615.8 834.3L626.2 836.1L636.9 836.7L647.9 837.2L659.2 837.5L670.7 837.8L682.5 838.2L694.6 838.7L707 838.9L719.6 838.9L719.6 848L707 848L694.6 848L682.5 848L670.7 848L659.2 848L647.9 848L636.9 848L626.2 847.6L615.8 846.4L605.7 843.5L595.8 839.9L586.3 836.6L577 833.9L568.1 831.3L559.4 828.7L551.1 826.3L543.1 823.9L535.4 821.6L528.1 819.4L521.1 817.4L514.4 815.4L508.1 813.5L502.1 811.7L496.5 810.1L491.3 808.5L486.4 807.1L482 805.8L478 804.6L474.4 803.6L471.4 802.7L468.8 801.9L466.7 801.3L465.3 800.9L464.6 800.7Z"/><path d="M707.4 793.2L708.1 793.4L709.5 793.8L711.6 794.3L714.2 795L717.2 795.8L720.8 796.7L724.8 797.8L729.2 798.9L734.1 800.2L739.3 801.6L744.9 803.1L750.9 804.6L757.2 806.3L763.9 808.1L770.9 809.9L778.2 811.9L785.9 813.9L793.9 816L802.2 818.2L810.9 820.5L819.8 822.8L829.1 825.3L838.6 828.1L848.5 831.4L858.6 834.3L869 836.1L879.7 836.7L890.7 837.2L902 837.5L913.5 837.8L925.3 838.2L937.4 838.7L949.8 838.9L962.4 838.9L962.4 848L949.8 848L937.4 848L925.3 848L913.5 848L902 848L890.7 848L879.7 848L869 847.6L858.6 846.4L848.5 843.5L838.6 839.9L829.1 836.6L819.8 833.9L810.9 831.3L802.2 828.7L793.9 826.3L785.9 823.9L778.2 821.6L770.9 819.4L763.9 817.4L757.2 815.4L750.9 813.5L744.9 811.7L739.3 810.1L734.1 808.5L729.2 807.1L724.8 805.8L720.8 804.6L717.2 803.6L714.2 802.7L711.6 801.9L709.5 801.3L708.1 800.9L707.4 800.7Z"/><path d="M950.2 793.2L950.9 793.4L952.3 793.8L954.4 794.3L957 795L960 795.8L963.6 796.7L967.6 797.8L972 798.9L976.9 800.2L982.1 801.6L987.7 803.1L993.7 804.6L1000 806.3L1006.7 808.1L1013.7 809.9L1021 811.9L1028.7 813.9L1036.7 816L1045 818.2L1053.7 820.5L1062.6 822.8L1071.9 825.3L1081.4 828.1L1091.3 831.4L1101.4 834.3L1111.8 836.1L1122.5 836.7L1133.5 837.2L1144.8 837.5L1156.3 837.8L1168.1 838.2L1180.2 838.7L1192.6 838.9L1205.2 838.9L1205.2 848L1192.6 848L1180.2 848L1168.1 848L1156.3 848L1144.8 848L1133.5 848L1122.5 848L1111.8 847.6L1101.4 846.4L1091.3 843.5L1081.4 839.9L1071.9 836.6L1062.6 833.9L1053.7 831.3L1045 828.7L1036.7 826.3L1028.7 823.9L1021 821.6L1013.7 819.4L1006.7 817.4L1000 815.4L993.7 813.5L987.7 811.7L982.1 810.1L976.9 808.5L972 807.1L967.6 805.8L963.6 804.6L960 803.6L957 802.7L954.4 801.9L952.3 801.3L950.9 800.9L950.2 800.7Z"/><path d="M464.6 793.2L465.3 793.6L466.7 794.4L468.8 795.5L471.4 796.9L474.4 798.7L478 800.6L482 802.9L486.4 805.3L491.3 808L496.5 810.9L502.1 814L508.1 817.3L514.4 820.9L521.1 824.6L528.1 828.5L535.4 832.6L543.1 836.8L551.1 841.3L559.4 845.9L568.1 850.7L577 855.7L586.3 860.8L595.8 866.9L605.7 873.7L615.8 879.9L626.2 883.6L636.9 885L647.9 885.9L659.2 886.7L670.7 887.3L682.5 888.2L694.6 889.1L707 889.6L719.6 889.6L719.6 897.8L707 897.8L694.6 897.8L682.5 897.8L670.7 897.8L659.2 897.8L647.9 897.8L636.9 897.8L626.2 896.9L615.8 894.4L605.7 888.5L595.8 881.2L586.3 874.5L577 868.9L568.1 863.5L559.4 858.2L551.1 853.2L543.1 848.3L535.4 843.6L528.1 839.2L521.1 834.9L514.4 830.8L508.1 827L502.1 823.4L496.5 820L491.3 816.8L486.4 813.9L482 811.2L478 808.8L474.4 806.6L471.4 804.8L468.8 803.2L466.7 801.9L465.3 801.1L464.6 800.7Z"/><path d="M707.4 793.2L708.1 793.6L709.5 794.4L711.6 795.5L714.2 796.9L717.2 798.7L720.8 800.6L724.8 802.9L729.2 805.3L734.1 808L739.3 810.9L744.9 814L750.9 817.3L757.2 820.9L763.9 824.6L770.9 828.5L778.2 832.6L785.9 836.8L793.9 841.3L802.2 845.9L810.9 850.7L819.8 855.7L829.1 860.8L838.6 866.9L848.5 873.7L858.6 879.9L869 883.6L879.7 885L890.7 885.9L902 886.7L913.5 887.3L925.3 888.2L937.4 889.1L949.8 889.6L962.4 889.6L962.4 897.8L949.8 897.8L937.4 897.8L925.3 897.8L913.5 897.8L902 897.8L890.7 897.8L879.7 897.8L869 896.9L858.6 894.4L848.5 888.5L838.6 881.2L829.1 874.5L819.8 868.9L810.9 863.5L802.2 858.2L793.9 853.2L785.9 848.3L778.2 843.6L770.9 839.2L763.9 834.9L757.2 830.8L750.9 827L744.9 823.4L739.3 820L734.1 816.8L729.2 813.9L724.8 811.2L720.8 808.8L717.2 806.6L714.2 804.8L711.6 803.2L709.5 801.9L708.1 801.1L707.4 800.7Z"/><path d="M950.2 793.2L950.9 793.6L952.3 794.4L954.4 795.5L957 796.9L960 798.7L963.6 800.6L967.6 802.9L972 805.3L976.9 808L982.1 810.9L987.7 814L993.7 817.3L1000 820.9L1006.7 824.6L1013.7 828.5L1021 832.6L1028.7 836.8L1036.7 841.3L1045 845.9L1053.7 850.7L1062.6 855.7L1071.9 860.8L1081.4 866.9L1091.3 873.7L1101.4 879.9L1111.8 883.6L1122.5 885L1133.5 885.9L1144.8 886.7L1156.3 887.3L1168.1 888.2L1180.2 889.1L1192.6 889.6L1205.2 889.6L1205.2 897.8L1192.6 897.8L1180.2 897.8L1168.1 897.8L1156.3 897.8L1144.8 897.8L1133.5 897.8L1122.5 897.8L1111.8 896.9L1101.4 894.4L1091.3 888.5L1081.4 881.2L1071.9 874.5L1062.6 868.9L1053.7 863.5L1045 858.2L1036.7 853.2L1028.7 848.3L1021 843.6L1013.7 839.2L1006.7 834.9L1000 830.8L993.7 827L987.7 823.4L982.1 820L976.9 816.8L972 813.9L967.6 811.2L963.6 808.8L960 806.6L957 804.8L954.4 803.2L952.3 801.9L950.9 801.1L950.2 800.7Z"/><path d="M464.6 838.9L465.3 838.5L466.7 837.7L468.8 836.4L471.4 834.9L474.4 833L478 830.8L482 828.4L486.4 825.7L491.3 822.8L496.5 819.7L502.1 816.3L508.1 812.7L514.4 808.8L521.1 804.8L528.1 800.5L535.4 796L543.1 791.4L551.1 786.5L559.4 781.5L568.1 776.3L577 770.8L586.3 765.2L595.8 758.6L605.7 751.3L615.8 745.3L626.2 742.9L636.9 742L647.9 741.9L659.2 741.9L670.7 741.9L682.5 741.9L694.6 741.9L707 741.9L719.6 741.9L719.6 749.6L707 749.6L694.6 750.1L682.5 751L670.7 751.9L659.2 752.6L647.9 753.3L636.9 754.3L626.2 755.6L615.8 759.4L605.7 765.6L595.8 772.5L586.3 778.7L577 783.9L568.1 788.9L559.4 793.7L551.1 798.4L543.1 802.9L535.4 807.2L528.1 811.3L521.1 815.2L514.4 819L508.1 822.5L502.1 825.9L496.5 829L491.3 832L486.4 834.7L482 837.1L478 839.4L474.4 841.4L471.4 843.1L468.8 844.6L466.7 845.7L465.3 846.5L464.6 846.9Z"/><path d="M707.4 838.9L708.1 838.5L709.5 837.7L711.6 836.4L714.2 834.9L717.2 833L720.8 830.8L724.8 828.4L729.2 825.7L734.1 822.8L739.3 819.7L744.9 816.3L750.9 812.7L757.2 808.8L763.9 804.8L770.9 800.5L778.2 796L785.9 791.4L793.9 786.5L802.2 781.5L810.9 776.3L819.8 770.8L829.1 765.2L838.6 758.6L848.5 751.3L858.6 745.3L869 742.9L879.7 742L890.7 741.9L902 741.9L913.5 741.9L925.3 741.9L937.4 741.9L949.8 741.9L962.4 741.9L962.4 749.6L949.8 749.6L937.4 750.1L925.3 751L913.5 751.9L902 752.6L890.7 753.3L879.7 754.3L869 755.6L858.6 759.4L848.5 765.6L838.6 772.5L829.1 778.7L819.8 783.9L810.9 788.9L802.2 793.7L793.9 798.4L785.9 802.9L778.2 807.2L770.9 811.3L763.9 815.2L757.2 819L750.9 822.5L744.9 825.9L739.3 829L734.1 832L729.2 834.7L724.8 837.1L720.8 839.4L717.2 841.4L714.2 843.1L711.6 844.6L709.5 845.7L708.1 846.5L707.4 846.9Z"/><path d="M950.2 838.9L950.9 838.5L952.3 837.7L954.4 836.4L957 834.9L960 833L963.6 830.8L967.6 828.4L972 825.7L976.9 822.8L982.1 819.7L987.7 816.3L993.7 812.7L1000 808.8L1006.7 804.8L1013.7 800.5L1021 796L1028.7 791.4L1036.7 786.5L1045 781.5L1053.7 776.3L1062.6 770.8L1071.9 765.2L1081.4 758.6L1091.3 751.3L1101.4 745.3L1111.8 742.9L1122.5 742L1133.5 741.9L1144.8 741.9L1156.3 741.9L1168.1 741.9L1180.2 741.9L1192.6 741.9L1205.2 741.9L1205.2 749.6L1192.6 749.6L1180.2 750.1L1168.1 751L1156.3 751.9L1144.8 752.6L1133.5 753.3L1122.5 754.3L1111.8 755.6L1101.4 759.4L1091.3 765.6L1081.4 772.5L1071.9 778.7L1062.6 783.9L1053.7 788.9L1045 793.7L1036.7 798.4L1028.7 802.9L1021 807.2L1013.7 811.3L1006.7 815.2L1000 819L993.7 822.5L987.7 825.9L982.1 829L976.9 832L972 834.7L967.6 837.1L963.6 839.4L960 841.4L957 843.1L954.4 844.6L952.3 845.7L950.9 846.5L950.2 846.9Z"/><path d="M464.6 838.9L465.3 838.7L466.7 838.3L468.8 837.7L471.4 836.9L474.4 836L478 835L482 833.8L486.4 832.6L491.3 831.1L496.5 829.6L502.1 828L508.1 826.2L514.4 824.4L521.1 822.4L528.1 820.4L535.4 818.2L543.1 816L551.1 813.6L559.4 811.2L568.1 808.7L577 806.1L586.3 803.4L595.8 800.2L605.7 796.6L615.8 793.8L626.2 792.6L636.9 792.2L647.9 792.1L659.2 792.1L670.7 792.1L682.5 792.1L694.6 792.1L707 792.1L719.6 792.1L719.6 800.7L707 800.7L694.6 800.9L682.5 801.4L670.7 801.8L659.2 802.1L647.9 802.5L636.9 802.9L626.2 803.6L615.8 805.4L605.7 808.3L595.8 811.6L586.3 814.5L577 817L568.1 819.3L559.4 821.6L551.1 823.9L543.1 826L535.4 828L528.1 830L521.1 831.9L514.4 833.6L508.1 835.3L502.1 836.9L496.5 838.4L491.3 839.8L486.4 841.1L482 842.3L478 843.3L474.4 844.3L471.4 845.1L468.8 845.8L466.7 846.3L465.3 846.7L464.6 846.9Z"/><path d="M707.4 838.9L708.1 838.7L709.5 838.3L711.6 837.7L714.2 836.9L717.2 836L720.8 835L724.8 833.8L729.2 832.6L734.1 831.1L739.3 829.6L744.9 828L750.9 826.2L757.2 824.4L763.9 822.4L770.9 820.4L778.2 818.2L785.9 816L793.9 813.6L802.2 811.2L810.9 808.7L819.8 806.1L829.1 803.4L838.6 800.2L848.5 796.6L858.6 793.8L869 792.6L879.7 792.2L890.7 792.1L902 792.1L913.5 792.1L925.3 792.1L937.4 792.1L949.8 792.1L962.4 792.1L962.4 800.7L949.8 800.7L937.4 800.9L925.3 801.4L913.5 801.8L902 802.1L890.7 802.5L879.7 802.9L869 803.6L858.6 805.4L848.5 808.3L838.6 811.6L829.1 814.5L819.8 817L810.9 819.3L802.2 821.6L793.9 823.9L785.9 826L778.2 828L770.9 830L763.9 831.9L757.2 833.6L750.9 835.3L744.9 836.9L739.3 838.4L734.1 839.8L729.2 841.1L724.8 842.3L720.8 843.3L717.2 844.3L714.2 845.1L711.6 845.8L709.5 846.3L708.1 846.7L707.4 846.9Z"/><path d="M950.2 838.9L950.9 838.7L952.3 838.3L954.4 837.7L957 836.9L960 836L963.6 835L967.6 833.8L972 832.6L976.9 831.1L982.1 829.6L987.7 828L993.7 826.2L1000 824.4L1006.7 822.4L1013.7 820.4L1021 818.2L1028.7 816L1036.7 813.6L1045 811.2L1053.7 808.7L1062.6 806.1L1071.9 803.4L1081.4 800.2L1091.3 796.6L1101.4 793.8L1111.8 792.6L1122.5 792.2L1133.5 792.1L1144.8 792.1L1156.3 792.1L1168.1 792.1L1180.2 792.1L1192.6 792.1L1205.2 792.1L1205.2 800.7L1192.6 800.7L1180.2 800.9L1168.1 801.4L1156.3 801.8L1144.8 802.1L1133.5 802.5L1122.5 802.9L1111.8 803.6L1101.4 805.4L1091.3 808.3L1081.4 811.6L1071.9 814.5L1062.6 817L1053.7 819.3L1045 821.6L1036.7 823.9L1028.7 826L1021 828L1013.7 830L1006.7 831.9L1000 833.6L993.7 835.3L987.7 836.9L982.1 838.4L976.9 839.8L972 841.1L967.6 842.3L963.6 843.3L960 844.3L957 845.1L954.4 845.8L952.3 846.3L950.9 846.7L950.2 846.9Z"/><path d="M464.6 842.3L465.3 842.5L466.7 842.9L468.8 843.4L471.4 844.1L474.4 845L478 846L482 847.1L486.4 848.3L491.3 849.6L496.5 851L502.1 852.5L508.1 854.2L514.4 855.9L521.1 857.7L528.1 859.6L535.4 861.6L543.1 863.7L551.1 865.9L559.4 868.2L568.1 870.5L577 873L586.3 875.5L595.8 878.5L605.7 881.8L615.8 884.8L626.2 886.7L636.9 887.3L647.9 887.8L659.2 888.2L670.7 888.5L682.5 888.9L694.6 889.4L707 889.6L719.6 889.6L719.6 897.8L707 897.8L694.6 897.8L682.5 897.8L670.7 897.8L659.2 897.8L647.9 897.8L636.9 897.8L626.2 897.4L615.8 896.2L605.7 893.3L595.8 889.7L586.3 886.4L577 883.7L568.1 881L559.4 878.4L551.1 876L543.1 873.6L535.4 871.3L528.1 869.1L521.1 867L514.4 865.1L508.1 863.2L502.1 861.4L496.5 859.7L491.3 858.2L486.4 856.7L482 855.4L478 854.3L474.4 853.2L471.4 852.3L468.8 851.5L466.7 850.9L465.3 850.5L464.6 850.3Z"/><path d="M707.4 842.3L708.1 842.5L709.5 842.9L711.6 843.4L714.2 844.1L717.2 845L720.8 846L724.8 847.1L729.2 848.3L734.1 849.6L739.3 851L744.9 852.5L750.9 854.2L757.2 855.9L763.9 857.7L770.9 859.6L778.2 861.6L785.9 863.7L793.9 865.9L802.2 868.2L810.9 870.5L819.8 873L829.1 875.5L838.6 878.5L848.5 881.8L858.6 884.8L869 886.7L879.7 887.3L890.7 887.8L902 888.2L913.5 888.5L925.3 888.9L937.4 889.4L949.8 889.6L962.4 889.6L962.4 897.8L949.8 897.8L937.4 897.8L925.3 897.8L913.5 897.8L902 897.8L890.7 897.8L879.7 897.8L869 897.4L858.6 896.2L848.5 893.3L838.6 889.7L829.1 886.4L819.8 883.7L810.9 881L802.2 878.4L793.9 876L785.9 873.6L778.2 871.3L770.9 869.1L763.9 867L757.2 865.1L750.9 863.2L744.9 861.4L739.3 859.7L734.1 858.2L729.2 856.7L724.8 855.4L720.8 854.3L717.2 853.2L714.2 852.3L711.6 851.5L709.5 850.9L708.1 850.5L707.4 850.3Z"/><path d="M950.2 842.3L950.9 842.5L952.3 842.9L954.4 843.4L957 844.1L960 845L963.6 846L967.6 847.1L972 848.3L976.9 849.6L982.1 851L987.7 852.5L993.7 854.2L1000 855.9L1006.7 857.7L1013.7 859.6L1021 861.6L1028.7 863.7L1036.7 865.9L1045 868.2L1053.7 870.5L1062.6 873L1071.9 875.5L1081.4 878.5L1091.3 881.8L1101.4 884.8L1111.8 886.7L1122.5 887.3L1133.5 887.8L1144.8 888.2L1156.3 888.5L1168.1 888.9L1180.2 889.4L1192.6 889.6L1205.2 889.6L1205.2 897.8L1192.6 897.8L1180.2 897.8L1168.1 897.8L1156.3 897.8L1144.8 897.8L1133.5 897.8L1122.5 897.8L1111.8 897.4L1101.4 896.2L1091.3 893.3L1081.4 889.7L1071.9 886.4L1062.6 883.7L1053.7 881L1045 878.4L1036.7 876L1028.7 873.6L1021 871.3L1013.7 869.1L1006.7 867L1000 865.1L993.7 863.2L987.7 861.4L982.1 859.7L976.9 858.2L972 856.7L967.6 855.4L963.6 854.3L960 853.2L957 852.3L954.4 851.5L952.3 850.9L950.9 850.5L950.2 850.3Z"/><path d="M464.6 889.6L465.3 889L466.7 887.7L468.8 885.8L471.4 883.4L474.4 880.6L478 877.3L482 873.6L486.4 869.6L491.3 865.1L496.5 860.3L502.1 855.1L508.1 849.6L514.4 843.8L521.1 837.6L528.1 831.1L535.4 824.3L543.1 817.2L551.1 809.8L559.4 802.2L568.1 794.2L577 786L586.3 777.4L595.8 767.3L605.7 756.1L615.8 747.1L626.2 743.4L636.9 742L647.9 741.9L659.2 741.9L670.7 741.9L682.5 741.9L694.6 741.9L707 741.9L719.6 741.9L719.6 749.6L707 749.6L694.6 750.3L682.5 751.8L670.7 753.1L659.2 754.1L647.9 755.2L636.9 756.7L626.2 758.7L615.8 764.5L605.7 773.9L595.8 784.3L586.3 793.6L577 801.4L568.1 809L559.4 816.4L551.1 823.4L543.1 830.2L535.4 836.7L528.1 843L521.1 848.9L514.4 854.6L508.1 860L502.1 865L496.5 869.8L491.3 874.2L486.4 878.3L482 882.1L478 885.5L474.4 888.5L471.4 891.1L468.8 893.3L466.7 895.1L465.3 896.3L464.6 896.8Z"/><path d="M707.4 889.6L708.1 889L709.5 887.7L711.6 885.8L714.2 883.4L717.2 880.6L720.8 877.3L724.8 873.6L729.2 869.6L734.1 865.1L739.3 860.3L744.9 855.1L750.9 849.6L757.2 843.8L763.9 837.6L770.9 831.1L778.2 824.3L785.9 817.2L793.9 809.8L802.2 802.2L810.9 794.2L819.8 786L829.1 777.4L838.6 767.3L848.5 756.1L858.6 747.1L869 743.4L879.7 742L890.7 741.9L902 741.9L913.5 741.9L925.3 741.9L937.4 741.9L949.8 741.9L962.4 741.9L962.4 749.6L949.8 749.6L937.4 750.3L925.3 751.8L913.5 753.1L902 754.1L890.7 755.2L879.7 756.7L869 758.7L858.6 764.5L848.5 773.9L838.6 784.3L829.1 793.6L819.8 801.4L810.9 809L802.2 816.4L793.9 823.4L785.9 830.2L778.2 836.7L770.9 843L763.9 848.9L757.2 854.6L750.9 860L744.9 865L739.3 869.8L734.1 874.2L729.2 878.3L724.8 882.1L720.8 885.5L717.2 888.5L714.2 891.1L711.6 893.3L709.5 895.1L708.1 896.3L707.4 896.8Z"/><path d="M950.2 889.6L950.9 889L952.3 887.7L954.4 885.8L957 883.4L960 880.6L963.6 877.3L967.6 873.6L972 869.6L976.9 865.1L982.1 860.3L987.7 855.1L993.7 849.6L1000 843.8L1006.7 837.6L1013.7 831.1L1021 824.3L1028.7 817.2L1036.7 809.8L1045 802.2L1053.7 794.2L1062.6 786L1071.9 777.4L1081.4 767.3L1091.3 756.1L1101.4 747.1L1111.8 743.4L1122.5 742L1133.5 741.9L1144.8 741.9L1156.3 741.9L1168.1 741.9L1180.2 741.9L1192.6 741.9L1205.2 741.9L1205.2 749.6L1192.6 749.6L1180.2 750.3L1168.1 751.8L1156.3 753.1L1144.8 754.1L1133.5 755.2L1122.5 756.7L1111.8 758.7L1101.4 764.5L1091.3 773.9L1081.4 784.3L1071.9 793.6L1062.6 801.4L1053.7 809L1045 816.4L1036.7 823.4L1028.7 830.2L1021 836.7L1013.7 843L1006.7 848.9L1000 854.6L993.7 860L987.7 865L982.1 869.8L976.9 874.2L972 878.3L967.6 882.1L963.6 885.5L960 888.5L957 891.1L954.4 893.3L952.3 895.1L950.9 896.3L950.2 896.8Z"/><path d="M464.6 889.6L465.3 889.2L466.7 888.3L468.8 887.1L471.4 885.5L474.4 883.7L478 881.5L482 879.1L486.4 876.4L491.3 873.4L496.5 870.3L502.1 866.9L508.1 863.2L514.4 859.4L521.1 855.3L528.1 851L535.4 846.5L543.1 841.8L551.1 837L559.4 831.9L568.1 826.6L577 821.2L586.3 815.6L595.8 808.9L605.7 801.5L615.8 795.6L626.2 793.1L636.9 792.2L647.9 792.1L659.2 792.1L670.7 792.1L682.5 792.1L694.6 792.1L707 792.1L719.6 792.1L719.6 800.7L707 800.7L694.6 801.2L682.5 802.1L670.7 803L659.2 803.6L647.9 804.4L636.9 805.3L626.2 806.6L615.8 810.4L605.7 816.5L595.8 823.3L586.3 829.4L577 834.5L568.1 839.5L559.4 844.3L551.1 848.9L543.1 853.3L535.4 857.6L528.1 861.7L521.1 865.5L514.4 869.3L508.1 872.8L502.1 876.1L496.5 879.2L491.3 882.1L486.4 884.7L482 887.2L478 889.4L474.4 891.4L471.4 893.1L468.8 894.5L466.7 895.7L465.3 896.5L464.6 896.8Z"/><path d="M707.4 889.6L708.1 889.2L709.5 888.3L711.6 887.1L714.2 885.5L717.2 883.7L720.8 881.5L724.8 879.1L729.2 876.4L734.1 873.4L739.3 870.3L744.9 866.9L750.9 863.2L757.2 859.4L763.9 855.3L770.9 851L778.2 846.5L785.9 841.8L793.9 837L802.2 831.9L810.9 826.6L819.8 821.2L829.1 815.6L838.6 808.9L848.5 801.5L858.6 795.6L869 793.1L879.7 792.2L890.7 792.1L902 792.1L913.5 792.1L925.3 792.1L937.4 792.1L949.8 792.1L962.4 792.1L962.4 800.7L949.8 800.7L937.4 801.2L925.3 802.1L913.5 803L902 803.6L890.7 804.4L879.7 805.3L869 806.6L858.6 810.4L848.5 816.5L838.6 823.3L829.1 829.4L819.8 834.5L810.9 839.5L802.2 844.3L793.9 848.9L785.9 853.3L778.2 857.6L770.9 861.7L763.9 865.5L757.2 869.3L750.9 872.8L744.9 876.1L739.3 879.2L734.1 882.1L729.2 884.7L724.8 887.2L720.8 889.4L717.2 891.4L714.2 893.1L711.6 894.5L709.5 895.7L708.1 896.5L707.4 896.8Z"/><path d="M950.2 889.6L950.9 889.2L952.3 888.3L954.4 887.1L957 885.5L960 883.7L963.6 881.5L967.6 879.1L972 876.4L976.9 873.4L982.1 870.3L987.7 866.9L993.7 863.2L1000 859.4L1006.7 855.3L1013.7 851L1021 846.5L1028.7 841.8L1036.7 837L1045 831.9L1053.7 826.6L1062.6 821.2L1071.9 815.6L1081.4 808.9L1091.3 801.5L1101.4 795.6L1111.8 793.1L1122.5 792.2L1133.5 792.1L1144.8 792.1L1156.3 792.1L1168.1 792.1L1180.2 792.1L1192.6 792.1L1205.2 792.1L1205.2 800.7L1192.6 800.7L1180.2 801.2L1168.1 802.1L1156.3 803L1144.8 803.6L1133.5 804.4L1122.5 805.3L1111.8 806.6L1101.4 810.4L1091.3 816.5L1081.4 823.3L1071.9 829.4L1062.6 834.5L1053.7 839.5L1045 844.3L1036.7 848.9L1028.7 853.3L1021 857.6L1013.7 861.7L1006.7 865.5L1000 869.3L993.7 872.8L987.7 876.1L982.1 879.2L976.9 882.1L972 884.7L967.6 887.2L963.6 889.4L960 891.4L957 893.1L954.4 894.5L952.3 895.7L950.9 896.5L950.2 896.8Z"/><path d="M464.6 889.6L465.3 889.4L466.7 889L468.8 888.4L471.4 887.6L474.4 886.6L478 885.6L482 884.4L486.4 883L491.3 881.6L496.5 880L502.1 878.3L508.1 876.5L514.4 874.6L521.1 872.6L528.1 870.4L535.4 868.2L543.1 865.9L551.1 863.4L559.4 860.9L568.1 858.3L577 855.6L586.3 852.8L595.8 849.5L605.7 845.8L615.8 842.9L626.2 841.7L636.9 841.2L647.9 841.2L659.2 841.2L670.7 841.2L682.5 841.2L694.6 841.2L707 841.2L719.6 841.2L719.6 850.3L707 850.3L694.6 850.5L682.5 851L670.7 851.4L659.2 851.7L647.9 852.1L636.9 852.5L626.2 853.2L615.8 855L605.7 858L595.8 861.3L586.3 864.2L577 866.7L568.1 869.1L559.4 871.4L551.1 873.6L543.1 875.8L535.4 877.8L528.1 879.8L521.1 881.7L514.4 883.5L508.1 885.2L502.1 886.8L496.5 888.3L491.3 889.7L486.4 891L482 892.2L478 893.2L474.4 894.2L471.4 895L468.8 895.7L466.7 896.3L465.3 896.6L464.6 896.8Z"/><path d="M707.4 889.6L708.1 889.4L709.5 889L711.6 888.4L714.2 887.6L717.2 886.6L720.8 885.6L724.8 884.4L729.2 883L734.1 881.6L739.3 880L744.9 878.3L750.9 876.5L757.2 874.6L763.9 872.6L770.9 870.4L778.2 868.2L785.9 865.9L793.9 863.4L802.2 860.9L810.9 858.3L819.8 855.6L829.1 852.8L838.6 849.5L848.5 845.8L858.6 842.9L869 841.7L879.7 841.2L890.7 841.2L902 841.2L913.5 841.2L925.3 841.2L937.4 841.2L949.8 841.2L962.4 841.2L962.4 850.3L949.8 850.3L937.4 850.5L925.3 851L913.5 851.4L902 851.7L890.7 852.1L879.7 852.5L869 853.2L858.6 855L848.5 858L838.6 861.3L829.1 864.2L819.8 866.7L810.9 869.1L802.2 871.4L793.9 873.6L785.9 875.8L778.2 877.8L770.9 879.8L763.9 881.7L757.2 883.5L750.9 885.2L744.9 886.8L739.3 888.3L734.1 889.7L729.2 891L724.8 892.2L720.8 893.2L717.2 894.2L714.2 895L711.6 895.7L709.5 896.3L708.1 896.6L707.4 896.8Z"/><path d="M950.2 889.6L950.9 889.4L952.3 889L954.4 888.4L957 887.6L960 886.6L963.6 885.6L967.6 884.4L972 883L976.9 881.6L982.1 880L987.7 878.3L993.7 876.5L1000 874.6L1006.7 872.6L1013.7 870.4L1021 868.2L1028.7 865.9L1036.7 863.4L1045 860.9L1053.7 858.3L1062.6 855.6L1071.9 852.8L1081.4 849.5L1091.3 845.8L1101.4 842.9L1111.8 841.7L1122.5 841.2L1133.5 841.2L1144.8 841.2L1156.3 841.2L1168.1 841.2L1180.2 841.2L1192.6 841.2L1205.2 841.2L1205.2 850.3L1192.6 850.3L1180.2 850.5L1168.1 851L1156.3 851.4L1144.8 851.7L1133.5 852.1L1122.5 852.5L1111.8 853.2L1101.4 855L1091.3 858L1081.4 861.3L1071.9 864.2L1062.6 866.7L1053.7 869.1L1045 871.4L1036.7 873.6L1028.7 875.8L1021 877.8L1013.7 879.8L1006.7 881.7L1000 883.5L993.7 885.2L987.7 886.8L982.1 888.3L976.9 889.7L972 891L967.6 892.2L963.6 893.2L960 894.2L957 895L954.4 895.7L952.3 896.3L950.9 896.6L950.2 896.8Z"/><rect x="644.3" y="740" width="534.2" height="9.6"/><rect x="644.3" y="790" width="534.2" height="10.7"/><rect x="644.3" y="838.9" width="534.2" height="11.4"/><rect x="644.3" y="889.6" width="534.2" height="10.3"/><path d="M464.6 745.8L465.8 745.8L468.4 745.8L472.1 747L476.8 748.7L482.4 751.1L488.8 754.6L496 759.1L504 764L512.8 768.8L522.2 773.7L532.3 778L543.1 782L554.6 785L566.6 787.2L579.3 788.6L592.6 789.4L606.5 789.9L621 790L636 790L651.6 790L667.8 790L684.5 790L701.8 790L719.6 790L719.6 794.3L701.8 794.3L684.5 794.3L667.8 794.3L651.6 794.3L636 794.3L621 794.3L606.5 794.2L592.6 793.7L579.3 792.9L566.6 791.4L554.6 789.2L543.1 786.2L532.3 782.2L522.2 777.8L512.8 772.8L504 768L496 763.1L488.8 758.5L482.4 755L476.8 752.5L472.1 750.8L468.4 749.6L465.8 749.6L464.6 749.6Z"/><path d="M707.4 745.8L708.6 745.8L711.2 745.8L714.9 747L719.6 748.7L725.2 751.1L731.6 754.6L738.8 759.1L746.8 764L755.6 768.8L765 773.7L775.1 778L785.9 782L797.4 785L809.4 787.2L822.1 788.6L835.4 789.4L849.3 789.9L863.8 790L878.8 790L894.4 790L910.6 790L927.3 790L944.6 790L962.4 790L962.4 794.3L944.6 794.3L927.3 794.3L910.6 794.3L894.4 794.3L878.8 794.3L863.8 794.3L849.3 794.2L835.4 793.7L822.1 792.9L809.4 791.4L797.4 789.2L785.9 786.2L775.1 782.2L765 777.8L755.6 772.8L746.8 768L738.8 763.1L731.6 758.5L725.2 755L719.6 752.5L714.9 750.8L711.2 749.6L708.6 749.6L707.4 749.6Z"/><path d="M950.2 745.8L951.4 745.8L954 745.8L957.7 747L962.4 748.7L968 751.1L974.4 754.6L981.6 759.1L989.6 764L998.4 768.8L1007.8 773.7L1017.9 778L1028.7 782L1040.2 785L1052.2 787.2L1064.9 788.6L1078.2 789.4L1092.1 789.9L1106.6 790L1121.6 790L1137.2 790L1153.4 790L1170.1 790L1187.4 790L1205.2 790L1205.2 794.3L1187.4 794.3L1170.1 794.3L1153.4 794.3L1137.2 794.3L1121.6 794.3L1106.6 794.3L1092.1 794.2L1078.2 793.7L1064.9 792.9L1052.2 791.4L1040.2 789.2L1028.7 786.2L1017.9 782.2L1007.8 777.8L998.4 772.8L989.6 768L981.6 763.1L974.4 758.5L968 755L962.4 752.5L957.7 750.8L954 749.6L951.4 749.6L950.2 749.6Z"/><path d="M464.6 745.8L465.8 745.8L468.4 745.8L472.1 748.3L476.8 751.9L482.4 757L488.8 764.4L496 773.9L504 784.1L512.8 794.2L522.2 804.6L532.3 813.7L543.1 822L554.6 828.3L566.6 832.9L579.3 836L592.6 837.6L606.5 838.7L621 838.9L636 838.9L651.6 838.9L667.8 838.9L684.5 838.9L701.8 838.9L719.6 838.9L719.6 843.5L701.8 843.5L684.5 843.5L667.8 843.5L651.6 843.5L636 843.5L621 843.5L606.5 843.3L592.6 842.2L579.3 840.6L566.6 837.4L554.6 832.8L543.1 826.4L532.3 818.1L522.2 808.9L512.8 798.4L504 788.2L496 778L488.8 768.4L482.4 760.9L476.8 755.8L472.1 752.1L468.4 749.7L465.8 749.6L464.6 749.6Z"/><path d="M707.4 745.8L708.6 745.8L711.2 745.8L714.9 748.3L719.6 751.9L725.2 757L731.6 764.4L738.8 773.9L746.8 784.1L755.6 794.2L765 804.6L775.1 813.7L785.9 822L797.4 828.3L809.4 832.9L822.1 836L835.4 837.6L849.3 838.7L863.8 838.9L878.8 838.9L894.4 838.9L910.6 838.9L927.3 838.9L944.6 838.9L962.4 838.9L962.4 843.5L944.6 843.5L927.3 843.5L910.6 843.5L894.4 843.5L878.8 843.5L863.8 843.5L849.3 843.3L835.4 842.2L822.1 840.6L809.4 837.4L797.4 832.8L785.9 826.4L775.1 818.1L765 808.9L755.6 798.4L746.8 788.2L738.8 778L731.6 768.4L725.2 760.9L719.6 755.8L714.9 752.1L711.2 749.7L708.6 749.6L707.4 749.6Z"/><path d="M950.2 745.8L951.4 745.8L954 745.8L957.7 748.3L962.4 751.9L968 757L974.4 764.4L981.6 773.9L989.6 784.1L998.4 794.2L1007.8 804.6L1017.9 813.7L1028.7 822L1040.2 828.3L1052.2 832.9L1064.9 836L1078.2 837.6L1092.1 838.7L1106.6 838.9L1121.6 838.9L1137.2 838.9L1153.4 838.9L1170.1 838.9L1187.4 838.9L1205.2 838.9L1205.2 843.5L1187.4 843.5L1170.1 843.5L1153.4 843.5L1137.2 843.5L1121.6 843.5L1106.6 843.5L1092.1 843.3L1078.2 842.2L1064.9 840.6L1052.2 837.4L1040.2 832.8L1028.7 826.4L1017.9 818.1L1007.8 808.9L998.4 798.4L989.6 788.2L981.6 778L974.4 768.4L968 760.9L962.4 755.8L957.7 752.1L954 749.7L951.4 749.6L950.2 749.6Z"/><path d="M464.6 745.8L465.8 745.8L468.4 745.8L472.1 749.6L476.8 755.2L482.4 763L488.8 774.5L496 789.2L504 805L512.8 820.6L522.2 836.6L532.3 850.7L543.1 863.4L554.6 873.2L566.6 880.4L579.3 885.1L592.6 887.7L606.5 889.3L621 889.6L636 889.6L651.6 889.6L667.8 889.6L684.5 889.6L701.8 889.6L719.6 889.6L719.6 893.7L701.8 893.7L684.5 893.7L667.8 893.7L651.6 893.7L636 893.7L621 893.7L606.5 893.4L592.6 891.8L579.3 889.3L566.6 884.5L554.6 877.3L543.1 867.5L532.3 854.8L522.2 840.6L512.8 824.6L504 808.9L496 793.2L488.8 778.4L482.4 766.9L476.8 759.1L472.1 753.5L468.4 749.7L465.8 749.6L464.6 749.6Z"/><path d="M707.4 745.8L708.6 745.8L711.2 745.8L714.9 749.6L719.6 755.2L725.2 763L731.6 774.5L738.8 789.2L746.8 805L755.6 820.6L765 836.6L775.1 850.7L785.9 863.4L797.4 873.2L809.4 880.4L822.1 885.1L835.4 887.7L849.3 889.3L863.8 889.6L878.8 889.6L894.4 889.6L910.6 889.6L927.3 889.6L944.6 889.6L962.4 889.6L962.4 893.7L944.6 893.7L927.3 893.7L910.6 893.7L894.4 893.7L878.8 893.7L863.8 893.7L849.3 893.4L835.4 891.8L822.1 889.3L809.4 884.5L797.4 877.3L785.9 867.5L775.1 854.8L765 840.6L755.6 824.6L746.8 808.9L738.8 793.2L731.6 778.4L725.2 766.9L719.6 759.1L714.9 753.5L711.2 749.7L708.6 749.6L707.4 749.6Z"/><path d="M950.2 745.8L951.4 745.8L954 745.8L957.7 749.6L962.4 755.2L968 763L974.4 774.5L981.6 789.2L989.6 805L998.4 820.6L1007.8 836.6L1017.9 850.7L1028.7 863.4L1040.2 873.2L1052.2 880.4L1064.9 885.1L1078.2 887.7L1092.1 889.3L1106.6 889.6L1121.6 889.6L1137.2 889.6L1153.4 889.6L1170.1 889.6L1187.4 889.6L1205.2 889.6L1205.2 893.7L1187.4 893.7L1170.1 893.7L1153.4 893.7L1137.2 893.7L1121.6 893.7L1106.6 893.7L1092.1 893.4L1078.2 891.8L1064.9 889.3L1052.2 884.5L1040.2 877.3L1028.7 867.5L1017.9 854.8L1007.8 840.6L998.4 824.6L989.6 808.9L981.6 793.2L974.4 778.4L968 766.9L962.4 759.1L957.7 753.5L954 749.7L951.4 749.6L950.2 749.6Z"/><path d="M464.6 790L465.8 790L468.4 790L472.1 788.8L476.8 787.1L482.4 784.7L488.8 781.1L496 776.6L504 771.8L512.8 767L522.2 762.1L532.3 757.7L543.1 753.8L554.6 750.8L566.6 748.6L579.3 747.1L592.6 746.4L606.5 745.8L621 745.8L636 745.8L651.6 745.8L667.8 745.8L684.5 745.8L701.8 745.8L719.6 745.8L719.6 749.6L701.8 749.6L684.5 749.6L667.8 749.6L651.6 749.6L636 749.6L621 749.6L606.5 749.7L592.6 750.2L579.3 751L566.6 752.5L554.6 754.7L543.1 757.7L532.3 761.7L522.2 766.1L512.8 771L504 775.9L496 780.8L488.8 785.3L482.4 788.9L476.8 791.3L472.1 793.1L468.4 794.3L465.8 794.3L464.6 794.3Z"/><path d="M707.4 790L708.6 790L711.2 790L714.9 788.8L719.6 787.1L725.2 784.7L731.6 781.1L738.8 776.6L746.8 771.8L755.6 767L765 762.1L775.1 757.7L785.9 753.8L797.4 750.8L809.4 748.6L822.1 747.1L835.4 746.4L849.3 745.8L863.8 745.8L878.8 745.8L894.4 745.8L910.6 745.8L927.3 745.8L944.6 745.8L962.4 745.8L962.4 749.6L944.6 749.6L927.3 749.6L910.6 749.6L894.4 749.6L878.8 749.6L863.8 749.6L849.3 749.7L835.4 750.2L822.1 751L809.4 752.5L797.4 754.7L785.9 757.7L775.1 761.7L765 766.1L755.6 771L746.8 775.9L738.8 780.8L731.6 785.3L725.2 788.9L719.6 791.3L714.9 793.1L711.2 794.3L708.6 794.3L707.4 794.3Z"/><path d="M950.2 790L951.4 790L954 790L957.7 788.8L962.4 787.1L968 784.7L974.4 781.1L981.6 776.6L989.6 771.8L998.4 767L1007.8 762.1L1017.9 757.7L1028.7 753.8L1040.2 750.8L1052.2 748.6L1064.9 747.1L1078.2 746.4L1092.1 745.8L1106.6 745.8L1121.6 745.8L1137.2 745.8L1153.4 745.8L1170.1 745.8L1187.4 745.8L1205.2 745.8L1205.2 749.6L1187.4 749.6L1170.1 749.6L1153.4 749.6L1137.2 749.6L1121.6 749.6L1106.6 749.6L1092.1 749.7L1078.2 750.2L1064.9 751L1052.2 752.5L1040.2 754.7L1028.7 757.7L1017.9 761.7L1007.8 766.1L998.4 771L989.6 775.9L981.6 780.8L974.4 785.3L968 788.9L962.4 791.3L957.7 793.1L954 794.3L951.4 794.3L950.2 794.3Z"/><path d="M464.6 796.4L465.8 796.4L468.4 796.4L472.1 797.6L476.8 799.2L482.4 801.5L488.8 804.9L496 809.3L504 813.9L512.8 818.5L522.2 823.3L532.3 827.4L543.1 831.2L554.6 834.1L566.6 836.2L579.3 837.6L592.6 838.3L606.5 838.8L621 838.9L636 838.9L651.6 838.9L667.8 838.9L684.5 838.9L701.8 838.9L719.6 838.9L719.6 843.5L701.8 843.5L684.5 843.5L667.8 843.5L651.6 843.5L636 843.5L621 843.5L606.5 843.4L592.6 842.9L579.3 842.1L566.6 840.7L554.6 838.6L543.1 835.7L532.3 831.9L522.2 827.7L512.8 822.9L504 818.3L496 813.6L488.8 809.3L482.4 805.8L476.8 803.5L472.1 801.9L468.4 800.7L465.8 800.7L464.6 800.7Z"/><path d="M707.4 796.4L708.6 796.4L711.2 796.4L714.9 797.6L719.6 799.2L725.2 801.5L731.6 804.9L738.8 809.3L746.8 813.9L755.6 818.5L765 823.3L775.1 827.4L785.9 831.2L797.4 834.1L809.4 836.2L822.1 837.6L835.4 838.3L849.3 838.8L863.8 838.9L878.8 838.9L894.4 838.9L910.6 838.9L927.3 838.9L944.6 838.9L962.4 838.9L962.4 843.5L944.6 843.5L927.3 843.5L910.6 843.5L894.4 843.5L878.8 843.5L863.8 843.5L849.3 843.4L835.4 842.9L822.1 842.1L809.4 840.7L797.4 838.6L785.9 835.7L775.1 831.9L765 827.7L755.6 822.9L746.8 818.3L738.8 813.6L731.6 809.3L725.2 805.8L719.6 803.5L714.9 801.9L711.2 800.7L708.6 800.7L707.4 800.7Z"/><path d="M950.2 796.4L951.4 796.4L954 796.4L957.7 797.6L962.4 799.2L968 801.5L974.4 804.9L981.6 809.3L989.6 813.9L998.4 818.5L1007.8 823.3L1017.9 827.4L1028.7 831.2L1040.2 834.1L1052.2 836.2L1064.9 837.6L1078.2 838.3L1092.1 838.8L1106.6 838.9L1121.6 838.9L1137.2 838.9L1153.4 838.9L1170.1 838.9L1187.4 838.9L1205.2 838.9L1205.2 843.5L1187.4 843.5L1170.1 843.5L1153.4 843.5L1137.2 843.5L1121.6 843.5L1106.6 843.5L1092.1 843.4L1078.2 842.9L1064.9 842.1L1052.2 840.7L1040.2 838.6L1028.7 835.7L1017.9 831.9L1007.8 827.7L998.4 822.9L989.6 818.3L981.6 813.6L974.4 809.3L968 805.8L962.4 803.5L957.7 801.9L954 800.7L951.4 800.7L950.2 800.7Z"/><path d="M464.6 796.4L465.8 796.4L468.4 796.5L472.1 798.9L476.8 802.5L482.4 807.6L488.8 815.1L496 824.6L504 834.8L512.8 844.9L522.2 855.3L532.3 864.4L543.1 872.7L554.6 879L566.6 883.6L579.3 886.7L592.6 888.3L606.5 889.4L621 889.6L636 889.6L651.6 889.6L667.8 889.6L684.5 889.6L701.8 889.6L719.6 889.6L719.6 893.7L701.8 893.7L684.5 893.7L667.8 893.7L651.6 893.7L636 893.7L621 893.7L606.5 893.5L592.6 892.5L579.3 890.8L566.6 887.7L554.6 883.1L543.1 876.8L532.3 868.6L522.2 859.5L512.8 849.1L504 839L496 828.8L488.8 819.3L482.4 811.9L476.8 806.8L472.1 803.2L468.4 800.8L465.8 800.7L464.6 800.7Z"/><path d="M707.4 796.4L708.6 796.4L711.2 796.5L714.9 798.9L719.6 802.5L725.2 807.6L731.6 815.1L738.8 824.6L746.8 834.8L755.6 844.9L765 855.3L775.1 864.4L785.9 872.7L797.4 879L809.4 883.6L822.1 886.7L835.4 888.3L849.3 889.4L863.8 889.6L878.8 889.6L894.4 889.6L910.6 889.6L927.3 889.6L944.6 889.6L962.4 889.6L962.4 893.7L944.6 893.7L927.3 893.7L910.6 893.7L894.4 893.7L878.8 893.7L863.8 893.7L849.3 893.5L835.4 892.5L822.1 890.8L809.4 887.7L797.4 883.1L785.9 876.8L775.1 868.6L765 859.5L755.6 849.1L746.8 839L738.8 828.8L731.6 819.3L725.2 811.9L719.6 806.8L714.9 803.2L711.2 800.8L708.6 800.7L707.4 800.7Z"/><path d="M950.2 796.4L951.4 796.4L954 796.5L957.7 798.9L962.4 802.5L968 807.6L974.4 815.1L981.6 824.6L989.6 834.8L998.4 844.9L1007.8 855.3L1017.9 864.4L1028.7 872.7L1040.2 879L1052.2 883.6L1064.9 886.7L1078.2 888.3L1092.1 889.4L1106.6 889.6L1121.6 889.6L1137.2 889.6L1153.4 889.6L1170.1 889.6L1187.4 889.6L1205.2 889.6L1205.2 893.7L1187.4 893.7L1170.1 893.7L1153.4 893.7L1137.2 893.7L1121.6 893.7L1106.6 893.7L1092.1 893.5L1078.2 892.5L1064.9 890.8L1052.2 887.7L1040.2 883.1L1028.7 876.8L1017.9 868.6L1007.8 859.5L998.4 849.1L989.6 839L981.6 828.8L974.4 819.3L968 811.9L962.4 806.8L957.7 803.2L954 800.8L951.4 800.7L950.2 800.7Z"/><path d="M464.6 838.9L465.8 838.9L468.4 838.8L472.1 836.4L476.8 832.8L482.4 827.7L488.8 820.3L496 810.7L504 800.6L512.8 790.5L522.2 780.1L532.3 770.9L543.1 762.7L554.6 756.4L566.6 751.7L579.3 748.6L592.6 747L606.5 745.9L621 745.8L636 745.8L651.6 745.8L667.8 745.8L684.5 745.8L701.8 745.8L719.6 745.8L719.6 749.6L701.8 749.6L684.5 749.6L667.8 749.6L651.6 749.6L636 749.6L621 749.6L606.5 749.8L592.6 750.9L579.3 752.5L566.6 755.6L554.6 760.3L543.1 766.7L532.3 775L522.2 784.2L512.8 794.6L504 804.8L496 815.1L488.8 824.7L482.4 832.2L476.8 837.3L472.1 840.9L468.4 843.4L465.8 843.5L464.6 843.5Z"/><path d="M707.4 838.9L708.6 838.9L711.2 838.8L714.9 836.4L719.6 832.8L725.2 827.7L731.6 820.3L738.8 810.7L746.8 800.6L755.6 790.5L765 780.1L775.1 770.9L785.9 762.7L797.4 756.4L809.4 751.7L822.1 748.6L835.4 747L849.3 745.9L863.8 745.8L878.8 745.8L894.4 745.8L910.6 745.8L927.3 745.8L944.6 745.8L962.4 745.8L962.4 749.6L944.6 749.6L927.3 749.6L910.6 749.6L894.4 749.6L878.8 749.6L863.8 749.6L849.3 749.8L835.4 750.9L822.1 752.5L809.4 755.6L797.4 760.3L785.9 766.7L775.1 775L765 784.2L755.6 794.6L746.8 804.8L738.8 815.1L731.6 824.7L725.2 832.2L719.6 837.3L714.9 840.9L711.2 843.4L708.6 843.5L707.4 843.5Z"/><path d="M950.2 838.9L951.4 838.9L954 838.8L957.7 836.4L962.4 832.8L968 827.7L974.4 820.3L981.6 810.7L989.6 800.6L998.4 790.5L1007.8 780.1L1017.9 770.9L1028.7 762.7L1040.2 756.4L1052.2 751.7L1064.9 748.6L1078.2 747L1092.1 745.9L1106.6 745.8L1121.6 745.8L1137.2 745.8L1153.4 745.8L1170.1 745.8L1187.4 745.8L1205.2 745.8L1205.2 749.6L1187.4 749.6L1170.1 749.6L1153.4 749.6L1137.2 749.6L1121.6 749.6L1106.6 749.6L1092.1 749.8L1078.2 750.9L1064.9 752.5L1052.2 755.6L1040.2 760.3L1028.7 766.7L1017.9 775L1007.8 784.2L998.4 794.6L989.6 804.8L981.6 815.1L974.4 824.7L968 832.2L962.4 837.3L957.7 840.9L954 843.4L951.4 843.5L950.2 843.5Z"/><path d="M464.6 838.9L465.8 838.9L468.4 838.9L472.1 837.8L476.8 836.1L482.4 833.8L488.8 830.4L496 826.1L504 821.4L512.8 816.8L522.2 812.1L532.3 807.9L543.1 804.1L554.6 801.3L566.6 799.1L579.3 797.7L592.6 797L606.5 796.5L621 796.4L636 796.4L651.6 796.4L667.8 796.4L684.5 796.4L701.8 796.4L719.6 796.4L719.6 800.7L701.8 800.7L684.5 800.7L667.8 800.7L651.6 800.7L636 800.7L621 800.7L606.5 800.8L592.6 801.3L579.3 802L566.6 803.4L554.6 805.6L543.1 808.5L532.3 812.3L522.2 816.5L512.8 821.2L504 825.9L496 830.5L488.8 834.9L482.4 838.3L476.8 840.7L472.1 842.3L468.4 843.4L465.8 843.5L464.6 843.5Z"/><path d="M707.4 838.9L708.6 838.9L711.2 838.9L714.9 837.8L719.6 836.1L725.2 833.8L731.6 830.4L738.8 826.1L746.8 821.4L755.6 816.8L765 812.1L775.1 807.9L785.9 804.1L797.4 801.3L809.4 799.1L822.1 797.7L835.4 797L849.3 796.5L863.8 796.4L878.8 796.4L894.4 796.4L910.6 796.4L927.3 796.4L944.6 796.4L962.4 796.4L962.4 800.7L944.6 800.7L927.3 800.7L910.6 800.7L894.4 800.7L878.8 800.7L863.8 800.7L849.3 800.8L835.4 801.3L822.1 802L809.4 803.4L797.4 805.6L785.9 808.5L775.1 812.3L765 816.5L755.6 821.2L746.8 825.9L738.8 830.5L731.6 834.9L725.2 838.3L719.6 840.7L714.9 842.3L711.2 843.4L708.6 843.5L707.4 843.5Z"/><path d="M950.2 838.9L951.4 838.9L954 838.9L957.7 837.8L962.4 836.1L968 833.8L974.4 830.4L981.6 826.1L989.6 821.4L998.4 816.8L1007.8 812.1L1017.9 807.9L1028.7 804.1L1040.2 801.3L1052.2 799.1L1064.9 797.7L1078.2 797L1092.1 796.5L1106.6 796.4L1121.6 796.4L1137.2 796.4L1153.4 796.4L1170.1 796.4L1187.4 796.4L1205.2 796.4L1205.2 800.7L1187.4 800.7L1170.1 800.7L1153.4 800.7L1137.2 800.7L1121.6 800.7L1106.6 800.7L1092.1 800.8L1078.2 801.3L1064.9 802L1052.2 803.4L1040.2 805.6L1028.7 808.5L1017.9 812.3L1007.8 816.5L998.4 821.2L989.6 825.9L981.6 830.5L974.4 834.9L968 838.3L962.4 840.7L957.7 842.3L954 843.4L951.4 843.5L950.2 843.5Z"/><path d="M464.6 845.7L465.8 845.7L468.4 845.8L472.1 846.9L476.8 848.6L482.4 851L488.8 854.5L496 859L504 863.8L512.8 868.6L522.2 873.4L532.3 877.7L543.1 881.6L554.6 884.6L566.6 886.8L579.3 888.2L592.6 889L606.5 889.5L621 889.6L636 889.6L651.6 889.6L667.8 889.6L684.5 889.6L701.8 889.6L719.6 889.6L719.6 893.7L701.8 893.7L684.5 893.7L667.8 893.7L651.6 893.7L636 893.7L621 893.7L606.5 893.6L592.6 893.1L579.3 892.4L566.6 890.9L554.6 888.8L543.1 885.8L532.3 882L522.2 877.7L512.8 872.9L504 868.2L496 863.4L488.8 859L482.4 855.5L476.8 853.2L472.1 851.5L468.4 850.3L465.8 850.3L464.6 850.3Z"/><path d="M707.4 845.7L708.6 845.7L711.2 845.8L714.9 846.9L719.6 848.6L725.2 851L731.6 854.5L738.8 859L746.8 863.8L755.6 868.6L765 873.4L775.1 877.7L785.9 881.6L797.4 884.6L809.4 886.8L822.1 888.2L835.4 889L849.3 889.5L863.8 889.6L878.8 889.6L894.4 889.6L910.6 889.6L927.3 889.6L944.6 889.6L962.4 889.6L962.4 893.7L944.6 893.7L927.3 893.7L910.6 893.7L894.4 893.7L878.8 893.7L863.8 893.7L849.3 893.6L835.4 893.1L822.1 892.4L809.4 890.9L797.4 888.8L785.9 885.8L775.1 882L765 877.7L755.6 872.9L746.8 868.2L738.8 863.4L731.6 859L725.2 855.5L719.6 853.2L714.9 851.5L711.2 850.3L708.6 850.3L707.4 850.3Z"/><path d="M950.2 845.7L951.4 845.7L954 845.8L957.7 846.9L962.4 848.6L968 851L974.4 854.5L981.6 859L989.6 863.8L998.4 868.6L1007.8 873.4L1017.9 877.7L1028.7 881.6L1040.2 884.6L1052.2 886.8L1064.9 888.2L1078.2 889L1092.1 889.5L1106.6 889.6L1121.6 889.6L1137.2 889.6L1153.4 889.6L1170.1 889.6L1187.4 889.6L1205.2 889.6L1205.2 893.7L1187.4 893.7L1170.1 893.7L1153.4 893.7L1137.2 893.7L1121.6 893.7L1106.6 893.7L1092.1 893.6L1078.2 893.1L1064.9 892.4L1052.2 890.9L1040.2 888.8L1028.7 885.8L1017.9 882L1007.8 877.7L998.4 872.9L989.6 868.2L981.6 863.4L974.4 859L968 855.5L962.4 853.2L957.7 851.5L954 850.3L951.4 850.3L950.2 850.3Z"/><path d="M464.6 889.6L465.8 889.6L468.4 889.5L472.1 885.7L476.8 880.2L482.4 872.3L488.8 860.8L496 846.1L504 830.4L512.8 814.8L522.2 798.7L532.3 784.6L543.1 771.9L554.6 762.2L566.6 755L579.3 750.2L592.6 747.7L606.5 746L621 745.8L636 745.8L651.6 745.8L667.8 745.8L684.5 745.8L701.8 745.8L719.6 745.8L719.6 749.6L701.8 749.6L684.5 749.6L667.8 749.6L651.6 749.6L636 749.6L621 749.6L606.5 749.9L592.6 751.5L579.3 754.1L566.6 758.9L554.6 766L543.1 775.8L532.3 788.5L522.2 802.7L512.8 818.8L504 834.4L496 850.2L488.8 864.9L482.4 876.4L476.8 884.3L472.1 889.8L468.4 893.6L465.8 893.7L464.6 893.7Z"/><path d="M707.4 889.6L708.6 889.6L711.2 889.5L714.9 885.7L719.6 880.2L725.2 872.3L731.6 860.8L738.8 846.1L746.8 830.4L755.6 814.8L765 798.7L775.1 784.6L785.9 771.9L797.4 762.2L809.4 755L822.1 750.2L835.4 747.7L849.3 746L863.8 745.8L878.8 745.8L894.4 745.8L910.6 745.8L927.3 745.8L944.6 745.8L962.4 745.8L962.4 749.6L944.6 749.6L927.3 749.6L910.6 749.6L894.4 749.6L878.8 749.6L863.8 749.6L849.3 749.9L835.4 751.5L822.1 754.1L809.4 758.9L797.4 766L785.9 775.8L775.1 788.5L765 802.7L755.6 818.8L746.8 834.4L738.8 850.2L731.6 864.9L725.2 876.4L719.6 884.3L714.9 889.8L711.2 893.6L708.6 893.7L707.4 893.7Z"/><path d="M950.2 889.6L951.4 889.6L954 889.5L957.7 885.7L962.4 880.2L968 872.3L974.4 860.8L981.6 846.1L989.6 830.4L998.4 814.8L1007.8 798.7L1017.9 784.6L1028.7 771.9L1040.2 762.2L1052.2 755L1064.9 750.2L1078.2 747.7L1092.1 746L1106.6 745.8L1121.6 745.8L1137.2 745.8L1153.4 745.8L1170.1 745.8L1187.4 745.8L1205.2 745.8L1205.2 749.6L1187.4 749.6L1170.1 749.6L1153.4 749.6L1137.2 749.6L1121.6 749.6L1106.6 749.6L1092.1 749.9L1078.2 751.5L1064.9 754.1L1052.2 758.9L1040.2 766L1028.7 775.8L1017.9 788.5L1007.8 802.7L998.4 818.8L989.6 834.4L981.6 850.2L974.4 864.9L968 876.4L962.4 884.3L957.7 889.8L954 893.6L951.4 893.7L950.2 893.7Z"/><path d="M464.6 889.6L465.8 889.6L468.4 889.5L472.1 887.1L476.8 883.5L482.4 878.4L488.8 871L496 861.4L504 851.2L512.8 841.1L522.2 830.7L532.3 821.6L543.1 813.4L554.6 807L566.6 802.4L579.3 799.3L592.6 797.7L606.5 796.6L621 796.4L636 796.4L651.6 796.4L667.8 796.4L684.5 796.4L701.8 796.4L719.6 796.4L719.6 800.7L701.8 800.7L684.5 800.7L667.8 800.7L651.6 800.7L636 800.7L621 800.7L606.5 800.9L592.6 802L579.3 803.6L566.6 806.7L554.6 811.3L543.1 817.6L532.3 825.8L522.2 835L512.8 845.3L504 855.4L496 865.6L488.8 875.1L482.4 882.5L476.8 887.6L472.1 891.2L468.4 893.7L465.8 893.7L464.6 893.7Z"/><path d="M707.4 889.6L708.6 889.6L711.2 889.5L714.9 887.1L719.6 883.5L725.2 878.4L731.6 871L738.8 861.4L746.8 851.2L755.6 841.1L765 830.7L775.1 821.6L785.9 813.4L797.4 807L809.4 802.4L822.1 799.3L835.4 797.7L849.3 796.6L863.8 796.4L878.8 796.4L894.4 796.4L910.6 796.4L927.3 796.4L944.6 796.4L962.4 796.4L962.4 800.7L944.6 800.7L927.3 800.7L910.6 800.7L894.4 800.7L878.8 800.7L863.8 800.7L849.3 800.9L835.4 802L822.1 803.6L809.4 806.7L797.4 811.3L785.9 817.6L775.1 825.8L765 835L755.6 845.3L746.8 855.4L738.8 865.6L731.6 875.1L725.2 882.5L719.6 887.6L714.9 891.2L711.2 893.7L708.6 893.7L707.4 893.7Z"/><path d="M950.2 889.6L951.4 889.6L954 889.5L957.7 887.1L962.4 883.5L968 878.4L974.4 871L981.6 861.4L989.6 851.2L998.4 841.1L1007.8 830.7L1017.9 821.6L1028.7 813.4L1040.2 807L1052.2 802.4L1064.9 799.3L1078.2 797.7L1092.1 796.6L1106.6 796.4L1121.6 796.4L1137.2 796.4L1153.4 796.4L1170.1 796.4L1187.4 796.4L1205.2 796.4L1205.2 800.7L1187.4 800.7L1170.1 800.7L1153.4 800.7L1137.2 800.7L1121.6 800.7L1106.6 800.7L1092.1 800.9L1078.2 802L1064.9 803.6L1052.2 806.7L1040.2 811.3L1028.7 817.6L1017.9 825.8L1007.8 835L998.4 845.3L989.6 855.4L981.6 865.6L974.4 875.1L968 882.5L962.4 887.6L957.7 891.2L954 893.7L951.4 893.7L950.2 893.7Z"/><path d="M464.6 889.6L465.8 889.6L468.4 889.6L472.1 888.4L476.8 886.7L482.4 884.3L488.8 880.8L496 876.3L504 871.5L512.8 866.8L522.2 861.9L532.3 857.6L543.1 853.7L554.6 850.7L566.6 848.6L579.3 847.1L592.6 846.3L606.5 845.8L621 845.7L636 845.7L651.6 845.7L667.8 845.7L684.5 845.7L701.8 845.7L719.6 845.7L719.6 850.3L701.8 850.3L684.5 850.3L667.8 850.3L651.6 850.3L636 850.3L621 850.3L606.5 850.4L592.6 850.9L579.3 851.6L566.6 853.1L554.6 855.3L543.1 858.2L532.3 862L522.2 866.3L512.8 871.1L504 875.8L496 880.6L488.8 885L482.4 888.5L476.8 890.9L472.1 892.6L468.4 893.7L465.8 893.7L464.6 893.7Z"/><path d="M707.4 889.6L708.6 889.6L711.2 889.6L714.9 888.4L719.6 886.7L725.2 884.3L731.6 880.8L738.8 876.3L746.8 871.5L755.6 866.8L765 861.9L775.1 857.6L785.9 853.7L797.4 850.7L809.4 848.6L822.1 847.1L835.4 846.3L849.3 845.8L863.8 845.7L878.8 845.7L894.4 845.7L910.6 845.7L927.3 845.7L944.6 845.7L962.4 845.7L962.4 850.3L944.6 850.3L927.3 850.3L910.6 850.3L894.4 850.3L878.8 850.3L863.8 850.3L849.3 850.4L835.4 850.9L822.1 851.6L809.4 853.1L797.4 855.3L785.9 858.2L775.1 862L765 866.3L755.6 871.1L746.8 875.8L738.8 880.6L731.6 885L725.2 888.5L719.6 890.9L714.9 892.6L711.2 893.7L708.6 893.7L707.4 893.7Z"/><path d="M950.2 889.6L951.4 889.6L954 889.6L957.7 888.4L962.4 886.7L968 884.3L974.4 880.8L981.6 876.3L989.6 871.5L998.4 866.8L1007.8 861.9L1017.9 857.6L1028.7 853.7L1040.2 850.7L1052.2 848.6L1064.9 847.1L1078.2 846.3L1092.1 845.8L1106.6 845.7L1121.6 845.7L1137.2 845.7L1153.4 845.7L1170.1 845.7L1187.4 845.7L1205.2 845.7L1205.2 850.3L1187.4 850.3L1170.1 850.3L1153.4 850.3L1137.2 850.3L1121.6 850.3L1106.6 850.3L1092.1 850.4L1078.2 850.9L1064.9 851.6L1052.2 853.1L1040.2 855.3L1028.7 858.2L1017.9 862L1007.8 866.3L998.4 871.1L989.6 875.8L981.6 880.6L974.4 885L968 888.5L962.4 890.9L957.7 892.6L954 893.7L951.4 893.7L950.2 893.7Z"/></g><path d="M660.8 724.4V915.5M657.6 724.9H660.8M657.6 731.2H660.8M657.6 737.6H660.8M657.6 743.9H660.8M657.6 750.2H660.8M657.6 756.6H660.8M657.6 762.9H660.8M657.6 769.3H660.8M657.6 775.6H660.8M657.6 781.9H660.8M657.6 788.3H660.8M657.6 794.6H660.8M657.6 800.9H660.8M657.6 807.3H660.8M657.6 813.6H660.8M657.6 820H660.8M657.6 826.3H660.8M657.6 832.6H660.8M657.6 839H660.8M657.6 845.3H660.8M657.6 851.6H660.8M657.6 858H660.8M657.6 864.3H660.8M657.6 870.6H660.8M657.6 877H660.8M657.6 883.3H660.8M657.6 889.7H660.8M657.6 896H660.8M657.6 902.3H660.8M657.6 908.7H660.8M657.6 915H660.8M654.5 724.9H661.3M654.5 788.3H661.3M654.5 851.6H661.3M654.5 915H661.3" fill="none" stroke="#303030" stroke-width="1.15"/><text x="651.2" y="729.4" font-size="13.1" text-anchor="end">31.1</text><text x="651.2" y="792.8" font-size="13.1" text-anchor="end">5.6</text><text x="651.2" y="856.1" font-size="13.1" text-anchor="end">-20.0</text><text x="651.2" y="919.5" font-size="13.1" text-anchor="end">-45.5</text><text transform="translate(616 820) rotate(-90)" class="r" font-size="13.1" text-anchor="middle">(I) Amplitude (mV)</text><path d="M729.3 934.4V1125.6M850.7 934.4V1125.6M972.1 934.4V1125.6M1093.5 934.4V1125.6M668.6 966.3H1154.2M668.6 1030H1154.2M668.6 1093.7H1154.2" fill="none" stroke="#f0f0f0" stroke-width="1" stroke-dasharray="1 1"/><path d="M668.6 934.4V1125.6M790 934.4V1125.6M911.4 934.4V1125.6M1032.8 934.4V1125.6M1154.2 934.4V1125.6M668.6 934.4H1154.2M668.6 998.1H1154.2M668.6 1061.9H1154.2M668.6 1125.6H1154.2" fill="none" stroke="#e0e0e0" stroke-width="1" stroke-dasharray="1 1"/><clipPath id="cp1bQ"><rect x="668.2" y="930.4" width="487.2" height="199.2"/></clipPath><g clip-path="url(#cp1bQ)" fill="#0000ff"><rect x="644.3" y="949.3" width="534.2" height="10.9"/><rect x="644.3" y="999.8" width="534.2" height="10.9"/><rect x="644.3" y="1050.8" width="534.2" height="9.8"/><rect x="644.3" y="1100.6" width="534.2" height="10.1"/><path d="M466.1 952L466.7 952.2L468.2 952.6L470.2 953.2L472.8 953.9L475.9 954.7L479.5 955.7L483.5 956.8L487.9 958L492.7 959.4L497.9 960.8L503.5 962.3L509.5 964L515.8 965.7L522.5 967.6L529.5 969.5L536.9 971.5L544.6 973.6L552.6 975.8L560.9 978.1L569.5 980.5L578.5 983L587.7 985.5L597.3 988.5L607.1 991.9L617.3 995L627.7 996.8L638.4 997.5L649.4 998L660.6 998.3L672.2 998.7L684 999.1L696.1 999.6L708.4 999.8L721 999.8L721 1009.1L708.4 1009.1L696.1 1009.1L684 1009.1L672.2 1009.1L660.6 1009.1L649.4 1009.1L638.4 1009L627.7 1008.6L617.3 1007.3L607.1 1004.4L597.3 1000.7L587.7 997.3L578.5 994.5L569.5 991.8L560.9 989.1L552.6 986.6L544.6 984.2L536.9 981.8L529.5 979.6L522.5 977.4L515.8 975.4L509.5 973.4L503.5 971.6L497.9 969.9L492.7 968.3L487.9 966.8L483.5 965.5L479.5 964.3L475.9 963.2L472.8 962.2L470.2 961.4L468.2 960.8L466.7 960.4L466.1 960.2Z"/><path d="M708.9 952L709.5 952.2L711 952.6L713 953.2L715.6 953.9L718.7 954.7L722.3 955.7L726.3 956.8L730.7 958L735.5 959.4L740.7 960.8L746.3 962.3L752.3 964L758.6 965.7L765.3 967.6L772.3 969.5L779.7 971.5L787.4 973.6L795.4 975.8L803.7 978.1L812.3 980.5L821.3 983L830.5 985.5L840.1 988.5L849.9 991.9L860.1 995L870.5 996.8L881.2 997.5L892.2 998L903.4 998.3L915 998.7L926.8 999.1L938.9 999.6L951.2 999.8L963.8 999.8L963.8 1009.1L951.2 1009.1L938.9 1009.1L926.8 1009.1L915 1009.1L903.4 1009.1L892.2 1009.1L881.2 1009L870.5 1008.6L860.1 1007.3L849.9 1004.4L840.1 1000.7L830.5 997.3L821.3 994.5L812.3 991.8L803.7 989.1L795.4 986.6L787.4 984.2L779.7 981.8L772.3 979.6L765.3 977.4L758.6 975.4L752.3 973.4L746.3 971.6L740.7 969.9L735.5 968.3L730.7 966.8L726.3 965.5L722.3 964.3L718.7 963.2L715.6 962.2L713 961.4L711 960.8L709.5 960.4L708.9 960.2Z"/><path d="M951.7 952L952.3 952.2L953.8 952.6L955.8 953.2L958.4 953.9L961.5 954.7L965.1 955.7L969.1 956.8L973.5 958L978.3 959.4L983.5 960.8L989.1 962.3L995.1 964L1001.4 965.7L1008.1 967.6L1015.1 969.5L1022.5 971.5L1030.2 973.6L1038.2 975.8L1046.5 978.1L1055.1 980.5L1064.1 983L1073.3 985.5L1082.9 988.5L1092.7 991.9L1102.9 995L1113.3 996.8L1124 997.5L1135 998L1146.2 998.3L1157.8 998.7L1169.6 999.1L1181.7 999.6L1194 999.8L1206.6 999.8L1206.6 1009.1L1194 1009.1L1181.7 1009.1L1169.6 1009.1L1157.8 1009.1L1146.2 1009.1L1135 1009.1L1124 1009L1113.3 1008.6L1102.9 1007.3L1092.7 1004.4L1082.9 1000.7L1073.3 997.3L1064.1 994.5L1055.1 991.8L1046.5 989.1L1038.2 986.6L1030.2 984.2L1022.5 981.8L1015.1 979.6L1008.1 977.4L1001.4 975.4L995.1 973.4L989.1 971.6L983.5 969.9L978.3 968.3L973.5 966.8L969.1 965.5L965.1 964.3L961.5 963.2L958.4 962.2L955.8 961.4L953.8 960.8L952.3 960.4L951.7 960.2Z"/><path d="M466.1 952L466.7 952.4L468.2 953.2L470.2 954.4L472.8 955.8L475.9 957.6L479.5 959.6L483.5 961.9L487.9 964.4L492.7 967.2L497.9 970.2L503.5 973.3L509.5 976.7L515.8 980.3L522.5 984.2L529.5 988.1L536.9 992.3L544.6 996.7L552.6 1001.3L560.9 1006L569.5 1010.9L578.5 1016L587.7 1021.3L597.3 1027.5L607.1 1034.5L617.3 1040.8L627.7 1044.7L638.4 1046.1L649.4 1047L660.6 1047.8L672.2 1048.5L684 1049.3L696.1 1050.3L708.4 1050.8L721 1050.8L721 1059.1L708.4 1059.1L696.1 1059.1L684 1059.1L672.2 1059.1L660.6 1059.1L649.4 1059.1L638.4 1059.1L627.7 1058.2L617.3 1055.7L607.1 1049.6L597.3 1042.1L587.7 1035.3L578.5 1029.6L569.5 1024.1L560.9 1018.8L552.6 1013.6L544.6 1008.7L536.9 1003.9L529.5 999.4L522.5 995L515.8 990.9L509.5 987L503.5 983.3L497.9 979.8L492.7 976.6L487.9 973.6L483.5 970.9L479.5 968.4L475.9 966.2L472.8 964.3L470.2 962.7L468.2 961.5L466.7 960.6L466.1 960.2Z"/><path d="M708.9 952L709.5 952.4L711 953.2L713 954.4L715.6 955.8L718.7 957.6L722.3 959.6L726.3 961.9L730.7 964.4L735.5 967.2L740.7 970.2L746.3 973.3L752.3 976.7L758.6 980.3L765.3 984.2L772.3 988.1L779.7 992.3L787.4 996.7L795.4 1001.3L803.7 1006L812.3 1010.9L821.3 1016L830.5 1021.3L840.1 1027.5L849.9 1034.5L860.1 1040.8L870.5 1044.7L881.2 1046.1L892.2 1047L903.4 1047.8L915 1048.5L926.8 1049.3L938.9 1050.3L951.2 1050.8L963.8 1050.8L963.8 1059.1L951.2 1059.1L938.9 1059.1L926.8 1059.1L915 1059.1L903.4 1059.1L892.2 1059.1L881.2 1059.1L870.5 1058.2L860.1 1055.7L849.9 1049.6L840.1 1042.1L830.5 1035.3L821.3 1029.6L812.3 1024.1L803.7 1018.8L795.4 1013.6L787.4 1008.7L779.7 1003.9L772.3 999.4L765.3 995L758.6 990.9L752.3 987L746.3 983.3L740.7 979.8L735.5 976.6L730.7 973.6L726.3 970.9L722.3 968.4L718.7 966.2L715.6 964.3L713 962.7L711 961.5L709.5 960.6L708.9 960.2Z"/><path d="M951.7 952L952.3 952.4L953.8 953.2L955.8 954.4L958.4 955.8L961.5 957.6L965.1 959.6L969.1 961.9L973.5 964.4L978.3 967.2L983.5 970.2L989.1 973.3L995.1 976.7L1001.4 980.3L1008.1 984.2L1015.1 988.1L1022.5 992.3L1030.2 996.7L1038.2 1001.3L1046.5 1006L1055.1 1010.9L1064.1 1016L1073.3 1021.3L1082.9 1027.5L1092.7 1034.5L1102.9 1040.8L1113.3 1044.7L1124 1046.1L1135 1047L1146.2 1047.8L1157.8 1048.5L1169.6 1049.3L1181.7 1050.3L1194 1050.8L1206.6 1050.8L1206.6 1059.1L1194 1059.1L1181.7 1059.1L1169.6 1059.1L1157.8 1059.1L1146.2 1059.1L1135 1059.1L1124 1059.1L1113.3 1058.2L1102.9 1055.7L1092.7 1049.6L1082.9 1042.1L1073.3 1035.3L1064.1 1029.6L1055.1 1024.1L1046.5 1018.8L1038.2 1013.6L1030.2 1008.7L1022.5 1003.9L1015.1 999.4L1008.1 995L1001.4 990.9L995.1 987L989.1 983.3L983.5 979.8L978.3 976.6L973.5 973.6L969.1 970.9L965.1 968.4L961.5 966.2L958.4 964.3L955.8 962.7L953.8 961.5L952.3 960.6L951.7 960.2Z"/><path d="M466.1 952L466.7 952.6L468.2 953.8L470.2 955.5L472.8 957.8L475.9 960.4L479.5 963.5L483.5 966.9L487.9 970.7L492.7 974.8L497.9 979.3L503.5 984.1L509.5 989.2L515.8 994.6L522.5 1000.3L529.5 1006.4L536.9 1012.7L544.6 1019.2L552.6 1026.1L560.9 1033.2L569.5 1040.6L578.5 1048.3L587.7 1056.2L597.3 1065.6L607.1 1076.1L617.3 1085.6L627.7 1091.4L638.4 1093.5L649.4 1094.9L660.6 1096.1L672.2 1097.1L684 1098.4L696.1 1099.9L708.4 1100.6L721 1100.6L721 1109.2L708.4 1109.2L696.1 1109.2L684 1109.2L672.2 1109.2L660.6 1109.2L649.4 1109.2L638.4 1109.1L627.7 1107.7L617.3 1104L607.1 1094.9L597.3 1083.6L587.7 1073.3L578.5 1064.8L569.5 1056.4L560.9 1048.4L552.6 1040.7L544.6 1033.2L536.9 1026.1L529.5 1019.2L522.5 1012.7L515.8 1006.4L509.5 1000.5L503.5 995L497.9 989.8L492.7 984.9L487.9 980.4L483.5 976.3L479.5 972.6L475.9 969.3L472.8 966.4L470.2 964L468.2 962.1L466.7 960.8L466.1 960.2Z"/><path d="M708.9 952L709.5 952.6L711 953.8L713 955.5L715.6 957.8L718.7 960.4L722.3 963.5L726.3 966.9L730.7 970.7L735.5 974.8L740.7 979.3L746.3 984.1L752.3 989.2L758.6 994.6L765.3 1000.3L772.3 1006.4L779.7 1012.7L787.4 1019.2L795.4 1026.1L803.7 1033.2L812.3 1040.6L821.3 1048.3L830.5 1056.2L840.1 1065.6L849.9 1076.1L860.1 1085.6L870.5 1091.4L881.2 1093.5L892.2 1094.9L903.4 1096.1L915 1097.1L926.8 1098.4L938.9 1099.9L951.2 1100.6L963.8 1100.6L963.8 1109.2L951.2 1109.2L938.9 1109.2L926.8 1109.2L915 1109.2L903.4 1109.2L892.2 1109.2L881.2 1109.1L870.5 1107.7L860.1 1104L849.9 1094.9L840.1 1083.6L830.5 1073.3L821.3 1064.8L812.3 1056.4L803.7 1048.4L795.4 1040.7L787.4 1033.2L779.7 1026.1L772.3 1019.2L765.3 1012.7L758.6 1006.4L752.3 1000.5L746.3 995L740.7 989.8L735.5 984.9L730.7 980.4L726.3 976.3L722.3 972.6L718.7 969.3L715.6 966.4L713 964L711 962.1L709.5 960.8L708.9 960.2Z"/><path d="M951.7 952L952.3 952.6L953.8 953.8L955.8 955.5L958.4 957.8L961.5 960.4L965.1 963.5L969.1 966.9L973.5 970.7L978.3 974.8L983.5 979.3L989.1 984.1L995.1 989.2L1001.4 994.6L1008.1 1000.3L1015.1 1006.4L1022.5 1012.7L1030.2 1019.2L1038.2 1026.1L1046.5 1033.2L1055.1 1040.6L1064.1 1048.3L1073.3 1056.2L1082.9 1065.6L1092.7 1076.1L1102.9 1085.6L1113.3 1091.4L1124 1093.5L1135 1094.9L1146.2 1096.1L1157.8 1097.1L1169.6 1098.4L1181.7 1099.9L1194 1100.6L1206.6 1100.6L1206.6 1109.2L1194 1109.2L1181.7 1109.2L1169.6 1109.2L1157.8 1109.2L1146.2 1109.2L1135 1109.2L1124 1109.1L1113.3 1107.7L1102.9 1104L1092.7 1094.9L1082.9 1083.6L1073.3 1073.3L1064.1 1064.8L1055.1 1056.4L1046.5 1048.4L1038.2 1040.7L1030.2 1033.2L1022.5 1026.1L1015.1 1019.2L1008.1 1012.7L1001.4 1006.4L995.1 1000.5L989.1 995L983.5 989.8L978.3 984.9L973.5 980.4L969.1 976.3L965.1 972.6L961.5 969.3L958.4 966.4L955.8 964L953.8 962.1L952.3 960.8L951.7 960.2Z"/><path d="M466.1 999.8L466.7 999.8L468.2 999.8L470.2 999.8L472.8 999.8L475.9 999.8L479.5 999.6L483.5 996.3L487.9 992.8L492.7 989.1L497.9 985.4L503.5 981.6L509.5 977.7L515.8 973.8L522.5 970.2L529.5 966.7L536.9 963.3L544.6 960.2L552.6 958L560.9 956.1L569.5 954.4L578.5 953.2L587.7 952.4L597.3 951.8L607.1 951.3L617.3 951L627.7 950.9L638.4 950.9L649.4 950.9L660.6 950.9L672.2 950.9L684 950.9L696.1 950.9L708.4 950.9L721 950.9L721 960.2L708.4 960.2L696.1 960.4L684 960.9L672.2 961.4L660.6 961.9L649.4 962.6L638.4 963.3L627.7 964L617.3 964.8L607.1 965.8L597.3 966.7L587.7 967.7L578.5 968.6L569.5 969.4L560.9 970.2L552.6 971.3L544.6 972.8L536.9 975.1L529.5 977.7L522.5 980.4L515.8 983.6L509.5 987.1L503.5 990.8L497.9 994.4L492.7 997.9L487.9 1001.3L483.5 1004.7L479.5 1007.8L475.9 1008L472.8 1008L470.2 1008L468.2 1008L466.7 1008L466.1 1008Z"/><path d="M708.9 999.8L709.5 999.8L711 999.8L713 999.8L715.6 999.8L718.7 999.8L722.3 999.6L726.3 996.3L730.7 992.8L735.5 989.1L740.7 985.4L746.3 981.6L752.3 977.7L758.6 973.8L765.3 970.2L772.3 966.7L779.7 963.3L787.4 960.2L795.4 958L803.7 956.1L812.3 954.4L821.3 953.2L830.5 952.4L840.1 951.8L849.9 951.3L860.1 951L870.5 950.9L881.2 950.9L892.2 950.9L903.4 950.9L915 950.9L926.8 950.9L938.9 950.9L951.2 950.9L963.8 950.9L963.8 960.2L951.2 960.2L938.9 960.4L926.8 960.9L915 961.4L903.4 961.9L892.2 962.6L881.2 963.3L870.5 964L860.1 964.8L849.9 965.8L840.1 966.7L830.5 967.7L821.3 968.6L812.3 969.4L803.7 970.2L795.4 971.3L787.4 972.8L779.7 975.1L772.3 977.7L765.3 980.4L758.6 983.6L752.3 987.1L746.3 990.8L740.7 994.4L735.5 997.9L730.7 1001.3L726.3 1004.7L722.3 1007.8L718.7 1008L715.6 1008L713 1008L711 1008L709.5 1008L708.9 1008Z"/><path d="M951.7 999.8L952.3 999.8L953.8 999.8L955.8 999.8L958.4 999.8L961.5 999.8L965.1 999.6L969.1 996.3L973.5 992.8L978.3 989.1L983.5 985.4L989.1 981.6L995.1 977.7L1001.4 973.8L1008.1 970.2L1015.1 966.7L1022.5 963.3L1030.2 960.2L1038.2 958L1046.5 956.1L1055.1 954.4L1064.1 953.2L1073.3 952.4L1082.9 951.8L1092.7 951.3L1102.9 951L1113.3 950.9L1124 950.9L1135 950.9L1146.2 950.9L1157.8 950.9L1169.6 950.9L1181.7 950.9L1194 950.9L1206.6 950.9L1206.6 960.2L1194 960.2L1181.7 960.4L1169.6 960.9L1157.8 961.4L1146.2 961.9L1135 962.6L1124 963.3L1113.3 964L1102.9 964.8L1092.7 965.8L1082.9 966.7L1073.3 967.7L1064.1 968.6L1055.1 969.4L1046.5 970.2L1038.2 971.3L1030.2 972.8L1022.5 975.1L1015.1 977.7L1008.1 980.4L1001.4 983.6L995.1 987.1L989.1 990.8L983.5 994.4L978.3 997.9L973.5 1001.3L969.1 1004.7L965.1 1007.8L961.5 1008L958.4 1008L955.8 1008L953.8 1008L952.3 1008L951.7 1008Z"/><path d="M466.1 1002.5L466.7 1002.7L468.2 1003.1L470.2 1003.7L472.8 1004.4L475.9 1005.3L479.5 1006.2L483.5 1007.4L487.9 1008.6L492.7 1009.9L497.9 1011.4L503.5 1012.9L509.5 1014.6L515.8 1016.4L522.5 1018.2L529.5 1020.2L536.9 1022.2L544.6 1024.4L552.6 1026.6L560.9 1028.9L569.5 1031.3L578.5 1033.8L587.7 1036.4L597.3 1039.4L607.1 1042.8L617.3 1045.9L627.7 1047.8L638.4 1048.5L649.4 1049L660.6 1049.3L672.2 1049.7L684 1050.1L696.1 1050.6L708.4 1050.8L721 1050.8L721 1059.1L708.4 1059.1L696.1 1059.1L684 1059.1L672.2 1059.1L660.6 1059.1L649.4 1059.1L638.4 1059.1L627.7 1058.7L617.3 1057.4L607.1 1054.5L597.3 1050.8L587.7 1047.5L578.5 1044.7L569.5 1042L560.9 1039.4L552.6 1036.9L544.6 1034.4L536.9 1032.1L529.5 1029.9L522.5 1027.8L515.8 1025.7L509.5 1023.8L503.5 1022L497.9 1020.3L492.7 1018.7L487.9 1017.3L483.5 1015.9L479.5 1014.7L475.9 1013.7L472.8 1012.7L470.2 1011.9L468.2 1011.3L466.7 1010.9L466.1 1010.7Z"/><path d="M708.9 1002.5L709.5 1002.7L711 1003.1L713 1003.7L715.6 1004.4L718.7 1005.3L722.3 1006.2L726.3 1007.4L730.7 1008.6L735.5 1009.9L740.7 1011.4L746.3 1012.9L752.3 1014.6L758.6 1016.4L765.3 1018.2L772.3 1020.2L779.7 1022.2L787.4 1024.4L795.4 1026.6L803.7 1028.9L812.3 1031.3L821.3 1033.8L830.5 1036.4L840.1 1039.4L849.9 1042.8L860.1 1045.9L870.5 1047.8L881.2 1048.5L892.2 1049L903.4 1049.3L915 1049.7L926.8 1050.1L938.9 1050.6L951.2 1050.8L963.8 1050.8L963.8 1059.1L951.2 1059.1L938.9 1059.1L926.8 1059.1L915 1059.1L903.4 1059.1L892.2 1059.1L881.2 1059.1L870.5 1058.7L860.1 1057.4L849.9 1054.5L840.1 1050.8L830.5 1047.5L821.3 1044.7L812.3 1042L803.7 1039.4L795.4 1036.9L787.4 1034.4L779.7 1032.1L772.3 1029.9L765.3 1027.8L758.6 1025.7L752.3 1023.8L746.3 1022L740.7 1020.3L735.5 1018.7L730.7 1017.3L726.3 1015.9L722.3 1014.7L718.7 1013.7L715.6 1012.7L713 1011.9L711 1011.3L709.5 1010.9L708.9 1010.7Z"/><path d="M951.7 1002.5L952.3 1002.7L953.8 1003.1L955.8 1003.7L958.4 1004.4L961.5 1005.3L965.1 1006.2L969.1 1007.4L973.5 1008.6L978.3 1009.9L983.5 1011.4L989.1 1012.9L995.1 1014.6L1001.4 1016.4L1008.1 1018.2L1015.1 1020.2L1022.5 1022.2L1030.2 1024.4L1038.2 1026.6L1046.5 1028.9L1055.1 1031.3L1064.1 1033.8L1073.3 1036.4L1082.9 1039.4L1092.7 1042.8L1102.9 1045.9L1113.3 1047.8L1124 1048.5L1135 1049L1146.2 1049.3L1157.8 1049.7L1169.6 1050.1L1181.7 1050.6L1194 1050.8L1206.6 1050.8L1206.6 1059.1L1194 1059.1L1181.7 1059.1L1169.6 1059.1L1157.8 1059.1L1146.2 1059.1L1135 1059.1L1124 1059.1L1113.3 1058.7L1102.9 1057.4L1092.7 1054.5L1082.9 1050.8L1073.3 1047.5L1064.1 1044.7L1055.1 1042L1046.5 1039.4L1038.2 1036.9L1030.2 1034.4L1022.5 1032.1L1015.1 1029.9L1008.1 1027.8L1001.4 1025.7L995.1 1023.8L989.1 1022L983.5 1020.3L978.3 1018.7L973.5 1017.3L969.1 1015.9L965.1 1014.7L961.5 1013.7L958.4 1012.7L955.8 1011.9L953.8 1011.3L952.3 1010.9L951.7 1010.7Z"/><path d="M466.1 1002.5L466.7 1002.9L468.2 1003.7L470.2 1004.9L472.8 1006.3L475.9 1008.1L479.5 1010.1L483.5 1012.3L487.9 1014.8L492.7 1017.6L497.9 1020.5L503.5 1023.7L509.5 1027.1L515.8 1030.6L522.5 1034.4L529.5 1038.4L536.9 1042.6L544.6 1046.9L552.6 1051.4L560.9 1056.1L569.5 1061L578.5 1066.1L587.7 1071.3L597.3 1077.5L607.1 1084.4L617.3 1090.7L627.7 1094.5L638.4 1095.9L649.4 1096.9L660.6 1097.6L672.2 1098.3L684 1099.2L696.1 1100.1L708.4 1100.6L721 1100.6L721 1109.2L708.4 1109.2L696.1 1109.2L684 1109.2L672.2 1109.2L660.6 1109.2L649.4 1109.2L638.4 1109.1L627.7 1108.2L617.3 1105.7L607.1 1099.7L597.3 1092.3L587.7 1085.5L578.5 1079.8L569.5 1074.3L560.9 1069L552.6 1063.9L544.6 1059L536.9 1054.2L529.5 1049.7L522.5 1045.4L515.8 1041.3L509.5 1037.4L503.5 1033.7L497.9 1030.2L492.7 1027L487.9 1024.1L483.5 1021.3L479.5 1018.9L475.9 1016.7L472.8 1014.8L470.2 1013.2L468.2 1012L466.7 1011.1L466.1 1010.7Z"/><path d="M708.9 1002.5L709.5 1002.9L711 1003.7L713 1004.9L715.6 1006.3L718.7 1008.1L722.3 1010.1L726.3 1012.3L730.7 1014.8L735.5 1017.6L740.7 1020.5L746.3 1023.7L752.3 1027.1L758.6 1030.6L765.3 1034.4L772.3 1038.4L779.7 1042.6L787.4 1046.9L795.4 1051.4L803.7 1056.1L812.3 1061L821.3 1066.1L830.5 1071.3L840.1 1077.5L849.9 1084.4L860.1 1090.7L870.5 1094.5L881.2 1095.9L892.2 1096.9L903.4 1097.6L915 1098.3L926.8 1099.2L938.9 1100.1L951.2 1100.6L963.8 1100.6L963.8 1109.2L951.2 1109.2L938.9 1109.2L926.8 1109.2L915 1109.2L903.4 1109.2L892.2 1109.2L881.2 1109.1L870.5 1108.2L860.1 1105.7L849.9 1099.7L840.1 1092.3L830.5 1085.5L821.3 1079.8L812.3 1074.3L803.7 1069L795.4 1063.9L787.4 1059L779.7 1054.2L772.3 1049.7L765.3 1045.4L758.6 1041.3L752.3 1037.4L746.3 1033.7L740.7 1030.2L735.5 1027L730.7 1024.1L726.3 1021.3L722.3 1018.9L718.7 1016.7L715.6 1014.8L713 1013.2L711 1012L709.5 1011.1L708.9 1010.7Z"/><path d="M951.7 1002.5L952.3 1002.9L953.8 1003.7L955.8 1004.9L958.4 1006.3L961.5 1008.1L965.1 1010.1L969.1 1012.3L973.5 1014.8L978.3 1017.6L983.5 1020.5L989.1 1023.7L995.1 1027.1L1001.4 1030.6L1008.1 1034.4L1015.1 1038.4L1022.5 1042.6L1030.2 1046.9L1038.2 1051.4L1046.5 1056.1L1055.1 1061L1064.1 1066.1L1073.3 1071.3L1082.9 1077.5L1092.7 1084.4L1102.9 1090.7L1113.3 1094.5L1124 1095.9L1135 1096.9L1146.2 1097.6L1157.8 1098.3L1169.6 1099.2L1181.7 1100.1L1194 1100.6L1206.6 1100.6L1206.6 1109.2L1194 1109.2L1181.7 1109.2L1169.6 1109.2L1157.8 1109.2L1146.2 1109.2L1135 1109.2L1124 1109.1L1113.3 1108.2L1102.9 1105.7L1092.7 1099.7L1082.9 1092.3L1073.3 1085.5L1064.1 1079.8L1055.1 1074.3L1046.5 1069L1038.2 1063.9L1030.2 1059L1022.5 1054.2L1015.1 1049.7L1008.1 1045.4L1001.4 1041.3L995.1 1037.4L989.1 1033.7L983.5 1030.2L978.3 1027L973.5 1024.1L969.1 1021.3L965.1 1018.9L961.5 1016.7L958.4 1014.8L955.8 1013.2L953.8 1012L952.3 1011.1L951.7 1010.7Z"/><path d="M466.1 1050.8L466.7 1050.8L468.2 1050.8L470.2 1050.8L472.8 1050.8L475.9 1050.8L479.5 1050.4L483.5 1043.6L487.9 1036.4L492.7 1028.9L497.9 1021.4L503.5 1013.6L509.5 1005.6L515.8 997.7L522.5 990.3L529.5 983.2L536.9 976.2L544.6 969.9L552.6 965.3L560.9 961.4L569.5 958.1L578.5 955.5L587.7 954L597.3 952.7L607.1 951.7L617.3 951.1L627.7 950.9L638.4 950.9L649.4 950.9L660.6 950.9L672.2 950.9L684 950.9L696.1 950.9L708.4 950.9L721 950.9L721 960.2L708.4 960.2L696.1 960.7L684 961.6L672.2 962.6L660.6 963.7L649.4 965L638.4 966.5L627.7 968L617.3 969.7L607.1 971.6L597.3 973.6L587.7 975.5L578.5 977.4L569.5 979L560.9 980.8L552.6 983L544.6 986.1L536.9 990.6L529.5 996L522.5 1001.7L515.8 1008.1L509.5 1015.4L503.5 1023L497.9 1030.4L492.7 1037.5L487.9 1044.5L483.5 1051.3L479.5 1057.7L475.9 1058.1L472.8 1058.1L470.2 1058.1L468.2 1058.1L466.7 1058.1L466.1 1058.1Z"/><path d="M708.9 1050.8L709.5 1050.8L711 1050.8L713 1050.8L715.6 1050.8L718.7 1050.8L722.3 1050.4L726.3 1043.6L730.7 1036.4L735.5 1028.9L740.7 1021.4L746.3 1013.6L752.3 1005.6L758.6 997.7L765.3 990.3L772.3 983.2L779.7 976.2L787.4 969.9L795.4 965.3L803.7 961.4L812.3 958.1L821.3 955.5L830.5 954L840.1 952.7L849.9 951.7L860.1 951.1L870.5 950.9L881.2 950.9L892.2 950.9L903.4 950.9L915 950.9L926.8 950.9L938.9 950.9L951.2 950.9L963.8 950.9L963.8 960.2L951.2 960.2L938.9 960.7L926.8 961.6L915 962.6L903.4 963.7L892.2 965L881.2 966.5L870.5 968L860.1 969.7L849.9 971.6L840.1 973.6L830.5 975.5L821.3 977.4L812.3 979L803.7 980.8L795.4 983L787.4 986.1L779.7 990.6L772.3 996L765.3 1001.7L758.6 1008.1L752.3 1015.4L746.3 1023L740.7 1030.4L735.5 1037.5L730.7 1044.5L726.3 1051.3L722.3 1057.7L718.7 1058.1L715.6 1058.1L713 1058.1L711 1058.1L709.5 1058.1L708.9 1058.1Z"/><path d="M951.7 1050.8L952.3 1050.8L953.8 1050.8L955.8 1050.8L958.4 1050.8L961.5 1050.8L965.1 1050.4L969.1 1043.6L973.5 1036.4L978.3 1028.9L983.5 1021.4L989.1 1013.6L995.1 1005.6L1001.4 997.7L1008.1 990.3L1015.1 983.2L1022.5 976.2L1030.2 969.9L1038.2 965.3L1046.5 961.4L1055.1 958.1L1064.1 955.5L1073.3 954L1082.9 952.7L1092.7 951.7L1102.9 951.1L1113.3 950.9L1124 950.9L1135 950.9L1146.2 950.9L1157.8 950.9L1169.6 950.9L1181.7 950.9L1194 950.9L1206.6 950.9L1206.6 960.2L1194 960.2L1181.7 960.7L1169.6 961.6L1157.8 962.6L1146.2 963.7L1135 965L1124 966.5L1113.3 968L1102.9 969.7L1092.7 971.6L1082.9 973.6L1073.3 975.5L1064.1 977.4L1055.1 979L1046.5 980.8L1038.2 983L1030.2 986.1L1022.5 990.6L1015.1 996L1008.1 1001.7L1001.4 1008.1L995.1 1015.4L989.1 1023L983.5 1030.4L978.3 1037.5L973.5 1044.5L969.1 1051.3L965.1 1057.7L961.5 1058.1L958.4 1058.1L955.8 1058.1L953.8 1058.1L952.3 1058.1L951.7 1058.1Z"/><path d="M466.1 1050.8L466.7 1050.8L468.2 1050.8L470.2 1050.8L472.8 1050.8L475.9 1050.8L479.5 1050.6L483.5 1047.3L487.9 1043.7L492.7 1040L497.9 1036.3L503.5 1032.4L509.5 1028.5L515.8 1024.6L522.5 1020.9L529.5 1017.4L536.9 1013.9L544.6 1010.8L552.6 1008.5L560.9 1006.6L569.5 1005L578.5 1003.7L587.7 1002.9L597.3 1002.3L607.1 1001.8L617.3 1001.5L627.7 1001.4L638.4 1001.4L649.4 1001.4L660.6 1001.4L672.2 1001.4L684 1001.4L696.1 1001.4L708.4 1001.4L721 1001.4L721 1010.7L708.4 1010.7L696.1 1010.9L684 1011.4L672.2 1011.9L660.6 1012.4L649.4 1013L638.4 1013.7L627.7 1014.5L617.3 1015.3L607.1 1016.2L597.3 1017.2L587.7 1018.1L578.5 1019L569.5 1019.8L560.9 1020.7L552.6 1021.7L544.6 1023.3L536.9 1025.5L529.5 1028L522.5 1030.8L515.8 1033.9L509.5 1037.5L503.5 1041.1L497.9 1044.7L492.7 1048.1L487.9 1051.5L483.5 1054.9L479.5 1058L475.9 1058.1L472.8 1058.1L470.2 1058.1L468.2 1058.1L466.7 1058.1L466.1 1058.1Z"/><path d="M708.9 1050.8L709.5 1050.8L711 1050.8L713 1050.8L715.6 1050.8L718.7 1050.8L722.3 1050.6L726.3 1047.3L730.7 1043.7L735.5 1040L740.7 1036.3L746.3 1032.4L752.3 1028.5L758.6 1024.6L765.3 1020.9L772.3 1017.4L779.7 1013.9L787.4 1010.8L795.4 1008.5L803.7 1006.6L812.3 1005L821.3 1003.7L830.5 1002.9L840.1 1002.3L849.9 1001.8L860.1 1001.5L870.5 1001.4L881.2 1001.4L892.2 1001.4L903.4 1001.4L915 1001.4L926.8 1001.4L938.9 1001.4L951.2 1001.4L963.8 1001.4L963.8 1010.7L951.2 1010.7L938.9 1010.9L926.8 1011.4L915 1011.9L903.4 1012.4L892.2 1013L881.2 1013.7L870.5 1014.5L860.1 1015.3L849.9 1016.2L840.1 1017.2L830.5 1018.1L821.3 1019L812.3 1019.8L803.7 1020.7L795.4 1021.7L787.4 1023.3L779.7 1025.5L772.3 1028L765.3 1030.8L758.6 1033.9L752.3 1037.5L746.3 1041.1L740.7 1044.7L735.5 1048.1L730.7 1051.5L726.3 1054.9L722.3 1058L718.7 1058.1L715.6 1058.1L713 1058.1L711 1058.1L709.5 1058.1L708.9 1058.1Z"/><path d="M951.7 1050.8L952.3 1050.8L953.8 1050.8L955.8 1050.8L958.4 1050.8L961.5 1050.8L965.1 1050.6L969.1 1047.3L973.5 1043.7L978.3 1040L983.5 1036.3L989.1 1032.4L995.1 1028.5L1001.4 1024.6L1008.1 1020.9L1015.1 1017.4L1022.5 1013.9L1030.2 1010.8L1038.2 1008.5L1046.5 1006.6L1055.1 1005L1064.1 1003.7L1073.3 1002.9L1082.9 1002.3L1092.7 1001.8L1102.9 1001.5L1113.3 1001.4L1124 1001.4L1135 1001.4L1146.2 1001.4L1157.8 1001.4L1169.6 1001.4L1181.7 1001.4L1194 1001.4L1206.6 1001.4L1206.6 1010.7L1194 1010.7L1181.7 1010.9L1169.6 1011.4L1157.8 1011.9L1146.2 1012.4L1135 1013L1124 1013.7L1113.3 1014.5L1102.9 1015.3L1092.7 1016.2L1082.9 1017.2L1073.3 1018.1L1064.1 1019L1055.1 1019.8L1046.5 1020.7L1038.2 1021.7L1030.2 1023.3L1022.5 1025.5L1015.1 1028L1008.1 1030.8L1001.4 1033.9L995.1 1037.5L989.1 1041.1L983.5 1044.7L978.3 1048.1L973.5 1051.5L969.1 1054.9L965.1 1058L961.5 1058.1L958.4 1058.1L955.8 1058.1L953.8 1058.1L952.3 1058.1L951.7 1058.1Z"/><path d="M466.1 1053.2L466.7 1053.4L468.2 1053.8L470.2 1054.4L472.8 1055.1L475.9 1055.9L479.5 1056.9L483.5 1058L487.9 1059.2L492.7 1060.5L497.9 1061.9L503.5 1063.5L509.5 1065.1L515.8 1066.8L522.5 1068.7L529.5 1070.6L536.9 1072.6L544.6 1074.7L552.6 1076.9L560.9 1079.1L569.5 1081.5L578.5 1083.9L587.7 1086.5L597.3 1089.4L607.1 1092.8L617.3 1095.8L627.7 1097.7L638.4 1098.3L649.4 1098.8L660.6 1099.2L672.2 1099.5L684 1099.9L696.1 1100.4L708.4 1100.6L721 1100.6L721 1109.2L708.4 1109.2L696.1 1109.2L684 1109.2L672.2 1109.2L660.6 1109.2L649.4 1109.2L638.4 1109.2L627.7 1108.7L617.3 1107.5L607.1 1104.5L597.3 1100.8L587.7 1097.5L578.5 1094.7L569.5 1092L560.9 1089.4L552.6 1086.8L544.6 1084.4L536.9 1082.1L529.5 1079.8L522.5 1077.7L515.8 1075.7L509.5 1073.8L503.5 1071.9L497.9 1070.2L492.7 1068.7L487.9 1067.2L483.5 1065.9L479.5 1064.6L475.9 1063.6L472.8 1062.6L470.2 1061.8L468.2 1061.2L466.7 1060.8L466.1 1060.6Z"/><path d="M708.9 1053.2L709.5 1053.4L711 1053.8L713 1054.4L715.6 1055.1L718.7 1055.9L722.3 1056.9L726.3 1058L730.7 1059.2L735.5 1060.5L740.7 1061.9L746.3 1063.5L752.3 1065.1L758.6 1066.8L765.3 1068.7L772.3 1070.6L779.7 1072.6L787.4 1074.7L795.4 1076.9L803.7 1079.1L812.3 1081.5L821.3 1083.9L830.5 1086.5L840.1 1089.4L849.9 1092.8L860.1 1095.8L870.5 1097.7L881.2 1098.3L892.2 1098.8L903.4 1099.2L915 1099.5L926.8 1099.9L938.9 1100.4L951.2 1100.6L963.8 1100.6L963.8 1109.2L951.2 1109.2L938.9 1109.2L926.8 1109.2L915 1109.2L903.4 1109.2L892.2 1109.2L881.2 1109.2L870.5 1108.7L860.1 1107.5L849.9 1104.5L840.1 1100.8L830.5 1097.5L821.3 1094.7L812.3 1092L803.7 1089.4L795.4 1086.8L787.4 1084.4L779.7 1082.1L772.3 1079.8L765.3 1077.7L758.6 1075.7L752.3 1073.8L746.3 1071.9L740.7 1070.2L735.5 1068.7L730.7 1067.2L726.3 1065.9L722.3 1064.6L718.7 1063.6L715.6 1062.6L713 1061.8L711 1061.2L709.5 1060.8L708.9 1060.6Z"/><path d="M951.7 1053.2L952.3 1053.4L953.8 1053.8L955.8 1054.4L958.4 1055.1L961.5 1055.9L965.1 1056.9L969.1 1058L973.5 1059.2L978.3 1060.5L983.5 1061.9L989.1 1063.5L995.1 1065.1L1001.4 1066.8L1008.1 1068.7L1015.1 1070.6L1022.5 1072.6L1030.2 1074.7L1038.2 1076.9L1046.5 1079.1L1055.1 1081.5L1064.1 1083.9L1073.3 1086.5L1082.9 1089.4L1092.7 1092.8L1102.9 1095.8L1113.3 1097.7L1124 1098.3L1135 1098.8L1146.2 1099.2L1157.8 1099.5L1169.6 1099.9L1181.7 1100.4L1194 1100.6L1206.6 1100.6L1206.6 1109.2L1194 1109.2L1181.7 1109.2L1169.6 1109.2L1157.8 1109.2L1146.2 1109.2L1135 1109.2L1124 1109.2L1113.3 1108.7L1102.9 1107.5L1092.7 1104.5L1082.9 1100.8L1073.3 1097.5L1064.1 1094.7L1055.1 1092L1046.5 1089.4L1038.2 1086.8L1030.2 1084.4L1022.5 1082.1L1015.1 1079.8L1008.1 1077.7L1001.4 1075.7L995.1 1073.8L989.1 1071.9L983.5 1070.2L978.3 1068.7L973.5 1067.2L969.1 1065.9L965.1 1064.6L961.5 1063.6L958.4 1062.6L955.8 1061.8L953.8 1061.2L952.3 1060.8L951.7 1060.6Z"/><path d="M466.1 1100.6L466.7 1100.6L468.2 1100.6L470.2 1100.6L472.8 1100.6L475.9 1100.6L479.5 1100L483.5 1089.9L487.9 1079.1L492.7 1067.8L497.9 1056.5L503.5 1044.8L509.5 1032.9L515.8 1021.1L522.5 1009.9L529.5 999.2L536.9 988.7L544.6 979.4L552.6 972.5L560.9 966.7L569.5 961.7L578.5 957.8L587.7 955.5L597.3 953.6L607.1 952.1L617.3 951.2L627.7 950.9L638.4 950.9L649.4 950.9L660.6 950.9L672.2 950.9L684 950.9L696.1 950.9L708.4 950.9L721 950.9L721 960.2L708.4 960.2L696.1 960.9L684 962.3L672.2 963.8L660.6 965.5L649.4 967.5L638.4 969.7L627.7 972L617.3 974.6L607.1 977.4L597.3 980.4L587.7 983.3L578.5 986.1L569.5 988.6L560.9 991.3L552.6 994.6L544.6 999.4L536.9 1006.2L529.5 1014.3L522.5 1022.9L515.8 1032.6L509.5 1043.6L503.5 1055.1L497.9 1066.2L492.7 1076.9L487.9 1087.6L483.5 1097.9L479.5 1107.6L475.9 1108.2L472.8 1108.2L470.2 1108.2L468.2 1108.2L466.7 1108.2L466.1 1108.2Z"/><path d="M708.9 1100.6L709.5 1100.6L711 1100.6L713 1100.6L715.6 1100.6L718.7 1100.6L722.3 1100L726.3 1089.9L730.7 1079.1L735.5 1067.8L740.7 1056.5L746.3 1044.8L752.3 1032.9L758.6 1021.1L765.3 1009.9L772.3 999.2L779.7 988.7L787.4 979.4L795.4 972.5L803.7 966.7L812.3 961.7L821.3 957.8L830.5 955.5L840.1 953.6L849.9 952.1L860.1 951.2L870.5 950.9L881.2 950.9L892.2 950.9L903.4 950.9L915 950.9L926.8 950.9L938.9 950.9L951.2 950.9L963.8 950.9L963.8 960.2L951.2 960.2L938.9 960.9L926.8 962.3L915 963.8L903.4 965.5L892.2 967.5L881.2 969.7L870.5 972L860.1 974.6L849.9 977.4L840.1 980.4L830.5 983.3L821.3 986.1L812.3 988.6L803.7 991.3L795.4 994.6L787.4 999.4L779.7 1006.2L772.3 1014.3L765.3 1022.9L758.6 1032.6L752.3 1043.6L746.3 1055.1L740.7 1066.2L735.5 1076.9L730.7 1087.6L726.3 1097.9L722.3 1107.6L718.7 1108.2L715.6 1108.2L713 1108.2L711 1108.2L709.5 1108.2L708.9 1108.2Z"/><path d="M951.7 1100.6L952.3 1100.6L953.8 1100.6L955.8 1100.6L958.4 1100.6L961.5 1100.6L965.1 1100L969.1 1089.9L973.5 1079.1L978.3 1067.8L983.5 1056.5L989.1 1044.8L995.1 1032.9L1001.4 1021.1L1008.1 1009.9L1015.1 999.2L1022.5 988.7L1030.2 979.4L1038.2 972.5L1046.5 966.7L1055.1 961.7L1064.1 957.8L1073.3 955.5L1082.9 953.6L1092.7 952.1L1102.9 951.2L1113.3 950.9L1124 950.9L1135 950.9L1146.2 950.9L1157.8 950.9L1169.6 950.9L1181.7 950.9L1194 950.9L1206.6 950.9L1206.6 960.2L1194 960.2L1181.7 960.9L1169.6 962.3L1157.8 963.8L1146.2 965.5L1135 967.5L1124 969.7L1113.3 972L1102.9 974.6L1092.7 977.4L1082.9 980.4L1073.3 983.3L1064.1 986.1L1055.1 988.6L1046.5 991.3L1038.2 994.6L1030.2 999.4L1022.5 1006.2L1015.1 1014.3L1008.1 1022.9L1001.4 1032.6L995.1 1043.6L989.1 1055.1L983.5 1066.2L978.3 1076.9L973.5 1087.6L969.1 1097.9L965.1 1107.6L961.5 1108.2L958.4 1108.2L955.8 1108.2L953.8 1108.2L952.3 1108.2L951.7 1108.2Z"/><path d="M466.1 1100.6L466.7 1100.6L468.2 1100.6L470.2 1100.6L472.8 1100.6L475.9 1100.6L479.5 1100.2L483.5 1093.5L487.9 1086.3L492.7 1078.9L497.9 1071.4L503.5 1063.6L509.5 1055.7L515.8 1047.9L522.5 1040.5L529.5 1033.4L536.9 1026.5L544.6 1020.3L552.6 1015.7L560.9 1011.9L569.5 1008.5L578.5 1006L587.7 1004.4L597.3 1003.2L607.1 1002.2L617.3 1001.6L627.7 1001.4L638.4 1001.4L649.4 1001.4L660.6 1001.4L672.2 1001.4L684 1001.4L696.1 1001.4L708.4 1001.4L721 1001.4L721 1010.7L708.4 1010.7L696.1 1011.2L684 1012.1L672.2 1013.1L660.6 1014.2L649.4 1015.5L638.4 1017L627.7 1018.5L617.3 1020.2L607.1 1022L597.3 1024L587.7 1025.9L578.5 1027.8L569.5 1029.4L560.9 1031.2L552.6 1033.4L544.6 1036.5L536.9 1041L529.5 1046.3L522.5 1052L515.8 1058.4L509.5 1065.7L503.5 1073.2L497.9 1080.5L492.7 1087.6L487.9 1094.6L483.5 1101.4L479.5 1107.8L475.9 1108.2L472.8 1108.2L470.2 1108.2L468.2 1108.2L466.7 1108.2L466.1 1108.2Z"/><path d="M708.9 1100.6L709.5 1100.6L711 1100.6L713 1100.6L715.6 1100.6L718.7 1100.6L722.3 1100.2L726.3 1093.5L730.7 1086.3L735.5 1078.9L740.7 1071.4L746.3 1063.6L752.3 1055.7L758.6 1047.9L765.3 1040.5L772.3 1033.4L779.7 1026.5L787.4 1020.3L795.4 1015.7L803.7 1011.9L812.3 1008.5L821.3 1006L830.5 1004.4L840.1 1003.2L849.9 1002.2L860.1 1001.6L870.5 1001.4L881.2 1001.4L892.2 1001.4L903.4 1001.4L915 1001.4L926.8 1001.4L938.9 1001.4L951.2 1001.4L963.8 1001.4L963.8 1010.7L951.2 1010.7L938.9 1011.2L926.8 1012.1L915 1013.1L903.4 1014.2L892.2 1015.5L881.2 1017L870.5 1018.5L860.1 1020.2L849.9 1022L840.1 1024L830.5 1025.9L821.3 1027.8L812.3 1029.4L803.7 1031.2L795.4 1033.4L787.4 1036.5L779.7 1041L772.3 1046.3L765.3 1052L758.6 1058.4L752.3 1065.7L746.3 1073.2L740.7 1080.5L735.5 1087.6L730.7 1094.6L726.3 1101.4L722.3 1107.8L718.7 1108.2L715.6 1108.2L713 1108.2L711 1108.2L709.5 1108.2L708.9 1108.2Z"/><path d="M951.7 1100.6L952.3 1100.6L953.8 1100.6L955.8 1100.6L958.4 1100.6L961.5 1100.6L965.1 1100.2L969.1 1093.5L973.5 1086.3L978.3 1078.9L983.5 1071.4L989.1 1063.6L995.1 1055.7L1001.4 1047.9L1008.1 1040.5L1015.1 1033.4L1022.5 1026.5L1030.2 1020.3L1038.2 1015.7L1046.5 1011.9L1055.1 1008.5L1064.1 1006L1073.3 1004.4L1082.9 1003.2L1092.7 1002.2L1102.9 1001.6L1113.3 1001.4L1124 1001.4L1135 1001.4L1146.2 1001.4L1157.8 1001.4L1169.6 1001.4L1181.7 1001.4L1194 1001.4L1206.6 1001.4L1206.6 1010.7L1194 1010.7L1181.7 1011.2L1169.6 1012.1L1157.8 1013.1L1146.2 1014.2L1135 1015.5L1124 1017L1113.3 1018.5L1102.9 1020.2L1092.7 1022L1082.9 1024L1073.3 1025.9L1064.1 1027.8L1055.1 1029.4L1046.5 1031.2L1038.2 1033.4L1030.2 1036.5L1022.5 1041L1015.1 1046.3L1008.1 1052L1001.4 1058.4L995.1 1065.7L989.1 1073.2L983.5 1080.5L978.3 1087.6L973.5 1094.6L969.1 1101.4L965.1 1107.8L961.5 1108.2L958.4 1108.2L955.8 1108.2L953.8 1108.2L952.3 1108.2L951.7 1108.2Z"/><path d="M466.1 1100.6L466.7 1100.6L468.2 1100.6L470.2 1100.6L472.8 1100.6L475.9 1100.6L479.5 1100.4L483.5 1097.1L487.9 1093.6L492.7 1090L497.9 1086.4L503.5 1082.6L509.5 1078.7L515.8 1074.9L522.5 1071.3L529.5 1067.9L536.9 1064.5L544.6 1061.5L552.6 1059.2L560.9 1057.4L569.5 1055.7L578.5 1054.5L587.7 1053.7L597.3 1053.1L607.1 1052.7L617.3 1052.3L627.7 1052.3L638.4 1052.3L649.4 1052.3L660.6 1052.3L672.2 1052.3L684 1052.3L696.1 1052.3L708.4 1052.3L721 1052.3L721 1060.6L708.4 1060.6L696.1 1060.8L684 1061.3L672.2 1061.8L660.6 1062.3L649.4 1063L638.4 1063.7L627.7 1064.4L617.3 1065.2L607.1 1066.1L597.3 1067.1L587.7 1068L578.5 1068.9L569.5 1069.7L560.9 1070.6L552.6 1071.7L544.6 1073.2L536.9 1075.4L529.5 1078L522.5 1080.7L515.8 1083.9L509.5 1087.4L503.5 1091.1L497.9 1094.7L492.7 1098.1L487.9 1101.6L483.5 1104.9L479.5 1108L475.9 1108.2L472.8 1108.2L470.2 1108.2L468.2 1108.2L466.7 1108.2L466.1 1108.2Z"/><path d="M708.9 1100.6L709.5 1100.6L711 1100.6L713 1100.6L715.6 1100.6L718.7 1100.6L722.3 1100.4L726.3 1097.1L730.7 1093.6L735.5 1090L740.7 1086.4L746.3 1082.6L752.3 1078.7L758.6 1074.9L765.3 1071.3L772.3 1067.9L779.7 1064.5L787.4 1061.5L795.4 1059.2L803.7 1057.4L812.3 1055.7L821.3 1054.5L830.5 1053.7L840.1 1053.1L849.9 1052.7L860.1 1052.3L870.5 1052.3L881.2 1052.3L892.2 1052.3L903.4 1052.3L915 1052.3L926.8 1052.3L938.9 1052.3L951.2 1052.3L963.8 1052.3L963.8 1060.6L951.2 1060.6L938.9 1060.8L926.8 1061.3L915 1061.8L903.4 1062.3L892.2 1063L881.2 1063.7L870.5 1064.4L860.1 1065.2L849.9 1066.1L840.1 1067.1L830.5 1068L821.3 1068.9L812.3 1069.7L803.7 1070.6L795.4 1071.7L787.4 1073.2L779.7 1075.4L772.3 1078L765.3 1080.7L758.6 1083.9L752.3 1087.4L746.3 1091.1L740.7 1094.7L735.5 1098.1L730.7 1101.6L726.3 1104.9L722.3 1108L718.7 1108.2L715.6 1108.2L713 1108.2L711 1108.2L709.5 1108.2L708.9 1108.2Z"/><path d="M951.7 1100.6L952.3 1100.6L953.8 1100.6L955.8 1100.6L958.4 1100.6L961.5 1100.6L965.1 1100.4L969.1 1097.1L973.5 1093.6L978.3 1090L983.5 1086.4L989.1 1082.6L995.1 1078.7L1001.4 1074.9L1008.1 1071.3L1015.1 1067.9L1022.5 1064.5L1030.2 1061.5L1038.2 1059.2L1046.5 1057.4L1055.1 1055.7L1064.1 1054.5L1073.3 1053.7L1082.9 1053.1L1092.7 1052.7L1102.9 1052.3L1113.3 1052.3L1124 1052.3L1135 1052.3L1146.2 1052.3L1157.8 1052.3L1169.6 1052.3L1181.7 1052.3L1194 1052.3L1206.6 1052.3L1206.6 1060.6L1194 1060.6L1181.7 1060.8L1169.6 1061.3L1157.8 1061.8L1146.2 1062.3L1135 1063L1124 1063.7L1113.3 1064.4L1102.9 1065.2L1092.7 1066.1L1082.9 1067.1L1073.3 1068L1064.1 1068.9L1055.1 1069.7L1046.5 1070.6L1038.2 1071.7L1030.2 1073.2L1022.5 1075.4L1015.1 1078L1008.1 1080.7L1001.4 1083.9L995.1 1087.4L989.1 1091.1L983.5 1094.7L978.3 1098.1L973.5 1101.6L969.1 1104.9L965.1 1108L961.5 1108.2L958.4 1108.2L955.8 1108.2L953.8 1108.2L952.3 1108.2L951.7 1108.2Z"/><rect x="644.3" y="949.3" width="534.2" height="10.9"/><rect x="644.3" y="999.8" width="534.2" height="10.9"/><rect x="644.3" y="1050.8" width="534.2" height="9.8"/><rect x="644.3" y="1100.6" width="534.2" height="10.1"/><path d="M466.1 955.8L467.3 955.8L469.8 955.9L473.5 957L478.2 958.7L483.8 961.1L490.3 964.6L497.5 969.1L505.5 973.9L514.2 978.7L523.7 983.6L533.8 987.9L544.6 991.8L556 994.8L568.1 997L580.8 998.4L594.1 999.2L608 999.7L622.4 999.8L637.5 999.8L653.1 999.8L669.3 999.8L686 999.8L703.3 999.8L721 999.8L721 1004.2L703.3 1004.2L686 1004.2L669.3 1004.2L653.1 1004.2L637.5 1004.2L622.4 1004.2L608 1004.1L594.1 1003.6L580.8 1002.8L568.1 1001.3L556 999.1L544.6 996.2L533.8 992.3L523.7 988L514.2 983.1L505.5 978.3L497.5 973.5L490.3 969L483.8 965.5L478.2 963.1L473.5 961.4L469.8 960.2L467.3 960.2L466.1 960.2Z"/><path d="M708.9 955.8L710.1 955.8L712.6 955.9L716.3 957L721 958.7L726.6 961.1L733.1 964.6L740.3 969.1L748.3 973.9L757 978.7L766.5 983.6L776.6 987.9L787.4 991.8L798.8 994.8L810.9 997L823.6 998.4L836.9 999.2L850.8 999.7L865.2 999.8L880.3 999.8L895.9 999.8L912.1 999.8L928.8 999.8L946.1 999.8L963.8 999.8L963.8 1004.2L946.1 1004.2L928.8 1004.2L912.1 1004.2L895.9 1004.2L880.3 1004.2L865.2 1004.2L850.8 1004.1L836.9 1003.6L823.6 1002.8L810.9 1001.3L798.8 999.1L787.4 996.2L776.6 992.3L766.5 988L757 983.1L748.3 978.3L740.3 973.5L733.1 969L726.6 965.5L721 963.1L716.3 961.4L712.6 960.2L710.1 960.2L708.9 960.2Z"/><path d="M951.7 955.8L952.9 955.8L955.4 955.9L959.1 957L963.8 958.7L969.4 961.1L975.9 964.6L983.1 969.1L991.1 973.9L999.8 978.7L1009.3 983.6L1019.4 987.9L1030.2 991.8L1041.6 994.8L1053.7 997L1066.4 998.4L1079.7 999.2L1093.6 999.7L1108 999.8L1123.1 999.8L1138.7 999.8L1154.9 999.8L1171.6 999.8L1188.9 999.8L1206.6 999.8L1206.6 1004.2L1188.9 1004.2L1171.6 1004.2L1154.9 1004.2L1138.7 1004.2L1123.1 1004.2L1108 1004.2L1093.6 1004.1L1079.7 1003.6L1066.4 1002.8L1053.7 1001.3L1041.6 999.1L1030.2 996.2L1019.4 992.3L1009.3 988L999.8 983.1L991.1 978.3L983.1 973.5L975.9 969L969.4 965.5L963.8 963.1L959.1 961.4L955.4 960.2L952.9 960.2L951.7 960.2Z"/><path d="M466.1 955.8L467.3 955.8L469.8 955.9L473.5 958.4L478.2 962.1L483.8 967.3L490.3 974.8L497.5 984.5L505.5 994.9L514.2 1005.2L523.7 1015.8L533.8 1025.1L544.6 1033.5L556 1040L568.1 1044.7L580.8 1047.9L594.1 1049.5L608 1050.6L622.4 1050.8L637.5 1050.8L653.1 1050.8L669.3 1050.8L686 1050.8L703.3 1050.8L721 1050.8L721 1054.7L703.3 1054.7L686 1054.7L669.3 1054.7L653.1 1054.7L637.5 1054.7L622.4 1054.7L608 1054.5L594.1 1053.4L580.8 1051.8L568.1 1048.6L556 1043.9L544.6 1037.5L533.8 1029.2L523.7 1019.9L514.2 1009.4L505.5 999.1L497.5 988.8L490.3 979.1L483.8 971.6L478.2 966.4L473.5 962.7L469.8 960.3L467.3 960.2L466.1 960.2Z"/><path d="M708.9 955.8L710.1 955.8L712.6 955.9L716.3 958.4L721 962.1L726.6 967.3L733.1 974.8L740.3 984.5L748.3 994.9L757 1005.2L766.5 1015.8L776.6 1025.1L787.4 1033.5L798.8 1040L810.9 1044.7L823.6 1047.9L836.9 1049.5L850.8 1050.6L865.2 1050.8L880.3 1050.8L895.9 1050.8L912.1 1050.8L928.8 1050.8L946.1 1050.8L963.8 1050.8L963.8 1054.7L946.1 1054.7L928.8 1054.7L912.1 1054.7L895.9 1054.7L880.3 1054.7L865.2 1054.7L850.8 1054.5L836.9 1053.4L823.6 1051.8L810.9 1048.6L798.8 1043.9L787.4 1037.5L776.6 1029.2L766.5 1019.9L757 1009.4L748.3 999.1L740.3 988.8L733.1 979.1L726.6 971.6L721 966.4L716.3 962.7L712.6 960.3L710.1 960.2L708.9 960.2Z"/><path d="M951.7 955.8L952.9 955.8L955.4 955.9L959.1 958.4L963.8 962.1L969.4 967.3L975.9 974.8L983.1 984.5L991.1 994.9L999.8 1005.2L1009.3 1015.8L1019.4 1025.1L1030.2 1033.5L1041.6 1040L1053.7 1044.7L1066.4 1047.9L1079.7 1049.5L1093.6 1050.6L1108 1050.8L1123.1 1050.8L1138.7 1050.8L1154.9 1050.8L1171.6 1050.8L1188.9 1050.8L1206.6 1050.8L1206.6 1054.7L1188.9 1054.7L1171.6 1054.7L1154.9 1054.7L1138.7 1054.7L1123.1 1054.7L1108 1054.7L1093.6 1054.5L1079.7 1053.4L1066.4 1051.8L1053.7 1048.6L1041.6 1043.9L1030.2 1037.5L1019.4 1029.2L1009.3 1019.9L999.8 1009.4L991.1 999.1L983.1 988.8L975.9 979.1L969.4 971.6L963.8 966.4L959.1 962.7L955.4 960.3L952.9 960.2L951.7 960.2Z"/><path d="M466.1 955.8L467.3 955.8L469.8 955.9L473.5 959.7L478.2 965.3L483.8 973.2L490.3 984.8L497.5 999.6L505.5 1015.4L514.2 1031.1L523.7 1047.3L533.8 1061.5L544.6 1074.3L556 1084.1L568.1 1091.3L580.8 1096.1L594.1 1098.6L608 1100.3L622.4 1100.6L637.5 1100.6L653.1 1100.6L669.3 1100.6L686 1100.6L703.3 1100.6L721 1100.6L721 1104.6L703.3 1104.6L686 1104.6L669.3 1104.6L653.1 1104.6L637.5 1104.6L622.4 1104.6L608 1104.4L594.1 1102.7L580.8 1100.2L568.1 1095.4L556 1088.2L544.6 1078.4L533.8 1065.6L523.7 1051.4L514.2 1035.3L505.5 1019.6L497.5 1003.9L490.3 989.1L483.8 977.6L478.2 969.7L473.5 964.1L469.8 960.3L467.3 960.2L466.1 960.2Z"/><path d="M708.9 955.8L710.1 955.8L712.6 955.9L716.3 959.7L721 965.3L726.6 973.2L733.1 984.8L740.3 999.6L748.3 1015.4L757 1031.1L766.5 1047.3L776.6 1061.5L787.4 1074.3L798.8 1084.1L810.9 1091.3L823.6 1096.1L836.9 1098.6L850.8 1100.3L865.2 1100.6L880.3 1100.6L895.9 1100.6L912.1 1100.6L928.8 1100.6L946.1 1100.6L963.8 1100.6L963.8 1104.6L946.1 1104.6L928.8 1104.6L912.1 1104.6L895.9 1104.6L880.3 1104.6L865.2 1104.6L850.8 1104.4L836.9 1102.7L823.6 1100.2L810.9 1095.4L798.8 1088.2L787.4 1078.4L776.6 1065.6L766.5 1051.4L757 1035.3L748.3 1019.6L740.3 1003.9L733.1 989.1L726.6 977.6L721 969.7L716.3 964.1L712.6 960.3L710.1 960.2L708.9 960.2Z"/><path d="M951.7 955.8L952.9 955.8L955.4 955.9L959.1 959.7L963.8 965.3L969.4 973.2L975.9 984.8L983.1 999.6L991.1 1015.4L999.8 1031.1L1009.3 1047.3L1019.4 1061.5L1030.2 1074.3L1041.6 1084.1L1053.7 1091.3L1066.4 1096.1L1079.7 1098.6L1093.6 1100.3L1108 1100.6L1123.1 1100.6L1138.7 1100.6L1154.9 1100.6L1171.6 1100.6L1188.9 1100.6L1206.6 1100.6L1206.6 1104.6L1188.9 1104.6L1171.6 1104.6L1154.9 1104.6L1138.7 1104.6L1123.1 1104.6L1108 1104.6L1093.6 1104.4L1079.7 1102.7L1066.4 1100.2L1053.7 1095.4L1041.6 1088.2L1030.2 1078.4L1019.4 1065.6L1009.3 1051.4L999.8 1035.3L991.1 1019.6L983.1 1003.9L975.9 989.1L969.4 977.6L963.8 969.7L959.1 964.1L955.4 960.3L952.9 960.2L951.7 960.2Z"/><path d="M466.1 999.8L467.3 999.8L469.8 999.8L473.5 999.8L478.2 999.8L483.8 998L490.3 995.5L497.5 991.7L505.5 986.8L514.2 981.6L523.7 976.4L533.8 971.3L544.6 966.8L556 962.9L568.1 960.1L580.8 958.1L594.1 956.9L608 956.2L622.4 955.8L637.5 955.8L653.1 955.8L669.3 955.8L686 955.8L703.3 955.8L721 955.8L721 960.2L703.3 960.2L686 960.2L669.3 960.2L653.1 960.2L637.5 960.2L622.4 960.2L608 960.5L594.1 961.3L580.8 962.4L568.1 964.5L556 967.3L544.6 971.2L533.8 975.6L523.7 980.8L514.2 985.9L505.5 991.2L497.5 996.1L490.3 999.8L483.8 1002.4L478.2 1004.2L473.5 1004.2L469.8 1004.2L467.3 1004.2L466.1 1004.2Z"/><path d="M708.9 999.8L710.1 999.8L712.6 999.8L716.3 999.8L721 999.8L726.6 998L733.1 995.5L740.3 991.7L748.3 986.8L757 981.6L766.5 976.4L776.6 971.3L787.4 966.8L798.8 962.9L810.9 960.1L823.6 958.1L836.9 956.9L850.8 956.2L865.2 955.8L880.3 955.8L895.9 955.8L912.1 955.8L928.8 955.8L946.1 955.8L963.8 955.8L963.8 960.2L946.1 960.2L928.8 960.2L912.1 960.2L895.9 960.2L880.3 960.2L865.2 960.2L850.8 960.5L836.9 961.3L823.6 962.4L810.9 964.5L798.8 967.3L787.4 971.2L776.6 975.6L766.5 980.8L757 985.9L748.3 991.2L740.3 996.1L733.1 999.8L726.6 1002.4L721 1004.2L716.3 1004.2L712.6 1004.2L710.1 1004.2L708.9 1004.2Z"/><path d="M951.7 999.8L952.9 999.8L955.4 999.8L959.1 999.8L963.8 999.8L969.4 998L975.9 995.5L983.1 991.7L991.1 986.8L999.8 981.6L1009.3 976.4L1019.4 971.3L1030.2 966.8L1041.6 962.9L1053.7 960.1L1066.4 958.1L1079.7 956.9L1093.6 956.2L1108 955.8L1123.1 955.8L1138.7 955.8L1154.9 955.8L1171.6 955.8L1188.9 955.8L1206.6 955.8L1206.6 960.2L1188.9 960.2L1171.6 960.2L1154.9 960.2L1138.7 960.2L1123.1 960.2L1108 960.2L1093.6 960.5L1079.7 961.3L1066.4 962.4L1053.7 964.5L1041.6 967.3L1030.2 971.2L1019.4 975.6L1009.3 980.8L999.8 985.9L991.1 991.2L983.1 996.1L975.9 999.8L969.4 1002.4L963.8 1004.2L959.1 1004.2L955.4 1004.2L952.9 1004.2L951.7 1004.2Z"/><path d="M466.1 1006.3L467.3 1006.3L469.8 1006.4L473.5 1007.5L478.2 1009.3L483.8 1011.7L490.3 1015.2L497.5 1019.8L505.5 1024.6L514.2 1029.5L523.7 1034.4L533.8 1038.8L544.6 1042.7L556 1045.7L568.1 1047.9L580.8 1049.4L594.1 1050.2L608 1050.7L622.4 1050.8L637.5 1050.8L653.1 1050.8L669.3 1050.8L686 1050.8L703.3 1050.8L721 1050.8L721 1054.7L703.3 1054.7L686 1054.7L669.3 1054.7L653.1 1054.7L637.5 1054.7L622.4 1054.7L608 1054.6L594.1 1054.1L580.8 1053.4L568.1 1051.9L556 1049.7L544.6 1046.7L533.8 1042.8L523.7 1038.5L514.2 1033.6L505.5 1028.8L497.5 1024L490.3 1019.5L483.8 1016L478.2 1013.6L473.5 1011.9L469.8 1010.7L467.3 1010.7L466.1 1010.7Z"/><path d="M708.9 1006.3L710.1 1006.3L712.6 1006.4L716.3 1007.5L721 1009.3L726.6 1011.7L733.1 1015.2L740.3 1019.8L748.3 1024.6L757 1029.5L766.5 1034.4L776.6 1038.8L787.4 1042.7L798.8 1045.7L810.9 1047.9L823.6 1049.4L836.9 1050.2L850.8 1050.7L865.2 1050.8L880.3 1050.8L895.9 1050.8L912.1 1050.8L928.8 1050.8L946.1 1050.8L963.8 1050.8L963.8 1054.7L946.1 1054.7L928.8 1054.7L912.1 1054.7L895.9 1054.7L880.3 1054.7L865.2 1054.7L850.8 1054.6L836.9 1054.1L823.6 1053.4L810.9 1051.9L798.8 1049.7L787.4 1046.7L776.6 1042.8L766.5 1038.5L757 1033.6L748.3 1028.8L740.3 1024L733.1 1019.5L726.6 1016L721 1013.6L716.3 1011.9L712.6 1010.7L710.1 1010.7L708.9 1010.7Z"/><path d="M951.7 1006.3L952.9 1006.3L955.4 1006.4L959.1 1007.5L963.8 1009.3L969.4 1011.7L975.9 1015.2L983.1 1019.8L991.1 1024.6L999.8 1029.5L1009.3 1034.4L1019.4 1038.8L1030.2 1042.7L1041.6 1045.7L1053.7 1047.9L1066.4 1049.4L1079.7 1050.2L1093.6 1050.7L1108 1050.8L1123.1 1050.8L1138.7 1050.8L1154.9 1050.8L1171.6 1050.8L1188.9 1050.8L1206.6 1050.8L1206.6 1054.7L1188.9 1054.7L1171.6 1054.7L1154.9 1054.7L1138.7 1054.7L1123.1 1054.7L1108 1054.7L1093.6 1054.6L1079.7 1054.1L1066.4 1053.4L1053.7 1051.9L1041.6 1049.7L1030.2 1046.7L1019.4 1042.8L1009.3 1038.5L999.8 1033.6L991.1 1028.8L983.1 1024L975.9 1019.5L969.4 1016L963.8 1013.6L959.1 1011.9L955.4 1010.7L952.9 1010.7L951.7 1010.7Z"/><path d="M466.1 1006.3L467.3 1006.3L469.8 1006.4L473.5 1008.9L478.2 1012.5L483.8 1017.7L490.3 1025.2L497.5 1034.8L505.5 1045.1L514.2 1055.4L523.7 1065.9L533.8 1075.1L544.6 1083.5L556 1089.8L568.1 1094.5L580.8 1097.7L594.1 1099.3L608 1100.4L622.4 1100.6L637.5 1100.6L653.1 1100.6L669.3 1100.6L686 1100.6L703.3 1100.6L721 1100.6L721 1104.6L703.3 1104.6L686 1104.6L669.3 1104.6L653.1 1104.6L637.5 1104.6L622.4 1104.6L608 1104.5L594.1 1103.4L580.8 1101.7L568.1 1098.6L556 1093.9L544.6 1087.6L533.8 1079.3L523.7 1070L514.2 1059.6L505.5 1049.4L497.5 1039.1L490.3 1029.5L483.8 1022L478.2 1016.9L473.5 1013.2L469.8 1010.8L467.3 1010.7L466.1 1010.7Z"/><path d="M708.9 1006.3L710.1 1006.3L712.6 1006.4L716.3 1008.9L721 1012.5L726.6 1017.7L733.1 1025.2L740.3 1034.8L748.3 1045.1L757 1055.4L766.5 1065.9L776.6 1075.1L787.4 1083.5L798.8 1089.8L810.9 1094.5L823.6 1097.7L836.9 1099.3L850.8 1100.4L865.2 1100.6L880.3 1100.6L895.9 1100.6L912.1 1100.6L928.8 1100.6L946.1 1100.6L963.8 1100.6L963.8 1104.6L946.1 1104.6L928.8 1104.6L912.1 1104.6L895.9 1104.6L880.3 1104.6L865.2 1104.6L850.8 1104.5L836.9 1103.4L823.6 1101.7L810.9 1098.6L798.8 1093.9L787.4 1087.6L776.6 1079.3L766.5 1070L757 1059.6L748.3 1049.4L740.3 1039.1L733.1 1029.5L726.6 1022L721 1016.9L716.3 1013.2L712.6 1010.8L710.1 1010.7L708.9 1010.7Z"/><path d="M951.7 1006.3L952.9 1006.3L955.4 1006.4L959.1 1008.9L963.8 1012.5L969.4 1017.7L975.9 1025.2L983.1 1034.8L991.1 1045.1L999.8 1055.4L1009.3 1065.9L1019.4 1075.1L1030.2 1083.5L1041.6 1089.8L1053.7 1094.5L1066.4 1097.7L1079.7 1099.3L1093.6 1100.4L1108 1100.6L1123.1 1100.6L1138.7 1100.6L1154.9 1100.6L1171.6 1100.6L1188.9 1100.6L1206.6 1100.6L1206.6 1104.6L1188.9 1104.6L1171.6 1104.6L1154.9 1104.6L1138.7 1104.6L1123.1 1104.6L1108 1104.6L1093.6 1104.5L1079.7 1103.4L1066.4 1101.7L1053.7 1098.6L1041.6 1093.9L1030.2 1087.6L1019.4 1079.3L1009.3 1070L999.8 1059.6L991.1 1049.4L983.1 1039.1L975.9 1029.5L969.4 1022L963.8 1016.9L959.1 1013.2L955.4 1010.8L952.9 1010.7L951.7 1010.7Z"/><path d="M466.1 1050.8L467.3 1050.8L469.8 1050.8L473.5 1050.8L478.2 1050.8L483.8 1046.9L490.3 1041.4L497.5 1033.4L505.5 1022.8L514.2 1011.4L523.7 1000.3L533.8 989.2L544.6 979.6L556 971.2L568.1 965.1L580.8 960.6L594.1 958.1L608 956.6L622.4 955.8L637.5 955.8L653.1 955.8L669.3 955.8L686 955.8L703.3 955.8L721 955.8L721 960.2L703.3 960.2L686 960.2L669.3 960.2L653.1 960.2L637.5 960.2L622.4 960.2L608 961L594.1 962.5L580.8 965L568.1 969.5L556 975.4L544.6 983.8L533.8 993.4L523.7 1004.5L514.2 1015.5L505.5 1026.8L497.5 1037.4L490.3 1045.4L483.8 1050.8L478.2 1054.7L473.5 1054.7L469.8 1054.7L467.3 1054.7L466.1 1054.7Z"/><path d="M708.9 1050.8L710.1 1050.8L712.6 1050.8L716.3 1050.8L721 1050.8L726.6 1046.9L733.1 1041.4L740.3 1033.4L748.3 1022.8L757 1011.4L766.5 1000.3L776.6 989.2L787.4 979.6L798.8 971.2L810.9 965.1L823.6 960.6L836.9 958.1L850.8 956.6L865.2 955.8L880.3 955.8L895.9 955.8L912.1 955.8L928.8 955.8L946.1 955.8L963.8 955.8L963.8 960.2L946.1 960.2L928.8 960.2L912.1 960.2L895.9 960.2L880.3 960.2L865.2 960.2L850.8 961L836.9 962.5L823.6 965L810.9 969.5L798.8 975.4L787.4 983.8L776.6 993.4L766.5 1004.5L757 1015.5L748.3 1026.8L740.3 1037.4L733.1 1045.4L726.6 1050.8L721 1054.7L716.3 1054.7L712.6 1054.7L710.1 1054.7L708.9 1054.7Z"/><path d="M951.7 1050.8L952.9 1050.8L955.4 1050.8L959.1 1050.8L963.8 1050.8L969.4 1046.9L975.9 1041.4L983.1 1033.4L991.1 1022.8L999.8 1011.4L1009.3 1000.3L1019.4 989.2L1030.2 979.6L1041.6 971.2L1053.7 965.1L1066.4 960.6L1079.7 958.1L1093.6 956.6L1108 955.8L1123.1 955.8L1138.7 955.8L1154.9 955.8L1171.6 955.8L1188.9 955.8L1206.6 955.8L1206.6 960.2L1188.9 960.2L1171.6 960.2L1154.9 960.2L1138.7 960.2L1123.1 960.2L1108 960.2L1093.6 961L1079.7 962.5L1066.4 965L1053.7 969.5L1041.6 975.4L1030.2 983.8L1019.4 993.4L1009.3 1004.5L999.8 1015.5L991.1 1026.8L983.1 1037.4L975.9 1045.4L969.4 1050.8L963.8 1054.7L959.1 1054.7L955.4 1054.7L952.9 1054.7L951.7 1054.7Z"/><path d="M466.1 1050.8L467.3 1050.8L469.8 1050.8L473.5 1050.8L478.2 1050.8L483.8 1049L490.3 1046.4L497.5 1042.7L505.5 1037.7L514.2 1032.4L523.7 1027.2L533.8 1021.9L544.6 1017.5L556 1013.5L568.1 1010.7L580.8 1008.6L594.1 1007.4L608 1006.7L622.4 1006.3L637.5 1006.3L653.1 1006.3L669.3 1006.3L686 1006.3L703.3 1006.3L721 1006.3L721 1010.7L703.3 1010.7L686 1010.7L669.3 1010.7L653.1 1010.7L637.5 1010.7L622.4 1010.7L608 1011L594.1 1011.8L580.8 1012.9L568.1 1015L556 1017.8L544.6 1021.7L533.8 1026.1L523.7 1031.3L514.2 1036.5L505.5 1041.7L497.5 1046.7L490.3 1050.4L483.8 1052.9L478.2 1054.7L473.5 1054.7L469.8 1054.7L467.3 1054.7L466.1 1054.7Z"/><path d="M708.9 1050.8L710.1 1050.8L712.6 1050.8L716.3 1050.8L721 1050.8L726.6 1049L733.1 1046.4L740.3 1042.7L748.3 1037.7L757 1032.4L766.5 1027.2L776.6 1021.9L787.4 1017.5L798.8 1013.5L810.9 1010.7L823.6 1008.6L836.9 1007.4L850.8 1006.7L865.2 1006.3L880.3 1006.3L895.9 1006.3L912.1 1006.3L928.8 1006.3L946.1 1006.3L963.8 1006.3L963.8 1010.7L946.1 1010.7L928.8 1010.7L912.1 1010.7L895.9 1010.7L880.3 1010.7L865.2 1010.7L850.8 1011L836.9 1011.8L823.6 1012.9L810.9 1015L798.8 1017.8L787.4 1021.7L776.6 1026.1L766.5 1031.3L757 1036.5L748.3 1041.7L740.3 1046.7L733.1 1050.4L726.6 1052.9L721 1054.7L716.3 1054.7L712.6 1054.7L710.1 1054.7L708.9 1054.7Z"/><path d="M951.7 1050.8L952.9 1050.8L955.4 1050.8L959.1 1050.8L963.8 1050.8L969.4 1049L975.9 1046.4L983.1 1042.7L991.1 1037.7L999.8 1032.4L1009.3 1027.2L1019.4 1021.9L1030.2 1017.5L1041.6 1013.5L1053.7 1010.7L1066.4 1008.6L1079.7 1007.4L1093.6 1006.7L1108 1006.3L1123.1 1006.3L1138.7 1006.3L1154.9 1006.3L1171.6 1006.3L1188.9 1006.3L1206.6 1006.3L1206.6 1010.7L1188.9 1010.7L1171.6 1010.7L1154.9 1010.7L1138.7 1010.7L1123.1 1010.7L1108 1010.7L1093.6 1011L1079.7 1011.8L1066.4 1012.9L1053.7 1015L1041.6 1017.8L1030.2 1021.7L1019.4 1026.1L1009.3 1031.3L999.8 1036.5L991.1 1041.7L983.1 1046.7L975.9 1050.4L969.4 1052.9L963.8 1054.7L959.1 1054.7L955.4 1054.7L952.9 1054.7L951.7 1054.7Z"/><path d="M466.1 1056.7L467.3 1056.7L469.8 1056.7L473.5 1057.9L478.2 1059.6L483.8 1062L490.3 1065.5L497.5 1070L505.5 1074.8L514.2 1079.5L523.7 1084.4L533.8 1088.7L544.6 1092.6L556 1095.6L568.1 1097.8L580.8 1099.2L594.1 1100L608 1100.5L622.4 1100.6L637.5 1100.6L653.1 1100.6L669.3 1100.6L686 1100.6L703.3 1100.6L721 1100.6L721 1104.6L703.3 1104.6L686 1104.6L669.3 1104.6L653.1 1104.6L637.5 1104.6L622.4 1104.6L608 1104.6L594.1 1104L580.8 1103.3L568.1 1101.8L556 1099.6L544.6 1096.6L533.8 1092.7L523.7 1088.4L514.2 1083.5L505.5 1078.7L497.5 1073.9L490.3 1069.4L483.8 1065.9L478.2 1063.5L473.5 1061.8L469.8 1060.6L467.3 1060.6L466.1 1060.6Z"/><path d="M708.9 1056.7L710.1 1056.7L712.6 1056.7L716.3 1057.9L721 1059.6L726.6 1062L733.1 1065.5L740.3 1070L748.3 1074.8L757 1079.5L766.5 1084.4L776.6 1088.7L787.4 1092.6L798.8 1095.6L810.9 1097.8L823.6 1099.2L836.9 1100L850.8 1100.5L865.2 1100.6L880.3 1100.6L895.9 1100.6L912.1 1100.6L928.8 1100.6L946.1 1100.6L963.8 1100.6L963.8 1104.6L946.1 1104.6L928.8 1104.6L912.1 1104.6L895.9 1104.6L880.3 1104.6L865.2 1104.6L850.8 1104.6L836.9 1104L823.6 1103.3L810.9 1101.8L798.8 1099.6L787.4 1096.6L776.6 1092.7L766.5 1088.4L757 1083.5L748.3 1078.7L740.3 1073.9L733.1 1069.4L726.6 1065.9L721 1063.5L716.3 1061.8L712.6 1060.6L710.1 1060.6L708.9 1060.6Z"/><path d="M951.7 1056.7L952.9 1056.7L955.4 1056.7L959.1 1057.9L963.8 1059.6L969.4 1062L975.9 1065.5L983.1 1070L991.1 1074.8L999.8 1079.5L1009.3 1084.4L1019.4 1088.7L1030.2 1092.6L1041.6 1095.6L1053.7 1097.8L1066.4 1099.2L1079.7 1100L1093.6 1100.5L1108 1100.6L1123.1 1100.6L1138.7 1100.6L1154.9 1100.6L1171.6 1100.6L1188.9 1100.6L1206.6 1100.6L1206.6 1104.6L1188.9 1104.6L1171.6 1104.6L1154.9 1104.6L1138.7 1104.6L1123.1 1104.6L1108 1104.6L1093.6 1104.6L1079.7 1104L1066.4 1103.3L1053.7 1101.8L1041.6 1099.6L1030.2 1096.6L1019.4 1092.7L1009.3 1088.4L999.8 1083.5L991.1 1078.7L983.1 1073.9L975.9 1069.4L969.4 1065.9L963.8 1063.5L959.1 1061.8L955.4 1060.6L952.9 1060.6L951.7 1060.6Z"/><path d="M466.1 1100.6L467.3 1100.6L469.8 1100.6L473.5 1100.6L478.2 1100.6L483.8 1094.7L490.3 1086.3L497.5 1074.1L505.5 1057.9L514.2 1040.6L523.7 1023.6L533.8 1006.6L544.6 992.1L556 979.2L568.1 970L580.8 963.2L594.1 959.3L608 957L622.4 955.9L637.5 955.8L653.1 955.8L669.3 955.8L686 955.8L703.3 955.8L721 955.8L721 960.2L703.3 960.2L686 960.2L669.3 960.2L653.1 960.2L637.5 960.2L622.4 960.2L608 961.3L594.1 963.7L580.8 967.5L568.1 974.4L556 983.5L544.6 996.3L533.8 1010.9L523.7 1027.8L514.2 1044.8L505.5 1062L497.5 1078.2L490.3 1090.4L483.8 1098.7L478.2 1104.6L473.5 1104.6L469.8 1104.6L467.3 1104.6L466.1 1104.6Z"/><path d="M708.9 1100.6L710.1 1100.6L712.6 1100.6L716.3 1100.6L721 1100.6L726.6 1094.7L733.1 1086.3L740.3 1074.1L748.3 1057.9L757 1040.6L766.5 1023.6L776.6 1006.6L787.4 992.1L798.8 979.2L810.9 970L823.6 963.2L836.9 959.3L850.8 957L865.2 955.9L880.3 955.8L895.9 955.8L912.1 955.8L928.8 955.8L946.1 955.8L963.8 955.8L963.8 960.2L946.1 960.2L928.8 960.2L912.1 960.2L895.9 960.2L880.3 960.2L865.2 960.2L850.8 961.3L836.9 963.7L823.6 967.5L810.9 974.4L798.8 983.5L787.4 996.3L776.6 1010.9L766.5 1027.8L757 1044.8L748.3 1062L740.3 1078.2L733.1 1090.4L726.6 1098.7L721 1104.6L716.3 1104.6L712.6 1104.6L710.1 1104.6L708.9 1104.6Z"/><path d="M951.7 1100.6L952.9 1100.6L955.4 1100.6L959.1 1100.6L963.8 1100.6L969.4 1094.7L975.9 1086.3L983.1 1074.1L991.1 1057.9L999.8 1040.6L1009.3 1023.6L1019.4 1006.6L1030.2 992.1L1041.6 979.2L1053.7 970L1066.4 963.2L1079.7 959.3L1093.6 957L1108 955.9L1123.1 955.8L1138.7 955.8L1154.9 955.8L1171.6 955.8L1188.9 955.8L1206.6 955.8L1206.6 960.2L1188.9 960.2L1171.6 960.2L1154.9 960.2L1138.7 960.2L1123.1 960.2L1108 960.2L1093.6 961.3L1079.7 963.7L1066.4 967.5L1053.7 974.4L1041.6 983.5L1030.2 996.3L1019.4 1010.9L1009.3 1027.8L999.8 1044.8L991.1 1062L983.1 1078.2L975.9 1090.4L969.4 1098.7L963.8 1104.6L959.1 1104.6L955.4 1104.6L952.9 1104.6L951.7 1104.6Z"/><path d="M466.1 1100.6L467.3 1100.6L469.8 1100.6L473.5 1100.6L478.2 1100.6L483.8 1096.7L490.3 1091.3L497.5 1083.3L505.5 1072.8L514.2 1061.5L523.7 1050.5L533.8 1039.4L544.6 1029.9L556 1021.5L568.1 1015.6L580.8 1011.1L594.1 1008.6L608 1007.1L622.4 1006.3L637.5 1006.3L653.1 1006.3L669.3 1006.3L686 1006.3L703.3 1006.3L721 1006.3L721 1010.7L703.3 1010.7L686 1010.7L669.3 1010.7L653.1 1010.7L637.5 1010.7L622.4 1010.7L608 1011.4L594.1 1013L580.8 1015.4L568.1 1019.9L556 1025.8L544.6 1034.2L533.8 1043.7L523.7 1054.7L514.2 1065.7L505.5 1076.9L497.5 1087.4L490.3 1095.4L483.8 1100.8L478.2 1104.6L473.5 1104.6L469.8 1104.6L467.3 1104.6L466.1 1104.6Z"/><path d="M708.9 1100.6L710.1 1100.6L712.6 1100.6L716.3 1100.6L721 1100.6L726.6 1096.7L733.1 1091.3L740.3 1083.3L748.3 1072.8L757 1061.5L766.5 1050.5L776.6 1039.4L787.4 1029.9L798.8 1021.5L810.9 1015.6L823.6 1011.1L836.9 1008.6L850.8 1007.1L865.2 1006.3L880.3 1006.3L895.9 1006.3L912.1 1006.3L928.8 1006.3L946.1 1006.3L963.8 1006.3L963.8 1010.7L946.1 1010.7L928.8 1010.7L912.1 1010.7L895.9 1010.7L880.3 1010.7L865.2 1010.7L850.8 1011.4L836.9 1013L823.6 1015.4L810.9 1019.9L798.8 1025.8L787.4 1034.2L776.6 1043.7L766.5 1054.7L757 1065.7L748.3 1076.9L740.3 1087.4L733.1 1095.4L726.6 1100.8L721 1104.6L716.3 1104.6L712.6 1104.6L710.1 1104.6L708.9 1104.6Z"/><path d="M951.7 1100.6L952.9 1100.6L955.4 1100.6L959.1 1100.6L963.8 1100.6L969.4 1096.7L975.9 1091.3L983.1 1083.3L991.1 1072.8L999.8 1061.5L1009.3 1050.5L1019.4 1039.4L1030.2 1029.9L1041.6 1021.5L1053.7 1015.6L1066.4 1011.1L1079.7 1008.6L1093.6 1007.1L1108 1006.3L1123.1 1006.3L1138.7 1006.3L1154.9 1006.3L1171.6 1006.3L1188.9 1006.3L1206.6 1006.3L1206.6 1010.7L1188.9 1010.7L1171.6 1010.7L1154.9 1010.7L1138.7 1010.7L1123.1 1010.7L1108 1010.7L1093.6 1011.4L1079.7 1013L1066.4 1015.4L1053.7 1019.9L1041.6 1025.8L1030.2 1034.2L1019.4 1043.7L1009.3 1054.7L999.8 1065.7L991.1 1076.9L983.1 1087.4L975.9 1095.4L969.4 1100.8L963.8 1104.6L959.1 1104.6L955.4 1104.6L952.9 1104.6L951.7 1104.6Z"/><path d="M466.1 1100.6L467.3 1100.6L469.8 1100.6L473.5 1100.6L478.2 1100.6L483.8 1098.8L490.3 1096.3L497.5 1092.6L505.5 1087.6L514.2 1082.4L523.7 1077.2L533.8 1072.1L544.6 1067.7L556 1063.8L568.1 1061L580.8 1058.9L594.1 1057.7L608 1057L622.4 1056.7L637.5 1056.7L653.1 1056.7L669.3 1056.7L686 1056.7L703.3 1056.7L721 1056.7L721 1060.6L703.3 1060.6L686 1060.6L669.3 1060.6L653.1 1060.6L637.5 1060.6L622.4 1060.6L608 1060.9L594.1 1061.7L580.8 1062.8L568.1 1064.9L556 1067.7L544.6 1071.6L533.8 1076.1L523.7 1081.2L514.2 1086.4L505.5 1091.6L497.5 1096.6L490.3 1100.3L483.8 1102.8L478.2 1104.6L473.5 1104.6L469.8 1104.6L467.3 1104.6L466.1 1104.6Z"/><path d="M708.9 1100.6L710.1 1100.6L712.6 1100.6L716.3 1100.6L721 1100.6L726.6 1098.8L733.1 1096.3L740.3 1092.6L748.3 1087.6L757 1082.4L766.5 1077.2L776.6 1072.1L787.4 1067.7L798.8 1063.8L810.9 1061L823.6 1058.9L836.9 1057.7L850.8 1057L865.2 1056.7L880.3 1056.7L895.9 1056.7L912.1 1056.7L928.8 1056.7L946.1 1056.7L963.8 1056.7L963.8 1060.6L946.1 1060.6L928.8 1060.6L912.1 1060.6L895.9 1060.6L880.3 1060.6L865.2 1060.6L850.8 1060.9L836.9 1061.7L823.6 1062.8L810.9 1064.9L798.8 1067.7L787.4 1071.6L776.6 1076.1L766.5 1081.2L757 1086.4L748.3 1091.6L740.3 1096.6L733.1 1100.3L726.6 1102.8L721 1104.6L716.3 1104.6L712.6 1104.6L710.1 1104.6L708.9 1104.6Z"/><path d="M951.7 1100.6L952.9 1100.6L955.4 1100.6L959.1 1100.6L963.8 1100.6L969.4 1098.8L975.9 1096.3L983.1 1092.6L991.1 1087.6L999.8 1082.4L1009.3 1077.2L1019.4 1072.1L1030.2 1067.7L1041.6 1063.8L1053.7 1061L1066.4 1058.9L1079.7 1057.7L1093.6 1057L1108 1056.7L1123.1 1056.7L1138.7 1056.7L1154.9 1056.7L1171.6 1056.7L1188.9 1056.7L1206.6 1056.7L1206.6 1060.6L1188.9 1060.6L1171.6 1060.6L1154.9 1060.6L1138.7 1060.6L1123.1 1060.6L1108 1060.6L1093.6 1060.9L1079.7 1061.7L1066.4 1062.8L1053.7 1064.9L1041.6 1067.7L1030.2 1071.6L1019.4 1076.1L1009.3 1081.2L999.8 1086.4L991.1 1091.6L983.1 1096.6L975.9 1100.3L969.4 1102.8L963.8 1104.6L959.1 1104.6L955.4 1104.6L952.9 1104.6L951.7 1104.6Z"/></g><path d="M660.8 933.9V1126.1M657.6 934.4H660.8M657.6 940.8H660.8M657.6 947.1H660.8M657.6 953.5H660.8M657.6 959.9H660.8M657.6 966.3H660.8M657.6 972.6H660.8M657.6 979H660.8M657.6 985.4H660.8M657.6 991.8H660.8M657.6 998.1H660.8M657.6 1004.5H660.8M657.6 1010.9H660.8M657.6 1017.3H660.8M657.6 1023.6H660.8M657.6 1030H660.8M657.6 1036.4H660.8M657.6 1042.7H660.8M657.6 1049.1H660.8M657.6 1055.5H660.8M657.6 1061.9H660.8M657.6 1068.2H660.8M657.6 1074.6H660.8M657.6 1081H660.8M657.6 1087.4H660.8M657.6 1093.7H660.8M657.6 1100.1H660.8M657.6 1106.5H660.8M657.6 1112.9H660.8M657.6 1119.2H660.8M657.6 1125.6H660.8M654.5 934.4H661.3M654.5 998.1H661.3M654.5 1061.9H661.3M654.5 1125.6H661.3" fill="none" stroke="#303030" stroke-width="1.15"/><text x="651.2" y="938.9" font-size="13.1" text-anchor="end">34.1</text><text x="651.2" y="1002.6" font-size="13.1" text-anchor="end">6.48</text><text x="651.2" y="1066.4" font-size="13.1" text-anchor="end">-21.2</text><text x="651.2" y="1130.1" font-size="13.1" text-anchor="end">-48.8</text><text transform="translate(616 1030) rotate(-90)" class="r" font-size="13.1" text-anchor="middle">(Q) Amplitude (mV)</text><path d="M668.1 1130.5H1154.7M668.6 1130.5V1136.1M680.7 1130.5V1133.5M692.9 1130.5V1133.5M705 1130.5V1133.5M717.2 1130.5V1133.5M729.3 1130.5V1133.5M741.4 1130.5V1133.5M753.6 1130.5V1133.5M765.7 1130.5V1133.5M777.9 1130.5V1133.5M790 1130.5V1136.1M802.1 1130.5V1133.5M814.3 1130.5V1133.5M826.4 1130.5V1133.5M838.6 1130.5V1133.5M850.7 1130.5V1133.5M862.8 1130.5V1133.5M875 1130.5V1133.5M887.1 1130.5V1133.5M899.3 1130.5V1133.5M911.4 1130.5V1136.1M923.5 1130.5V1133.5M935.7 1130.5V1133.5M947.8 1130.5V1133.5M960 1130.5V1133.5M972.1 1130.5V1133.5M984.2 1130.5V1133.5M996.4 1130.5V1133.5M1008.5 1130.5V1133.5M1020.7 1130.5V1133.5M1032.8 1130.5V1136.1M1044.9 1130.5V1133.5M1057.1 1130.5V1133.5M1069.2 1130.5V1133.5M1081.4 1130.5V1133.5M1093.5 1130.5V1133.5M1105.6 1130.5V1133.5M1117.8 1130.5V1133.5M1129.9 1130.5V1133.5M1142.1 1130.5V1133.5M1154.2 1130.5V1136.1" fill="none" stroke="#303030" stroke-width="1.15"/><text x="668.6" y="1147.3" font-size="13.1" text-anchor="middle">0.0</text><text x="790" y="1147.3" font-size="13.1" text-anchor="middle">5.0</text><text x="911.4" y="1147.3" font-size="13.1" text-anchor="middle">10.0</text><text x="1032.8" y="1147.3" font-size="13.1" text-anchor="middle">15.0</text><text x="1154.2" y="1147.3" font-size="13.1" text-anchor="middle">20.0</text><text x="910.5" y="1161.4" font-size="13.1" text-anchor="middle">time (ps)</text><path d="M1330.9 724.9V915M1452.3 724.9V915M1573.7 724.9V915M1695.1 724.9V915M1270.2 756.6H1755.8M1270.2 820H1755.8M1270.2 883.3H1755.8" fill="none" stroke="#f0f0f0" stroke-width="1" stroke-dasharray="1 1"/><path d="M1270.2 724.9V915M1391.6 724.9V915M1513 724.9V915M1634.4 724.9V915M1755.8 724.9V915M1270.2 724.9H1755.8M1270.2 788.3H1755.8M1270.2 851.6H1755.8M1270.2 915H1755.8" fill="none" stroke="#e0e0e0" stroke-width="1" stroke-dasharray="1 1"/><clipPath id="cp2bI"><rect x="1269.8" y="720.9" width="487.2" height="198.1"/></clipPath><g clip-path="url(#cp2bI)" fill="#c00000"><rect x="1245.9" y="740.5" width="534.2" height="11.3"/><rect x="1245.9" y="791" width="534.2" height="12"/><rect x="1245.9" y="839" width="534.2" height="11.5"/><rect x="1245.9" y="889.3" width="534.2" height="10.7"/><path d="M1076 747.9L1076.6 748L1077.9 748.4L1079.9 749L1082.3 749.9L1085.3 751L1088.7 752.4L1092.5 754L1096.7 755.8L1101.3 757.7L1106.3 759.8L1111.6 761.9L1117.3 764.1L1123.3 766.3L1129.7 768.5L1136.4 770.6L1143.4 772.7L1150.7 774.6L1158.3 776.5L1166.2 778.1L1174.5 779.7L1183 781.1L1191.8 782.3L1200.9 783.4L1210.3 784.3L1219.9 785.2L1229.8 785.9L1240 786.5L1250.5 787L1261.2 787.4L1272.2 787.7L1283.5 788L1295 788.2L1306.7 788.4L1318.8 788.5L1318.8 799L1306.7 798.9L1295 798.8L1283.5 798.6L1272.2 798.4L1261.2 798.1L1250.5 797.7L1240 797.3L1229.8 796.7L1219.9 796.1L1210.3 795.3L1200.9 794.4L1191.8 793.3L1183 792.1L1174.5 790.7L1166.2 789.2L1158.3 787.5L1150.7 785.6L1143.4 783.6L1136.4 781.5L1129.7 779.2L1123.3 776.9L1117.3 774.6L1111.6 772.2L1106.3 769.9L1101.3 767.7L1096.7 765.6L1092.5 763.6L1088.7 761.9L1085.3 760.4L1082.3 759.1L1079.9 758.2L1077.9 757.5L1076.6 757.1L1076 757Z"/><path d="M1318.8 747.9L1319.4 748L1320.7 748.4L1322.7 749L1325.1 749.9L1328.1 751L1331.5 752.4L1335.3 754L1339.5 755.8L1344.1 757.7L1349.1 759.8L1354.4 761.9L1360.1 764.1L1366.1 766.3L1372.5 768.5L1379.2 770.6L1386.2 772.7L1393.5 774.6L1401.1 776.5L1409 778.1L1417.3 779.7L1425.8 781.1L1434.6 782.3L1443.7 783.4L1453.1 784.3L1462.7 785.2L1472.6 785.9L1482.8 786.5L1493.3 787L1504 787.4L1515 787.7L1526.3 788L1537.8 788.2L1549.5 788.4L1561.6 788.5L1561.6 799L1549.5 798.9L1537.8 798.8L1526.3 798.6L1515 798.4L1504 798.1L1493.3 797.7L1482.8 797.3L1472.6 796.7L1462.7 796.1L1453.1 795.3L1443.7 794.4L1434.6 793.3L1425.8 792.1L1417.3 790.7L1409 789.2L1401.1 787.5L1393.5 785.6L1386.2 783.6L1379.2 781.5L1372.5 779.2L1366.1 776.9L1360.1 774.6L1354.4 772.2L1349.1 769.9L1344.1 767.7L1339.5 765.6L1335.3 763.6L1331.5 761.9L1328.1 760.4L1325.1 759.1L1322.7 758.2L1320.7 757.5L1319.4 757.1L1318.8 757Z"/><path d="M1561.6 747.9L1562.2 748L1563.5 748.4L1565.5 749L1567.9 749.9L1570.9 751L1574.3 752.4L1578.1 754L1582.3 755.8L1586.9 757.7L1591.9 759.8L1597.2 761.9L1602.9 764.1L1608.9 766.3L1615.3 768.5L1622 770.6L1629 772.7L1636.3 774.6L1643.9 776.5L1651.8 778.1L1660.1 779.7L1668.6 781.1L1677.4 782.3L1686.5 783.4L1695.9 784.3L1705.5 785.2L1715.4 785.9L1725.6 786.5L1736.1 787L1746.8 787.4L1757.8 787.7L1769.1 788L1780.6 788.2L1792.3 788.4L1804.4 788.5L1804.4 799L1792.3 798.9L1780.6 798.8L1769.1 798.6L1757.8 798.4L1746.8 798.1L1736.1 797.7L1725.6 797.3L1715.4 796.7L1705.5 796.1L1695.9 795.3L1686.5 794.4L1677.4 793.3L1668.6 792.1L1660.1 790.7L1651.8 789.2L1643.9 787.5L1636.3 785.6L1629 783.6L1622 781.5L1615.3 779.2L1608.9 776.9L1602.9 774.6L1597.2 772.2L1591.9 769.9L1586.9 767.7L1582.3 765.6L1578.1 763.6L1574.3 761.9L1570.9 760.4L1567.9 759.1L1565.5 758.2L1563.5 757.5L1562.2 757.1L1561.6 757Z"/><path d="M1076 747.9L1076.6 748.2L1077.9 748.9L1079.9 750.3L1082.3 752.2L1085.3 754.7L1088.7 757.7L1092.5 761.2L1096.7 765.1L1101.3 769.3L1106.3 773.8L1111.6 778.5L1117.3 783.3L1123.3 788.1L1129.7 792.9L1136.4 797.5L1143.4 802L1150.7 806.2L1158.3 810.2L1166.2 813.9L1174.5 817.2L1183 820.3L1191.8 823L1200.9 825.3L1210.3 827.4L1219.9 829.2L1229.8 830.8L1240 832.1L1250.5 833.1L1261.2 834L1272.2 834.8L1283.5 835.4L1295 835.8L1306.7 836.2L1318.8 836.5L1318.8 846.6L1306.7 846.4L1295 846.1L1283.5 845.7L1272.2 845.2L1261.2 844.5L1250.5 843.8L1240 842.8L1229.8 841.7L1219.9 840.3L1210.3 838.6L1200.9 836.6L1191.8 834.4L1183 831.8L1174.5 828.9L1166.2 825.6L1158.3 821.9L1150.7 818L1143.4 813.7L1136.4 809.2L1129.7 804.4L1123.3 799.5L1117.3 794.5L1111.6 789.5L1106.3 784.6L1101.3 779.8L1096.7 775.3L1092.5 771.2L1088.7 767.5L1085.3 764.2L1082.3 761.6L1079.9 759.5L1077.9 758.1L1076.6 757.2L1076 757Z"/><path d="M1318.8 747.9L1319.4 748.2L1320.7 748.9L1322.7 750.3L1325.1 752.2L1328.1 754.7L1331.5 757.7L1335.3 761.2L1339.5 765.1L1344.1 769.3L1349.1 773.8L1354.4 778.5L1360.1 783.3L1366.1 788.1L1372.5 792.9L1379.2 797.5L1386.2 802L1393.5 806.2L1401.1 810.2L1409 813.9L1417.3 817.2L1425.8 820.3L1434.6 823L1443.7 825.3L1453.1 827.4L1462.7 829.2L1472.6 830.8L1482.8 832.1L1493.3 833.1L1504 834L1515 834.8L1526.3 835.4L1537.8 835.8L1549.5 836.2L1561.6 836.5L1561.6 846.6L1549.5 846.4L1537.8 846.1L1526.3 845.7L1515 845.2L1504 844.5L1493.3 843.8L1482.8 842.8L1472.6 841.7L1462.7 840.3L1453.1 838.6L1443.7 836.6L1434.6 834.4L1425.8 831.8L1417.3 828.9L1409 825.6L1401.1 821.9L1393.5 818L1386.2 813.7L1379.2 809.2L1372.5 804.4L1366.1 799.5L1360.1 794.5L1354.4 789.5L1349.1 784.6L1344.1 779.8L1339.5 775.3L1335.3 771.2L1331.5 767.5L1328.1 764.2L1325.1 761.6L1322.7 759.5L1320.7 758.1L1319.4 757.2L1318.8 757Z"/><path d="M1561.6 747.9L1562.2 748.2L1563.5 748.9L1565.5 750.3L1567.9 752.2L1570.9 754.7L1574.3 757.7L1578.1 761.2L1582.3 765.1L1586.9 769.3L1591.9 773.8L1597.2 778.5L1602.9 783.3L1608.9 788.1L1615.3 792.9L1622 797.5L1629 802L1636.3 806.2L1643.9 810.2L1651.8 813.9L1660.1 817.2L1668.6 820.3L1677.4 823L1686.5 825.3L1695.9 827.4L1705.5 829.2L1715.4 830.8L1725.6 832.1L1736.1 833.1L1746.8 834L1757.8 834.8L1769.1 835.4L1780.6 835.8L1792.3 836.2L1804.4 836.5L1804.4 846.6L1792.3 846.4L1780.6 846.1L1769.1 845.7L1757.8 845.2L1746.8 844.5L1736.1 843.8L1725.6 842.8L1715.4 841.7L1705.5 840.3L1695.9 838.6L1686.5 836.6L1677.4 834.4L1668.6 831.8L1660.1 828.9L1651.8 825.6L1643.9 821.9L1636.3 818L1629 813.7L1622 809.2L1615.3 804.4L1608.9 799.5L1602.9 794.5L1597.2 789.5L1591.9 784.6L1586.9 779.8L1582.3 775.3L1578.1 771.2L1574.3 767.5L1570.9 764.2L1567.9 761.6L1565.5 759.5L1563.5 758.1L1562.2 757.2L1561.6 757Z"/><path d="M1076 747.9L1076.6 748.3L1077.9 749.4L1079.9 751.5L1082.3 754.4L1085.3 758.2L1088.7 762.7L1092.5 768L1096.7 774L1101.3 780.4L1106.3 787.2L1111.6 794.4L1117.3 801.7L1123.3 809L1129.7 816.2L1136.4 823.3L1143.4 830.1L1150.7 836.5L1158.3 842.5L1166.2 848.1L1174.5 853.2L1183 857.8L1191.8 861.9L1200.9 865.6L1210.3 868.7L1219.9 871.4L1229.8 873.8L1240 875.7L1250.5 877.4L1261.2 878.8L1272.2 879.9L1283.5 880.8L1295 881.5L1306.7 882.1L1318.8 882.5L1318.8 893.4L1306.7 893L1295 892.5L1283.5 891.9L1272.2 891.2L1261.2 890.2L1250.5 889L1240 887.6L1229.8 885.8L1219.9 883.7L1210.3 881.2L1200.9 878.2L1191.8 874.8L1183 870.8L1174.5 866.3L1166.2 861.3L1158.3 855.8L1150.7 849.8L1143.4 843.3L1136.4 836.4L1129.7 829.2L1123.3 821.7L1117.3 814.1L1111.6 806.5L1106.3 799L1101.3 791.7L1096.7 784.9L1092.5 778.6L1088.7 772.9L1085.3 768L1082.3 764L1079.9 760.8L1077.9 758.6L1076.6 757.4L1076 757Z"/><path d="M1318.8 747.9L1319.4 748.3L1320.7 749.4L1322.7 751.5L1325.1 754.4L1328.1 758.2L1331.5 762.7L1335.3 768L1339.5 774L1344.1 780.4L1349.1 787.2L1354.4 794.4L1360.1 801.7L1366.1 809L1372.5 816.2L1379.2 823.3L1386.2 830.1L1393.5 836.5L1401.1 842.5L1409 848.1L1417.3 853.2L1425.8 857.8L1434.6 861.9L1443.7 865.6L1453.1 868.7L1462.7 871.4L1472.6 873.8L1482.8 875.7L1493.3 877.4L1504 878.8L1515 879.9L1526.3 880.8L1537.8 881.5L1549.5 882.1L1561.6 882.5L1561.6 893.4L1549.5 893L1537.8 892.5L1526.3 891.9L1515 891.2L1504 890.2L1493.3 889L1482.8 887.6L1472.6 885.8L1462.7 883.7L1453.1 881.2L1443.7 878.2L1434.6 874.8L1425.8 870.8L1417.3 866.3L1409 861.3L1401.1 855.8L1393.5 849.8L1386.2 843.3L1379.2 836.4L1372.5 829.2L1366.1 821.7L1360.1 814.1L1354.4 806.5L1349.1 799L1344.1 791.7L1339.5 784.9L1335.3 778.6L1331.5 772.9L1328.1 768L1325.1 764L1322.7 760.8L1320.7 758.6L1319.4 757.4L1318.8 757Z"/><path d="M1561.6 747.9L1562.2 748.3L1563.5 749.4L1565.5 751.5L1567.9 754.4L1570.9 758.2L1574.3 762.7L1578.1 768L1582.3 774L1586.9 780.4L1591.9 787.2L1597.2 794.4L1602.9 801.7L1608.9 809L1615.3 816.2L1622 823.3L1629 830.1L1636.3 836.5L1643.9 842.5L1651.8 848.1L1660.1 853.2L1668.6 857.8L1677.4 861.9L1686.5 865.6L1695.9 868.7L1705.5 871.4L1715.4 873.8L1725.6 875.7L1736.1 877.4L1746.8 878.8L1757.8 879.9L1769.1 880.8L1780.6 881.5L1792.3 882.1L1804.4 882.5L1804.4 893.4L1792.3 893L1780.6 892.5L1769.1 891.9L1757.8 891.2L1746.8 890.2L1736.1 889L1725.6 887.6L1715.4 885.8L1705.5 883.7L1695.9 881.2L1686.5 878.2L1677.4 874.8L1668.6 870.8L1660.1 866.3L1651.8 861.3L1643.9 855.8L1636.3 849.8L1629 843.3L1622 836.4L1615.3 829.2L1608.9 821.7L1602.9 814.1L1597.2 806.5L1591.9 799L1586.9 791.7L1582.3 784.9L1578.1 778.6L1574.3 772.9L1570.9 768L1567.9 764L1565.5 760.8L1563.5 758.6L1562.2 757.4L1561.6 757Z"/><path d="M1076 788.5L1076.6 788.4L1077.9 788L1079.9 787.3L1082.3 786.4L1085.3 785.1L1088.7 783.6L1092.5 781.9L1096.7 780L1101.3 777.9L1106.3 775.7L1111.6 773.4L1117.3 771L1123.3 768.7L1129.7 766.4L1136.4 764.2L1143.4 762.1L1150.7 760.1L1158.3 758.3L1166.2 756.6L1174.5 755L1183 753.7L1191.8 752.5L1200.9 751.4L1210.3 750.5L1219.9 749.7L1229.8 749.1L1240 748.5L1250.5 748.1L1261.2 747.7L1272.2 747.4L1283.5 747.2L1295 747L1306.7 746.9L1318.8 746.8L1318.8 757L1306.7 757.1L1295 757.3L1283.5 757.5L1272.2 757.8L1261.2 758.1L1250.5 758.5L1240 759L1229.8 759.6L1219.9 760.4L1210.3 761.2L1200.9 762.1L1191.8 763.2L1183 764.5L1174.5 765.9L1166.2 767.4L1158.3 769.1L1150.7 771L1143.4 772.9L1136.4 775L1129.7 777.1L1123.3 779.3L1117.3 781.5L1111.6 783.7L1106.3 785.9L1101.3 788L1096.7 789.9L1092.5 791.7L1088.7 793.4L1085.3 794.7L1082.3 795.9L1079.9 796.8L1077.9 797.4L1076.6 797.7L1076 797.9Z"/><path d="M1318.8 788.5L1319.4 788.4L1320.7 788L1322.7 787.3L1325.1 786.4L1328.1 785.1L1331.5 783.6L1335.3 781.9L1339.5 780L1344.1 777.9L1349.1 775.7L1354.4 773.4L1360.1 771L1366.1 768.7L1372.5 766.4L1379.2 764.2L1386.2 762.1L1393.5 760.1L1401.1 758.3L1409 756.6L1417.3 755L1425.8 753.7L1434.6 752.5L1443.7 751.4L1453.1 750.5L1462.7 749.7L1472.6 749.1L1482.8 748.5L1493.3 748.1L1504 747.7L1515 747.4L1526.3 747.2L1537.8 747L1549.5 746.9L1561.6 746.8L1561.6 757L1549.5 757.1L1537.8 757.3L1526.3 757.5L1515 757.8L1504 758.1L1493.3 758.5L1482.8 759L1472.6 759.6L1462.7 760.4L1453.1 761.2L1443.7 762.1L1434.6 763.2L1425.8 764.5L1417.3 765.9L1409 767.4L1401.1 769.1L1393.5 771L1386.2 772.9L1379.2 775L1372.5 777.1L1366.1 779.3L1360.1 781.5L1354.4 783.7L1349.1 785.9L1344.1 788L1339.5 789.9L1335.3 791.7L1331.5 793.4L1328.1 794.7L1325.1 795.9L1322.7 796.8L1320.7 797.4L1319.4 797.7L1318.8 797.9Z"/><path d="M1561.6 788.5L1562.2 788.4L1563.5 788L1565.5 787.3L1567.9 786.4L1570.9 785.1L1574.3 783.6L1578.1 781.9L1582.3 780L1586.9 777.9L1591.9 775.7L1597.2 773.4L1602.9 771L1608.9 768.7L1615.3 766.4L1622 764.2L1629 762.1L1636.3 760.1L1643.9 758.3L1651.8 756.6L1660.1 755L1668.6 753.7L1677.4 752.5L1686.5 751.4L1695.9 750.5L1705.5 749.7L1715.4 749.1L1725.6 748.5L1736.1 748.1L1746.8 747.7L1757.8 747.4L1769.1 747.2L1780.6 747L1792.3 746.9L1804.4 746.8L1804.4 757L1792.3 757.1L1780.6 757.3L1769.1 757.5L1757.8 757.8L1746.8 758.1L1736.1 758.5L1725.6 759L1715.4 759.6L1705.5 760.4L1695.9 761.2L1686.5 762.1L1677.4 763.2L1668.6 764.5L1660.1 765.9L1651.8 767.4L1643.9 769.1L1636.3 771L1629 772.9L1622 775L1615.3 777.1L1608.9 779.3L1602.9 781.5L1597.2 783.7L1591.9 785.9L1586.9 788L1582.3 789.9L1578.1 791.7L1574.3 793.4L1570.9 794.7L1567.9 795.9L1565.5 796.8L1563.5 797.4L1562.2 797.7L1561.6 797.9Z"/><path d="M1076 796.1L1076.6 796.3L1077.9 796.6L1079.9 797.2L1082.3 798.1L1085.3 799.2L1088.7 800.6L1092.5 802.2L1096.7 804L1101.3 805.9L1106.3 807.9L1111.6 810.1L1117.3 812.3L1123.3 814.5L1129.7 816.6L1136.4 818.7L1143.4 820.8L1150.7 822.7L1158.3 824.5L1166.2 826.2L1174.5 827.7L1183 829.1L1191.8 830.3L1200.9 831.4L1210.3 832.4L1219.9 833.2L1229.8 833.9L1240 834.5L1250.5 835L1261.2 835.4L1272.2 835.7L1283.5 836L1295 836.2L1306.7 836.4L1318.8 836.5L1318.8 846.6L1306.7 846.5L1295 846.4L1283.5 846.2L1272.2 846L1261.2 845.7L1250.5 845.3L1240 844.9L1229.8 844.3L1219.9 843.7L1210.3 842.9L1200.9 842L1191.8 841L1183 839.8L1174.5 838.5L1166.2 837L1158.3 835.3L1150.7 833.5L1143.4 831.5L1136.4 829.4L1129.7 827.3L1123.3 825L1117.3 822.7L1111.6 820.4L1106.3 818.1L1101.3 816L1096.7 813.9L1092.5 812L1088.7 810.3L1085.3 808.8L1082.3 807.6L1079.9 806.7L1077.9 806L1076.6 805.6L1076 805.5Z"/><path d="M1318.8 796.1L1319.4 796.3L1320.7 796.6L1322.7 797.2L1325.1 798.1L1328.1 799.2L1331.5 800.6L1335.3 802.2L1339.5 804L1344.1 805.9L1349.1 807.9L1354.4 810.1L1360.1 812.3L1366.1 814.5L1372.5 816.6L1379.2 818.7L1386.2 820.8L1393.5 822.7L1401.1 824.5L1409 826.2L1417.3 827.7L1425.8 829.1L1434.6 830.3L1443.7 831.4L1453.1 832.4L1462.7 833.2L1472.6 833.9L1482.8 834.5L1493.3 835L1504 835.4L1515 835.7L1526.3 836L1537.8 836.2L1549.5 836.4L1561.6 836.5L1561.6 846.6L1549.5 846.5L1537.8 846.4L1526.3 846.2L1515 846L1504 845.7L1493.3 845.3L1482.8 844.9L1472.6 844.3L1462.7 843.7L1453.1 842.9L1443.7 842L1434.6 841L1425.8 839.8L1417.3 838.5L1409 837L1401.1 835.3L1393.5 833.5L1386.2 831.5L1379.2 829.4L1372.5 827.3L1366.1 825L1360.1 822.7L1354.4 820.4L1349.1 818.1L1344.1 816L1339.5 813.9L1335.3 812L1331.5 810.3L1328.1 808.8L1325.1 807.6L1322.7 806.7L1320.7 806L1319.4 805.6L1318.8 805.5Z"/><path d="M1561.6 796.1L1562.2 796.3L1563.5 796.6L1565.5 797.2L1567.9 798.1L1570.9 799.2L1574.3 800.6L1578.1 802.2L1582.3 804L1586.9 805.9L1591.9 807.9L1597.2 810.1L1602.9 812.3L1608.9 814.5L1615.3 816.6L1622 818.7L1629 820.8L1636.3 822.7L1643.9 824.5L1651.8 826.2L1660.1 827.7L1668.6 829.1L1677.4 830.3L1686.5 831.4L1695.9 832.4L1705.5 833.2L1715.4 833.9L1725.6 834.5L1736.1 835L1746.8 835.4L1757.8 835.7L1769.1 836L1780.6 836.2L1792.3 836.4L1804.4 836.5L1804.4 846.6L1792.3 846.5L1780.6 846.4L1769.1 846.2L1757.8 846L1746.8 845.7L1736.1 845.3L1725.6 844.9L1715.4 844.3L1705.5 843.7L1695.9 842.9L1686.5 842L1677.4 841L1668.6 839.8L1660.1 838.5L1651.8 837L1643.9 835.3L1636.3 833.5L1629 831.5L1622 829.4L1615.3 827.3L1608.9 825L1602.9 822.7L1597.2 820.4L1591.9 818.1L1586.9 816L1582.3 813.9L1578.1 812L1574.3 810.3L1570.9 808.8L1567.9 807.6L1565.5 806.7L1563.5 806L1562.2 805.6L1561.6 805.5Z"/><path d="M1076 796.1L1076.6 796.4L1077.9 797.1L1079.9 798.4L1082.3 800.3L1085.3 802.7L1088.7 805.7L1092.5 809L1096.7 812.9L1101.3 817L1106.3 821.4L1111.6 826L1117.3 830.6L1123.3 835.3L1129.7 840L1136.4 844.5L1143.4 848.9L1150.7 853L1158.3 856.9L1166.2 860.4L1174.5 863.7L1183 866.7L1191.8 869.3L1200.9 871.6L1210.3 873.7L1219.9 875.4L1229.8 876.9L1240 878.2L1250.5 879.2L1261.2 880.1L1272.2 880.8L1283.5 881.4L1295 881.8L1306.7 882.2L1318.8 882.5L1318.8 893.4L1306.7 893.1L1295 892.8L1283.5 892.4L1272.2 891.9L1261.2 891.3L1250.5 890.6L1240 889.6L1229.8 888.5L1219.9 887.1L1210.3 885.5L1200.9 883.6L1191.8 881.4L1183 878.8L1174.5 876L1166.2 872.7L1158.3 869.2L1150.7 865.3L1143.4 861.1L1136.4 856.7L1129.7 852L1123.3 847.2L1117.3 842.3L1111.6 837.4L1106.3 832.5L1101.3 827.9L1096.7 823.5L1092.5 819.4L1088.7 815.8L1085.3 812.6L1082.3 810L1079.9 808L1077.9 806.5L1076.6 805.7L1076 805.5Z"/><path d="M1318.8 796.1L1319.4 796.4L1320.7 797.1L1322.7 798.4L1325.1 800.3L1328.1 802.7L1331.5 805.7L1335.3 809L1339.5 812.9L1344.1 817L1349.1 821.4L1354.4 826L1360.1 830.6L1366.1 835.3L1372.5 840L1379.2 844.5L1386.2 848.9L1393.5 853L1401.1 856.9L1409 860.4L1417.3 863.7L1425.8 866.7L1434.6 869.3L1443.7 871.6L1453.1 873.7L1462.7 875.4L1472.6 876.9L1482.8 878.2L1493.3 879.2L1504 880.1L1515 880.8L1526.3 881.4L1537.8 881.8L1549.5 882.2L1561.6 882.5L1561.6 893.4L1549.5 893.1L1537.8 892.8L1526.3 892.4L1515 891.9L1504 891.3L1493.3 890.6L1482.8 889.6L1472.6 888.5L1462.7 887.1L1453.1 885.5L1443.7 883.6L1434.6 881.4L1425.8 878.8L1417.3 876L1409 872.7L1401.1 869.2L1393.5 865.3L1386.2 861.1L1379.2 856.7L1372.5 852L1366.1 847.2L1360.1 842.3L1354.4 837.4L1349.1 832.5L1344.1 827.9L1339.5 823.5L1335.3 819.4L1331.5 815.8L1328.1 812.6L1325.1 810L1322.7 808L1320.7 806.5L1319.4 805.7L1318.8 805.5Z"/><path d="M1561.6 796.1L1562.2 796.4L1563.5 797.1L1565.5 798.4L1567.9 800.3L1570.9 802.7L1574.3 805.7L1578.1 809L1582.3 812.9L1586.9 817L1591.9 821.4L1597.2 826L1602.9 830.6L1608.9 835.3L1615.3 840L1622 844.5L1629 848.9L1636.3 853L1643.9 856.9L1651.8 860.4L1660.1 863.7L1668.6 866.7L1677.4 869.3L1686.5 871.6L1695.9 873.7L1705.5 875.4L1715.4 876.9L1725.6 878.2L1736.1 879.2L1746.8 880.1L1757.8 880.8L1769.1 881.4L1780.6 881.8L1792.3 882.2L1804.4 882.5L1804.4 893.4L1792.3 893.1L1780.6 892.8L1769.1 892.4L1757.8 891.9L1746.8 891.3L1736.1 890.6L1725.6 889.6L1715.4 888.5L1705.5 887.1L1695.9 885.5L1686.5 883.6L1677.4 881.4L1668.6 878.8L1660.1 876L1651.8 872.7L1643.9 869.2L1636.3 865.3L1629 861.1L1622 856.7L1615.3 852L1608.9 847.2L1602.9 842.3L1597.2 837.4L1591.9 832.5L1586.9 827.9L1582.3 823.5L1578.1 819.4L1574.3 815.8L1570.9 812.6L1567.9 810L1565.5 808L1563.5 806.5L1562.2 805.7L1561.6 805.5Z"/><path d="M1076 836.5L1076.6 836.3L1077.9 835.4L1079.9 834L1082.3 831.9L1085.3 829.3L1088.7 826L1092.5 822.3L1096.7 818.2L1101.3 813.7L1106.3 808.9L1111.6 804L1117.3 798.9L1123.3 793.9L1129.7 789L1136.4 784.3L1143.4 779.7L1150.7 775.4L1158.3 771.5L1166.2 767.8L1174.5 764.5L1183 761.6L1191.8 759L1200.9 756.7L1210.3 754.8L1219.9 753.1L1229.8 751.7L1240 750.6L1250.5 749.6L1261.2 748.8L1272.2 748.2L1283.5 747.7L1295 747.3L1306.7 747L1318.8 746.8L1318.8 757L1306.7 757.3L1295 757.7L1283.5 758.1L1272.2 758.7L1261.2 759.5L1250.5 760.4L1240 761.4L1229.8 762.7L1219.9 764.3L1210.3 766.1L1200.9 768.1L1191.8 770.5L1183 773.2L1174.5 776.3L1166.2 779.6L1158.3 783.3L1150.7 787.2L1143.4 791.5L1136.4 795.9L1129.7 800.6L1123.3 805.3L1117.3 810.1L1111.6 814.9L1106.3 819.6L1101.3 824.1L1096.7 828.4L1092.5 832.3L1088.7 835.7L1085.3 838.7L1082.3 841.2L1079.9 843.1L1077.9 844.5L1076.6 845.2L1076 845.5Z"/><path d="M1318.8 836.5L1319.4 836.3L1320.7 835.4L1322.7 834L1325.1 831.9L1328.1 829.3L1331.5 826L1335.3 822.3L1339.5 818.2L1344.1 813.7L1349.1 808.9L1354.4 804L1360.1 798.9L1366.1 793.9L1372.5 789L1379.2 784.3L1386.2 779.7L1393.5 775.4L1401.1 771.5L1409 767.8L1417.3 764.5L1425.8 761.6L1434.6 759L1443.7 756.7L1453.1 754.8L1462.7 753.1L1472.6 751.7L1482.8 750.6L1493.3 749.6L1504 748.8L1515 748.2L1526.3 747.7L1537.8 747.3L1549.5 747L1561.6 746.8L1561.6 757L1549.5 757.3L1537.8 757.7L1526.3 758.1L1515 758.7L1504 759.5L1493.3 760.4L1482.8 761.4L1472.6 762.7L1462.7 764.3L1453.1 766.1L1443.7 768.1L1434.6 770.5L1425.8 773.2L1417.3 776.3L1409 779.6L1401.1 783.3L1393.5 787.2L1386.2 791.5L1379.2 795.9L1372.5 800.6L1366.1 805.3L1360.1 810.1L1354.4 814.9L1349.1 819.6L1344.1 824.1L1339.5 828.4L1335.3 832.3L1331.5 835.7L1328.1 838.7L1325.1 841.2L1322.7 843.1L1320.7 844.5L1319.4 845.2L1318.8 845.5Z"/><path d="M1561.6 836.5L1562.2 836.3L1563.5 835.4L1565.5 834L1567.9 831.9L1570.9 829.3L1574.3 826L1578.1 822.3L1582.3 818.2L1586.9 813.7L1591.9 808.9L1597.2 804L1602.9 798.9L1608.9 793.9L1615.3 789L1622 784.3L1629 779.7L1636.3 775.4L1643.9 771.5L1651.8 767.8L1660.1 764.5L1668.6 761.6L1677.4 759L1686.5 756.7L1695.9 754.8L1705.5 753.1L1715.4 751.7L1725.6 750.6L1736.1 749.6L1746.8 748.8L1757.8 748.2L1769.1 747.7L1780.6 747.3L1792.3 747L1804.4 746.8L1804.4 757L1792.3 757.3L1780.6 757.7L1769.1 758.1L1757.8 758.7L1746.8 759.5L1736.1 760.4L1725.6 761.4L1715.4 762.7L1705.5 764.3L1695.9 766.1L1686.5 768.1L1677.4 770.5L1668.6 773.2L1660.1 776.3L1651.8 779.6L1643.9 783.3L1636.3 787.2L1629 791.5L1622 795.9L1615.3 800.6L1608.9 805.3L1602.9 810.1L1597.2 814.9L1591.9 819.6L1586.9 824.1L1582.3 828.4L1578.1 832.3L1574.3 835.7L1570.9 838.7L1567.9 841.2L1565.5 843.1L1563.5 844.5L1562.2 845.2L1561.6 845.5Z"/><path d="M1076 836.5L1076.6 836.4L1077.9 836L1079.9 835.3L1082.3 834.4L1085.3 833.1L1088.7 831.7L1092.5 829.9L1096.7 828L1101.3 825.9L1106.3 823.7L1111.6 821.4L1117.3 819.1L1123.3 816.8L1129.7 814.5L1136.4 812.3L1143.4 810.2L1150.7 808.2L1158.3 806.4L1166.2 804.7L1174.5 803.2L1183 801.8L1191.8 800.6L1200.9 799.6L1210.3 798.7L1219.9 797.9L1229.8 797.3L1240 796.7L1250.5 796.3L1261.2 795.9L1272.2 795.6L1283.5 795.4L1295 795.2L1306.7 795.1L1318.8 795L1318.8 805.5L1306.7 805.6L1295 805.8L1283.5 806L1272.2 806.3L1261.2 806.6L1250.5 807L1240 807.5L1229.8 808.1L1219.9 808.8L1210.3 809.6L1200.9 810.5L1191.8 811.6L1183 812.8L1174.5 814.2L1166.2 815.7L1158.3 817.4L1150.7 819.2L1143.4 821.1L1136.4 823.1L1129.7 825.2L1123.3 827.3L1117.3 829.5L1111.6 831.7L1106.3 833.8L1101.3 835.8L1096.7 837.7L1092.5 839.5L1088.7 841.1L1085.3 842.4L1082.3 843.5L1079.9 844.4L1077.9 845L1076.6 845.4L1076 845.5Z"/><path d="M1318.8 836.5L1319.4 836.4L1320.7 836L1322.7 835.3L1325.1 834.4L1328.1 833.1L1331.5 831.7L1335.3 829.9L1339.5 828L1344.1 825.9L1349.1 823.7L1354.4 821.4L1360.1 819.1L1366.1 816.8L1372.5 814.5L1379.2 812.3L1386.2 810.2L1393.5 808.2L1401.1 806.4L1409 804.7L1417.3 803.2L1425.8 801.8L1434.6 800.6L1443.7 799.6L1453.1 798.7L1462.7 797.9L1472.6 797.3L1482.8 796.7L1493.3 796.3L1504 795.9L1515 795.6L1526.3 795.4L1537.8 795.2L1549.5 795.1L1561.6 795L1561.6 805.5L1549.5 805.6L1537.8 805.8L1526.3 806L1515 806.3L1504 806.6L1493.3 807L1482.8 807.5L1472.6 808.1L1462.7 808.8L1453.1 809.6L1443.7 810.5L1434.6 811.6L1425.8 812.8L1417.3 814.2L1409 815.7L1401.1 817.4L1393.5 819.2L1386.2 821.1L1379.2 823.1L1372.5 825.2L1366.1 827.3L1360.1 829.5L1354.4 831.7L1349.1 833.8L1344.1 835.8L1339.5 837.7L1335.3 839.5L1331.5 841.1L1328.1 842.4L1325.1 843.5L1322.7 844.4L1320.7 845L1319.4 845.4L1318.8 845.5Z"/><path d="M1561.6 836.5L1562.2 836.4L1563.5 836L1565.5 835.3L1567.9 834.4L1570.9 833.1L1574.3 831.7L1578.1 829.9L1582.3 828L1586.9 825.9L1591.9 823.7L1597.2 821.4L1602.9 819.1L1608.9 816.8L1615.3 814.5L1622 812.3L1629 810.2L1636.3 808.2L1643.9 806.4L1651.8 804.7L1660.1 803.2L1668.6 801.8L1677.4 800.6L1686.5 799.6L1695.9 798.7L1705.5 797.9L1715.4 797.3L1725.6 796.7L1736.1 796.3L1746.8 795.9L1757.8 795.6L1769.1 795.4L1780.6 795.2L1792.3 795.1L1804.4 795L1804.4 805.5L1792.3 805.6L1780.6 805.8L1769.1 806L1757.8 806.3L1746.8 806.6L1736.1 807L1725.6 807.5L1715.4 808.1L1705.5 808.8L1695.9 809.6L1686.5 810.5L1677.4 811.6L1668.6 812.8L1660.1 814.2L1651.8 815.7L1643.9 817.4L1636.3 819.2L1629 821.1L1622 823.1L1615.3 825.2L1608.9 827.3L1602.9 829.5L1597.2 831.7L1591.9 833.8L1586.9 835.8L1582.3 837.7L1578.1 839.5L1574.3 841.1L1570.9 842.4L1567.9 843.5L1565.5 844.4L1563.5 845L1562.2 845.4L1561.6 845.5Z"/><path d="M1076 843.8L1076.6 843.9L1077.9 844.3L1079.9 844.9L1082.3 845.7L1085.3 846.8L1088.7 848.1L1092.5 849.6L1096.7 851.3L1101.3 853.2L1106.3 855.1L1111.6 857.2L1117.3 859.3L1123.3 861.4L1129.7 863.5L1136.4 865.5L1143.4 867.4L1150.7 869.3L1158.3 871L1166.2 872.6L1174.5 874.1L1183 875.4L1191.8 876.6L1200.9 877.6L1210.3 878.5L1219.9 879.3L1229.8 880L1240 880.6L1250.5 881L1261.2 881.4L1272.2 881.7L1283.5 882L1295 882.2L1306.7 882.4L1318.8 882.5L1318.8 893.4L1306.7 893.2L1295 893.1L1283.5 892.9L1272.2 892.7L1261.2 892.4L1250.5 892.1L1240 891.6L1229.8 891.1L1219.9 890.5L1210.3 889.7L1200.9 888.8L1191.8 887.8L1183 886.6L1174.5 885.3L1166.2 883.8L1158.3 882.2L1150.7 880.4L1143.4 878.5L1136.4 876.4L1129.7 874.3L1123.3 872L1117.3 869.8L1111.6 867.5L1106.3 865.3L1101.3 863.1L1096.7 861.1L1092.5 859.2L1088.7 857.5L1085.3 856.1L1082.3 854.9L1079.9 853.9L1077.9 853.3L1076.6 852.9L1076 852.8Z"/><path d="M1318.8 843.8L1319.4 843.9L1320.7 844.3L1322.7 844.9L1325.1 845.7L1328.1 846.8L1331.5 848.1L1335.3 849.6L1339.5 851.3L1344.1 853.2L1349.1 855.1L1354.4 857.2L1360.1 859.3L1366.1 861.4L1372.5 863.5L1379.2 865.5L1386.2 867.4L1393.5 869.3L1401.1 871L1409 872.6L1417.3 874.1L1425.8 875.4L1434.6 876.6L1443.7 877.6L1453.1 878.5L1462.7 879.3L1472.6 880L1482.8 880.6L1493.3 881L1504 881.4L1515 881.7L1526.3 882L1537.8 882.2L1549.5 882.4L1561.6 882.5L1561.6 893.4L1549.5 893.2L1537.8 893.1L1526.3 892.9L1515 892.7L1504 892.4L1493.3 892.1L1482.8 891.6L1472.6 891.1L1462.7 890.5L1453.1 889.7L1443.7 888.8L1434.6 887.8L1425.8 886.6L1417.3 885.3L1409 883.8L1401.1 882.2L1393.5 880.4L1386.2 878.5L1379.2 876.4L1372.5 874.3L1366.1 872L1360.1 869.8L1354.4 867.5L1349.1 865.3L1344.1 863.1L1339.5 861.1L1335.3 859.2L1331.5 857.5L1328.1 856.1L1325.1 854.9L1322.7 853.9L1320.7 853.3L1319.4 852.9L1318.8 852.8Z"/><path d="M1561.6 843.8L1562.2 843.9L1563.5 844.3L1565.5 844.9L1567.9 845.7L1570.9 846.8L1574.3 848.1L1578.1 849.6L1582.3 851.3L1586.9 853.2L1591.9 855.1L1597.2 857.2L1602.9 859.3L1608.9 861.4L1615.3 863.5L1622 865.5L1629 867.4L1636.3 869.3L1643.9 871L1651.8 872.6L1660.1 874.1L1668.6 875.4L1677.4 876.6L1686.5 877.6L1695.9 878.5L1705.5 879.3L1715.4 880L1725.6 880.6L1736.1 881L1746.8 881.4L1757.8 881.7L1769.1 882L1780.6 882.2L1792.3 882.4L1804.4 882.5L1804.4 893.4L1792.3 893.2L1780.6 893.1L1769.1 892.9L1757.8 892.7L1746.8 892.4L1736.1 892.1L1725.6 891.6L1715.4 891.1L1705.5 890.5L1695.9 889.7L1686.5 888.8L1677.4 887.8L1668.6 886.6L1660.1 885.3L1651.8 883.8L1643.9 882.2L1636.3 880.4L1629 878.5L1622 876.4L1615.3 874.3L1608.9 872L1602.9 869.8L1597.2 867.5L1591.9 865.3L1586.9 863.1L1582.3 861.1L1578.1 859.2L1574.3 857.5L1570.9 856.1L1567.9 854.9L1565.5 853.9L1563.5 853.3L1562.2 852.9L1561.6 852.8Z"/><path d="M1076 882.5L1076.6 882.1L1077.9 880.9L1079.9 878.7L1082.3 875.6L1085.3 871.5L1088.7 866.7L1092.5 861L1096.7 854.7L1101.3 847.9L1106.3 840.7L1111.6 833.3L1117.3 825.7L1123.3 818.1L1129.7 810.7L1136.4 803.5L1143.4 796.6L1150.7 790.1L1158.3 784.1L1166.2 778.6L1174.5 773.7L1183 769.2L1191.8 765.3L1200.9 761.9L1210.3 758.9L1219.9 756.4L1229.8 754.3L1240 752.5L1250.5 751.1L1261.2 749.9L1272.2 748.9L1283.5 748.2L1295 747.6L1306.7 747.1L1318.8 746.8L1318.8 757L1306.7 757.4L1295 758L1283.5 758.7L1272.2 759.6L1261.2 760.8L1250.5 762.1L1240 763.8L1229.8 765.8L1219.9 768.1L1210.3 770.8L1200.9 774L1191.8 777.7L1183 781.8L1174.5 786.4L1166.2 791.5L1158.3 797.1L1150.7 803.2L1143.4 809.6L1136.4 816.5L1129.7 823.5L1123.3 830.8L1117.3 838.2L1111.6 845.5L1106.3 852.6L1101.3 859.5L1096.7 866L1092.5 871.9L1088.7 877.3L1085.3 881.8L1082.3 885.6L1079.9 888.6L1077.9 890.6L1076.6 891.8L1076 892.1Z"/><path d="M1318.8 882.5L1319.4 882.1L1320.7 880.9L1322.7 878.7L1325.1 875.6L1328.1 871.5L1331.5 866.7L1335.3 861L1339.5 854.7L1344.1 847.9L1349.1 840.7L1354.4 833.3L1360.1 825.7L1366.1 818.1L1372.5 810.7L1379.2 803.5L1386.2 796.6L1393.5 790.1L1401.1 784.1L1409 778.6L1417.3 773.7L1425.8 769.2L1434.6 765.3L1443.7 761.9L1453.1 758.9L1462.7 756.4L1472.6 754.3L1482.8 752.5L1493.3 751.1L1504 749.9L1515 748.9L1526.3 748.2L1537.8 747.6L1549.5 747.1L1561.6 746.8L1561.6 757L1549.5 757.4L1537.8 758L1526.3 758.7L1515 759.6L1504 760.8L1493.3 762.1L1482.8 763.8L1472.6 765.8L1462.7 768.1L1453.1 770.8L1443.7 774L1434.6 777.7L1425.8 781.8L1417.3 786.4L1409 791.5L1401.1 797.1L1393.5 803.2L1386.2 809.6L1379.2 816.5L1372.5 823.5L1366.1 830.8L1360.1 838.2L1354.4 845.5L1349.1 852.6L1344.1 859.5L1339.5 866L1335.3 871.9L1331.5 877.3L1328.1 881.8L1325.1 885.6L1322.7 888.6L1320.7 890.6L1319.4 891.8L1318.8 892.1Z"/><path d="M1561.6 882.5L1562.2 882.1L1563.5 880.9L1565.5 878.7L1567.9 875.6L1570.9 871.5L1574.3 866.7L1578.1 861L1582.3 854.7L1586.9 847.9L1591.9 840.7L1597.2 833.3L1602.9 825.7L1608.9 818.1L1615.3 810.7L1622 803.5L1629 796.6L1636.3 790.1L1643.9 784.1L1651.8 778.6L1660.1 773.7L1668.6 769.2L1677.4 765.3L1686.5 761.9L1695.9 758.9L1705.5 756.4L1715.4 754.3L1725.6 752.5L1736.1 751.1L1746.8 749.9L1757.8 748.9L1769.1 748.2L1780.6 747.6L1792.3 747.1L1804.4 746.8L1804.4 757L1792.3 757.4L1780.6 758L1769.1 758.7L1757.8 759.6L1746.8 760.8L1736.1 762.1L1725.6 763.8L1715.4 765.8L1705.5 768.1L1695.9 770.8L1686.5 774L1677.4 777.7L1668.6 781.8L1660.1 786.4L1651.8 791.5L1643.9 797.1L1636.3 803.2L1629 809.6L1622 816.5L1615.3 823.5L1608.9 830.8L1602.9 838.2L1597.2 845.5L1591.9 852.6L1586.9 859.5L1582.3 866L1578.1 871.9L1574.3 877.3L1570.9 881.8L1567.9 885.6L1565.5 888.6L1563.5 890.6L1562.2 891.8L1561.6 892.1Z"/><path d="M1076 882.5L1076.6 882.3L1077.9 881.5L1079.9 880L1082.3 878L1085.3 875.4L1088.7 872.3L1092.5 868.7L1096.7 864.6L1101.3 860.2L1106.3 855.6L1111.6 850.8L1117.3 845.9L1123.3 841L1129.7 836.2L1136.4 831.5L1143.4 827.1L1150.7 822.9L1158.3 819.1L1166.2 815.5L1174.5 812.3L1183 809.4L1191.8 806.9L1200.9 804.7L1210.3 802.8L1219.9 801.2L1229.8 799.8L1240 798.7L1250.5 797.7L1261.2 797L1272.2 796.4L1283.5 795.9L1295 795.5L1306.7 795.2L1318.8 795L1318.8 805.5L1306.7 805.8L1295 806.2L1283.5 806.6L1272.2 807.2L1261.2 807.9L1250.5 808.8L1240 809.8L1229.8 811.1L1219.9 812.6L1210.3 814.4L1200.9 816.4L1191.8 818.7L1183 821.4L1174.5 824.4L1166.2 827.6L1158.3 831.2L1150.7 835.1L1143.4 839.2L1136.4 843.6L1129.7 848.2L1123.3 852.8L1117.3 857.5L1111.6 862.2L1106.3 866.8L1101.3 871.2L1096.7 875.4L1092.5 879.2L1088.7 882.6L1085.3 885.5L1082.3 888L1079.9 889.8L1077.9 891.2L1076.6 891.9L1076 892.1Z"/><path d="M1318.8 882.5L1319.4 882.3L1320.7 881.5L1322.7 880L1325.1 878L1328.1 875.4L1331.5 872.3L1335.3 868.7L1339.5 864.6L1344.1 860.2L1349.1 855.6L1354.4 850.8L1360.1 845.9L1366.1 841L1372.5 836.2L1379.2 831.5L1386.2 827.1L1393.5 822.9L1401.1 819.1L1409 815.5L1417.3 812.3L1425.8 809.4L1434.6 806.9L1443.7 804.7L1453.1 802.8L1462.7 801.2L1472.6 799.8L1482.8 798.7L1493.3 797.7L1504 797L1515 796.4L1526.3 795.9L1537.8 795.5L1549.5 795.2L1561.6 795L1561.6 805.5L1549.5 805.8L1537.8 806.2L1526.3 806.6L1515 807.2L1504 807.9L1493.3 808.8L1482.8 809.8L1472.6 811.1L1462.7 812.6L1453.1 814.4L1443.7 816.4L1434.6 818.7L1425.8 821.4L1417.3 824.4L1409 827.6L1401.1 831.2L1393.5 835.1L1386.2 839.2L1379.2 843.6L1372.5 848.2L1366.1 852.8L1360.1 857.5L1354.4 862.2L1349.1 866.8L1344.1 871.2L1339.5 875.4L1335.3 879.2L1331.5 882.6L1328.1 885.5L1325.1 888L1322.7 889.8L1320.7 891.2L1319.4 891.9L1318.8 892.1Z"/><path d="M1561.6 882.5L1562.2 882.3L1563.5 881.5L1565.5 880L1567.9 878L1570.9 875.4L1574.3 872.3L1578.1 868.7L1582.3 864.6L1586.9 860.2L1591.9 855.6L1597.2 850.8L1602.9 845.9L1608.9 841L1615.3 836.2L1622 831.5L1629 827.1L1636.3 822.9L1643.9 819.1L1651.8 815.5L1660.1 812.3L1668.6 809.4L1677.4 806.9L1686.5 804.7L1695.9 802.8L1705.5 801.2L1715.4 799.8L1725.6 798.7L1736.1 797.7L1746.8 797L1757.8 796.4L1769.1 795.9L1780.6 795.5L1792.3 795.2L1804.4 795L1804.4 805.5L1792.3 805.8L1780.6 806.2L1769.1 806.6L1757.8 807.2L1746.8 807.9L1736.1 808.8L1725.6 809.8L1715.4 811.1L1705.5 812.6L1695.9 814.4L1686.5 816.4L1677.4 818.7L1668.6 821.4L1660.1 824.4L1651.8 827.6L1643.9 831.2L1636.3 835.1L1629 839.2L1622 843.6L1615.3 848.2L1608.9 852.8L1602.9 857.5L1597.2 862.2L1591.9 866.8L1586.9 871.2L1582.3 875.4L1578.1 879.2L1574.3 882.6L1570.9 885.5L1567.9 888L1565.5 889.8L1563.5 891.2L1562.2 891.9L1561.6 892.1Z"/><path d="M1076 882.5L1076.6 882.4L1077.9 882L1079.9 881.4L1082.3 880.5L1085.3 879.3L1088.7 877.9L1092.5 876.2L1096.7 874.4L1101.3 872.4L1106.3 870.3L1111.6 868.1L1117.3 865.8L1123.3 863.6L1129.7 861.4L1136.4 859.3L1143.4 857.3L1150.7 855.4L1158.3 853.6L1166.2 852L1174.5 850.6L1183 849.3L1191.8 848.1L1200.9 847.1L1210.3 846.3L1219.9 845.5L1229.8 844.9L1240 844.4L1250.5 844L1261.2 843.6L1272.2 843.3L1283.5 843.1L1295 842.9L1306.7 842.8L1318.8 842.7L1318.8 852.8L1306.7 852.9L1295 853.1L1283.5 853.3L1272.2 853.6L1261.2 853.9L1250.5 854.3L1240 854.8L1229.8 855.3L1219.9 856L1210.3 856.8L1200.9 857.8L1191.8 858.8L1183 860L1174.5 861.4L1166.2 862.8L1158.3 864.5L1150.7 866.2L1143.4 868.1L1136.4 870.1L1129.7 872.2L1123.3 874.3L1117.3 876.4L1111.6 878.6L1106.3 880.6L1101.3 882.6L1096.7 884.5L1092.5 886.3L1088.7 887.8L1085.3 889.1L1082.3 890.2L1079.9 891.1L1077.9 891.7L1076.6 892L1076 892.1Z"/><path d="M1318.8 882.5L1319.4 882.4L1320.7 882L1322.7 881.4L1325.1 880.5L1328.1 879.3L1331.5 877.9L1335.3 876.2L1339.5 874.4L1344.1 872.4L1349.1 870.3L1354.4 868.1L1360.1 865.8L1366.1 863.6L1372.5 861.4L1379.2 859.3L1386.2 857.3L1393.5 855.4L1401.1 853.6L1409 852L1417.3 850.6L1425.8 849.3L1434.6 848.1L1443.7 847.1L1453.1 846.3L1462.7 845.5L1472.6 844.9L1482.8 844.4L1493.3 844L1504 843.6L1515 843.3L1526.3 843.1L1537.8 842.9L1549.5 842.8L1561.6 842.7L1561.6 852.8L1549.5 852.9L1537.8 853.1L1526.3 853.3L1515 853.6L1504 853.9L1493.3 854.3L1482.8 854.8L1472.6 855.3L1462.7 856L1453.1 856.8L1443.7 857.8L1434.6 858.8L1425.8 860L1417.3 861.4L1409 862.8L1401.1 864.5L1393.5 866.2L1386.2 868.1L1379.2 870.1L1372.5 872.2L1366.1 874.3L1360.1 876.4L1354.4 878.6L1349.1 880.6L1344.1 882.6L1339.5 884.5L1335.3 886.3L1331.5 887.8L1328.1 889.1L1325.1 890.2L1322.7 891.1L1320.7 891.7L1319.4 892L1318.8 892.1Z"/><path d="M1561.6 882.5L1562.2 882.4L1563.5 882L1565.5 881.4L1567.9 880.5L1570.9 879.3L1574.3 877.9L1578.1 876.2L1582.3 874.4L1586.9 872.4L1591.9 870.3L1597.2 868.1L1602.9 865.8L1608.9 863.6L1615.3 861.4L1622 859.3L1629 857.3L1636.3 855.4L1643.9 853.6L1651.8 852L1660.1 850.6L1668.6 849.3L1677.4 848.1L1686.5 847.1L1695.9 846.3L1705.5 845.5L1715.4 844.9L1725.6 844.4L1736.1 844L1746.8 843.6L1757.8 843.3L1769.1 843.1L1780.6 842.9L1792.3 842.8L1804.4 842.7L1804.4 852.8L1792.3 852.9L1780.6 853.1L1769.1 853.3L1757.8 853.6L1746.8 853.9L1736.1 854.3L1725.6 854.8L1715.4 855.3L1705.5 856L1695.9 856.8L1686.5 857.8L1677.4 858.8L1668.6 860L1660.1 861.4L1651.8 862.8L1643.9 864.5L1636.3 866.2L1629 868.1L1622 870.1L1615.3 872.2L1608.9 874.3L1602.9 876.4L1597.2 878.6L1591.9 880.6L1586.9 882.6L1582.3 884.5L1578.1 886.3L1574.3 887.8L1570.9 889.1L1567.9 890.2L1565.5 891.1L1563.5 891.7L1562.2 892L1561.6 892.1Z"/><rect x="1245.9" y="740.5" width="534.2" height="11.3"/><rect x="1245.9" y="791" width="534.2" height="12"/><rect x="1245.9" y="839" width="534.2" height="11.5"/><rect x="1245.9" y="889.3" width="534.2" height="10.7"/><path d="M1076 752L1076.9 752.3L1079.1 753.2L1082.1 754.6L1086 756.7L1090.7 759.2L1096 762.1L1102 765.2L1108.7 768.4L1116 771.5L1123.8 774.4L1132.2 777.2L1141.2 779.5L1150.7 781.6L1160.7 783.3L1171.3 784.7L1182.3 785.8L1193.9 786.6L1205.9 787.2L1218.4 787.6L1231.4 788L1244.8 788.2L1258.7 788.3L1273.1 788.4L1287.9 788.4L1303.1 788.5L1318.8 788.5L1318.8 793.6L1303.1 793.6L1287.9 793.5L1273.1 793.5L1258.7 793.4L1244.8 793.3L1231.4 793L1218.4 792.7L1205.9 792.3L1193.9 791.7L1182.3 790.9L1171.3 789.8L1160.7 788.4L1150.7 786.7L1141.2 784.6L1132.2 782.2L1123.8 779.5L1116 776.5L1108.7 773.4L1102 770.2L1096 767.1L1090.7 764.2L1086 761.7L1082.1 759.6L1079.1 758.1L1076.9 757.3L1076 757Z"/><path d="M1318.8 752L1319.7 752.3L1321.9 753.2L1324.9 754.6L1328.8 756.7L1333.5 759.2L1338.8 762.1L1344.8 765.2L1351.5 768.4L1358.8 771.5L1366.6 774.4L1375 777.2L1384 779.5L1393.5 781.6L1403.5 783.3L1414.1 784.7L1425.1 785.8L1436.7 786.6L1448.7 787.2L1461.2 787.6L1474.2 788L1487.6 788.2L1501.5 788.3L1515.9 788.4L1530.7 788.4L1545.9 788.5L1561.6 788.5L1561.6 793.6L1545.9 793.6L1530.7 793.5L1515.9 793.5L1501.5 793.4L1487.6 793.3L1474.2 793L1461.2 792.7L1448.7 792.3L1436.7 791.7L1425.1 790.9L1414.1 789.8L1403.5 788.4L1393.5 786.7L1384 784.6L1375 782.2L1366.6 779.5L1358.8 776.5L1351.5 773.4L1344.8 770.2L1338.8 767.1L1333.5 764.2L1328.8 761.7L1324.9 759.6L1321.9 758.1L1319.7 757.3L1318.8 757Z"/><path d="M1561.6 752L1562.5 752.3L1564.7 753.2L1567.7 754.6L1571.6 756.7L1576.3 759.2L1581.6 762.1L1587.6 765.2L1594.3 768.4L1601.6 771.5L1609.4 774.4L1617.8 777.2L1626.8 779.5L1636.3 781.6L1646.3 783.3L1656.9 784.7L1667.9 785.8L1679.5 786.6L1691.5 787.2L1704 787.6L1717 788L1730.4 788.2L1744.3 788.3L1758.7 788.4L1773.5 788.4L1788.7 788.5L1804.4 788.5L1804.4 793.6L1788.7 793.6L1773.5 793.5L1758.7 793.5L1744.3 793.4L1730.4 793.3L1717 793L1704 792.7L1691.5 792.3L1679.5 791.7L1667.9 790.9L1656.9 789.8L1646.3 788.4L1636.3 786.7L1626.8 784.6L1617.8 782.2L1609.4 779.5L1601.6 776.5L1594.3 773.4L1587.6 770.2L1581.6 767.1L1576.3 764.2L1571.6 761.7L1567.7 759.6L1564.7 758.1L1562.5 757.3L1561.6 757Z"/><path d="M1076 752L1076.9 752.7L1079.1 754.6L1082.1 758.1L1086 762.8L1090.7 768.6L1096 775.3L1102 782.5L1108.7 789.8L1116 797.1L1123.8 803.9L1132.2 810.2L1141.2 815.8L1150.7 820.5L1160.7 824.5L1171.3 827.7L1182.3 830.2L1193.9 832.1L1205.9 833.5L1218.4 834.5L1231.4 835.2L1244.8 835.7L1258.7 836L1273.1 836.2L1287.9 836.4L1303.1 836.5L1318.8 836.5L1318.8 841.4L1303.1 841.3L1287.9 841.3L1273.1 841.1L1258.7 840.9L1244.8 840.6L1231.4 840.1L1218.4 839.4L1205.9 838.4L1193.9 837L1182.3 835.1L1171.3 832.6L1160.7 829.4L1150.7 825.4L1141.2 820.7L1132.2 815.1L1123.8 808.8L1116 802L1108.7 794.7L1102 787.4L1096 780.2L1090.7 773.6L1086 767.7L1082.1 763L1079.1 759.6L1076.9 757.6L1076 757Z"/><path d="M1318.8 752L1319.7 752.7L1321.9 754.6L1324.9 758.1L1328.8 762.8L1333.5 768.6L1338.8 775.3L1344.8 782.5L1351.5 789.8L1358.8 797.1L1366.6 803.9L1375 810.2L1384 815.8L1393.5 820.5L1403.5 824.5L1414.1 827.7L1425.1 830.2L1436.7 832.1L1448.7 833.5L1461.2 834.5L1474.2 835.2L1487.6 835.7L1501.5 836L1515.9 836.2L1530.7 836.4L1545.9 836.5L1561.6 836.5L1561.6 841.4L1545.9 841.3L1530.7 841.3L1515.9 841.1L1501.5 840.9L1487.6 840.6L1474.2 840.1L1461.2 839.4L1448.7 838.4L1436.7 837L1425.1 835.1L1414.1 832.6L1403.5 829.4L1393.5 825.4L1384 820.7L1375 815.1L1366.6 808.8L1358.8 802L1351.5 794.7L1344.8 787.4L1338.8 780.2L1333.5 773.6L1328.8 767.7L1324.9 763L1321.9 759.6L1319.7 757.6L1318.8 757Z"/><path d="M1561.6 752L1562.5 752.7L1564.7 754.6L1567.7 758.1L1571.6 762.8L1576.3 768.6L1581.6 775.3L1587.6 782.5L1594.3 789.8L1601.6 797.1L1609.4 803.9L1617.8 810.2L1626.8 815.8L1636.3 820.5L1646.3 824.5L1656.9 827.7L1667.9 830.2L1679.5 832.1L1691.5 833.5L1704 834.5L1717 835.2L1730.4 835.7L1744.3 836L1758.7 836.2L1773.5 836.4L1788.7 836.5L1804.4 836.5L1804.4 841.4L1788.7 841.3L1773.5 841.3L1758.7 841.1L1744.3 840.9L1730.4 840.6L1717 840.1L1704 839.4L1691.5 838.4L1679.5 837L1667.9 835.1L1656.9 832.6L1646.3 829.4L1636.3 825.4L1626.8 820.7L1617.8 815.1L1609.4 808.8L1601.6 802L1594.3 794.7L1587.6 787.4L1581.6 780.2L1576.3 773.6L1571.6 767.7L1567.7 763L1564.7 759.6L1562.5 757.6L1561.6 757Z"/><path d="M1076 752L1076.9 753L1079.1 756.1L1082.1 761.3L1086 768.6L1090.7 777.6L1096 787.9L1102 799L1108.7 810.4L1116 821.6L1123.8 832.2L1132.2 841.9L1141.2 850.5L1150.7 857.8L1160.7 863.9L1171.3 868.9L1182.3 872.7L1193.9 875.7L1205.9 877.9L1218.4 879.4L1231.4 880.5L1244.8 881.3L1258.7 881.8L1273.1 882.1L1287.9 882.3L1303.1 882.4L1318.8 882.5L1318.8 887.8L1303.1 887.7L1287.9 887.6L1273.1 887.4L1258.7 887L1244.8 886.5L1231.4 885.8L1218.4 884.7L1205.9 883.1L1193.9 880.9L1182.3 878L1171.3 874.1L1160.7 869.1L1150.7 863L1141.2 855.6L1132.2 847L1123.8 837.3L1116 826.7L1108.7 815.5L1102 804.1L1096 793L1090.7 782.6L1086 773.6L1082.1 766.3L1079.1 761L1076.9 757.9L1076 757Z"/><path d="M1318.8 752L1319.7 753L1321.9 756.1L1324.9 761.3L1328.8 768.6L1333.5 777.6L1338.8 787.9L1344.8 799L1351.5 810.4L1358.8 821.6L1366.6 832.2L1375 841.9L1384 850.5L1393.5 857.8L1403.5 863.9L1414.1 868.9L1425.1 872.7L1436.7 875.7L1448.7 877.9L1461.2 879.4L1474.2 880.5L1487.6 881.3L1501.5 881.8L1515.9 882.1L1530.7 882.3L1545.9 882.4L1561.6 882.5L1561.6 887.8L1545.9 887.7L1530.7 887.6L1515.9 887.4L1501.5 887L1487.6 886.5L1474.2 885.8L1461.2 884.7L1448.7 883.1L1436.7 880.9L1425.1 878L1414.1 874.1L1403.5 869.1L1393.5 863L1384 855.6L1375 847L1366.6 837.3L1358.8 826.7L1351.5 815.5L1344.8 804.1L1338.8 793L1333.5 782.6L1328.8 773.6L1324.9 766.3L1321.9 761L1319.7 757.9L1318.8 757Z"/><path d="M1561.6 752L1562.5 753L1564.7 756.1L1567.7 761.3L1571.6 768.6L1576.3 777.6L1581.6 787.9L1587.6 799L1594.3 810.4L1601.6 821.6L1609.4 832.2L1617.8 841.9L1626.8 850.5L1636.3 857.8L1646.3 863.9L1656.9 868.9L1667.9 872.7L1679.5 875.7L1691.5 877.9L1704 879.4L1717 880.5L1730.4 881.3L1744.3 881.8L1758.7 882.1L1773.5 882.3L1788.7 882.4L1804.4 882.5L1804.4 887.8L1788.7 887.7L1773.5 887.6L1758.7 887.4L1744.3 887L1730.4 886.5L1717 885.8L1704 884.7L1691.5 883.1L1679.5 880.9L1667.9 878L1656.9 874.1L1646.3 869.1L1636.3 863L1626.8 855.6L1617.8 847L1609.4 837.3L1601.6 826.7L1594.3 815.5L1587.6 804.1L1581.6 793L1576.3 782.6L1571.6 773.6L1567.7 766.3L1564.7 761L1562.5 757.9L1561.6 757Z"/><path d="M1076 788.5L1076.9 788.2L1079.1 787.4L1082.1 785.9L1086 783.9L1090.7 781.4L1096 778.5L1102 775.4L1108.7 772.2L1116 769.1L1123.8 766.1L1132.2 763.4L1141.2 761L1150.7 758.9L1160.7 757.2L1171.3 755.9L1182.3 754.8L1193.9 754L1205.9 753.3L1218.4 752.9L1231.4 752.6L1244.8 752.4L1258.7 752.3L1273.1 752.2L1287.9 752.1L1303.1 752.1L1318.8 752L1318.8 757L1303.1 757L1287.9 757.1L1273.1 757.1L1258.7 757.2L1244.8 757.3L1231.4 757.6L1218.4 757.9L1205.9 758.3L1193.9 758.9L1182.3 759.7L1171.3 760.8L1160.7 762.2L1150.7 763.9L1141.2 766L1132.2 768.4L1123.8 771.1L1116 774.1L1108.7 777.2L1102 780.4L1096 783.5L1090.7 786.4L1086 788.9L1082.1 791L1079.1 792.5L1076.9 793.3L1076 793.6Z"/><path d="M1318.8 788.5L1319.7 788.2L1321.9 787.4L1324.9 785.9L1328.8 783.9L1333.5 781.4L1338.8 778.5L1344.8 775.4L1351.5 772.2L1358.8 769.1L1366.6 766.1L1375 763.4L1384 761L1393.5 758.9L1403.5 757.2L1414.1 755.9L1425.1 754.8L1436.7 754L1448.7 753.3L1461.2 752.9L1474.2 752.6L1487.6 752.4L1501.5 752.3L1515.9 752.2L1530.7 752.1L1545.9 752.1L1561.6 752L1561.6 757L1545.9 757L1530.7 757.1L1515.9 757.1L1501.5 757.2L1487.6 757.3L1474.2 757.6L1461.2 757.9L1448.7 758.3L1436.7 758.9L1425.1 759.7L1414.1 760.8L1403.5 762.2L1393.5 763.9L1384 766L1375 768.4L1366.6 771.1L1358.8 774.1L1351.5 777.2L1344.8 780.4L1338.8 783.5L1333.5 786.4L1328.8 788.9L1324.9 791L1321.9 792.5L1319.7 793.3L1318.8 793.6Z"/><path d="M1561.6 788.5L1562.5 788.2L1564.7 787.4L1567.7 785.9L1571.6 783.9L1576.3 781.4L1581.6 778.5L1587.6 775.4L1594.3 772.2L1601.6 769.1L1609.4 766.1L1617.8 763.4L1626.8 761L1636.3 758.9L1646.3 757.2L1656.9 755.9L1667.9 754.8L1679.5 754L1691.5 753.3L1704 752.9L1717 752.6L1730.4 752.4L1744.3 752.3L1758.7 752.2L1773.5 752.1L1788.7 752.1L1804.4 752L1804.4 757L1788.7 757L1773.5 757.1L1758.7 757.1L1744.3 757.2L1730.4 757.3L1717 757.6L1704 757.9L1691.5 758.3L1679.5 758.9L1667.9 759.7L1656.9 760.8L1646.3 762.2L1636.3 763.9L1626.8 766L1617.8 768.4L1609.4 771.1L1601.6 774.1L1594.3 777.2L1587.6 780.4L1581.6 783.5L1576.3 786.4L1571.6 788.9L1567.7 791L1564.7 792.5L1562.5 793.3L1561.6 793.6Z"/><path d="M1076 800.4L1076.9 800.7L1079.1 801.5L1082.1 803L1086 805L1090.7 807.5L1096 810.3L1102 813.4L1108.7 816.5L1116 819.6L1123.8 822.6L1132.2 825.3L1141.2 827.6L1150.7 829.7L1160.7 831.4L1171.3 832.7L1182.3 833.8L1193.9 834.6L1205.9 835.2L1218.4 835.7L1231.4 836L1244.8 836.2L1258.7 836.3L1273.1 836.4L1287.9 836.4L1303.1 836.5L1318.8 836.5L1318.8 841.4L1303.1 841.4L1287.9 841.3L1273.1 841.3L1258.7 841.2L1244.8 841.1L1231.4 840.9L1218.4 840.5L1205.9 840.1L1193.9 839.5L1182.3 838.7L1171.3 837.6L1160.7 836.3L1150.7 834.6L1141.2 832.6L1132.2 830.2L1123.8 827.5L1116 824.6L1108.7 821.6L1102 818.4L1096 815.4L1090.7 812.5L1086 810.1L1082.1 808.1L1079.1 806.6L1076.9 805.8L1076 805.5Z"/><path d="M1318.8 800.4L1319.7 800.7L1321.9 801.5L1324.9 803L1328.8 805L1333.5 807.5L1338.8 810.3L1344.8 813.4L1351.5 816.5L1358.8 819.6L1366.6 822.6L1375 825.3L1384 827.6L1393.5 829.7L1403.5 831.4L1414.1 832.7L1425.1 833.8L1436.7 834.6L1448.7 835.2L1461.2 835.7L1474.2 836L1487.6 836.2L1501.5 836.3L1515.9 836.4L1530.7 836.4L1545.9 836.5L1561.6 836.5L1561.6 841.4L1545.9 841.4L1530.7 841.3L1515.9 841.3L1501.5 841.2L1487.6 841.1L1474.2 840.9L1461.2 840.5L1448.7 840.1L1436.7 839.5L1425.1 838.7L1414.1 837.6L1403.5 836.3L1393.5 834.6L1384 832.6L1375 830.2L1366.6 827.5L1358.8 824.6L1351.5 821.6L1344.8 818.4L1338.8 815.4L1333.5 812.5L1328.8 810.1L1324.9 808.1L1321.9 806.6L1319.7 805.8L1318.8 805.5Z"/><path d="M1561.6 800.4L1562.5 800.7L1564.7 801.5L1567.7 803L1571.6 805L1576.3 807.5L1581.6 810.3L1587.6 813.4L1594.3 816.5L1601.6 819.6L1609.4 822.6L1617.8 825.3L1626.8 827.6L1636.3 829.7L1646.3 831.4L1656.9 832.7L1667.9 833.8L1679.5 834.6L1691.5 835.2L1704 835.7L1717 836L1730.4 836.2L1744.3 836.3L1758.7 836.4L1773.5 836.4L1788.7 836.5L1804.4 836.5L1804.4 841.4L1788.7 841.4L1773.5 841.3L1758.7 841.3L1744.3 841.2L1730.4 841.1L1717 840.9L1704 840.5L1691.5 840.1L1679.5 839.5L1667.9 838.7L1656.9 837.6L1646.3 836.3L1636.3 834.6L1626.8 832.6L1617.8 830.2L1609.4 827.5L1601.6 824.6L1594.3 821.6L1587.6 818.4L1581.6 815.4L1576.3 812.5L1571.6 810.1L1567.7 808.1L1564.7 806.6L1562.5 805.8L1561.6 805.5Z"/><path d="M1076 800.4L1076.9 801L1079.1 802.9L1082.1 806.2L1086 810.8L1090.7 816.5L1096 823L1102 830L1108.7 837.1L1116 844.2L1123.8 850.8L1132.2 856.9L1141.2 862.3L1150.7 867L1160.7 870.8L1171.3 873.9L1182.3 876.4L1193.9 878.2L1205.9 879.6L1218.4 880.6L1231.4 881.3L1244.8 881.7L1258.7 882L1273.1 882.3L1287.9 882.4L1303.1 882.5L1318.8 882.5L1318.8 887.8L1303.1 887.7L1287.9 887.6L1273.1 887.5L1258.7 887.3L1244.8 887L1231.4 886.5L1218.4 885.8L1205.9 884.8L1193.9 883.5L1182.3 881.6L1171.3 879.2L1160.7 876L1150.7 872.2L1141.2 867.6L1132.2 862.1L1123.8 856L1116 849.3L1108.7 842.3L1102 835.1L1096 828.1L1090.7 821.6L1086 816L1082.1 811.3L1079.1 808L1076.9 806.1L1076 805.5Z"/><path d="M1318.8 800.4L1319.7 801L1321.9 802.9L1324.9 806.2L1328.8 810.8L1333.5 816.5L1338.8 823L1344.8 830L1351.5 837.1L1358.8 844.2L1366.6 850.8L1375 856.9L1384 862.3L1393.5 867L1403.5 870.8L1414.1 873.9L1425.1 876.4L1436.7 878.2L1448.7 879.6L1461.2 880.6L1474.2 881.3L1487.6 881.7L1501.5 882L1515.9 882.3L1530.7 882.4L1545.9 882.5L1561.6 882.5L1561.6 887.8L1545.9 887.7L1530.7 887.6L1515.9 887.5L1501.5 887.3L1487.6 887L1474.2 886.5L1461.2 885.8L1448.7 884.8L1436.7 883.5L1425.1 881.6L1414.1 879.2L1403.5 876L1393.5 872.2L1384 867.6L1375 862.1L1366.6 856L1358.8 849.3L1351.5 842.3L1344.8 835.1L1338.8 828.1L1333.5 821.6L1328.8 816L1324.9 811.3L1321.9 808L1319.7 806.1L1318.8 805.5Z"/><path d="M1561.6 800.4L1562.5 801L1564.7 802.9L1567.7 806.2L1571.6 810.8L1576.3 816.5L1581.6 823L1587.6 830L1594.3 837.1L1601.6 844.2L1609.4 850.8L1617.8 856.9L1626.8 862.3L1636.3 867L1646.3 870.8L1656.9 873.9L1667.9 876.4L1679.5 878.2L1691.5 879.6L1704 880.6L1717 881.3L1730.4 881.7L1744.3 882L1758.7 882.3L1773.5 882.4L1788.7 882.5L1804.4 882.5L1804.4 887.8L1788.7 887.7L1773.5 887.6L1758.7 887.5L1744.3 887.3L1730.4 887L1717 886.5L1704 885.8L1691.5 884.8L1679.5 883.5L1667.9 881.6L1656.9 879.2L1646.3 876L1636.3 872.2L1626.8 867.6L1617.8 862.1L1609.4 856L1601.6 849.3L1594.3 842.3L1587.6 835.1L1581.6 828.1L1576.3 821.6L1571.6 816L1567.7 811.3L1564.7 808L1562.5 806.1L1561.6 805.5Z"/><path d="M1076 836.5L1076.9 835.9L1079.1 833.9L1082.1 830.5L1086 825.8L1090.7 819.9L1096 813.3L1102 806.1L1108.7 798.7L1116 791.5L1123.8 784.6L1132.2 778.3L1141.2 772.8L1150.7 768L1160.7 764.1L1171.3 760.9L1182.3 758.4L1193.9 756.5L1205.9 755L1218.4 754L1231.4 753.3L1244.8 752.8L1258.7 752.5L1273.1 752.3L1287.9 752.2L1303.1 752.1L1318.8 752L1318.8 757L1303.1 757L1287.9 757.1L1273.1 757.3L1258.7 757.5L1244.8 757.8L1231.4 758.3L1218.4 759L1205.9 760L1193.9 761.4L1182.3 763.3L1171.3 765.8L1160.7 769L1150.7 773L1141.2 777.7L1132.2 783.3L1123.8 789.5L1116 796.4L1108.7 803.6L1102 811L1096 818.2L1090.7 824.8L1086 830.7L1082.1 835.4L1079.1 838.8L1076.9 840.8L1076 841.4Z"/><path d="M1318.8 836.5L1319.7 835.9L1321.9 833.9L1324.9 830.5L1328.8 825.8L1333.5 819.9L1338.8 813.3L1344.8 806.1L1351.5 798.7L1358.8 791.5L1366.6 784.6L1375 778.3L1384 772.8L1393.5 768L1403.5 764.1L1414.1 760.9L1425.1 758.4L1436.7 756.5L1448.7 755L1461.2 754L1474.2 753.3L1487.6 752.8L1501.5 752.5L1515.9 752.3L1530.7 752.2L1545.9 752.1L1561.6 752L1561.6 757L1545.9 757L1530.7 757.1L1515.9 757.3L1501.5 757.5L1487.6 757.8L1474.2 758.3L1461.2 759L1448.7 760L1436.7 761.4L1425.1 763.3L1414.1 765.8L1403.5 769L1393.5 773L1384 777.7L1375 783.3L1366.6 789.5L1358.8 796.4L1351.5 803.6L1344.8 811L1338.8 818.2L1333.5 824.8L1328.8 830.7L1324.9 835.4L1321.9 838.8L1319.7 840.8L1318.8 841.4Z"/><path d="M1561.6 836.5L1562.5 835.9L1564.7 833.9L1567.7 830.5L1571.6 825.8L1576.3 819.9L1581.6 813.3L1587.6 806.1L1594.3 798.7L1601.6 791.5L1609.4 784.6L1617.8 778.3L1626.8 772.8L1636.3 768L1646.3 764.1L1656.9 760.9L1667.9 758.4L1679.5 756.5L1691.5 755L1704 754L1717 753.3L1730.4 752.8L1744.3 752.5L1758.7 752.3L1773.5 752.2L1788.7 752.1L1804.4 752L1804.4 757L1788.7 757L1773.5 757.1L1758.7 757.3L1744.3 757.5L1730.4 757.8L1717 758.3L1704 759L1691.5 760L1679.5 761.4L1667.9 763.3L1656.9 765.8L1646.3 769L1636.3 773L1626.8 777.7L1617.8 783.3L1609.4 789.5L1601.6 796.4L1594.3 803.6L1587.6 811L1581.6 818.2L1576.3 824.8L1571.6 830.7L1567.7 835.4L1564.7 838.8L1562.5 840.8L1561.6 841.4Z"/><path d="M1076 836.5L1076.9 836.2L1079.1 835.4L1082.1 833.9L1086 831.9L1090.7 829.4L1096 826.6L1102 823.5L1108.7 820.4L1116 817.3L1123.8 814.3L1132.2 811.6L1141.2 809.3L1150.7 807.2L1160.7 805.5L1171.3 804.2L1182.3 803.1L1193.9 802.3L1205.9 801.7L1218.4 801.2L1231.4 800.9L1244.8 800.7L1258.7 800.6L1273.1 800.5L1287.9 800.5L1303.1 800.4L1318.8 800.4L1318.8 805.5L1303.1 805.5L1287.9 805.6L1273.1 805.6L1258.7 805.7L1244.8 805.8L1231.4 806L1218.4 806.3L1205.9 806.8L1193.9 807.4L1182.3 808.2L1171.3 809.3L1160.7 810.6L1150.7 812.3L1141.2 814.3L1132.2 816.7L1123.8 819.3L1116 822.3L1108.7 825.3L1102 828.5L1096 831.5L1090.7 834.4L1086 836.8L1082.1 838.8L1079.1 840.3L1076.9 841.1L1076 841.4Z"/><path d="M1318.8 836.5L1319.7 836.2L1321.9 835.4L1324.9 833.9L1328.8 831.9L1333.5 829.4L1338.8 826.6L1344.8 823.5L1351.5 820.4L1358.8 817.3L1366.6 814.3L1375 811.6L1384 809.3L1393.5 807.2L1403.5 805.5L1414.1 804.2L1425.1 803.1L1436.7 802.3L1448.7 801.7L1461.2 801.2L1474.2 800.9L1487.6 800.7L1501.5 800.6L1515.9 800.5L1530.7 800.5L1545.9 800.4L1561.6 800.4L1561.6 805.5L1545.9 805.5L1530.7 805.6L1515.9 805.6L1501.5 805.7L1487.6 805.8L1474.2 806L1461.2 806.3L1448.7 806.8L1436.7 807.4L1425.1 808.2L1414.1 809.3L1403.5 810.6L1393.5 812.3L1384 814.3L1375 816.7L1366.6 819.3L1358.8 822.3L1351.5 825.3L1344.8 828.5L1338.8 831.5L1333.5 834.4L1328.8 836.8L1324.9 838.8L1321.9 840.3L1319.7 841.1L1318.8 841.4Z"/><path d="M1561.6 836.5L1562.5 836.2L1564.7 835.4L1567.7 833.9L1571.6 831.9L1576.3 829.4L1581.6 826.6L1587.6 823.5L1594.3 820.4L1601.6 817.3L1609.4 814.3L1617.8 811.6L1626.8 809.3L1636.3 807.2L1646.3 805.5L1656.9 804.2L1667.9 803.1L1679.5 802.3L1691.5 801.7L1704 801.2L1717 800.9L1730.4 800.7L1744.3 800.6L1758.7 800.5L1773.5 800.5L1788.7 800.4L1804.4 800.4L1804.4 805.5L1788.7 805.5L1773.5 805.6L1758.7 805.6L1744.3 805.7L1730.4 805.8L1717 806L1704 806.3L1691.5 806.8L1679.5 807.4L1667.9 808.2L1656.9 809.3L1646.3 810.6L1636.3 812.3L1626.8 814.3L1617.8 816.7L1609.4 819.3L1601.6 822.3L1594.3 825.3L1587.6 828.5L1581.6 831.5L1576.3 834.4L1571.6 836.8L1567.7 838.8L1564.7 840.3L1562.5 841.1L1561.6 841.4Z"/><path d="M1076 847.9L1076.9 848.2L1079.1 849L1082.1 850.4L1086 852.3L1090.7 854.7L1096 857.4L1102 860.4L1108.7 863.4L1116 866.3L1123.8 869.2L1132.2 871.7L1141.2 874L1150.7 876L1160.7 877.6L1171.3 878.9L1182.3 879.9L1193.9 880.7L1205.9 881.3L1218.4 881.7L1231.4 882L1244.8 882.2L1258.7 882.3L1273.1 882.4L1287.9 882.4L1303.1 882.5L1318.8 882.5L1318.8 887.8L1303.1 887.7L1287.9 887.7L1273.1 887.6L1258.7 887.6L1244.8 887.4L1231.4 887.2L1218.4 886.9L1205.9 886.5L1193.9 885.9L1182.3 885.1L1171.3 884.1L1160.7 882.8L1150.7 881.1L1141.2 879.2L1132.2 876.9L1123.8 874.3L1116 871.4L1108.7 868.4L1102 865.4L1096 862.4L1090.7 859.7L1086 857.2L1082.1 855.3L1079.1 853.9L1076.9 853L1076 852.8Z"/><path d="M1318.8 847.9L1319.7 848.2L1321.9 849L1324.9 850.4L1328.8 852.3L1333.5 854.7L1338.8 857.4L1344.8 860.4L1351.5 863.4L1358.8 866.3L1366.6 869.2L1375 871.7L1384 874L1393.5 876L1403.5 877.6L1414.1 878.9L1425.1 879.9L1436.7 880.7L1448.7 881.3L1461.2 881.7L1474.2 882L1487.6 882.2L1501.5 882.3L1515.9 882.4L1530.7 882.4L1545.9 882.5L1561.6 882.5L1561.6 887.8L1545.9 887.7L1530.7 887.7L1515.9 887.6L1501.5 887.6L1487.6 887.4L1474.2 887.2L1461.2 886.9L1448.7 886.5L1436.7 885.9L1425.1 885.1L1414.1 884.1L1403.5 882.8L1393.5 881.1L1384 879.2L1375 876.9L1366.6 874.3L1358.8 871.4L1351.5 868.4L1344.8 865.4L1338.8 862.4L1333.5 859.7L1328.8 857.2L1324.9 855.3L1321.9 853.9L1319.7 853L1318.8 852.8Z"/><path d="M1561.6 847.9L1562.5 848.2L1564.7 849L1567.7 850.4L1571.6 852.3L1576.3 854.7L1581.6 857.4L1587.6 860.4L1594.3 863.4L1601.6 866.3L1609.4 869.2L1617.8 871.7L1626.8 874L1636.3 876L1646.3 877.6L1656.9 878.9L1667.9 879.9L1679.5 880.7L1691.5 881.3L1704 881.7L1717 882L1730.4 882.2L1744.3 882.3L1758.7 882.4L1773.5 882.4L1788.7 882.5L1804.4 882.5L1804.4 887.8L1788.7 887.7L1773.5 887.7L1758.7 887.6L1744.3 887.6L1730.4 887.4L1717 887.2L1704 886.9L1691.5 886.5L1679.5 885.9L1667.9 885.1L1656.9 884.1L1646.3 882.8L1636.3 881.1L1626.8 879.2L1617.8 876.9L1609.4 874.3L1601.6 871.4L1594.3 868.4L1587.6 865.4L1581.6 862.4L1576.3 859.7L1571.6 857.2L1567.7 855.3L1564.7 853.9L1562.5 853L1561.6 852.8Z"/><path d="M1076 882.5L1076.9 881.6L1079.1 878.5L1082.1 873.2L1086 865.9L1090.7 856.9L1096 846.6L1102 835.5L1108.7 824.2L1116 813L1123.8 802.4L1132.2 792.7L1141.2 784.1L1150.7 776.7L1160.7 770.6L1171.3 765.7L1182.3 761.8L1193.9 758.9L1205.9 756.7L1218.4 755.1L1231.4 754L1244.8 753.3L1258.7 752.8L1273.1 752.4L1287.9 752.2L1303.1 752.1L1318.8 752L1318.8 757L1303.1 757.1L1287.9 757.2L1273.1 757.4L1258.7 757.7L1244.8 758.2L1231.4 759L1218.4 760.1L1205.9 761.6L1193.9 763.8L1182.3 766.8L1171.3 770.7L1160.7 775.6L1150.7 781.7L1141.2 789.1L1132.2 797.7L1123.8 807.4L1116 818.1L1108.7 829.3L1102 840.7L1096 851.8L1090.7 862.1L1086 871.1L1082.1 878.5L1079.1 883.7L1076.9 886.8L1076 887.8Z"/><path d="M1318.8 882.5L1319.7 881.6L1321.9 878.5L1324.9 873.2L1328.8 865.9L1333.5 856.9L1338.8 846.6L1344.8 835.5L1351.5 824.2L1358.8 813L1366.6 802.4L1375 792.7L1384 784.1L1393.5 776.7L1403.5 770.6L1414.1 765.7L1425.1 761.8L1436.7 758.9L1448.7 756.7L1461.2 755.1L1474.2 754L1487.6 753.3L1501.5 752.8L1515.9 752.4L1530.7 752.2L1545.9 752.1L1561.6 752L1561.6 757L1545.9 757.1L1530.7 757.2L1515.9 757.4L1501.5 757.7L1487.6 758.2L1474.2 759L1461.2 760.1L1448.7 761.6L1436.7 763.8L1425.1 766.8L1414.1 770.7L1403.5 775.6L1393.5 781.7L1384 789.1L1375 797.7L1366.6 807.4L1358.8 818.1L1351.5 829.3L1344.8 840.7L1338.8 851.8L1333.5 862.1L1328.8 871.1L1324.9 878.5L1321.9 883.7L1319.7 886.8L1318.8 887.8Z"/><path d="M1561.6 882.5L1562.5 881.6L1564.7 878.5L1567.7 873.2L1571.6 865.9L1576.3 856.9L1581.6 846.6L1587.6 835.5L1594.3 824.2L1601.6 813L1609.4 802.4L1617.8 792.7L1626.8 784.1L1636.3 776.7L1646.3 770.6L1656.9 765.7L1667.9 761.8L1679.5 758.9L1691.5 756.7L1704 755.1L1717 754L1730.4 753.3L1744.3 752.8L1758.7 752.4L1773.5 752.2L1788.7 752.1L1804.4 752L1804.4 757L1788.7 757.1L1773.5 757.2L1758.7 757.4L1744.3 757.7L1730.4 758.2L1717 759L1704 760.1L1691.5 761.6L1679.5 763.8L1667.9 766.8L1656.9 770.7L1646.3 775.6L1636.3 781.7L1626.8 789.1L1617.8 797.7L1609.4 807.4L1601.6 818.1L1594.3 829.3L1587.6 840.7L1581.6 851.8L1576.3 862.1L1571.6 871.1L1567.7 878.5L1564.7 883.7L1562.5 886.8L1561.6 887.8Z"/><path d="M1076 882.5L1076.9 881.9L1079.1 880L1082.1 876.7L1086 872.1L1090.7 866.4L1096 859.9L1102 852.9L1108.7 845.8L1116 838.7L1123.8 832.1L1132.2 826L1141.2 820.6L1150.7 815.9L1160.7 812.1L1171.3 809L1182.3 806.5L1193.9 804.7L1205.9 803.3L1218.4 802.3L1231.4 801.6L1244.8 801.2L1258.7 800.9L1273.1 800.6L1287.9 800.5L1303.1 800.4L1318.8 800.4L1318.8 805.5L1303.1 805.5L1287.9 805.6L1273.1 805.7L1258.7 806L1244.8 806.3L1231.4 806.7L1218.4 807.4L1205.9 808.4L1193.9 809.8L1182.3 811.7L1171.3 814.1L1160.7 817.2L1150.7 821.1L1141.2 825.7L1132.2 831.1L1123.8 837.2L1116 843.9L1108.7 851L1102 858.1L1096 865.1L1090.7 871.6L1086 877.3L1082.1 881.9L1079.1 885.2L1076.9 887.2L1076 887.8Z"/><path d="M1318.8 882.5L1319.7 881.9L1321.9 880L1324.9 876.7L1328.8 872.1L1333.5 866.4L1338.8 859.9L1344.8 852.9L1351.5 845.8L1358.8 838.7L1366.6 832.1L1375 826L1384 820.6L1393.5 815.9L1403.5 812.1L1414.1 809L1425.1 806.5L1436.7 804.7L1448.7 803.3L1461.2 802.3L1474.2 801.6L1487.6 801.2L1501.5 800.9L1515.9 800.6L1530.7 800.5L1545.9 800.4L1561.6 800.4L1561.6 805.5L1545.9 805.5L1530.7 805.6L1515.9 805.7L1501.5 806L1487.6 806.3L1474.2 806.7L1461.2 807.4L1448.7 808.4L1436.7 809.8L1425.1 811.7L1414.1 814.1L1403.5 817.2L1393.5 821.1L1384 825.7L1375 831.1L1366.6 837.2L1358.8 843.9L1351.5 851L1344.8 858.1L1338.8 865.1L1333.5 871.6L1328.8 877.3L1324.9 881.9L1321.9 885.2L1319.7 887.2L1318.8 887.8Z"/><path d="M1561.6 882.5L1562.5 881.9L1564.7 880L1567.7 876.7L1571.6 872.1L1576.3 866.4L1581.6 859.9L1587.6 852.9L1594.3 845.8L1601.6 838.7L1609.4 832.1L1617.8 826L1626.8 820.6L1636.3 815.9L1646.3 812.1L1656.9 809L1667.9 806.5L1679.5 804.7L1691.5 803.3L1704 802.3L1717 801.6L1730.4 801.2L1744.3 800.9L1758.7 800.6L1773.5 800.5L1788.7 800.4L1804.4 800.4L1804.4 805.5L1788.7 805.5L1773.5 805.6L1758.7 805.7L1744.3 806L1730.4 806.3L1717 806.7L1704 807.4L1691.5 808.4L1679.5 809.8L1667.9 811.7L1656.9 814.1L1646.3 817.2L1636.3 821.1L1626.8 825.7L1617.8 831.1L1609.4 837.2L1601.6 843.9L1594.3 851L1587.6 858.1L1581.6 865.1L1576.3 871.6L1571.6 877.3L1567.7 881.9L1564.7 885.2L1562.5 887.2L1561.6 887.8Z"/><path d="M1076 882.5L1076.9 882.3L1079.1 881.4L1082.1 880L1086 878.1L1090.7 875.7L1096 873L1102 870L1108.7 867L1116 864.1L1123.8 861.2L1132.2 858.7L1141.2 856.4L1150.7 854.5L1160.7 852.8L1171.3 851.5L1182.3 850.5L1193.9 849.7L1205.9 849.1L1218.4 848.7L1231.4 848.4L1244.8 848.2L1258.7 848.1L1273.1 848L1287.9 848L1303.1 847.9L1318.8 847.9L1318.8 852.8L1303.1 852.8L1287.9 852.9L1273.1 852.9L1258.7 853L1244.8 853.1L1231.4 853.3L1218.4 853.6L1205.9 854L1193.9 854.6L1182.3 855.4L1171.3 856.5L1160.7 857.8L1150.7 859.4L1141.2 861.4L1132.2 863.7L1123.8 866.3L1116 869.1L1108.7 872.1L1102 875.2L1096 878.1L1090.7 880.9L1086 883.3L1082.1 885.3L1079.1 886.7L1076.9 887.5L1076 887.8Z"/><path d="M1318.8 882.5L1319.7 882.3L1321.9 881.4L1324.9 880L1328.8 878.1L1333.5 875.7L1338.8 873L1344.8 870L1351.5 867L1358.8 864.1L1366.6 861.2L1375 858.7L1384 856.4L1393.5 854.5L1403.5 852.8L1414.1 851.5L1425.1 850.5L1436.7 849.7L1448.7 849.1L1461.2 848.7L1474.2 848.4L1487.6 848.2L1501.5 848.1L1515.9 848L1530.7 848L1545.9 847.9L1561.6 847.9L1561.6 852.8L1545.9 852.8L1530.7 852.9L1515.9 852.9L1501.5 853L1487.6 853.1L1474.2 853.3L1461.2 853.6L1448.7 854L1436.7 854.6L1425.1 855.4L1414.1 856.5L1403.5 857.8L1393.5 859.4L1384 861.4L1375 863.7L1366.6 866.3L1358.8 869.1L1351.5 872.1L1344.8 875.2L1338.8 878.1L1333.5 880.9L1328.8 883.3L1324.9 885.3L1321.9 886.7L1319.7 887.5L1318.8 887.8Z"/><path d="M1561.6 882.5L1562.5 882.3L1564.7 881.4L1567.7 880L1571.6 878.1L1576.3 875.7L1581.6 873L1587.6 870L1594.3 867L1601.6 864.1L1609.4 861.2L1617.8 858.7L1626.8 856.4L1636.3 854.5L1646.3 852.8L1656.9 851.5L1667.9 850.5L1679.5 849.7L1691.5 849.1L1704 848.7L1717 848.4L1730.4 848.2L1744.3 848.1L1758.7 848L1773.5 848L1788.7 847.9L1804.4 847.9L1804.4 852.8L1788.7 852.8L1773.5 852.9L1758.7 852.9L1744.3 853L1730.4 853.1L1717 853.3L1704 853.6L1691.5 854L1679.5 854.6L1667.9 855.4L1656.9 856.5L1646.3 857.8L1636.3 859.4L1626.8 861.4L1617.8 863.7L1609.4 866.3L1601.6 869.1L1594.3 872.1L1587.6 875.2L1581.6 878.1L1576.3 880.9L1571.6 883.3L1567.7 885.3L1564.7 886.7L1562.5 887.5L1561.6 887.8Z"/></g><path d="M1262.4 724.4V915.5M1259.2 724.9H1262.4M1259.2 731.2H1262.4M1259.2 737.6H1262.4M1259.2 743.9H1262.4M1259.2 750.2H1262.4M1259.2 756.6H1262.4M1259.2 762.9H1262.4M1259.2 769.3H1262.4M1259.2 775.6H1262.4M1259.2 781.9H1262.4M1259.2 788.3H1262.4M1259.2 794.6H1262.4M1259.2 800.9H1262.4M1259.2 807.3H1262.4M1259.2 813.6H1262.4M1259.2 820H1262.4M1259.2 826.3H1262.4M1259.2 832.6H1262.4M1259.2 839H1262.4M1259.2 845.3H1262.4M1259.2 851.6H1262.4M1259.2 858H1262.4M1259.2 864.3H1262.4M1259.2 870.6H1262.4M1259.2 877H1262.4M1259.2 883.3H1262.4M1259.2 889.7H1262.4M1259.2 896H1262.4M1259.2 902.3H1262.4M1259.2 908.7H1262.4M1259.2 915H1262.4M1256.1 724.9H1262.9M1256.1 788.3H1262.9M1256.1 851.6H1262.9M1256.1 915H1262.9" fill="none" stroke="#303030" stroke-width="1.15"/><text x="1252.8" y="729.4" font-size="13.1" text-anchor="end">32.0</text><text x="1252.8" y="792.8" font-size="13.1" text-anchor="end">5.82</text><text x="1252.8" y="856.1" font-size="13.1" text-anchor="end">-20.4</text><text x="1252.8" y="919.5" font-size="13.1" text-anchor="end">-46.6</text><text transform="translate(1217.6 820) rotate(-90)" class="r" font-size="13.1" text-anchor="middle">(I) Amplitude (mV)</text><path d="M1330.9 934.4V1125.6M1452.3 934.4V1125.6M1573.7 934.4V1125.6M1695.1 934.4V1125.6M1270.2 966.3H1755.8M1270.2 1030H1755.8M1270.2 1093.7H1755.8" fill="none" stroke="#f0f0f0" stroke-width="1" stroke-dasharray="1 1"/><path d="M1270.2 934.4V1125.6M1391.6 934.4V1125.6M1513 934.4V1125.6M1634.4 934.4V1125.6M1755.8 934.4V1125.6M1270.2 934.4H1755.8M1270.2 998.1H1755.8M1270.2 1061.9H1755.8M1270.2 1125.6H1755.8" fill="none" stroke="#e0e0e0" stroke-width="1" stroke-dasharray="1 1"/><clipPath id="cp2bQ"><rect x="1269.8" y="930.4" width="487.2" height="199.2"/></clipPath><g clip-path="url(#cp2bQ)" fill="#0000ff"><rect x="1245.9" y="949.6" width="534.2" height="11.4"/><rect x="1245.9" y="1001.5" width="534.2" height="11"/><rect x="1245.9" y="1050" width="534.2" height="11"/><rect x="1245.9" y="1100" width="534.2" height="10.4"/><path d="M1074.7 958.1L1075.4 958.3L1076.7 958.6L1078.7 959.2L1081.1 960.1L1084.1 961.2L1087.5 962.6L1091.3 964.2L1095.5 966L1100.1 967.9L1105.1 969.9L1110.4 972.1L1116.1 974.3L1122.1 976.5L1128.5 978.6L1135.2 980.7L1142.2 982.8L1149.5 984.7L1157.1 986.5L1165 988.2L1173.3 989.7L1181.8 991.1L1190.6 992.3L1199.7 993.4L1209.1 994.4L1218.7 995.2L1228.6 995.9L1238.8 996.5L1249.3 997L1260 997.4L1271 997.7L1282.3 998L1293.8 998.2L1305.5 998.4L1317.5 998.5L1317.5 1009L1305.5 1008.9L1293.8 1008.8L1282.3 1008.6L1271 1008.4L1260 1008.1L1249.3 1007.8L1238.8 1007.3L1228.6 1006.8L1218.7 1006.2L1209.1 1005.4L1199.7 1004.5L1190.6 1003.5L1181.8 1002.4L1173.3 1001L1165 999.5L1157.1 997.9L1149.5 996.1L1142.2 994.2L1135.2 992.1L1128.5 990L1122.1 987.8L1116.1 985.5L1110.4 983.3L1105.1 981L1100.1 978.9L1095.5 976.9L1091.3 975L1087.5 973.3L1084.1 971.9L1081.1 970.7L1078.7 969.7L1076.7 969.1L1075.4 968.7L1074.7 968.6Z"/><path d="M1317.5 958.1L1318.2 958.3L1319.5 958.6L1321.5 959.2L1323.9 960.1L1326.9 961.2L1330.3 962.6L1334.1 964.2L1338.3 966L1342.9 967.9L1347.9 969.9L1353.2 972.1L1358.9 974.3L1364.9 976.5L1371.3 978.6L1378 980.7L1385 982.8L1392.3 984.7L1399.9 986.5L1407.8 988.2L1416.1 989.7L1424.6 991.1L1433.4 992.3L1442.5 993.4L1451.9 994.4L1461.5 995.2L1471.4 995.9L1481.6 996.5L1492.1 997L1502.8 997.4L1513.8 997.7L1525.1 998L1536.6 998.2L1548.3 998.4L1560.3 998.5L1560.3 1009L1548.3 1008.9L1536.6 1008.8L1525.1 1008.6L1513.8 1008.4L1502.8 1008.1L1492.1 1007.8L1481.6 1007.3L1471.4 1006.8L1461.5 1006.2L1451.9 1005.4L1442.5 1004.5L1433.4 1003.5L1424.6 1002.4L1416.1 1001L1407.8 999.5L1399.9 997.9L1392.3 996.1L1385 994.2L1378 992.1L1371.3 990L1364.9 987.8L1358.9 985.5L1353.2 983.3L1347.9 981L1342.9 978.9L1338.3 976.9L1334.1 975L1330.3 973.3L1326.9 971.9L1323.9 970.7L1321.5 969.7L1319.5 969.1L1318.2 968.7L1317.5 968.6Z"/><path d="M1560.3 958.1L1561 958.3L1562.3 958.6L1564.3 959.2L1566.7 960.1L1569.7 961.2L1573.1 962.6L1576.9 964.2L1581.1 966L1585.7 967.9L1590.7 969.9L1596 972.1L1601.7 974.3L1607.7 976.5L1614.1 978.6L1620.8 980.7L1627.8 982.8L1635.1 984.7L1642.7 986.5L1650.6 988.2L1658.9 989.7L1667.4 991.1L1676.2 992.3L1685.3 993.4L1694.7 994.4L1704.3 995.2L1714.2 995.9L1724.4 996.5L1734.9 997L1745.6 997.4L1756.6 997.7L1767.9 998L1779.4 998.2L1791.1 998.4L1803.1 998.5L1803.1 1009L1791.1 1008.9L1779.4 1008.8L1767.9 1008.6L1756.6 1008.4L1745.6 1008.1L1734.9 1007.8L1724.4 1007.3L1714.2 1006.8L1704.3 1006.2L1694.7 1005.4L1685.3 1004.5L1676.2 1003.5L1667.4 1002.4L1658.9 1001L1650.6 999.5L1642.7 997.9L1635.1 996.1L1627.8 994.2L1620.8 992.1L1614.1 990L1607.7 987.8L1601.7 985.5L1596 983.3L1590.7 981L1585.7 978.9L1581.1 976.9L1576.9 975L1573.1 973.3L1569.7 971.9L1566.7 970.7L1564.3 969.7L1562.3 969.1L1561 968.7L1560.3 968.6Z"/><path d="M1074.7 958.1L1075.4 958.4L1076.7 959.1L1078.7 960.5L1081.1 962.4L1084.1 964.9L1087.5 967.9L1091.3 971.3L1095.5 975.2L1100.1 979.5L1105.1 984L1110.4 988.6L1116.1 993.4L1122.1 998.2L1128.5 1003L1135.2 1007.6L1142.2 1012.1L1149.5 1016.3L1157.1 1020.3L1165 1023.9L1173.3 1027.3L1181.8 1030.3L1190.6 1033L1199.7 1035.4L1209.1 1037.5L1218.7 1039.2L1228.6 1040.8L1238.8 1042.1L1249.3 1043.1L1260 1044L1271 1044.8L1282.3 1045.4L1293.8 1045.8L1305.5 1046.2L1317.5 1046.5L1317.5 1057.6L1305.5 1057.4L1293.8 1057.1L1282.3 1056.7L1271 1056.2L1260 1055.6L1249.3 1054.8L1238.8 1053.8L1228.6 1052.7L1218.7 1051.3L1209.1 1049.6L1199.7 1047.7L1190.6 1045.5L1181.8 1042.9L1173.3 1040L1165 1036.7L1157.1 1033.1L1149.5 1029.2L1142.2 1024.9L1135.2 1020.4L1128.5 1015.7L1122.1 1010.8L1116.1 1005.8L1110.4 1000.9L1105.1 996L1100.1 991.3L1095.5 986.8L1091.3 982.7L1087.5 979L1084.1 975.8L1081.1 973.1L1078.7 971.1L1076.7 969.7L1075.4 968.8L1074.7 968.6Z"/><path d="M1317.5 958.1L1318.2 958.4L1319.5 959.1L1321.5 960.5L1323.9 962.4L1326.9 964.9L1330.3 967.9L1334.1 971.3L1338.3 975.2L1342.9 979.5L1347.9 984L1353.2 988.6L1358.9 993.4L1364.9 998.2L1371.3 1003L1378 1007.6L1385 1012.1L1392.3 1016.3L1399.9 1020.3L1407.8 1023.9L1416.1 1027.3L1424.6 1030.3L1433.4 1033L1442.5 1035.4L1451.9 1037.5L1461.5 1039.2L1471.4 1040.8L1481.6 1042.1L1492.1 1043.1L1502.8 1044L1513.8 1044.8L1525.1 1045.4L1536.6 1045.8L1548.3 1046.2L1560.3 1046.5L1560.3 1057.6L1548.3 1057.4L1536.6 1057.1L1525.1 1056.7L1513.8 1056.2L1502.8 1055.6L1492.1 1054.8L1481.6 1053.8L1471.4 1052.7L1461.5 1051.3L1451.9 1049.6L1442.5 1047.7L1433.4 1045.5L1424.6 1042.9L1416.1 1040L1407.8 1036.7L1399.9 1033.1L1392.3 1029.2L1385 1024.9L1378 1020.4L1371.3 1015.7L1364.9 1010.8L1358.9 1005.8L1353.2 1000.9L1347.9 996L1342.9 991.3L1338.3 986.8L1334.1 982.7L1330.3 979L1326.9 975.8L1323.9 973.1L1321.5 971.1L1319.5 969.7L1318.2 968.8L1317.5 968.6Z"/><path d="M1560.3 958.1L1561 958.4L1562.3 959.1L1564.3 960.5L1566.7 962.4L1569.7 964.9L1573.1 967.9L1576.9 971.3L1581.1 975.2L1585.7 979.5L1590.7 984L1596 988.6L1601.7 993.4L1607.7 998.2L1614.1 1003L1620.8 1007.6L1627.8 1012.1L1635.1 1016.3L1642.7 1020.3L1650.6 1023.9L1658.9 1027.3L1667.4 1030.3L1676.2 1033L1685.3 1035.4L1694.7 1037.5L1704.3 1039.2L1714.2 1040.8L1724.4 1042.1L1734.9 1043.1L1745.6 1044L1756.6 1044.8L1767.9 1045.4L1779.4 1045.8L1791.1 1046.2L1803.1 1046.5L1803.1 1057.6L1791.1 1057.4L1779.4 1057.1L1767.9 1056.7L1756.6 1056.2L1745.6 1055.6L1734.9 1054.8L1724.4 1053.8L1714.2 1052.7L1704.3 1051.3L1694.7 1049.6L1685.3 1047.7L1676.2 1045.5L1667.4 1042.9L1658.9 1040L1650.6 1036.7L1642.7 1033.1L1635.1 1029.2L1627.8 1024.9L1620.8 1020.4L1614.1 1015.7L1607.7 1010.8L1601.7 1005.8L1596 1000.9L1590.7 996L1585.7 991.3L1581.1 986.8L1576.9 982.7L1573.1 979L1569.7 975.8L1566.7 973.1L1564.3 971.1L1562.3 969.7L1561 968.8L1560.3 968.6Z"/><path d="M1074.7 958.1L1075.4 958.5L1076.7 959.6L1078.7 961.6L1081.1 964.5L1084.1 968.2L1087.5 972.7L1091.3 977.8L1095.5 983.6L1100.1 990L1105.1 996.7L1110.4 1003.7L1116.1 1010.8L1122.1 1018L1128.5 1025.1L1135.2 1032L1142.2 1038.6L1149.5 1044.9L1157.1 1050.8L1165 1056.3L1173.3 1061.3L1181.8 1065.8L1190.6 1069.8L1199.7 1073.4L1209.1 1076.5L1218.7 1079.2L1228.6 1081.5L1238.8 1083.4L1249.3 1085L1260 1086.3L1271 1087.4L1282.3 1088.3L1293.8 1089L1305.5 1089.6L1317.5 1090L1317.5 1102.6L1305.5 1102.3L1293.8 1101.8L1282.3 1101.3L1271 1100.5L1260 1099.6L1249.3 1098.4L1238.8 1097L1228.6 1095.2L1218.7 1093.1L1209.1 1090.7L1199.7 1087.7L1190.6 1084.4L1181.8 1080.5L1173.3 1076.1L1165 1071.2L1157.1 1065.8L1149.5 1059.8L1142.2 1053.4L1135.2 1046.7L1128.5 1039.5L1122.1 1032.2L1116.1 1024.7L1110.4 1017.2L1105.1 1009.8L1100.1 1002.7L1095.5 996L1091.3 989.8L1087.5 984.2L1084.1 979.4L1081.1 975.4L1078.7 972.4L1076.7 970.2L1075.4 969L1074.7 968.6Z"/><path d="M1317.5 958.1L1318.2 958.5L1319.5 959.6L1321.5 961.6L1323.9 964.5L1326.9 968.2L1330.3 972.7L1334.1 977.8L1338.3 983.6L1342.9 990L1347.9 996.7L1353.2 1003.7L1358.9 1010.8L1364.9 1018L1371.3 1025.1L1378 1032L1385 1038.6L1392.3 1044.9L1399.9 1050.8L1407.8 1056.3L1416.1 1061.3L1424.6 1065.8L1433.4 1069.8L1442.5 1073.4L1451.9 1076.5L1461.5 1079.2L1471.4 1081.5L1481.6 1083.4L1492.1 1085L1502.8 1086.3L1513.8 1087.4L1525.1 1088.3L1536.6 1089L1548.3 1089.6L1560.3 1090L1560.3 1102.6L1548.3 1102.3L1536.6 1101.8L1525.1 1101.3L1513.8 1100.5L1502.8 1099.6L1492.1 1098.4L1481.6 1097L1471.4 1095.2L1461.5 1093.1L1451.9 1090.7L1442.5 1087.7L1433.4 1084.4L1424.6 1080.5L1416.1 1076.1L1407.8 1071.2L1399.9 1065.8L1392.3 1059.8L1385 1053.4L1378 1046.7L1371.3 1039.5L1364.9 1032.2L1358.9 1024.7L1353.2 1017.2L1347.9 1009.8L1342.9 1002.7L1338.3 996L1334.1 989.8L1330.3 984.2L1326.9 979.4L1323.9 975.4L1321.5 972.4L1319.5 970.2L1318.2 969L1317.5 968.6Z"/><path d="M1560.3 958.1L1561 958.5L1562.3 959.6L1564.3 961.6L1566.7 964.5L1569.7 968.2L1573.1 972.7L1576.9 977.8L1581.1 983.6L1585.7 990L1590.7 996.7L1596 1003.7L1601.7 1010.8L1607.7 1018L1614.1 1025.1L1620.8 1032L1627.8 1038.6L1635.1 1044.9L1642.7 1050.8L1650.6 1056.3L1658.9 1061.3L1667.4 1065.8L1676.2 1069.8L1685.3 1073.4L1694.7 1076.5L1704.3 1079.2L1714.2 1081.5L1724.4 1083.4L1734.9 1085L1745.6 1086.3L1756.6 1087.4L1767.9 1088.3L1779.4 1089L1791.1 1089.6L1803.1 1090L1803.1 1102.6L1791.1 1102.3L1779.4 1101.8L1767.9 1101.3L1756.6 1100.5L1745.6 1099.6L1734.9 1098.4L1724.4 1097L1714.2 1095.2L1704.3 1093.1L1694.7 1090.7L1685.3 1087.7L1676.2 1084.4L1667.4 1080.5L1658.9 1076.1L1650.6 1071.2L1642.7 1065.8L1635.1 1059.8L1627.8 1053.4L1620.8 1046.7L1614.1 1039.5L1607.7 1032.2L1601.7 1024.7L1596 1017.2L1590.7 1009.8L1585.7 1002.7L1581.1 996L1576.9 989.8L1573.1 984.2L1569.7 979.4L1566.7 975.4L1564.3 972.4L1562.3 970.2L1561 969L1560.3 968.6Z"/><path d="M1074.7 998.5L1075.4 998.4L1076.7 998L1078.7 997.3L1081.1 996.4L1084.1 995.1L1087.5 993.6L1091.3 991.9L1095.5 990L1100.1 987.9L1105.1 985.7L1110.4 983.4L1116.1 981.1L1122.1 978.7L1128.5 976.4L1135.2 974.2L1142.2 972.1L1149.5 970.1L1157.1 968.3L1165 966.6L1173.3 965.1L1181.8 963.7L1190.6 962.5L1199.7 961.5L1209.1 960.5L1218.7 959.8L1228.6 959.1L1238.8 958.6L1249.3 958.1L1260 957.8L1271 957.5L1282.3 957.3L1293.8 957.1L1305.5 956.9L1317.5 956.8L1317.5 968.6L1305.5 968.7L1293.8 968.9L1282.3 969.1L1271 969.4L1260 969.7L1249.3 970.1L1238.8 970.6L1228.6 971.1L1218.7 971.8L1209.1 972.6L1199.7 973.5L1190.6 974.6L1181.8 975.8L1173.3 977.1L1165 978.6L1157.1 980.3L1149.5 982L1142.2 983.9L1135.2 985.9L1128.5 987.9L1122.1 990L1116.1 992.2L1110.4 994.3L1105.1 996.4L1100.1 998.4L1095.5 1000.3L1091.3 1002L1087.5 1003.5L1084.1 1004.9L1081.1 1006L1078.7 1006.8L1076.7 1007.4L1075.4 1007.7L1074.7 1007.9Z"/><path d="M1317.5 998.5L1318.2 998.4L1319.5 998L1321.5 997.3L1323.9 996.4L1326.9 995.1L1330.3 993.6L1334.1 991.9L1338.3 990L1342.9 987.9L1347.9 985.7L1353.2 983.4L1358.9 981.1L1364.9 978.7L1371.3 976.4L1378 974.2L1385 972.1L1392.3 970.1L1399.9 968.3L1407.8 966.6L1416.1 965.1L1424.6 963.7L1433.4 962.5L1442.5 961.5L1451.9 960.5L1461.5 959.8L1471.4 959.1L1481.6 958.6L1492.1 958.1L1502.8 957.8L1513.8 957.5L1525.1 957.3L1536.6 957.1L1548.3 956.9L1560.3 956.8L1560.3 968.6L1548.3 968.7L1536.6 968.9L1525.1 969.1L1513.8 969.4L1502.8 969.7L1492.1 970.1L1481.6 970.6L1471.4 971.1L1461.5 971.8L1451.9 972.6L1442.5 973.5L1433.4 974.6L1424.6 975.8L1416.1 977.1L1407.8 978.6L1399.9 980.3L1392.3 982L1385 983.9L1378 985.9L1371.3 987.9L1364.9 990L1358.9 992.2L1353.2 994.3L1347.9 996.4L1342.9 998.4L1338.3 1000.3L1334.1 1002L1330.3 1003.5L1326.9 1004.9L1323.9 1006L1321.5 1006.8L1319.5 1007.4L1318.2 1007.7L1317.5 1007.9Z"/><path d="M1560.3 998.5L1561 998.4L1562.3 998L1564.3 997.3L1566.7 996.4L1569.7 995.1L1573.1 993.6L1576.9 991.9L1581.1 990L1585.7 987.9L1590.7 985.7L1596 983.4L1601.7 981.1L1607.7 978.7L1614.1 976.4L1620.8 974.2L1627.8 972.1L1635.1 970.1L1642.7 968.3L1650.6 966.6L1658.9 965.1L1667.4 963.7L1676.2 962.5L1685.3 961.5L1694.7 960.5L1704.3 959.8L1714.2 959.1L1724.4 958.6L1734.9 958.1L1745.6 957.8L1756.6 957.5L1767.9 957.3L1779.4 957.1L1791.1 956.9L1803.1 956.8L1803.1 968.6L1791.1 968.7L1779.4 968.9L1767.9 969.1L1756.6 969.4L1745.6 969.7L1734.9 970.1L1724.4 970.6L1714.2 971.1L1704.3 971.8L1694.7 972.6L1685.3 973.5L1676.2 974.6L1667.4 975.8L1658.9 977.1L1650.6 978.6L1642.7 980.3L1635.1 982L1627.8 983.9L1620.8 985.9L1614.1 987.9L1607.7 990L1601.7 992.2L1596 994.3L1590.7 996.4L1585.7 998.4L1581.1 1000.3L1576.9 1002L1573.1 1003.5L1569.7 1004.9L1566.7 1006L1564.3 1006.8L1562.3 1007.4L1561 1007.7L1560.3 1007.9Z"/><path d="M1074.7 1006.1L1075.4 1006.3L1076.7 1006.6L1078.7 1007.2L1081.1 1008.1L1084.1 1009.2L1087.5 1010.6L1091.3 1012.2L1095.5 1014L1100.1 1015.9L1105.1 1017.9L1110.4 1020.1L1116.1 1022.3L1122.1 1024.5L1128.5 1026.6L1135.2 1028.7L1142.2 1030.8L1149.5 1032.7L1157.1 1034.5L1165 1036.2L1173.3 1037.7L1181.8 1039.1L1190.6 1040.3L1199.7 1041.4L1209.1 1042.4L1218.7 1043.2L1228.6 1043.9L1238.8 1044.5L1249.3 1045L1260 1045.4L1271 1045.7L1282.3 1046L1293.8 1046.2L1305.5 1046.4L1317.5 1046.5L1317.5 1057.6L1305.5 1057.5L1293.8 1057.3L1282.3 1057.2L1271 1056.9L1260 1056.6L1249.3 1056.3L1238.8 1055.8L1228.6 1055.3L1218.7 1054.6L1209.1 1053.8L1199.7 1052.9L1190.6 1051.9L1181.8 1050.6L1173.3 1049.3L1165 1047.7L1157.1 1046L1149.5 1044.1L1142.2 1042.1L1135.2 1040L1128.5 1037.8L1122.1 1035.5L1116.1 1033.1L1110.4 1030.8L1105.1 1028.5L1100.1 1026.2L1095.5 1024.1L1091.3 1022.2L1087.5 1020.4L1084.1 1018.9L1081.1 1017.6L1078.7 1016.7L1076.7 1016L1075.4 1015.6L1074.7 1015.5Z"/><path d="M1317.5 1006.1L1318.2 1006.3L1319.5 1006.6L1321.5 1007.2L1323.9 1008.1L1326.9 1009.2L1330.3 1010.6L1334.1 1012.2L1338.3 1014L1342.9 1015.9L1347.9 1017.9L1353.2 1020.1L1358.9 1022.3L1364.9 1024.5L1371.3 1026.6L1378 1028.7L1385 1030.8L1392.3 1032.7L1399.9 1034.5L1407.8 1036.2L1416.1 1037.7L1424.6 1039.1L1433.4 1040.3L1442.5 1041.4L1451.9 1042.4L1461.5 1043.2L1471.4 1043.9L1481.6 1044.5L1492.1 1045L1502.8 1045.4L1513.8 1045.7L1525.1 1046L1536.6 1046.2L1548.3 1046.4L1560.3 1046.5L1560.3 1057.6L1548.3 1057.5L1536.6 1057.3L1525.1 1057.2L1513.8 1056.9L1502.8 1056.6L1492.1 1056.3L1481.6 1055.8L1471.4 1055.3L1461.5 1054.6L1451.9 1053.8L1442.5 1052.9L1433.4 1051.9L1424.6 1050.6L1416.1 1049.3L1407.8 1047.7L1399.9 1046L1392.3 1044.1L1385 1042.1L1378 1040L1371.3 1037.8L1364.9 1035.5L1358.9 1033.1L1353.2 1030.8L1347.9 1028.5L1342.9 1026.2L1338.3 1024.1L1334.1 1022.2L1330.3 1020.4L1326.9 1018.9L1323.9 1017.6L1321.5 1016.7L1319.5 1016L1318.2 1015.6L1317.5 1015.5Z"/><path d="M1560.3 1006.1L1561 1006.3L1562.3 1006.6L1564.3 1007.2L1566.7 1008.1L1569.7 1009.2L1573.1 1010.6L1576.9 1012.2L1581.1 1014L1585.7 1015.9L1590.7 1017.9L1596 1020.1L1601.7 1022.3L1607.7 1024.5L1614.1 1026.6L1620.8 1028.7L1627.8 1030.8L1635.1 1032.7L1642.7 1034.5L1650.6 1036.2L1658.9 1037.7L1667.4 1039.1L1676.2 1040.3L1685.3 1041.4L1694.7 1042.4L1704.3 1043.2L1714.2 1043.9L1724.4 1044.5L1734.9 1045L1745.6 1045.4L1756.6 1045.7L1767.9 1046L1779.4 1046.2L1791.1 1046.4L1803.1 1046.5L1803.1 1057.6L1791.1 1057.5L1779.4 1057.3L1767.9 1057.2L1756.6 1056.9L1745.6 1056.6L1734.9 1056.3L1724.4 1055.8L1714.2 1055.3L1704.3 1054.6L1694.7 1053.8L1685.3 1052.9L1676.2 1051.9L1667.4 1050.6L1658.9 1049.3L1650.6 1047.7L1642.7 1046L1635.1 1044.1L1627.8 1042.1L1620.8 1040L1614.1 1037.8L1607.7 1035.5L1601.7 1033.1L1596 1030.8L1590.7 1028.5L1585.7 1026.2L1581.1 1024.1L1576.9 1022.2L1573.1 1020.4L1569.7 1018.9L1566.7 1017.6L1564.3 1016.7L1562.3 1016L1561 1015.6L1560.3 1015.5Z"/><path d="M1074.7 1006.1L1075.4 1006.4L1076.7 1007.1L1078.7 1008.4L1081.1 1010.2L1084.1 1012.5L1087.5 1015.4L1091.3 1018.7L1095.5 1022.4L1100.1 1026.4L1105.1 1030.7L1110.4 1035.1L1116.1 1039.6L1122.1 1044.2L1128.5 1048.7L1135.2 1053.1L1142.2 1057.3L1149.5 1061.3L1157.1 1065.1L1165 1068.6L1173.3 1071.8L1181.8 1074.6L1190.6 1077.2L1199.7 1079.4L1209.1 1081.4L1218.7 1083.1L1228.6 1084.6L1238.8 1085.8L1249.3 1086.8L1260 1087.7L1271 1088.4L1282.3 1088.9L1293.8 1089.4L1305.5 1089.7L1317.5 1090L1317.5 1102.6L1305.5 1102.4L1293.8 1102.1L1282.3 1101.7L1271 1101.3L1260 1100.6L1249.3 1099.9L1238.8 1099L1228.6 1097.8L1218.7 1096.5L1209.1 1094.9L1199.7 1093L1190.6 1090.8L1181.8 1088.2L1173.3 1085.4L1165 1082.2L1157.1 1078.7L1149.5 1074.8L1142.2 1070.7L1135.2 1066.2L1128.5 1061.6L1122.1 1056.8L1116.1 1052L1110.4 1047.1L1105.1 1042.3L1100.1 1037.7L1095.5 1033.3L1091.3 1029.3L1087.5 1025.7L1084.1 1022.5L1081.1 1019.9L1078.7 1017.9L1076.7 1016.5L1075.4 1015.7L1074.7 1015.5Z"/><path d="M1317.5 1006.1L1318.2 1006.4L1319.5 1007.1L1321.5 1008.4L1323.9 1010.2L1326.9 1012.5L1330.3 1015.4L1334.1 1018.7L1338.3 1022.4L1342.9 1026.4L1347.9 1030.7L1353.2 1035.1L1358.9 1039.6L1364.9 1044.2L1371.3 1048.7L1378 1053.1L1385 1057.3L1392.3 1061.3L1399.9 1065.1L1407.8 1068.6L1416.1 1071.8L1424.6 1074.6L1433.4 1077.2L1442.5 1079.4L1451.9 1081.4L1461.5 1083.1L1471.4 1084.6L1481.6 1085.8L1492.1 1086.8L1502.8 1087.7L1513.8 1088.4L1525.1 1088.9L1536.6 1089.4L1548.3 1089.7L1560.3 1090L1560.3 1102.6L1548.3 1102.4L1536.6 1102.1L1525.1 1101.7L1513.8 1101.3L1502.8 1100.6L1492.1 1099.9L1481.6 1099L1471.4 1097.8L1461.5 1096.5L1451.9 1094.9L1442.5 1093L1433.4 1090.8L1424.6 1088.2L1416.1 1085.4L1407.8 1082.2L1399.9 1078.7L1392.3 1074.8L1385 1070.7L1378 1066.2L1371.3 1061.6L1364.9 1056.8L1358.9 1052L1353.2 1047.1L1347.9 1042.3L1342.9 1037.7L1338.3 1033.3L1334.1 1029.3L1330.3 1025.7L1326.9 1022.5L1323.9 1019.9L1321.5 1017.9L1319.5 1016.5L1318.2 1015.7L1317.5 1015.5Z"/><path d="M1560.3 1006.1L1561 1006.4L1562.3 1007.1L1564.3 1008.4L1566.7 1010.2L1569.7 1012.5L1573.1 1015.4L1576.9 1018.7L1581.1 1022.4L1585.7 1026.4L1590.7 1030.7L1596 1035.1L1601.7 1039.6L1607.7 1044.2L1614.1 1048.7L1620.8 1053.1L1627.8 1057.3L1635.1 1061.3L1642.7 1065.1L1650.6 1068.6L1658.9 1071.8L1667.4 1074.6L1676.2 1077.2L1685.3 1079.4L1694.7 1081.4L1704.3 1083.1L1714.2 1084.6L1724.4 1085.8L1734.9 1086.8L1745.6 1087.7L1756.6 1088.4L1767.9 1088.9L1779.4 1089.4L1791.1 1089.7L1803.1 1090L1803.1 1102.6L1791.1 1102.4L1779.4 1102.1L1767.9 1101.7L1756.6 1101.3L1745.6 1100.6L1734.9 1099.9L1724.4 1099L1714.2 1097.8L1704.3 1096.5L1694.7 1094.9L1685.3 1093L1676.2 1090.8L1667.4 1088.2L1658.9 1085.4L1650.6 1082.2L1642.7 1078.7L1635.1 1074.8L1627.8 1070.7L1620.8 1066.2L1614.1 1061.6L1607.7 1056.8L1601.7 1052L1596 1047.1L1590.7 1042.3L1585.7 1037.7L1581.1 1033.3L1576.9 1029.3L1573.1 1025.7L1569.7 1022.5L1566.7 1019.9L1564.3 1017.9L1562.3 1016.5L1561 1015.7L1560.3 1015.5Z"/><path d="M1074.7 1046.5L1075.4 1046.3L1076.7 1045.4L1078.7 1044L1081.1 1041.9L1084.1 1039.3L1087.5 1036L1091.3 1032.3L1095.5 1028.2L1100.1 1023.7L1105.1 1018.9L1110.4 1014L1116.1 1009L1122.1 1004L1128.5 999L1135.2 994.3L1142.2 989.7L1149.5 985.5L1157.1 981.5L1165 977.9L1173.3 974.6L1181.8 971.6L1190.6 969L1199.7 966.8L1209.1 964.8L1218.7 963.2L1228.6 961.8L1238.8 960.6L1249.3 959.7L1260 958.9L1271 958.3L1282.3 957.8L1293.8 957.4L1305.5 957.1L1317.5 956.8L1317.5 968.6L1305.5 968.9L1293.8 969.3L1282.3 969.7L1271 970.3L1260 971L1249.3 971.9L1238.8 973L1228.6 974.3L1218.7 975.8L1209.1 977.6L1199.7 979.7L1190.6 982L1181.8 984.7L1173.3 987.7L1165 991L1157.1 994.7L1149.5 998.6L1142.2 1002.8L1135.2 1007.2L1128.5 1011.8L1122.1 1016.5L1116.1 1021.3L1110.4 1026.1L1105.1 1030.7L1100.1 1035.2L1095.5 1039.4L1091.3 1043.2L1087.5 1046.7L1084.1 1049.7L1081.1 1052.1L1078.7 1054L1076.7 1055.4L1075.4 1056.1L1074.7 1056.3Z"/><path d="M1317.5 1046.5L1318.2 1046.3L1319.5 1045.4L1321.5 1044L1323.9 1041.9L1326.9 1039.3L1330.3 1036L1334.1 1032.3L1338.3 1028.2L1342.9 1023.7L1347.9 1018.9L1353.2 1014L1358.9 1009L1364.9 1004L1371.3 999L1378 994.3L1385 989.7L1392.3 985.5L1399.9 981.5L1407.8 977.9L1416.1 974.6L1424.6 971.6L1433.4 969L1442.5 966.8L1451.9 964.8L1461.5 963.2L1471.4 961.8L1481.6 960.6L1492.1 959.7L1502.8 958.9L1513.8 958.3L1525.1 957.8L1536.6 957.4L1548.3 957.1L1560.3 956.8L1560.3 968.6L1548.3 968.9L1536.6 969.3L1525.1 969.7L1513.8 970.3L1502.8 971L1492.1 971.9L1481.6 973L1471.4 974.3L1461.5 975.8L1451.9 977.6L1442.5 979.7L1433.4 982L1424.6 984.7L1416.1 987.7L1407.8 991L1399.9 994.7L1392.3 998.6L1385 1002.8L1378 1007.2L1371.3 1011.8L1364.9 1016.5L1358.9 1021.3L1353.2 1026.1L1347.9 1030.7L1342.9 1035.2L1338.3 1039.4L1334.1 1043.2L1330.3 1046.7L1326.9 1049.7L1323.9 1052.1L1321.5 1054L1319.5 1055.4L1318.2 1056.1L1317.5 1056.3Z"/><path d="M1560.3 1046.5L1561 1046.3L1562.3 1045.4L1564.3 1044L1566.7 1041.9L1569.7 1039.3L1573.1 1036L1576.9 1032.3L1581.1 1028.2L1585.7 1023.7L1590.7 1018.9L1596 1014L1601.7 1009L1607.7 1004L1614.1 999L1620.8 994.3L1627.8 989.7L1635.1 985.5L1642.7 981.5L1650.6 977.9L1658.9 974.6L1667.4 971.6L1676.2 969L1685.3 966.8L1694.7 964.8L1704.3 963.2L1714.2 961.8L1724.4 960.6L1734.9 959.7L1745.6 958.9L1756.6 958.3L1767.9 957.8L1779.4 957.4L1791.1 957.1L1803.1 956.8L1803.1 968.6L1791.1 968.9L1779.4 969.3L1767.9 969.7L1756.6 970.3L1745.6 971L1734.9 971.9L1724.4 973L1714.2 974.3L1704.3 975.8L1694.7 977.6L1685.3 979.7L1676.2 982L1667.4 984.7L1658.9 987.7L1650.6 991L1642.7 994.7L1635.1 998.6L1627.8 1002.8L1620.8 1007.2L1614.1 1011.8L1607.7 1016.5L1601.7 1021.3L1596 1026.1L1590.7 1030.7L1585.7 1035.2L1581.1 1039.4L1576.9 1043.2L1573.1 1046.7L1569.7 1049.7L1566.7 1052.1L1564.3 1054L1562.3 1055.4L1561 1056.1L1560.3 1056.3Z"/><path d="M1074.7 1046.5L1075.4 1046.4L1076.7 1046L1078.7 1045.3L1081.1 1044.4L1084.1 1043.1L1087.5 1041.7L1091.3 1039.9L1095.5 1038L1100.1 1035.9L1105.1 1033.7L1110.4 1031.4L1116.1 1029.1L1122.1 1026.8L1128.5 1024.5L1135.2 1022.3L1142.2 1020.2L1149.5 1018.2L1157.1 1016.4L1165 1014.7L1173.3 1013.2L1181.8 1011.8L1190.6 1010.6L1199.7 1009.6L1209.1 1008.7L1218.7 1007.9L1228.6 1007.3L1238.8 1006.7L1249.3 1006.3L1260 1005.9L1271 1005.6L1282.3 1005.4L1293.8 1005.2L1305.5 1005.1L1317.5 1005L1317.5 1015.5L1305.5 1015.6L1293.8 1015.8L1282.3 1016L1271 1016.3L1260 1016.6L1249.3 1017L1238.8 1017.5L1228.6 1018.1L1218.7 1018.9L1209.1 1019.7L1199.7 1020.6L1190.6 1021.7L1181.8 1023L1173.3 1024.4L1165 1025.9L1157.1 1027.6L1149.5 1029.5L1142.2 1031.4L1135.2 1033.5L1128.5 1035.6L1122.1 1037.8L1116.1 1040L1110.4 1042.2L1105.1 1044.4L1100.1 1046.5L1095.5 1048.4L1091.3 1050.2L1087.5 1051.9L1084.1 1053.2L1081.1 1054.4L1078.7 1055.3L1076.7 1055.9L1075.4 1056.2L1074.7 1056.3Z"/><path d="M1317.5 1046.5L1318.2 1046.4L1319.5 1046L1321.5 1045.3L1323.9 1044.4L1326.9 1043.1L1330.3 1041.7L1334.1 1039.9L1338.3 1038L1342.9 1035.9L1347.9 1033.7L1353.2 1031.4L1358.9 1029.1L1364.9 1026.8L1371.3 1024.5L1378 1022.3L1385 1020.2L1392.3 1018.2L1399.9 1016.4L1407.8 1014.7L1416.1 1013.2L1424.6 1011.8L1433.4 1010.6L1442.5 1009.6L1451.9 1008.7L1461.5 1007.9L1471.4 1007.3L1481.6 1006.7L1492.1 1006.3L1502.8 1005.9L1513.8 1005.6L1525.1 1005.4L1536.6 1005.2L1548.3 1005.1L1560.3 1005L1560.3 1015.5L1548.3 1015.6L1536.6 1015.8L1525.1 1016L1513.8 1016.3L1502.8 1016.6L1492.1 1017L1481.6 1017.5L1471.4 1018.1L1461.5 1018.9L1451.9 1019.7L1442.5 1020.6L1433.4 1021.7L1424.6 1023L1416.1 1024.4L1407.8 1025.9L1399.9 1027.6L1392.3 1029.5L1385 1031.4L1378 1033.5L1371.3 1035.6L1364.9 1037.8L1358.9 1040L1353.2 1042.2L1347.9 1044.4L1342.9 1046.5L1338.3 1048.4L1334.1 1050.2L1330.3 1051.9L1326.9 1053.2L1323.9 1054.4L1321.5 1055.3L1319.5 1055.9L1318.2 1056.2L1317.5 1056.3Z"/><path d="M1560.3 1046.5L1561 1046.4L1562.3 1046L1564.3 1045.3L1566.7 1044.4L1569.7 1043.1L1573.1 1041.7L1576.9 1039.9L1581.1 1038L1585.7 1035.9L1590.7 1033.7L1596 1031.4L1601.7 1029.1L1607.7 1026.8L1614.1 1024.5L1620.8 1022.3L1627.8 1020.2L1635.1 1018.2L1642.7 1016.4L1650.6 1014.7L1658.9 1013.2L1667.4 1011.8L1676.2 1010.6L1685.3 1009.6L1694.7 1008.7L1704.3 1007.9L1714.2 1007.3L1724.4 1006.7L1734.9 1006.3L1745.6 1005.9L1756.6 1005.6L1767.9 1005.4L1779.4 1005.2L1791.1 1005.1L1803.1 1005L1803.1 1015.5L1791.1 1015.6L1779.4 1015.8L1767.9 1016L1756.6 1016.3L1745.6 1016.6L1734.9 1017L1724.4 1017.5L1714.2 1018.1L1704.3 1018.9L1694.7 1019.7L1685.3 1020.6L1676.2 1021.7L1667.4 1023L1658.9 1024.4L1650.6 1025.9L1642.7 1027.6L1635.1 1029.5L1627.8 1031.4L1620.8 1033.5L1614.1 1035.6L1607.7 1037.8L1601.7 1040L1596 1042.2L1590.7 1044.4L1585.7 1046.5L1581.1 1048.4L1576.9 1050.2L1573.1 1051.9L1569.7 1053.2L1566.7 1054.4L1564.3 1055.3L1562.3 1055.9L1561 1056.2L1560.3 1056.3Z"/><path d="M1074.7 1054.6L1075.4 1054.6L1076.7 1055L1078.7 1055.5L1081.1 1056.3L1084.1 1057.3L1087.5 1058.5L1091.3 1059.8L1095.5 1061.4L1100.1 1063.1L1105.1 1064.9L1110.4 1066.8L1116.1 1068.7L1122.1 1070.6L1128.5 1072.5L1135.2 1074.4L1142.2 1076.2L1149.5 1077.9L1157.1 1079.5L1165 1080.9L1173.3 1082.3L1181.8 1083.5L1190.6 1084.6L1199.7 1085.5L1209.1 1086.4L1218.7 1087.1L1228.6 1087.7L1238.8 1088.2L1249.3 1088.7L1260 1089L1271 1089.3L1282.3 1089.5L1293.8 1089.7L1305.5 1089.9L1317.5 1090L1317.5 1102.6L1305.5 1102.5L1293.8 1102.4L1282.3 1102.3L1271 1102L1260 1101.8L1249.3 1101.4L1238.8 1101L1228.6 1100.5L1218.7 1099.9L1209.1 1099.2L1199.7 1098.4L1190.6 1097.4L1181.8 1096.3L1173.3 1095.1L1165 1093.7L1157.1 1092.1L1149.5 1090.4L1142.2 1088.6L1135.2 1086.7L1128.5 1084.6L1122.1 1082.5L1116.1 1080.4L1110.4 1078.3L1105.1 1076.2L1100.1 1074.1L1095.5 1072.2L1091.3 1070.4L1087.5 1068.9L1084.1 1067.5L1081.1 1066.4L1078.7 1065.5L1076.7 1064.9L1075.4 1064.5L1074.7 1064.4Z"/><path d="M1317.5 1054.6L1318.2 1054.6L1319.5 1055L1321.5 1055.5L1323.9 1056.3L1326.9 1057.3L1330.3 1058.5L1334.1 1059.8L1338.3 1061.4L1342.9 1063.1L1347.9 1064.9L1353.2 1066.8L1358.9 1068.7L1364.9 1070.6L1371.3 1072.5L1378 1074.4L1385 1076.2L1392.3 1077.9L1399.9 1079.5L1407.8 1080.9L1416.1 1082.3L1424.6 1083.5L1433.4 1084.6L1442.5 1085.5L1451.9 1086.4L1461.5 1087.1L1471.4 1087.7L1481.6 1088.2L1492.1 1088.7L1502.8 1089L1513.8 1089.3L1525.1 1089.5L1536.6 1089.7L1548.3 1089.9L1560.3 1090L1560.3 1102.6L1548.3 1102.5L1536.6 1102.4L1525.1 1102.3L1513.8 1102L1502.8 1101.8L1492.1 1101.4L1481.6 1101L1471.4 1100.5L1461.5 1099.9L1451.9 1099.2L1442.5 1098.4L1433.4 1097.4L1424.6 1096.3L1416.1 1095.1L1407.8 1093.7L1399.9 1092.1L1392.3 1090.4L1385 1088.6L1378 1086.7L1371.3 1084.6L1364.9 1082.5L1358.9 1080.4L1353.2 1078.3L1347.9 1076.2L1342.9 1074.1L1338.3 1072.2L1334.1 1070.4L1330.3 1068.9L1326.9 1067.5L1323.9 1066.4L1321.5 1065.5L1319.5 1064.9L1318.2 1064.5L1317.5 1064.4Z"/><path d="M1560.3 1054.6L1561 1054.6L1562.3 1055L1564.3 1055.5L1566.7 1056.3L1569.7 1057.3L1573.1 1058.5L1576.9 1059.8L1581.1 1061.4L1585.7 1063.1L1590.7 1064.9L1596 1066.8L1601.7 1068.7L1607.7 1070.6L1614.1 1072.5L1620.8 1074.4L1627.8 1076.2L1635.1 1077.9L1642.7 1079.5L1650.6 1080.9L1658.9 1082.3L1667.4 1083.5L1676.2 1084.6L1685.3 1085.5L1694.7 1086.4L1704.3 1087.1L1714.2 1087.7L1724.4 1088.2L1734.9 1088.7L1745.6 1089L1756.6 1089.3L1767.9 1089.5L1779.4 1089.7L1791.1 1089.9L1803.1 1090L1803.1 1102.6L1791.1 1102.5L1779.4 1102.4L1767.9 1102.3L1756.6 1102L1745.6 1101.8L1734.9 1101.4L1724.4 1101L1714.2 1100.5L1704.3 1099.9L1694.7 1099.2L1685.3 1098.4L1676.2 1097.4L1667.4 1096.3L1658.9 1095.1L1650.6 1093.7L1642.7 1092.1L1635.1 1090.4L1627.8 1088.6L1620.8 1086.7L1614.1 1084.6L1607.7 1082.5L1601.7 1080.4L1596 1078.3L1590.7 1076.2L1585.7 1074.1L1581.1 1072.2L1576.9 1070.4L1573.1 1068.9L1569.7 1067.5L1566.7 1066.4L1564.3 1065.5L1562.3 1064.9L1561 1064.5L1560.3 1064.4Z"/><path d="M1074.7 1090L1075.4 1089.6L1076.7 1088.4L1078.7 1086.3L1081.1 1083.2L1084.1 1079.2L1087.5 1074.5L1091.3 1068.9L1095.5 1062.8L1100.1 1056.1L1105.1 1049L1110.4 1041.7L1116.1 1034.3L1122.1 1026.8L1128.5 1019.5L1135.2 1012.5L1142.2 1005.7L1149.5 999.4L1157.1 993.5L1165 988.1L1173.3 983.2L1181.8 978.8L1190.6 975L1199.7 971.6L1209.1 968.7L1218.7 966.3L1228.6 964.2L1238.8 962.5L1249.3 961L1260 959.9L1271 958.9L1282.3 958.2L1293.8 957.6L1305.5 957.2L1317.5 956.8L1317.5 968.6L1305.5 969L1293.8 969.6L1282.3 970.3L1271 971.2L1260 972.3L1249.3 973.6L1238.8 975.3L1228.6 977.2L1218.7 979.5L1209.1 982.2L1199.7 985.3L1190.6 988.9L1181.8 992.9L1173.3 997.5L1165 1002.5L1157.1 1008L1149.5 1013.9L1142.2 1020.3L1135.2 1027L1128.5 1033.9L1122.1 1041L1116.1 1048.3L1110.4 1055.4L1105.1 1062.5L1100.1 1069.2L1095.5 1075.6L1091.3 1081.4L1087.5 1086.6L1084.1 1091.1L1081.1 1094.8L1078.7 1097.7L1076.7 1099.7L1075.4 1100.9L1074.7 1101.2Z"/><path d="M1317.5 1090L1318.2 1089.6L1319.5 1088.4L1321.5 1086.3L1323.9 1083.2L1326.9 1079.2L1330.3 1074.5L1334.1 1068.9L1338.3 1062.8L1342.9 1056.1L1347.9 1049L1353.2 1041.7L1358.9 1034.3L1364.9 1026.8L1371.3 1019.5L1378 1012.5L1385 1005.7L1392.3 999.4L1399.9 993.5L1407.8 988.1L1416.1 983.2L1424.6 978.8L1433.4 975L1442.5 971.6L1451.9 968.7L1461.5 966.3L1471.4 964.2L1481.6 962.5L1492.1 961L1502.8 959.9L1513.8 958.9L1525.1 958.2L1536.6 957.6L1548.3 957.2L1560.3 956.8L1560.3 968.6L1548.3 969L1536.6 969.6L1525.1 970.3L1513.8 971.2L1502.8 972.3L1492.1 973.6L1481.6 975.3L1471.4 977.2L1461.5 979.5L1451.9 982.2L1442.5 985.3L1433.4 988.9L1424.6 992.9L1416.1 997.5L1407.8 1002.5L1399.9 1008L1392.3 1013.9L1385 1020.3L1378 1027L1371.3 1033.9L1364.9 1041L1358.9 1048.3L1353.2 1055.4L1347.9 1062.5L1342.9 1069.2L1338.3 1075.6L1334.1 1081.4L1330.3 1086.6L1326.9 1091.1L1323.9 1094.8L1321.5 1097.7L1319.5 1099.7L1318.2 1100.9L1317.5 1101.2Z"/><path d="M1560.3 1090L1561 1089.6L1562.3 1088.4L1564.3 1086.3L1566.7 1083.2L1569.7 1079.2L1573.1 1074.5L1576.9 1068.9L1581.1 1062.8L1585.7 1056.1L1590.7 1049L1596 1041.7L1601.7 1034.3L1607.7 1026.8L1614.1 1019.5L1620.8 1012.5L1627.8 1005.7L1635.1 999.4L1642.7 993.5L1650.6 988.1L1658.9 983.2L1667.4 978.8L1676.2 975L1685.3 971.6L1694.7 968.7L1704.3 966.3L1714.2 964.2L1724.4 962.5L1734.9 961L1745.6 959.9L1756.6 958.9L1767.9 958.2L1779.4 957.6L1791.1 957.2L1803.1 956.8L1803.1 968.6L1791.1 969L1779.4 969.6L1767.9 970.3L1756.6 971.2L1745.6 972.3L1734.9 973.6L1724.4 975.3L1714.2 977.2L1704.3 979.5L1694.7 982.2L1685.3 985.3L1676.2 988.9L1667.4 992.9L1658.9 997.5L1650.6 1002.5L1642.7 1008L1635.1 1013.9L1627.8 1020.3L1620.8 1027L1614.1 1033.9L1607.7 1041L1601.7 1048.3L1596 1055.4L1590.7 1062.5L1585.7 1069.2L1581.1 1075.6L1576.9 1081.4L1573.1 1086.6L1569.7 1091.1L1566.7 1094.8L1564.3 1097.7L1562.3 1099.7L1561 1100.9L1560.3 1101.2Z"/><path d="M1074.7 1090L1075.4 1089.8L1076.7 1089L1078.7 1087.6L1081.1 1085.7L1084.1 1083.1L1087.5 1080.1L1091.3 1076.5L1095.5 1072.6L1100.1 1068.3L1105.1 1063.8L1110.4 1059.2L1116.1 1054.4L1122.1 1049.7L1128.5 1045L1135.2 1040.5L1142.2 1036.2L1149.5 1032.1L1157.1 1028.4L1165 1024.9L1173.3 1021.8L1181.8 1019L1190.6 1016.6L1199.7 1014.4L1209.1 1012.6L1218.7 1011L1228.6 1009.7L1238.8 1008.6L1249.3 1007.7L1260 1006.9L1271 1006.3L1282.3 1005.8L1293.8 1005.5L1305.5 1005.2L1317.5 1005L1317.5 1015.5L1305.5 1015.8L1293.8 1016.1L1282.3 1016.6L1271 1017.2L1260 1017.9L1249.3 1018.8L1238.8 1019.8L1228.6 1021.1L1218.7 1022.5L1209.1 1024.3L1199.7 1026.3L1190.6 1028.6L1181.8 1031.2L1173.3 1034.2L1165 1037.4L1157.1 1041L1149.5 1044.8L1142.2 1048.9L1135.2 1053.2L1128.5 1057.7L1122.1 1062.3L1116.1 1067L1110.4 1071.6L1105.1 1076.2L1100.1 1080.5L1095.5 1084.6L1091.3 1088.4L1087.5 1091.8L1084.1 1094.7L1081.1 1097.1L1078.7 1099L1076.7 1100.3L1075.4 1101L1074.7 1101.2Z"/><path d="M1317.5 1090L1318.2 1089.8L1319.5 1089L1321.5 1087.6L1323.9 1085.7L1326.9 1083.1L1330.3 1080.1L1334.1 1076.5L1338.3 1072.6L1342.9 1068.3L1347.9 1063.8L1353.2 1059.2L1358.9 1054.4L1364.9 1049.7L1371.3 1045L1378 1040.5L1385 1036.2L1392.3 1032.1L1399.9 1028.4L1407.8 1024.9L1416.1 1021.8L1424.6 1019L1433.4 1016.6L1442.5 1014.4L1451.9 1012.6L1461.5 1011L1471.4 1009.7L1481.6 1008.6L1492.1 1007.7L1502.8 1006.9L1513.8 1006.3L1525.1 1005.8L1536.6 1005.5L1548.3 1005.2L1560.3 1005L1560.3 1015.5L1548.3 1015.8L1536.6 1016.1L1525.1 1016.6L1513.8 1017.2L1502.8 1017.9L1492.1 1018.8L1481.6 1019.8L1471.4 1021.1L1461.5 1022.5L1451.9 1024.3L1442.5 1026.3L1433.4 1028.6L1424.6 1031.2L1416.1 1034.2L1407.8 1037.4L1399.9 1041L1392.3 1044.8L1385 1048.9L1378 1053.2L1371.3 1057.7L1364.9 1062.3L1358.9 1067L1353.2 1071.6L1347.9 1076.2L1342.9 1080.5L1338.3 1084.6L1334.1 1088.4L1330.3 1091.8L1326.9 1094.7L1323.9 1097.1L1321.5 1099L1319.5 1100.3L1318.2 1101L1317.5 1101.2Z"/><path d="M1560.3 1090L1561 1089.8L1562.3 1089L1564.3 1087.6L1566.7 1085.7L1569.7 1083.1L1573.1 1080.1L1576.9 1076.5L1581.1 1072.6L1585.7 1068.3L1590.7 1063.8L1596 1059.2L1601.7 1054.4L1607.7 1049.7L1614.1 1045L1620.8 1040.5L1627.8 1036.2L1635.1 1032.1L1642.7 1028.4L1650.6 1024.9L1658.9 1021.8L1667.4 1019L1676.2 1016.6L1685.3 1014.4L1694.7 1012.6L1704.3 1011L1714.2 1009.7L1724.4 1008.6L1734.9 1007.7L1745.6 1006.9L1756.6 1006.3L1767.9 1005.8L1779.4 1005.5L1791.1 1005.2L1803.1 1005L1803.1 1015.5L1791.1 1015.8L1779.4 1016.1L1767.9 1016.6L1756.6 1017.2L1745.6 1017.9L1734.9 1018.8L1724.4 1019.8L1714.2 1021.1L1704.3 1022.5L1694.7 1024.3L1685.3 1026.3L1676.2 1028.6L1667.4 1031.2L1658.9 1034.2L1650.6 1037.4L1642.7 1041L1635.1 1044.8L1627.8 1048.9L1620.8 1053.2L1614.1 1057.7L1607.7 1062.3L1601.7 1067L1596 1071.6L1590.7 1076.2L1585.7 1080.5L1581.1 1084.6L1576.9 1088.4L1573.1 1091.8L1569.7 1094.7L1566.7 1097.1L1564.3 1099L1562.3 1100.3L1561 1101L1560.3 1101.2Z"/><path d="M1074.7 1090L1075.4 1089.9L1076.7 1089.6L1078.7 1089L1081.1 1088.1L1084.1 1087L1087.5 1085.7L1091.3 1084.2L1095.5 1082.5L1100.1 1080.7L1105.1 1078.7L1110.4 1076.7L1116.1 1074.6L1122.1 1072.6L1128.5 1070.6L1135.2 1068.6L1142.2 1066.8L1149.5 1065L1157.1 1063.4L1165 1061.9L1173.3 1060.6L1181.8 1059.4L1190.6 1058.3L1199.7 1057.4L1209.1 1056.6L1218.7 1055.9L1228.6 1055.3L1238.8 1054.9L1249.3 1054.5L1260 1054.1L1271 1053.9L1282.3 1053.7L1293.8 1053.5L1305.5 1053.4L1317.5 1053.3L1317.5 1064.4L1305.5 1064.5L1293.8 1064.7L1282.3 1064.9L1271 1065.1L1260 1065.4L1249.3 1065.8L1238.8 1066.2L1228.6 1066.8L1218.7 1067.4L1209.1 1068.2L1199.7 1069L1190.6 1070L1181.8 1071.2L1173.3 1072.4L1165 1073.8L1157.1 1075.3L1149.5 1077L1142.2 1078.7L1135.2 1080.6L1128.5 1082.5L1122.1 1084.5L1116.1 1086.5L1110.4 1088.5L1105.1 1090.5L1100.1 1092.3L1095.5 1094.1L1091.3 1095.7L1087.5 1097.2L1084.1 1098.4L1081.1 1099.5L1078.7 1100.2L1076.7 1100.8L1075.4 1101.1L1074.7 1101.2Z"/><path d="M1317.5 1090L1318.2 1089.9L1319.5 1089.6L1321.5 1089L1323.9 1088.1L1326.9 1087L1330.3 1085.7L1334.1 1084.2L1338.3 1082.5L1342.9 1080.7L1347.9 1078.7L1353.2 1076.7L1358.9 1074.6L1364.9 1072.6L1371.3 1070.6L1378 1068.6L1385 1066.8L1392.3 1065L1399.9 1063.4L1407.8 1061.9L1416.1 1060.6L1424.6 1059.4L1433.4 1058.3L1442.5 1057.4L1451.9 1056.6L1461.5 1055.9L1471.4 1055.3L1481.6 1054.9L1492.1 1054.5L1502.8 1054.1L1513.8 1053.9L1525.1 1053.7L1536.6 1053.5L1548.3 1053.4L1560.3 1053.3L1560.3 1064.4L1548.3 1064.5L1536.6 1064.7L1525.1 1064.9L1513.8 1065.1L1502.8 1065.4L1492.1 1065.8L1481.6 1066.2L1471.4 1066.8L1461.5 1067.4L1451.9 1068.2L1442.5 1069L1433.4 1070L1424.6 1071.2L1416.1 1072.4L1407.8 1073.8L1399.9 1075.3L1392.3 1077L1385 1078.7L1378 1080.6L1371.3 1082.5L1364.9 1084.5L1358.9 1086.5L1353.2 1088.5L1347.9 1090.5L1342.9 1092.3L1338.3 1094.1L1334.1 1095.7L1330.3 1097.2L1326.9 1098.4L1323.9 1099.5L1321.5 1100.2L1319.5 1100.8L1318.2 1101.1L1317.5 1101.2Z"/><path d="M1560.3 1090L1561 1089.9L1562.3 1089.6L1564.3 1089L1566.7 1088.1L1569.7 1087L1573.1 1085.7L1576.9 1084.2L1581.1 1082.5L1585.7 1080.7L1590.7 1078.7L1596 1076.7L1601.7 1074.6L1607.7 1072.6L1614.1 1070.6L1620.8 1068.6L1627.8 1066.8L1635.1 1065L1642.7 1063.4L1650.6 1061.9L1658.9 1060.6L1667.4 1059.4L1676.2 1058.3L1685.3 1057.4L1694.7 1056.6L1704.3 1055.9L1714.2 1055.3L1724.4 1054.9L1734.9 1054.5L1745.6 1054.1L1756.6 1053.9L1767.9 1053.7L1779.4 1053.5L1791.1 1053.4L1803.1 1053.3L1803.1 1064.4L1791.1 1064.5L1779.4 1064.7L1767.9 1064.9L1756.6 1065.1L1745.6 1065.4L1734.9 1065.8L1724.4 1066.2L1714.2 1066.8L1704.3 1067.4L1694.7 1068.2L1685.3 1069L1676.2 1070L1667.4 1071.2L1658.9 1072.4L1650.6 1073.8L1642.7 1075.3L1635.1 1077L1627.8 1078.7L1620.8 1080.6L1614.1 1082.5L1607.7 1084.5L1601.7 1086.5L1596 1088.5L1590.7 1090.5L1585.7 1092.3L1581.1 1094.1L1576.9 1095.7L1573.1 1097.2L1569.7 1098.4L1566.7 1099.5L1564.3 1100.2L1562.3 1100.8L1561 1101.1L1560.3 1101.2Z"/><rect x="1245.9" y="949.6" width="534.2" height="11.4"/><rect x="1245.9" y="1001.5" width="534.2" height="11"/><rect x="1245.9" y="1050" width="534.2" height="11"/><rect x="1245.9" y="1100" width="534.2" height="10.4"/><path d="M1074.7 962.9L1075.7 963.2L1077.8 964L1080.9 965.4L1084.8 967.4L1089.5 969.9L1094.8 972.7L1100.8 975.7L1107.5 978.8L1114.7 981.9L1122.6 984.8L1131 987.4L1140 989.8L1149.5 991.8L1159.5 993.4L1170.1 994.8L1181.1 995.8L1192.7 996.6L1204.7 997.2L1217.2 997.7L1230.2 998L1243.6 998.2L1257.5 998.3L1271.9 998.4L1286.7 998.4L1301.9 998.5L1317.5 998.5L1317.5 1003.6L1301.9 1003.6L1286.7 1003.5L1271.9 1003.5L1257.5 1003.4L1243.6 1003.3L1230.2 1003.1L1217.2 1002.8L1204.7 1002.4L1192.7 1001.8L1181.1 1001L1170.1 999.9L1159.5 998.6L1149.5 997L1140 995L1131 992.7L1122.6 990.1L1114.7 987.3L1107.5 984.3L1100.8 981.2L1094.8 978.2L1089.5 975.5L1084.8 973L1080.9 971.1L1077.8 969.7L1075.7 968.8L1074.7 968.6Z"/><path d="M1317.5 962.9L1318.5 963.2L1320.6 964L1323.7 965.4L1327.6 967.4L1332.3 969.9L1337.6 972.7L1343.6 975.7L1350.3 978.8L1357.5 981.9L1365.4 984.8L1373.8 987.4L1382.8 989.8L1392.3 991.8L1402.3 993.4L1412.9 994.8L1423.9 995.8L1435.5 996.6L1447.5 997.2L1460 997.7L1473 998L1486.4 998.2L1500.3 998.3L1514.7 998.4L1529.5 998.4L1544.7 998.5L1560.3 998.5L1560.3 1003.6L1544.7 1003.6L1529.5 1003.5L1514.7 1003.5L1500.3 1003.4L1486.4 1003.3L1473 1003.1L1460 1002.8L1447.5 1002.4L1435.5 1001.8L1423.9 1001L1412.9 999.9L1402.3 998.6L1392.3 997L1382.8 995L1373.8 992.7L1365.4 990.1L1357.5 987.3L1350.3 984.3L1343.6 981.2L1337.6 978.2L1332.3 975.5L1327.6 973L1323.7 971.1L1320.6 969.7L1318.5 968.8L1317.5 968.6Z"/><path d="M1560.3 962.9L1561.3 963.2L1563.4 964L1566.5 965.4L1570.4 967.4L1575.1 969.9L1580.4 972.7L1586.4 975.7L1593.1 978.8L1600.3 981.9L1608.2 984.8L1616.6 987.4L1625.6 989.8L1635.1 991.8L1645.1 993.4L1655.7 994.8L1666.7 995.8L1678.3 996.6L1690.3 997.2L1702.8 997.7L1715.8 998L1729.2 998.2L1743.1 998.3L1757.5 998.4L1772.3 998.4L1787.5 998.5L1803.1 998.5L1803.1 1003.6L1787.5 1003.6L1772.3 1003.5L1757.5 1003.5L1743.1 1003.4L1729.2 1003.3L1715.8 1003.1L1702.8 1002.8L1690.3 1002.4L1678.3 1001.8L1666.7 1001L1655.7 999.9L1645.1 998.6L1635.1 997L1625.6 995L1616.6 992.7L1608.2 990.1L1600.3 987.3L1593.1 984.3L1586.4 981.2L1580.4 978.2L1575.1 975.5L1570.4 973L1566.5 971.1L1563.4 969.7L1561.3 968.8L1560.3 968.6Z"/><path d="M1074.7 962.9L1075.7 963.5L1077.8 965.5L1080.9 968.8L1084.8 973.5L1089.5 979.3L1094.8 985.9L1100.8 993L1107.5 1000.3L1114.7 1007.5L1122.6 1014.3L1131 1020.5L1140 1026L1149.5 1030.7L1159.5 1034.6L1170.1 1037.8L1181.1 1040.2L1192.7 1042.1L1204.7 1043.5L1217.2 1044.5L1230.2 1045.2L1243.6 1045.7L1257.5 1046L1271.9 1046.2L1286.7 1046.4L1301.9 1046.5L1317.5 1046.5L1317.5 1051.9L1301.9 1051.8L1286.7 1051.7L1271.9 1051.6L1257.5 1051.4L1243.6 1051.1L1230.2 1050.6L1217.2 1049.9L1204.7 1048.9L1192.7 1047.5L1181.1 1045.6L1170.1 1043.2L1159.5 1040L1149.5 1036.1L1140 1031.4L1131 1025.9L1122.6 1019.8L1114.7 1013L1107.5 1005.8L1100.8 998.6L1094.8 991.5L1089.5 984.9L1084.8 979.2L1080.9 974.5L1077.8 971.2L1075.7 969.2L1074.7 968.6Z"/><path d="M1317.5 962.9L1318.5 963.5L1320.6 965.5L1323.7 968.8L1327.6 973.5L1332.3 979.3L1337.6 985.9L1343.6 993L1350.3 1000.3L1357.5 1007.5L1365.4 1014.3L1373.8 1020.5L1382.8 1026L1392.3 1030.7L1402.3 1034.6L1412.9 1037.8L1423.9 1040.2L1435.5 1042.1L1447.5 1043.5L1460 1044.5L1473 1045.2L1486.4 1045.7L1500.3 1046L1514.7 1046.2L1529.5 1046.4L1544.7 1046.5L1560.3 1046.5L1560.3 1051.9L1544.7 1051.8L1529.5 1051.7L1514.7 1051.6L1500.3 1051.4L1486.4 1051.1L1473 1050.6L1460 1049.9L1447.5 1048.9L1435.5 1047.5L1423.9 1045.6L1412.9 1043.2L1402.3 1040L1392.3 1036.1L1382.8 1031.4L1373.8 1025.9L1365.4 1019.8L1357.5 1013L1350.3 1005.8L1343.6 998.6L1337.6 991.5L1332.3 984.9L1327.6 979.2L1323.7 974.5L1320.6 971.2L1318.5 969.2L1317.5 968.6Z"/><path d="M1560.3 962.9L1561.3 963.5L1563.4 965.5L1566.5 968.8L1570.4 973.5L1575.1 979.3L1580.4 985.9L1586.4 993L1593.1 1000.3L1600.3 1007.5L1608.2 1014.3L1616.6 1020.5L1625.6 1026L1635.1 1030.7L1645.1 1034.6L1655.7 1037.8L1666.7 1040.2L1678.3 1042.1L1690.3 1043.5L1702.8 1044.5L1715.8 1045.2L1729.2 1045.7L1743.1 1046L1757.5 1046.2L1772.3 1046.4L1787.5 1046.5L1803.1 1046.5L1803.1 1051.9L1787.5 1051.8L1772.3 1051.7L1757.5 1051.6L1743.1 1051.4L1729.2 1051.1L1715.8 1050.6L1702.8 1049.9L1690.3 1048.9L1678.3 1047.5L1666.7 1045.6L1655.7 1043.2L1645.1 1040L1635.1 1036.1L1625.6 1031.4L1616.6 1025.9L1608.2 1019.8L1600.3 1013L1593.1 1005.8L1586.4 998.6L1580.4 991.5L1575.1 984.9L1570.4 979.2L1566.5 974.5L1563.4 971.2L1561.3 969.2L1560.3 968.6Z"/><path d="M1074.7 962.9L1075.7 963.8L1077.8 966.8L1080.9 971.9L1084.8 979L1089.5 987.8L1094.8 997.9L1100.8 1008.7L1107.5 1019.7L1114.7 1030.7L1122.6 1041L1131 1050.4L1140 1058.8L1149.5 1066L1159.5 1071.9L1170.1 1076.7L1181.1 1080.5L1192.7 1083.4L1204.7 1085.5L1217.2 1087L1230.2 1088.1L1243.6 1088.8L1257.5 1089.3L1271.9 1089.6L1286.7 1089.8L1301.9 1089.9L1317.5 1090L1317.5 1096.1L1301.9 1096L1286.7 1095.9L1271.9 1095.7L1257.5 1095.4L1243.6 1094.9L1230.2 1094.2L1217.2 1093.1L1204.7 1091.6L1192.7 1089.5L1181.1 1086.6L1170.1 1082.8L1159.5 1078L1149.5 1072L1140 1064.8L1131 1056.4L1122.6 1046.9L1114.7 1036.6L1107.5 1025.6L1100.8 1014.5L1094.8 1003.7L1089.5 993.6L1084.8 984.8L1080.9 977.7L1077.8 972.5L1075.7 969.5L1074.7 968.6Z"/><path d="M1317.5 962.9L1318.5 963.8L1320.6 966.8L1323.7 971.9L1327.6 979L1332.3 987.8L1337.6 997.9L1343.6 1008.7L1350.3 1019.7L1357.5 1030.7L1365.4 1041L1373.8 1050.4L1382.8 1058.8L1392.3 1066L1402.3 1071.9L1412.9 1076.7L1423.9 1080.5L1435.5 1083.4L1447.5 1085.5L1460 1087L1473 1088.1L1486.4 1088.8L1500.3 1089.3L1514.7 1089.6L1529.5 1089.8L1544.7 1089.9L1560.3 1090L1560.3 1096.1L1544.7 1096L1529.5 1095.9L1514.7 1095.7L1500.3 1095.4L1486.4 1094.9L1473 1094.2L1460 1093.1L1447.5 1091.6L1435.5 1089.5L1423.9 1086.6L1412.9 1082.8L1402.3 1078L1392.3 1072L1382.8 1064.8L1373.8 1056.4L1365.4 1046.9L1357.5 1036.6L1350.3 1025.6L1343.6 1014.5L1337.6 1003.7L1332.3 993.6L1327.6 984.8L1323.7 977.7L1320.6 972.5L1318.5 969.5L1317.5 968.6Z"/><path d="M1560.3 962.9L1561.3 963.8L1563.4 966.8L1566.5 971.9L1570.4 979L1575.1 987.8L1580.4 997.9L1586.4 1008.7L1593.1 1019.7L1600.3 1030.7L1608.2 1041L1616.6 1050.4L1625.6 1058.8L1635.1 1066L1645.1 1071.9L1655.7 1076.7L1666.7 1080.5L1678.3 1083.4L1690.3 1085.5L1702.8 1087L1715.8 1088.1L1729.2 1088.8L1743.1 1089.3L1757.5 1089.6L1772.3 1089.8L1787.5 1089.9L1803.1 1090L1803.1 1096.1L1787.5 1096L1772.3 1095.9L1757.5 1095.7L1743.1 1095.4L1729.2 1094.9L1715.8 1094.2L1702.8 1093.1L1690.3 1091.6L1678.3 1089.5L1666.7 1086.6L1655.7 1082.8L1645.1 1078L1635.1 1072L1625.6 1064.8L1616.6 1056.4L1608.2 1046.9L1600.3 1036.6L1593.1 1025.6L1586.4 1014.5L1580.4 1003.7L1575.1 993.6L1570.4 984.8L1566.5 977.7L1563.4 972.5L1561.3 969.5L1560.3 968.6Z"/><path d="M1074.7 998.5L1075.7 998.2L1077.8 997.4L1080.9 996L1084.8 994L1089.5 991.5L1094.8 988.7L1100.8 985.7L1107.5 982.6L1114.7 979.5L1122.6 976.6L1131 974L1140 971.6L1149.5 969.6L1159.5 968L1170.1 966.6L1181.1 965.6L1192.7 964.8L1204.7 964.2L1217.2 963.7L1230.2 963.4L1243.6 963.2L1257.5 963.1L1271.9 963L1286.7 963L1301.9 962.9L1317.5 962.9L1317.5 968.6L1301.9 968.6L1286.7 968.7L1271.9 968.7L1257.5 968.8L1243.6 968.9L1230.2 969.1L1217.2 969.4L1204.7 969.8L1192.7 970.4L1181.1 971.2L1170.1 972.3L1159.5 973.6L1149.5 975.2L1140 977.2L1131 979.5L1122.6 982.1L1114.7 984.9L1107.5 987.9L1100.8 991L1094.8 994L1089.5 996.7L1084.8 999.2L1080.9 1001.1L1077.8 1002.5L1075.7 1003.4L1074.7 1003.6Z"/><path d="M1317.5 998.5L1318.5 998.2L1320.6 997.4L1323.7 996L1327.6 994L1332.3 991.5L1337.6 988.7L1343.6 985.7L1350.3 982.6L1357.5 979.5L1365.4 976.6L1373.8 974L1382.8 971.6L1392.3 969.6L1402.3 968L1412.9 966.6L1423.9 965.6L1435.5 964.8L1447.5 964.2L1460 963.7L1473 963.4L1486.4 963.2L1500.3 963.1L1514.7 963L1529.5 963L1544.7 962.9L1560.3 962.9L1560.3 968.6L1544.7 968.6L1529.5 968.7L1514.7 968.7L1500.3 968.8L1486.4 968.9L1473 969.1L1460 969.4L1447.5 969.8L1435.5 970.4L1423.9 971.2L1412.9 972.3L1402.3 973.6L1392.3 975.2L1382.8 977.2L1373.8 979.5L1365.4 982.1L1357.5 984.9L1350.3 987.9L1343.6 991L1337.6 994L1332.3 996.7L1327.6 999.2L1323.7 1001.1L1320.6 1002.5L1318.5 1003.4L1317.5 1003.6Z"/><path d="M1560.3 998.5L1561.3 998.2L1563.4 997.4L1566.5 996L1570.4 994L1575.1 991.5L1580.4 988.7L1586.4 985.7L1593.1 982.6L1600.3 979.5L1608.2 976.6L1616.6 974L1625.6 971.6L1635.1 969.6L1645.1 968L1655.7 966.6L1666.7 965.6L1678.3 964.8L1690.3 964.2L1702.8 963.7L1715.8 963.4L1729.2 963.2L1743.1 963.1L1757.5 963L1772.3 963L1787.5 962.9L1803.1 962.9L1803.1 968.6L1787.5 968.6L1772.3 968.7L1757.5 968.7L1743.1 968.8L1729.2 968.9L1715.8 969.1L1702.8 969.4L1690.3 969.8L1678.3 970.4L1666.7 971.2L1655.7 972.3L1645.1 973.6L1635.1 975.2L1625.6 977.2L1616.6 979.5L1608.2 982.1L1600.3 984.9L1593.1 987.9L1586.4 991L1580.4 994L1575.1 996.7L1570.4 999.2L1566.5 1001.1L1563.4 1002.5L1561.3 1003.4L1560.3 1003.6Z"/><path d="M1074.7 1010.4L1075.7 1010.7L1077.8 1011.5L1080.9 1013L1084.8 1015L1089.5 1017.5L1094.8 1020.3L1100.8 1023.4L1107.5 1026.5L1114.7 1029.6L1122.6 1032.6L1131 1035.3L1140 1037.6L1149.5 1039.7L1159.5 1041.4L1170.1 1042.7L1181.1 1043.8L1192.7 1044.6L1204.7 1045.2L1217.2 1045.7L1230.2 1046L1243.6 1046.2L1257.5 1046.3L1271.9 1046.4L1286.7 1046.4L1301.9 1046.5L1317.5 1046.5L1317.5 1051.9L1301.9 1051.8L1286.7 1051.8L1271.9 1051.8L1257.5 1051.7L1243.6 1051.5L1230.2 1051.3L1217.2 1051L1204.7 1050.6L1192.7 1050L1181.1 1049.1L1170.1 1048.1L1159.5 1046.7L1149.5 1045L1140 1042.9L1131 1040.5L1122.6 1037.8L1114.7 1034.9L1107.5 1031.8L1100.8 1028.6L1094.8 1025.5L1089.5 1022.6L1084.8 1020.1L1080.9 1018.1L1077.8 1016.6L1075.7 1015.8L1074.7 1015.5Z"/><path d="M1317.5 1010.4L1318.5 1010.7L1320.6 1011.5L1323.7 1013L1327.6 1015L1332.3 1017.5L1337.6 1020.3L1343.6 1023.4L1350.3 1026.5L1357.5 1029.6L1365.4 1032.6L1373.8 1035.3L1382.8 1037.6L1392.3 1039.7L1402.3 1041.4L1412.9 1042.7L1423.9 1043.8L1435.5 1044.6L1447.5 1045.2L1460 1045.7L1473 1046L1486.4 1046.2L1500.3 1046.3L1514.7 1046.4L1529.5 1046.4L1544.7 1046.5L1560.3 1046.5L1560.3 1051.9L1544.7 1051.8L1529.5 1051.8L1514.7 1051.8L1500.3 1051.7L1486.4 1051.5L1473 1051.3L1460 1051L1447.5 1050.6L1435.5 1050L1423.9 1049.1L1412.9 1048.1L1402.3 1046.7L1392.3 1045L1382.8 1042.9L1373.8 1040.5L1365.4 1037.8L1357.5 1034.9L1350.3 1031.8L1343.6 1028.6L1337.6 1025.5L1332.3 1022.6L1327.6 1020.1L1323.7 1018.1L1320.6 1016.6L1318.5 1015.8L1317.5 1015.5Z"/><path d="M1560.3 1010.4L1561.3 1010.7L1563.4 1011.5L1566.5 1013L1570.4 1015L1575.1 1017.5L1580.4 1020.3L1586.4 1023.4L1593.1 1026.5L1600.3 1029.6L1608.2 1032.6L1616.6 1035.3L1625.6 1037.6L1635.1 1039.7L1645.1 1041.4L1655.7 1042.7L1666.7 1043.8L1678.3 1044.6L1690.3 1045.2L1702.8 1045.7L1715.8 1046L1729.2 1046.2L1743.1 1046.3L1757.5 1046.4L1772.3 1046.4L1787.5 1046.5L1803.1 1046.5L1803.1 1051.9L1787.5 1051.8L1772.3 1051.8L1757.5 1051.8L1743.1 1051.7L1729.2 1051.5L1715.8 1051.3L1702.8 1051L1690.3 1050.6L1678.3 1050L1666.7 1049.1L1655.7 1048.1L1645.1 1046.7L1635.1 1045L1625.6 1042.9L1616.6 1040.5L1608.2 1037.8L1600.3 1034.9L1593.1 1031.8L1586.4 1028.6L1580.4 1025.5L1575.1 1022.6L1570.4 1020.1L1566.5 1018.1L1563.4 1016.6L1561.3 1015.8L1560.3 1015.5Z"/><path d="M1074.7 1010.4L1075.7 1011L1077.8 1012.8L1080.9 1016.1L1084.8 1020.5L1089.5 1026L1094.8 1032.3L1100.8 1039.1L1107.5 1046L1114.7 1052.8L1122.6 1059.3L1131 1065.2L1140 1070.5L1149.5 1074.9L1159.5 1078.7L1170.1 1081.7L1181.1 1084L1192.7 1085.8L1204.7 1087.2L1217.2 1088.1L1230.2 1088.8L1243.6 1089.3L1257.5 1089.6L1271.9 1089.8L1286.7 1089.9L1301.9 1090L1317.5 1090L1317.5 1096.1L1301.9 1096.1L1286.7 1096L1271.9 1095.9L1257.5 1095.7L1243.6 1095.4L1230.2 1094.9L1217.2 1094.2L1204.7 1093.3L1192.7 1091.9L1181.1 1090.1L1170.1 1087.7L1159.5 1084.6L1149.5 1080.9L1140 1076.3L1131 1071L1122.6 1065L1114.7 1058.5L1107.5 1051.6L1100.8 1044.5L1094.8 1037.7L1089.5 1031.3L1084.8 1025.7L1080.9 1021.2L1077.8 1018L1075.7 1016.1L1074.7 1015.5Z"/><path d="M1317.5 1010.4L1318.5 1011L1320.6 1012.8L1323.7 1016.1L1327.6 1020.5L1332.3 1026L1337.6 1032.3L1343.6 1039.1L1350.3 1046L1357.5 1052.8L1365.4 1059.3L1373.8 1065.2L1382.8 1070.5L1392.3 1074.9L1402.3 1078.7L1412.9 1081.7L1423.9 1084L1435.5 1085.8L1447.5 1087.2L1460 1088.1L1473 1088.8L1486.4 1089.3L1500.3 1089.6L1514.7 1089.8L1529.5 1089.9L1544.7 1090L1560.3 1090L1560.3 1096.1L1544.7 1096.1L1529.5 1096L1514.7 1095.9L1500.3 1095.7L1486.4 1095.4L1473 1094.9L1460 1094.2L1447.5 1093.3L1435.5 1091.9L1423.9 1090.1L1412.9 1087.7L1402.3 1084.6L1392.3 1080.9L1382.8 1076.3L1373.8 1071L1365.4 1065L1357.5 1058.5L1350.3 1051.6L1343.6 1044.5L1337.6 1037.7L1332.3 1031.3L1327.6 1025.7L1323.7 1021.2L1320.6 1018L1318.5 1016.1L1317.5 1015.5Z"/><path d="M1560.3 1010.4L1561.3 1011L1563.4 1012.8L1566.5 1016.1L1570.4 1020.5L1575.1 1026L1580.4 1032.3L1586.4 1039.1L1593.1 1046L1600.3 1052.8L1608.2 1059.3L1616.6 1065.2L1625.6 1070.5L1635.1 1074.9L1645.1 1078.7L1655.7 1081.7L1666.7 1084L1678.3 1085.8L1690.3 1087.2L1702.8 1088.1L1715.8 1088.8L1729.2 1089.3L1743.1 1089.6L1757.5 1089.8L1772.3 1089.9L1787.5 1090L1803.1 1090L1803.1 1096.1L1787.5 1096.1L1772.3 1096L1757.5 1095.9L1743.1 1095.7L1729.2 1095.4L1715.8 1094.9L1702.8 1094.2L1690.3 1093.3L1678.3 1091.9L1666.7 1090.1L1655.7 1087.7L1645.1 1084.6L1635.1 1080.9L1625.6 1076.3L1616.6 1071L1608.2 1065L1600.3 1058.5L1593.1 1051.6L1586.4 1044.5L1580.4 1037.7L1575.1 1031.3L1570.4 1025.7L1566.5 1021.2L1563.4 1018L1561.3 1016.1L1560.3 1015.5Z"/><path d="M1074.7 1046.5L1075.7 1045.9L1077.8 1043.9L1080.9 1040.6L1084.8 1035.9L1089.5 1030.1L1094.8 1023.5L1100.8 1016.4L1107.5 1009.1L1114.7 1001.9L1122.6 995.1L1131 988.9L1140 983.4L1149.5 978.7L1159.5 974.8L1170.1 971.6L1181.1 969.2L1192.7 967.3L1204.7 965.9L1217.2 964.9L1230.2 964.2L1243.6 963.7L1257.5 963.4L1271.9 963.2L1286.7 963L1301.9 962.9L1317.5 962.9L1317.5 968.6L1301.9 968.6L1286.7 968.7L1271.9 968.9L1257.5 969.1L1243.6 969.4L1230.2 969.9L1217.2 970.6L1204.7 971.6L1192.7 973L1181.1 974.8L1170.1 977.3L1159.5 980.5L1149.5 984.4L1140 989L1131 994.5L1122.6 1000.7L1114.7 1007.5L1107.5 1014.6L1100.8 1021.9L1094.8 1029L1089.5 1035.5L1084.8 1041.3L1080.9 1046L1077.8 1049.3L1075.7 1051.3L1074.7 1051.9Z"/><path d="M1317.5 1046.5L1318.5 1045.9L1320.6 1043.9L1323.7 1040.6L1327.6 1035.9L1332.3 1030.1L1337.6 1023.5L1343.6 1016.4L1350.3 1009.1L1357.5 1001.9L1365.4 995.1L1373.8 988.9L1382.8 983.4L1392.3 978.7L1402.3 974.8L1412.9 971.6L1423.9 969.2L1435.5 967.3L1447.5 965.9L1460 964.9L1473 964.2L1486.4 963.7L1500.3 963.4L1514.7 963.2L1529.5 963L1544.7 962.9L1560.3 962.9L1560.3 968.6L1544.7 968.6L1529.5 968.7L1514.7 968.9L1500.3 969.1L1486.4 969.4L1473 969.9L1460 970.6L1447.5 971.6L1435.5 973L1423.9 974.8L1412.9 977.3L1402.3 980.5L1392.3 984.4L1382.8 989L1373.8 994.5L1365.4 1000.7L1357.5 1007.5L1350.3 1014.6L1343.6 1021.9L1337.6 1029L1332.3 1035.5L1327.6 1041.3L1323.7 1046L1320.6 1049.3L1318.5 1051.3L1317.5 1051.9Z"/><path d="M1560.3 1046.5L1561.3 1045.9L1563.4 1043.9L1566.5 1040.6L1570.4 1035.9L1575.1 1030.1L1580.4 1023.5L1586.4 1016.4L1593.1 1009.1L1600.3 1001.9L1608.2 995.1L1616.6 988.9L1625.6 983.4L1635.1 978.7L1645.1 974.8L1655.7 971.6L1666.7 969.2L1678.3 967.3L1690.3 965.9L1702.8 964.9L1715.8 964.2L1729.2 963.7L1743.1 963.4L1757.5 963.2L1772.3 963L1787.5 962.9L1803.1 962.9L1803.1 968.6L1787.5 968.6L1772.3 968.7L1757.5 968.9L1743.1 969.1L1729.2 969.4L1715.8 969.9L1702.8 970.6L1690.3 971.6L1678.3 973L1666.7 974.8L1655.7 977.3L1645.1 980.5L1635.1 984.4L1625.6 989L1616.6 994.5L1608.2 1000.7L1600.3 1007.5L1593.1 1014.6L1586.4 1021.9L1580.4 1029L1575.1 1035.5L1570.4 1041.3L1566.5 1046L1563.4 1049.3L1561.3 1051.3L1560.3 1051.9Z"/><path d="M1074.7 1046.5L1075.7 1046.2L1077.8 1045.4L1080.9 1043.9L1084.8 1041.9L1089.5 1039.4L1094.8 1036.6L1100.8 1033.5L1107.5 1030.4L1114.7 1027.3L1122.6 1024.3L1131 1021.6L1140 1019.3L1149.5 1017.2L1159.5 1015.5L1170.1 1014.2L1181.1 1013.1L1192.7 1012.3L1204.7 1011.7L1217.2 1011.2L1230.2 1010.9L1243.6 1010.7L1257.5 1010.6L1271.9 1010.5L1286.7 1010.5L1301.9 1010.4L1317.5 1010.4L1317.5 1015.5L1301.9 1015.5L1286.7 1015.6L1271.9 1015.6L1257.5 1015.7L1243.6 1015.8L1230.2 1016L1217.2 1016.4L1204.7 1016.8L1192.7 1017.4L1181.1 1018.2L1170.1 1019.3L1159.5 1020.7L1149.5 1022.4L1140 1024.4L1131 1026.8L1122.6 1029.5L1114.7 1032.5L1107.5 1035.6L1100.8 1038.8L1094.8 1041.9L1089.5 1044.7L1084.8 1047.2L1080.9 1049.3L1077.8 1050.8L1075.7 1051.6L1074.7 1051.9Z"/><path d="M1317.5 1046.5L1318.5 1046.2L1320.6 1045.4L1323.7 1043.9L1327.6 1041.9L1332.3 1039.4L1337.6 1036.6L1343.6 1033.5L1350.3 1030.4L1357.5 1027.3L1365.4 1024.3L1373.8 1021.6L1382.8 1019.3L1392.3 1017.2L1402.3 1015.5L1412.9 1014.2L1423.9 1013.1L1435.5 1012.3L1447.5 1011.7L1460 1011.2L1473 1010.9L1486.4 1010.7L1500.3 1010.6L1514.7 1010.5L1529.5 1010.5L1544.7 1010.4L1560.3 1010.4L1560.3 1015.5L1544.7 1015.5L1529.5 1015.6L1514.7 1015.6L1500.3 1015.7L1486.4 1015.8L1473 1016L1460 1016.4L1447.5 1016.8L1435.5 1017.4L1423.9 1018.2L1412.9 1019.3L1402.3 1020.7L1392.3 1022.4L1382.8 1024.4L1373.8 1026.8L1365.4 1029.5L1357.5 1032.5L1350.3 1035.6L1343.6 1038.8L1337.6 1041.9L1332.3 1044.7L1327.6 1047.2L1323.7 1049.3L1320.6 1050.8L1318.5 1051.6L1317.5 1051.9Z"/><path d="M1560.3 1046.5L1561.3 1046.2L1563.4 1045.4L1566.5 1043.9L1570.4 1041.9L1575.1 1039.4L1580.4 1036.6L1586.4 1033.5L1593.1 1030.4L1600.3 1027.3L1608.2 1024.3L1616.6 1021.6L1625.6 1019.3L1635.1 1017.2L1645.1 1015.5L1655.7 1014.2L1666.7 1013.1L1678.3 1012.3L1690.3 1011.7L1702.8 1011.2L1715.8 1010.9L1729.2 1010.7L1743.1 1010.6L1757.5 1010.5L1772.3 1010.5L1787.5 1010.4L1803.1 1010.4L1803.1 1015.5L1787.5 1015.5L1772.3 1015.6L1757.5 1015.6L1743.1 1015.7L1729.2 1015.8L1715.8 1016L1702.8 1016.4L1690.3 1016.8L1678.3 1017.4L1666.7 1018.2L1655.7 1019.3L1645.1 1020.7L1635.1 1022.4L1625.6 1024.4L1616.6 1026.8L1608.2 1029.5L1600.3 1032.5L1593.1 1035.6L1586.4 1038.8L1580.4 1041.9L1575.1 1044.7L1570.4 1047.2L1566.5 1049.3L1563.4 1050.8L1561.3 1051.6L1560.3 1051.9Z"/><path d="M1074.7 1059L1075.7 1059.3L1077.8 1060L1080.9 1061.2L1084.8 1063L1089.5 1065.1L1094.8 1067.5L1100.8 1070.2L1107.5 1072.9L1114.7 1075.5L1122.6 1078.1L1131 1080.4L1140 1082.4L1149.5 1084.1L1159.5 1085.6L1170.1 1086.8L1181.1 1087.7L1192.7 1088.4L1204.7 1088.9L1217.2 1089.3L1230.2 1089.5L1243.6 1089.7L1257.5 1089.8L1271.9 1089.9L1286.7 1090L1301.9 1090L1317.5 1090L1317.5 1096.1L1301.9 1096.1L1286.7 1096.1L1271.9 1096L1257.5 1095.9L1243.6 1095.8L1230.2 1095.6L1217.2 1095.4L1204.7 1095L1192.7 1094.5L1181.1 1093.7L1170.1 1092.8L1159.5 1091.6L1149.5 1090.1L1140 1088.3L1131 1086.2L1122.6 1083.9L1114.7 1081.3L1107.5 1078.6L1100.8 1075.8L1094.8 1073.1L1089.5 1070.6L1084.8 1068.4L1080.9 1066.7L1077.8 1065.4L1075.7 1064.6L1074.7 1064.4Z"/><path d="M1317.5 1059L1318.5 1059.3L1320.6 1060L1323.7 1061.2L1327.6 1063L1332.3 1065.1L1337.6 1067.5L1343.6 1070.2L1350.3 1072.9L1357.5 1075.5L1365.4 1078.1L1373.8 1080.4L1382.8 1082.4L1392.3 1084.1L1402.3 1085.6L1412.9 1086.8L1423.9 1087.7L1435.5 1088.4L1447.5 1088.9L1460 1089.3L1473 1089.5L1486.4 1089.7L1500.3 1089.8L1514.7 1089.9L1529.5 1090L1544.7 1090L1560.3 1090L1560.3 1096.1L1544.7 1096.1L1529.5 1096.1L1514.7 1096L1500.3 1095.9L1486.4 1095.8L1473 1095.6L1460 1095.4L1447.5 1095L1435.5 1094.5L1423.9 1093.7L1412.9 1092.8L1402.3 1091.6L1392.3 1090.1L1382.8 1088.3L1373.8 1086.2L1365.4 1083.9L1357.5 1081.3L1350.3 1078.6L1343.6 1075.8L1337.6 1073.1L1332.3 1070.6L1327.6 1068.4L1323.7 1066.7L1320.6 1065.4L1318.5 1064.6L1317.5 1064.4Z"/><path d="M1560.3 1059L1561.3 1059.3L1563.4 1060L1566.5 1061.2L1570.4 1063L1575.1 1065.1L1580.4 1067.5L1586.4 1070.2L1593.1 1072.9L1600.3 1075.5L1608.2 1078.1L1616.6 1080.4L1625.6 1082.4L1635.1 1084.1L1645.1 1085.6L1655.7 1086.8L1666.7 1087.7L1678.3 1088.4L1690.3 1088.9L1702.8 1089.3L1715.8 1089.5L1729.2 1089.7L1743.1 1089.8L1757.5 1089.9L1772.3 1090L1787.5 1090L1803.1 1090L1803.1 1096.1L1787.5 1096.1L1772.3 1096.1L1757.5 1096L1743.1 1095.9L1729.2 1095.8L1715.8 1095.6L1702.8 1095.4L1690.3 1095L1678.3 1094.5L1666.7 1093.7L1655.7 1092.8L1645.1 1091.6L1635.1 1090.1L1625.6 1088.3L1616.6 1086.2L1608.2 1083.9L1600.3 1081.3L1593.1 1078.6L1586.4 1075.8L1580.4 1073.1L1575.1 1070.6L1570.4 1068.4L1566.5 1066.7L1563.4 1065.4L1561.3 1064.6L1560.3 1064.4Z"/><path d="M1074.7 1090L1075.7 1089.1L1077.8 1086.1L1080.9 1081L1084.8 1073.9L1089.5 1065.1L1094.8 1055L1100.8 1044.2L1107.5 1033.2L1114.7 1022.2L1122.6 1011.9L1131 1002.5L1140 994.1L1149.5 986.9L1159.5 981L1170.1 976.2L1181.1 972.4L1192.7 969.5L1204.7 967.4L1217.2 965.9L1230.2 964.8L1243.6 964.1L1257.5 963.6L1271.9 963.3L1286.7 963.1L1301.9 963L1317.5 962.9L1317.5 968.6L1301.9 968.7L1286.7 968.8L1271.9 969L1257.5 969.3L1243.6 969.8L1230.2 970.5L1217.2 971.6L1204.7 973.1L1192.7 975.3L1181.1 978.1L1170.1 981.9L1159.5 986.7L1149.5 992.7L1140 999.9L1131 1008.3L1122.6 1017.8L1114.7 1028.1L1107.5 1039.1L1100.8 1050.2L1094.8 1061L1089.5 1071.1L1084.8 1079.9L1080.9 1087.1L1077.8 1092.2L1075.7 1095.2L1074.7 1096.1Z"/><path d="M1317.5 1090L1318.5 1089.1L1320.6 1086.1L1323.7 1081L1327.6 1073.9L1332.3 1065.1L1337.6 1055L1343.6 1044.2L1350.3 1033.2L1357.5 1022.2L1365.4 1011.9L1373.8 1002.5L1382.8 994.1L1392.3 986.9L1402.3 981L1412.9 976.2L1423.9 972.4L1435.5 969.5L1447.5 967.4L1460 965.9L1473 964.8L1486.4 964.1L1500.3 963.6L1514.7 963.3L1529.5 963.1L1544.7 963L1560.3 962.9L1560.3 968.6L1544.7 968.7L1529.5 968.8L1514.7 969L1500.3 969.3L1486.4 969.8L1473 970.5L1460 971.6L1447.5 973.1L1435.5 975.3L1423.9 978.1L1412.9 981.9L1402.3 986.7L1392.3 992.7L1382.8 999.9L1373.8 1008.3L1365.4 1017.8L1357.5 1028.1L1350.3 1039.1L1343.6 1050.2L1337.6 1061L1332.3 1071.1L1327.6 1079.9L1323.7 1087.1L1320.6 1092.2L1318.5 1095.2L1317.5 1096.1Z"/><path d="M1560.3 1090L1561.3 1089.1L1563.4 1086.1L1566.5 1081L1570.4 1073.9L1575.1 1065.1L1580.4 1055L1586.4 1044.2L1593.1 1033.2L1600.3 1022.2L1608.2 1011.9L1616.6 1002.5L1625.6 994.1L1635.1 986.9L1645.1 981L1655.7 976.2L1666.7 972.4L1678.3 969.5L1690.3 967.4L1702.8 965.9L1715.8 964.8L1729.2 964.1L1743.1 963.6L1757.5 963.3L1772.3 963.1L1787.5 963L1803.1 962.9L1803.1 968.6L1787.5 968.7L1772.3 968.8L1757.5 969L1743.1 969.3L1729.2 969.8L1715.8 970.5L1702.8 971.6L1690.3 973.1L1678.3 975.3L1666.7 978.1L1655.7 981.9L1645.1 986.7L1635.1 992.7L1625.6 999.9L1616.6 1008.3L1608.2 1017.8L1600.3 1028.1L1593.1 1039.1L1586.4 1050.2L1580.4 1061L1575.1 1071.1L1570.4 1079.9L1566.5 1087.1L1563.4 1092.2L1561.3 1095.2L1560.3 1096.1Z"/><path d="M1074.7 1090L1075.7 1089.4L1077.8 1087.6L1080.9 1084.3L1084.8 1079.9L1089.5 1074.4L1094.8 1068.1L1100.8 1061.3L1107.5 1054.4L1114.7 1047.6L1122.6 1041.1L1131 1035.2L1140 1029.9L1149.5 1025.5L1159.5 1021.7L1170.1 1018.7L1181.1 1016.4L1192.7 1014.6L1204.7 1013.2L1217.2 1012.3L1230.2 1011.6L1243.6 1011.1L1257.5 1010.8L1271.9 1010.6L1286.7 1010.5L1301.9 1010.4L1317.5 1010.4L1317.5 1015.5L1301.9 1015.5L1286.7 1015.6L1271.9 1015.7L1257.5 1015.9L1243.6 1016.2L1230.2 1016.7L1217.2 1017.4L1204.7 1018.4L1192.7 1019.7L1181.1 1021.5L1170.1 1023.9L1159.5 1027L1149.5 1030.8L1140 1035.3L1131 1040.6L1122.6 1046.6L1114.7 1053.1L1107.5 1060.1L1100.8 1067.1L1094.8 1073.9L1089.5 1080.3L1084.8 1085.9L1080.9 1090.4L1077.8 1093.6L1075.7 1095.5L1074.7 1096.1Z"/><path d="M1317.5 1090L1318.5 1089.4L1320.6 1087.6L1323.7 1084.3L1327.6 1079.9L1332.3 1074.4L1337.6 1068.1L1343.6 1061.3L1350.3 1054.4L1357.5 1047.6L1365.4 1041.1L1373.8 1035.2L1382.8 1029.9L1392.3 1025.5L1402.3 1021.7L1412.9 1018.7L1423.9 1016.4L1435.5 1014.6L1447.5 1013.2L1460 1012.3L1473 1011.6L1486.4 1011.1L1500.3 1010.8L1514.7 1010.6L1529.5 1010.5L1544.7 1010.4L1560.3 1010.4L1560.3 1015.5L1544.7 1015.5L1529.5 1015.6L1514.7 1015.7L1500.3 1015.9L1486.4 1016.2L1473 1016.7L1460 1017.4L1447.5 1018.4L1435.5 1019.7L1423.9 1021.5L1412.9 1023.9L1402.3 1027L1392.3 1030.8L1382.8 1035.3L1373.8 1040.6L1365.4 1046.6L1357.5 1053.1L1350.3 1060.1L1343.6 1067.1L1337.6 1073.9L1332.3 1080.3L1327.6 1085.9L1323.7 1090.4L1320.6 1093.6L1318.5 1095.5L1317.5 1096.1Z"/><path d="M1560.3 1090L1561.3 1089.4L1563.4 1087.6L1566.5 1084.3L1570.4 1079.9L1575.1 1074.4L1580.4 1068.1L1586.4 1061.3L1593.1 1054.4L1600.3 1047.6L1608.2 1041.1L1616.6 1035.2L1625.6 1029.9L1635.1 1025.5L1645.1 1021.7L1655.7 1018.7L1666.7 1016.4L1678.3 1014.6L1690.3 1013.2L1702.8 1012.3L1715.8 1011.6L1729.2 1011.1L1743.1 1010.8L1757.5 1010.6L1772.3 1010.5L1787.5 1010.4L1803.1 1010.4L1803.1 1015.5L1787.5 1015.5L1772.3 1015.6L1757.5 1015.7L1743.1 1015.9L1729.2 1016.2L1715.8 1016.7L1702.8 1017.4L1690.3 1018.4L1678.3 1019.7L1666.7 1021.5L1655.7 1023.9L1645.1 1027L1635.1 1030.8L1625.6 1035.3L1616.6 1040.6L1608.2 1046.6L1600.3 1053.1L1593.1 1060.1L1586.4 1067.1L1580.4 1073.9L1575.1 1080.3L1570.4 1085.9L1566.5 1090.4L1563.4 1093.6L1561.3 1095.5L1560.3 1096.1Z"/><path d="M1074.7 1090L1075.7 1089.8L1077.8 1089.1L1080.9 1087.8L1084.8 1086.1L1089.5 1083.9L1094.8 1081.5L1100.8 1078.8L1107.5 1076.1L1114.7 1073.5L1122.6 1071L1131 1068.7L1140 1066.6L1149.5 1064.9L1159.5 1063.4L1170.1 1062.3L1181.1 1061.3L1192.7 1060.6L1204.7 1060.1L1217.2 1059.8L1230.2 1059.5L1243.6 1059.3L1257.5 1059.2L1271.9 1059.1L1286.7 1059.1L1301.9 1059L1317.5 1059L1317.5 1064.4L1301.9 1064.4L1286.7 1064.4L1271.9 1064.5L1257.5 1064.6L1243.6 1064.7L1230.2 1064.9L1217.2 1065.1L1204.7 1065.5L1192.7 1066.1L1181.1 1066.8L1170.1 1067.7L1159.5 1068.9L1149.5 1070.4L1140 1072.2L1131 1074.3L1122.6 1076.6L1114.7 1079.2L1107.5 1081.9L1100.8 1084.7L1094.8 1087.4L1089.5 1089.9L1084.8 1092.1L1080.9 1093.9L1077.8 1095.1L1075.7 1095.9L1074.7 1096.1Z"/><path d="M1317.5 1090L1318.5 1089.8L1320.6 1089.1L1323.7 1087.8L1327.6 1086.1L1332.3 1083.9L1337.6 1081.5L1343.6 1078.8L1350.3 1076.1L1357.5 1073.5L1365.4 1071L1373.8 1068.7L1382.8 1066.6L1392.3 1064.9L1402.3 1063.4L1412.9 1062.3L1423.9 1061.3L1435.5 1060.6L1447.5 1060.1L1460 1059.8L1473 1059.5L1486.4 1059.3L1500.3 1059.2L1514.7 1059.1L1529.5 1059.1L1544.7 1059L1560.3 1059L1560.3 1064.4L1544.7 1064.4L1529.5 1064.4L1514.7 1064.5L1500.3 1064.6L1486.4 1064.7L1473 1064.9L1460 1065.1L1447.5 1065.5L1435.5 1066.1L1423.9 1066.8L1412.9 1067.7L1402.3 1068.9L1392.3 1070.4L1382.8 1072.2L1373.8 1074.3L1365.4 1076.6L1357.5 1079.2L1350.3 1081.9L1343.6 1084.7L1337.6 1087.4L1332.3 1089.9L1327.6 1092.1L1323.7 1093.9L1320.6 1095.1L1318.5 1095.9L1317.5 1096.1Z"/><path d="M1560.3 1090L1561.3 1089.8L1563.4 1089.1L1566.5 1087.8L1570.4 1086.1L1575.1 1083.9L1580.4 1081.5L1586.4 1078.8L1593.1 1076.1L1600.3 1073.5L1608.2 1071L1616.6 1068.7L1625.6 1066.6L1635.1 1064.9L1645.1 1063.4L1655.7 1062.3L1666.7 1061.3L1678.3 1060.6L1690.3 1060.1L1702.8 1059.8L1715.8 1059.5L1729.2 1059.3L1743.1 1059.2L1757.5 1059.1L1772.3 1059.1L1787.5 1059L1803.1 1059L1803.1 1064.4L1787.5 1064.4L1772.3 1064.4L1757.5 1064.5L1743.1 1064.6L1729.2 1064.7L1715.8 1064.9L1702.8 1065.1L1690.3 1065.5L1678.3 1066.1L1666.7 1066.8L1655.7 1067.7L1645.1 1068.9L1635.1 1070.4L1625.6 1072.2L1616.6 1074.3L1608.2 1076.6L1600.3 1079.2L1593.1 1081.9L1586.4 1084.7L1580.4 1087.4L1575.1 1089.9L1570.4 1092.1L1566.5 1093.9L1563.4 1095.1L1561.3 1095.9L1560.3 1096.1Z"/></g><path d="M1262.4 933.9V1126.1M1259.2 934.4H1262.4M1259.2 940.8H1262.4M1259.2 947.1H1262.4M1259.2 953.5H1262.4M1259.2 959.9H1262.4M1259.2 966.3H1262.4M1259.2 972.6H1262.4M1259.2 979H1262.4M1259.2 985.4H1262.4M1259.2 991.8H1262.4M1259.2 998.1H1262.4M1259.2 1004.5H1262.4M1259.2 1010.9H1262.4M1259.2 1017.3H1262.4M1259.2 1023.6H1262.4M1259.2 1030H1262.4M1259.2 1036.4H1262.4M1259.2 1042.7H1262.4M1259.2 1049.1H1262.4M1259.2 1055.5H1262.4M1259.2 1061.9H1262.4M1259.2 1068.2H1262.4M1259.2 1074.6H1262.4M1259.2 1081H1262.4M1259.2 1087.4H1262.4M1259.2 1093.7H1262.4M1259.2 1100.1H1262.4M1259.2 1106.5H1262.4M1259.2 1112.9H1262.4M1259.2 1119.2H1262.4M1259.2 1125.6H1262.4M1256.1 934.4H1262.9M1256.1 998.1H1262.9M1256.1 1061.9H1262.9M1256.1 1125.6H1262.9" fill="none" stroke="#303030" stroke-width="1.15"/><text x="1252.8" y="938.9" font-size="13.1" text-anchor="end">35.5</text><text x="1252.8" y="1002.6" font-size="13.1" text-anchor="end">7.12</text><text x="1252.8" y="1066.4" font-size="13.1" text-anchor="end">-21.2</text><text x="1252.8" y="1130.1" font-size="13.1" text-anchor="end">-49.6</text><text transform="translate(1217.6 1030) rotate(-90)" class="r" font-size="13.1" text-anchor="middle">(Q) Amplitude (mV)</text><path d="M1269.7 1130.5H1756.3M1270.2 1130.5V1136.1M1282.3 1130.5V1133.5M1294.5 1130.5V1133.5M1306.6 1130.5V1133.5M1318.8 1130.5V1133.5M1330.9 1130.5V1133.5M1343 1130.5V1133.5M1355.2 1130.5V1133.5M1367.3 1130.5V1133.5M1379.5 1130.5V1133.5M1391.6 1130.5V1136.1M1403.7 1130.5V1133.5M1415.9 1130.5V1133.5M1428 1130.5V1133.5M1440.2 1130.5V1133.5M1452.3 1130.5V1133.5M1464.4 1130.5V1133.5M1476.6 1130.5V1133.5M1488.7 1130.5V1133.5M1500.9 1130.5V1133.5M1513 1130.5V1136.1M1525.1 1130.5V1133.5M1537.3 1130.5V1133.5M1549.4 1130.5V1133.5M1561.6 1130.5V1133.5M1573.7 1130.5V1133.5M1585.8 1130.5V1133.5M1598 1130.5V1133.5M1610.1 1130.5V1133.5M1622.3 1130.5V1133.5M1634.4 1130.5V1136.1M1646.5 1130.5V1133.5M1658.7 1130.5V1133.5M1670.8 1130.5V1133.5M1683 1130.5V1133.5M1695.1 1130.5V1133.5M1707.2 1130.5V1133.5M1719.4 1130.5V1133.5M1731.5 1130.5V1133.5M1743.7 1130.5V1133.5M1755.8 1130.5V1136.1" fill="none" stroke="#303030" stroke-width="1.15"/><text x="1270.2" y="1147.3" font-size="13.1" text-anchor="middle">0.0</text><text x="1391.6" y="1147.3" font-size="13.1" text-anchor="middle">5.0</text><text x="1513" y="1147.3" font-size="13.1" text-anchor="middle">10.0</text><text x="1634.4" y="1147.3" font-size="13.1" text-anchor="middle">15.0</text><text x="1755.8" y="1147.3" font-size="13.1" text-anchor="middle">20.0</text><text x="1512.1" y="1161.4" font-size="13.1" text-anchor="middle">time (ps)</text><text x="881.9" y="239.7" font-size="22.5" text-anchor="start" class="t">51.4mV</text><path d="M986 168.7V289.3" stroke="#000" stroke-width="2.2" fill="none"/><path d="M986 162.1L990.6 171.5L986 169.4L981.4 171.5Z"/><path d="M986 295.9L990.6 286.5L986 288.6L981.4 286.5Z"/><text x="1483.9" y="237.4" font-size="23" text-anchor="start" class="t">44.36mV</text><path d="M1590.1 182.3V285.7" stroke="#000" stroke-width="2.2" fill="none"/><path d="M1590.1 175.7L1594.7 185.1L1590.1 183L1585.5 185.1Z"/><path d="M1590.1 292.3L1594.7 282.9L1590.1 285L1585.5 282.9Z"/><rect x="853.7" y="763.8" width="91.8" height="17.2" fill="#fff"/><text x="863.8" y="779" font-size="22.53" text-anchor="start" class="t">17.8mV</text><path d="M951.6 760.4V782.2" stroke="#000" stroke-width="2.2" fill="none"/><path d="M951.6 754.4L956.2 763L951.6 761.1L947 763Z"/><path d="M951.6 788.2L956.2 779.6L951.6 781.5L947 779.6Z"/><rect x="1458.7" y="763.8" width="94.3" height="23.4" fill="#fff"/><text x="1468.7" y="781.8" font-size="22.47" text-anchor="start" class="t">15.3mV</text><path d="M1559.7 764.3V782.2" stroke="#000" stroke-width="2.2" fill="none"/><path d="M1559.7 758.3L1564.3 766.9L1559.7 765L1555.1 766.9Z"/><path d="M1559.7 788.2L1564.3 779.6L1559.7 781.5L1555.1 779.6Z"/><rect x="610.7" y="4.4" width="586.8" height="92.4" fill="#fff" stroke="#3f3f3f" stroke-width="2.6"/><rect x="599" y="591.1" width="586.8" height="92.5" fill="#fff" stroke="#3f3f3f" stroke-width="2.6"/><text class="t" font-size="28.7"><tspan x="679.6" y="42.2">(a) 4-Offset-QAM (A</tspan><tspan x="946.9" y="46.6" class="s" font-size="18.8" font-weight="normal">0</tspan><tspan x="956.7" y="42.2">/A</tspan><tspan x="986.2" y="46.6" class="s" font-size="18.8" font-weight="normal">OMA</tspan><tspan x="1036.6" y="42.2">= 0.1)</tspan></text><text class="t" font-size="28.7"><tspan x="668.9" y="629.1">(b) 16-Offset-QAM (A</tspan><tspan x="953.7" y="633.5" class="s" font-size="18.8" font-weight="normal">0</tspan><tspan x="963.5" y="629.1">/A</tspan><tspan x="993" y="633.5" class="s" font-size="18.8" font-weight="normal">OMA</tspan><tspan x="1043.4" y="629.1">= 0.1)</tspan></text><text x="619.5" y="77" font-size="28.73" text-anchor="start" class="t">CPR BW = 216kHz, Δv = 1MHz, ΔL = 10cm</text><text x="608.3" y="663.6" font-size="28.73" text-anchor="start" class="t">CPR BW = 216kHz, Δv = 1MHz, ΔL = 10cm</text><text x="233.7" y="127.6" font-size="28.6" text-anchor="start" class="t">Without CPR</text><text x="678.2" y="130.4" font-size="28.67" text-anchor="start" class="t">With CPR, without Phase Noise</text><text x="1303.6" y="127.9" font-size="28.6" text-anchor="start" class="t">With CPR, with Phase Noise</text><text x="230.3" y="721.1" font-size="28.6" text-anchor="start" class="t">Without CPR</text><text x="684.1" y="724.8" font-size="28.67" text-anchor="start" class="t">With CPR, without Phase Noise</text><text x="1300.3" y="721" font-size="28.64" text-anchor="start" class="t">With CPR, with Phase Noise</text></svg></body></html>
